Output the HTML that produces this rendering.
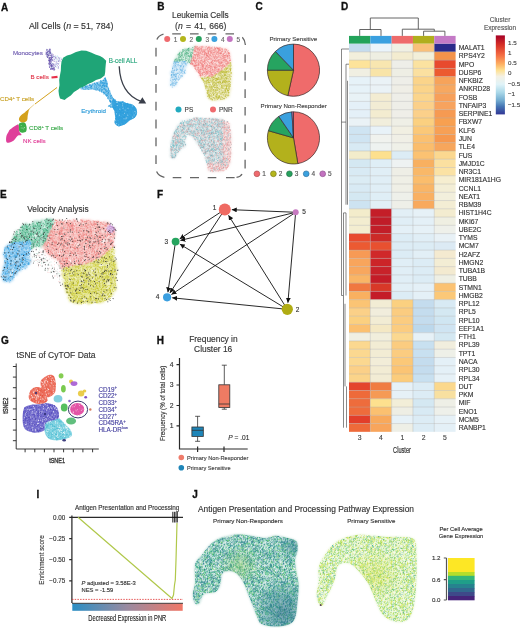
<!DOCTYPE html>
<html><head><meta charset="utf-8"><style>
html,body{margin:0;padding:0;background:#fff;width:520px;height:628px;overflow:hidden;}
svg{display:block;will-change:transform;}
text{font-family:"Liberation Sans", sans-serif;}
</style></head><body>
<svg width="520" height="628" viewBox="0 0 520 628" font-family='"Liberation Sans", sans-serif'>
<rect width="520" height="628" fill="#fff"/>
<defs><filter id="bl1" x="-10%" y="-10%" width="120%" height="120%"><feGaussianBlur stdDeviation="0.8"/></filter><filter id="bl2" x="-10%" y="-10%" width="120%" height="120%"><feGaussianBlur stdDeviation="0.5"/></filter></defs>
<text x="1" y="10.5" font-size="10" fill="#111" text-anchor="start" font-weight="bold" font-style="normal" stroke="#111" stroke-width="0.3">A</text>
<text x="157.3" y="10.2" font-size="10" fill="#111" text-anchor="start" font-weight="bold" font-style="normal" stroke="#111" stroke-width="0.3">B</text>
<text x="255.4" y="10.4" font-size="10" fill="#111" text-anchor="start" font-weight="bold" font-style="normal" stroke="#111" stroke-width="0.3">C</text>
<text x="341" y="10.2" font-size="10" fill="#111" text-anchor="start" font-weight="bold" font-style="normal" stroke="#111" stroke-width="0.3">D</text>
<text x="0" y="197.5" font-size="10" fill="#111" text-anchor="start" font-weight="bold" font-style="normal" stroke="#111" stroke-width="0.3">E</text>
<text x="157" y="198" font-size="10" fill="#111" text-anchor="start" font-weight="bold" font-style="normal" stroke="#111" stroke-width="0.3">F</text>
<text x="1" y="343.7" font-size="10" fill="#111" text-anchor="start" font-weight="bold" font-style="normal" stroke="#111" stroke-width="0.3">G</text>
<text x="156.7" y="343.5" font-size="10" fill="#111" text-anchor="start" font-weight="bold" font-style="normal" stroke="#111" stroke-width="0.3">H</text>
<text x="36.5" y="497.5" font-size="10" fill="#111" text-anchor="start" font-weight="bold" font-style="normal" stroke="#111" stroke-width="0.3">I</text>
<text x="192.2" y="498" font-size="10" fill="#111" text-anchor="start" font-weight="bold" font-style="normal" stroke="#111" stroke-width="0.3">J</text>
<text x="29" y="28.8" font-size="8.8" fill="#333" text-anchor="start" font-weight="normal" font-style="normal"  stroke="#333" stroke-width="0.14">All Cells (<tspan font-style="italic">n</tspan> = 51, 784)</text>
<path d="M52.8 65.3h0M58.7 61.5h0M49.3 57.8h0M54.0 68.5h0M58.6 57.7h0M53.9 70.1h0M54.5 67.4h0M54.6 69.6h0M48.8 55.0h0M48.4 60.1h0M55.6 66.5h0M49.4 57.3h0M52.5 54.1h0M56.7 58.1h0M58.9 60.9h0M49.6 64.5h0M47.5 49.5h0M48.2 51.3h0M60.1 61.0h0M53.2 54.7h0M53.3 56.4h0M51.6 58.9h0M57.8 63.7h0M50.6 60.4h0M52.9 60.4h0M50.8 63.6h0M50.2 62.8h0M54.1 56.9h0M55.5 57.5h0M51.9 60.9h0M54.3 61.3h0M59.2 58.4h0M54.6 59.3h0M54.3 56.5h0M50.7 60.2h0M50.1 62.0h0M52.3 68.9h0M51.6 65.1h0M51.0 68.9h0" stroke="#7a62b8" stroke-width="0.9" stroke-linecap="round" stroke-opacity="0.8" fill="none"/>
<path d="M53.7 68.2h0M54.3 65.3h0M49.3 58.7h0M55.9 64.4h0M61.5 59.6h0M50.7 61.5h0M51.8 64.6h0M61.1 59.1h0M53.9 59.2h0M54.5 65.8h0M58.6 66.5h0M53.1 65.1h0M56.4 62.8h0M53.1 55.7h0M47.6 55.4h0M56.0 63.8h0M49.4 62.8h0M57.1 59.7h0M53.7 69.1h0M50.6 59.5h0M55.7 57.4h0M46.1 53.0h0M58.4 64.3h0M55.7 65.7h0M54.9 69.5h0M59.4 58.1h0M58.8 60.5h0M54.7 64.2h0M55.4 58.5h0M50.9 61.8h0M49.8 50.4h0M51.3 53.6h0M49.3 66.3h0M54.1 68.7h0M57.3 63.2h0M58.3 63.5h0M52.2 56.0h0M53.6 66.0h0M47.8 54.3h0M58.1 67.9h0M57.4 65.7h0M56.8 64.3h0M49.7 67.2h0M52.2 68.5h0M55.9 61.9h0M49.0 55.4h0M58.2 61.1h0M53.9 61.1h0M59.2 59.8h0M56.7 61.3h0M58.3 57.3h0M59.2 59.2h0M46.9 50.1h0M52.1 57.4h0M58.5 67.6h0M58.3 68.2h0M50.7 50.9h0M55.7 56.1h0M47.3 57.4h0" stroke="#9a88d0" stroke-width="0.9" stroke-linecap="round" stroke-opacity="0.8" fill="none"/>
<path d="M53.8 58.4h0M54.7 56.2h0M60.7 57.7h0M47.7 55.9h0M59.4 59.7h0M59.5 59.1h0M51.7 67.9h0M52.3 56.1h0M51.5 68.5h0M52.0 67.4h0M49.5 52.5h0M48.7 50.6h0M49.8 51.0h0M57.1 63.5h0M56.7 66.2h0M54.8 67.2h0M49.0 50.8h0M51.3 53.3h0M47.4 56.9h0M51.3 67.9h0M54.4 65.4h0M47.9 52.2h0M49.2 65.2h0M46.4 53.8h0M48.5 53.9h0M47.6 53.3h0M58.3 68.1h0M46.5 52.7h0M51.2 60.5h0M46.9 50.2h0M51.1 59.8h0M47.8 53.1h0M50.9 68.4h0M58.8 60.6h0M56.9 61.3h0M52.2 57.4h0M48.7 55.5h0M57.3 56.0h0M56.2 56.7h0M50.6 55.2h0M51.8 64.0h0M49.8 53.4h0M52.0 67.1h0M59.4 63.0h0M49.1 54.8h0M50.6 63.4h0M52.8 63.4h0M57.4 56.3h0M52.2 65.7h0M56.0 64.4h0M55.5 59.9h0M57.1 58.4h0M51.2 62.2h0M59.4 65.4h0M58.7 57.6h0M52.3 63.7h0M54.2 56.7h0M50.6 64.7h0M56.4 67.3h0M61.5 58.3h0M47.7 53.1h0M56.8 59.4h0" stroke="#b8e0f0" stroke-width="0.9" stroke-linecap="round" stroke-opacity="0.8" fill="none"/>
<path d="M49.7 67.3h0M51.2 66.0h0M52.8 63.8h0M51.4 62.1h0M51.2 66.8h0M46.3 52.8h0M47.8 55.0h0M49.3 60.7h0M51.9 55.5h0M48.7 55.4h0M46.8 54.0h0M50.0 63.5h0M48.6 55.1h0M47.4 52.0h0M51.1 54.7h0M49.3 54.1h0M48.5 51.6h0M51.5 56.9h0M51.5 59.2h0M51.5 58.3h0M48.6 63.2h0M51.3 66.2h0M50.8 55.5h0M47.0 56.3h0M49.7 50.2h0M47.8 51.7h0M51.3 56.7h0M49.9 52.5h0M52.3 60.3h0M53.1 63.9h0M49.7 62.3h0M52.7 68.8h0M50.8 63.7h0M49.0 60.4h0M46.8 50.6h0M51.1 68.9h0M46.1 52.0h0M50.4 53.4h0M52.2 66.4h0M48.5 55.5h0M50.5 64.0h0M49.3 63.6h0M47.1 52.6h0M49.5 61.8h0M52.2 57.5h0M51.8 65.4h0M49.3 64.4h0M50.2 59.5h0M49.3 49.7h0M51.3 66.3h0M50.5 63.2h0M51.5 65.0h0M45.9 54.0h0M49.5 59.1h0M52.8 68.5h0" stroke="#6a50b0" stroke-width="0.9" stroke-linecap="round" stroke-opacity="0.85" fill="none"/>
<path d="M49.7 60.9h0M50.9 57.3h0M51.0 65.6h0M51.5 58.6h0M52.4 57.4h0M52.4 57.8h0M50.0 61.2h0M50.9 68.8h0M53.4 64.5h0M47.5 52.3h0M51.9 69.4h0M51.6 54.8h0M49.7 49.1h0M47.3 54.6h0M51.1 65.2h0M52.7 69.3h0M54.2 69.0h0M53.6 67.3h0M50.1 49.4h0M50.5 65.4h0M51.7 68.7h0M49.9 51.4h0M53.5 69.1h0M50.3 51.0h0M51.7 55.7h0M50.4 58.2h0M48.0 50.7h0M53.0 66.2h0M51.1 68.4h0M47.3 52.1h0M49.8 65.3h0M49.2 57.9h0M47.5 57.5h0M53.3 68.5h0M52.2 65.6h0M48.4 53.3h0M50.7 60.3h0M48.0 54.6h0M50.9 58.0h0M48.5 60.2h0M51.4 60.9h0" stroke="#7c64bc" stroke-width="0.9" stroke-linecap="round" stroke-opacity="0.85" fill="none"/>
<path d="M49.6 51.7h0M49.6 67.0h0M50.2 49.3h0M49.2 50.2h0M49.6 52.8h0M47.6 54.5h0M47.6 57.2h0M46.4 53.2h0M49.0 58.5h0M54.0 67.9h0M49.2 57.8h0M50.0 60.0h0M49.9 62.9h0M47.3 56.7h0M51.3 59.2h0M52.1 68.3h0M49.7 58.7h0M49.9 53.6h0M49.0 51.7h0M52.9 57.0h0M50.0 55.5h0M50.4 69.3h0M49.0 61.1h0M54.2 70.0h0M52.0 67.0h0M49.6 60.8h0M50.6 52.2h0M48.5 56.9h0M50.7 53.0h0M50.2 57.4h0M50.1 61.4h0M51.2 64.3h0M51.2 66.7h0M47.2 53.1h0M48.9 64.0h0M52.3 59.6h0M46.7 49.4h0M50.7 52.8h0M46.9 55.8h0M46.2 54.6h0M51.8 65.3h0M50.5 59.7h0M49.4 60.1h0M51.2 57.6h0" stroke="#5a4aa0" stroke-width="0.9" stroke-linecap="round" stroke-opacity="0.85" fill="none"/>
<path d="M80.0,88.5 C80.8,87.6 86.1,85.8 89.2,84.6 C92.3,83.4 96.1,82.4 98.5,81.5 C100.9,80.6 102.6,80.0 103.8,79.2 C105.0,78.4 104.9,76.5 105.4,76.9 C105.9,77.3 106.4,79.7 106.9,81.5 C107.4,83.3 107.8,85.8 108.5,87.7 C109.2,89.6 110.0,91.3 110.8,93.0 C111.5,94.7 112.0,96.3 113.0,97.7 C114.0,99.1 115.3,100.9 117.0,101.5 C118.7,102.1 121.5,101.2 123.0,101.5 C124.5,101.8 124.5,102.5 126.0,103.0 C127.5,103.5 130.6,103.7 132.3,104.6 C134.0,105.5 135.4,107.0 136.2,108.5 C137.0,110.0 137.3,112.3 137.0,113.8 C136.7,115.3 135.9,116.5 134.6,117.7 C133.3,118.9 130.9,119.7 129.2,120.8 C127.5,121.9 126.4,123.7 124.6,124.6 C122.8,125.5 120.2,126.5 118.5,126.2 C116.8,125.9 115.1,124.4 114.6,123.0 C114.1,121.6 115.4,119.6 115.4,117.7 C115.4,115.8 115.1,113.2 114.6,111.5 C114.1,109.8 113.4,108.6 112.3,107.7 C111.2,106.8 108.0,106.9 107.7,106.2 C107.5,105.5 111.0,105.5 110.8,103.8 C110.5,102.1 108.0,98.2 106.2,96.2 C104.4,94.2 102.3,92.7 100.0,91.5 C97.7,90.3 94.9,89.5 92.3,89.2 C89.7,89.0 86.6,90.1 84.6,90.0 C82.5,89.9 79.2,89.4 80.0,88.5Z" fill="#2b9ddc" fill-opacity="0.45" />
<path d="M105.4 90.1h0M89.4 85.6h0M133.2 107.6h0M132.2 114.1h0M115.1 113.5h0M119.2 118.2h0M109.2 105.5h0M127.9 110.1h0M130.7 107.1h0M102.5 82.9h0M115.2 100.1h0M121.5 105.3h0M124.6 105.2h0M120.7 121.9h0M123.4 118.9h0M126.5 114.7h0M127.5 112.4h0M106.5 91.4h0M128.5 104.7h0M124.9 119.1h0M95.6 84.7h0M105.1 81.2h0M116.9 107.0h0M118.5 102.1h0M132.3 114.5h0M106.4 91.3h0M116.3 113.1h0M115.1 109.4h0M128.4 119.1h0M101.7 87.5h0M91.8 88.8h0M115.1 108.8h0M104.4 88.7h0M88.3 89.3h0M122.6 122.5h0M100.5 82.6h0M112.5 100.2h0M106.4 86.7h0M86.2 86.3h0M134.6 113.0h0M122.5 116.6h0M129.9 109.8h0M92.9 83.8h0M133.1 117.9h0M119.3 118.0h0M126.7 118.7h0M89.0 87.7h0M122.0 110.4h0M125.1 121.1h0M120.8 103.7h0M127.0 107.7h0M119.4 120.1h0M116.1 105.0h0M132.6 108.2h0M107.3 84.4h0M106.8 92.9h0M121.6 117.7h0M125.0 123.1h0M113.8 107.8h0M122.9 113.6h0M123.2 119.5h0M98.5 87.7h0M129.7 112.1h0M111.5 104.2h0M130.2 117.6h0M130.2 105.6h0M108.4 94.1h0M109.9 101.1h0M114.2 105.4h0M128.5 120.0h0M111.4 107.2h0M122.7 113.3h0M122.6 106.8h0M101.6 83.7h0M120.3 117.1h0M110.2 93.5h0M123.8 122.2h0M86.8 87.3h0M124.9 109.6h0M122.2 108.3h0M97.1 83.9h0M90.7 87.5h0M109.9 91.0h0M115.4 100.1h0M116.8 103.3h0M104.1 82.8h0M124.6 120.8h0M120.1 106.1h0M115.0 112.6h0M119.9 114.5h0M118.0 105.7h0M120.0 122.9h0M91.6 86.1h0M102.2 87.1h0M110.6 100.9h0M85.4 89.1h0M127.5 103.4h0M125.1 118.6h0M123.6 113.6h0M129.4 107.3h0M118.9 119.2h0M118.3 108.3h0M108.2 88.1h0M99.0 85.2h0M107.7 87.0h0M132.9 109.8h0M118.0 125.6h0M104.1 82.6h0M118.7 112.1h0M133.5 108.2h0M115.3 114.8h0M108.0 97.9h0M96.8 85.7h0M122.3 110.7h0M129.8 118.9h0M102.0 87.2h0M126.2 121.0h0M105.4 83.3h0M116.5 115.7h0M120.1 103.3h0M105.4 89.1h0M131.4 112.7h0M120.1 102.6h0M101.8 92.0h0M120.5 113.6h0M103.5 85.8h0M122.4 115.6h0M116.4 116.6h0M124.7 107.6h0M116.4 103.6h0M127.8 106.6h0M123.1 112.3h0M121.2 112.1h0M101.1 88.9h0M100.6 85.2h0M122.7 105.7h0M115.9 110.6h0M128.1 119.5h0M128.3 104.2h0M105.6 82.3h0M120.2 111.8h0M134.2 107.2h0M121.0 117.6h0M85.7 86.7h0M107.3 95.3h0M132.6 106.6h0M102.9 83.1h0M117.4 119.7h0M115.4 107.4h0M107.4 91.6h0M130.0 113.0h0M129.3 107.2h0M104.0 83.8h0M133.1 111.2h0M116.6 122.5h0M131.2 115.8h0M99.6 86.9h0M123.4 123.7h0M112.8 107.1h0M124.3 105.1h0M111.2 98.2h0M130.0 108.8h0M128.4 104.7h0M99.7 91.2h0M120.2 103.3h0M123.3 112.6h0M128.8 115.3h0M108.6 92.9h0M107.5 95.8h0M121.4 115.0h0M100.2 83.5h0M101.6 81.5h0M104.5 83.6h0M116.9 103.9h0M104.1 79.1h0M97.3 84.1h0M119.7 107.6h0M121.0 120.8h0M94.5 83.4h0M94.7 86.1h0M104.7 83.5h0M135.9 109.1h0M120.0 114.8h0M125.4 103.4h0M126.9 112.3h0M116.7 113.0h0M118.7 108.1h0M96.7 86.5h0M124.1 117.1h0M112.2 101.5h0M130.3 110.2h0M97.5 83.0h0M105.6 78.4h0M116.9 110.8h0M104.3 93.2h0M117.1 117.8h0M125.8 122.3h0M133.3 115.4h0M106.2 91.8h0M117.7 117.8h0M123.5 103.9h0M102.4 85.6h0M118.4 106.9h0M121.3 103.0h0M116.4 109.3h0M106.2 90.0h0M108.4 96.7h0M85.5 86.7h0M115.1 100.9h0M113.5 98.8h0M82.5 88.0h0M127.5 112.0h0M123.0 101.9h0M132.1 115.7h0M105.2 83.2h0M106.3 95.3h0M130.2 104.2h0M128.5 107.9h0M101.1 86.4h0M129.3 107.5h0M121.0 112.0h0M109.0 106.3h0M126.1 112.7h0M127.2 106.4h0M102.8 82.8h0M119.3 123.0h0M130.3 104.9h0M111.9 103.3h0M132.6 116.9h0M122.7 105.2h0M106.4 86.2h0M127.4 104.4h0M104.9 93.3h0M126.9 105.3h0M134.6 115.3h0M116.2 117.1h0M127.5 119.3h0M92.8 88.1h0M91.5 86.8h0M115.5 108.1h0M115.2 103.7h0M119.8 115.8h0M102.9 84.7h0M124.8 115.3h0M120.4 125.0h0M131.6 113.3h0M103.9 86.9h0M90.1 85.2h0M131.7 118.1h0M102.0 87.3h0M134.3 107.4h0M113.0 98.4h0M110.0 101.7h0M100.6 82.1h0M121.0 111.3h0M122.9 110.5h0M104.8 86.1h0M111.6 96.3h0M103.8 91.4h0M108.5 92.5h0M108.5 89.8h0M104.7 93.2h0M123.3 116.9h0M104.4 86.0h0M132.8 106.6h0M129.3 118.1h0M123.9 120.4h0M122.6 102.3h0M107.5 93.5h0M130.3 116.7h0M122.9 101.5h0M99.9 85.4h0M103.1 82.1h0M120.3 111.6h0M135.9 112.7h0M106.7 95.7h0M91.1 86.6h0M108.0 95.0h0M120.7 111.9h0M127.6 116.4h0M103.3 85.5h0M115.7 120.8h0M128.3 113.7h0M109.0 91.1h0M131.3 111.4h0M122.1 104.6h0" stroke="#2b9ddc" stroke-width="1.0" stroke-linecap="round" stroke-opacity="0.75" fill="none"/>
<path d="M125.4 113.1h0M110.2 101.1h0M119.4 122.9h0M96.9 88.3h0M135.4 114.4h0M123.3 123.2h0M125.4 109.1h0M106.1 85.1h0M102.5 85.5h0M135.3 115.5h0M105.3 90.3h0M115.1 107.8h0M101.5 91.6h0M107.9 90.7h0M112.4 97.2h0M122.6 120.9h0M124.0 111.1h0M115.1 105.5h0M132.1 108.7h0M116.7 104.6h0M134.0 108.2h0M110.8 107.0h0M127.1 110.1h0M106.8 86.2h0M122.3 118.0h0M120.7 124.7h0M118.2 109.8h0M114.1 100.8h0M84.9 87.4h0M130.7 112.0h0M132.8 109.1h0M86.1 88.3h0M100.1 88.8h0M116.8 114.6h0M104.7 86.4h0M95.3 90.0h0M112.1 101.5h0M110.0 105.2h0M110.7 104.7h0M110.8 102.7h0M104.9 78.4h0M108.6 89.5h0M134.6 108.7h0M117.2 114.3h0M124.1 110.8h0M91.4 88.8h0M104.9 89.1h0M118.1 121.5h0M124.6 116.9h0M87.1 86.1h0M121.1 110.4h0M117.5 115.3h0M120.1 117.6h0M101.4 90.2h0M91.3 86.7h0M103.5 80.4h0M104.3 88.6h0M121.5 121.8h0M126.2 121.9h0M119.1 109.5h0M133.9 107.2h0M114.8 105.6h0M102.8 89.4h0M106.0 80.9h0M89.0 89.4h0M99.6 89.8h0M125.4 115.2h0M113.5 107.8h0M110.4 96.5h0M131.7 110.9h0M124.6 117.4h0M109.4 100.3h0M113.3 99.8h0M131.7 105.9h0M106.4 83.7h0M121.7 120.0h0M103.5 84.8h0M102.4 85.8h0M120.9 108.3h0M134.8 109.7h0M103.5 92.5h0M109.0 106.0h0M121.8 104.4h0M119.9 115.4h0M115.1 106.6h0M106.3 90.0h0M132.6 114.8h0M125.5 105.3h0M112.9 104.0h0M121.8 108.9h0M115.7 102.9h0M122.3 110.1h0M129.9 109.9h0M108.9 93.2h0M130.9 118.6h0M131.0 107.5h0M126.7 107.7h0M100.9 81.1h0M105.6 80.5h0M108.7 88.4h0M126.4 116.0h0M118.7 112.9h0M104.6 78.3h0M99.1 90.2h0M122.6 107.3h0M119.2 118.9h0M113.7 99.5h0M129.6 119.1h0M107.4 95.2h0M115.3 111.1h0M134.9 116.2h0M117.5 125.0h0M102.7 82.8h0M104.1 80.3h0M126.3 119.3h0M97.7 83.3h0M135.5 111.5h0M121.5 108.1h0M100.4 80.7h0M120.6 114.7h0M121.3 120.5h0M127.0 106.8h0M114.3 109.7h0M103.6 88.8h0M120.4 103.4h0M125.1 104.9h0M115.8 115.9h0M106.6 83.3h0M124.0 117.1h0M118.0 123.7h0M124.3 112.6h0M119.0 125.9h0M95.6 84.2h0M127.0 103.8h0M92.9 84.8h0M136.3 113.4h0M90.6 88.9h0M97.0 83.4h0M118.4 119.4h0M122.5 124.4h0M94.8 89.4h0M108.2 91.9h0M98.4 84.8h0M100.7 85.9h0M117.6 104.1h0M119.6 110.7h0M105.7 79.8h0M112.7 107.0h0M114.8 101.7h0M122.0 112.7h0M94.7 83.4h0M109.0 98.0h0M117.3 122.1h0M104.1 84.1h0M123.3 118.1h0M117.4 115.9h0M116.9 117.9h0M105.7 79.6h0M96.4 87.6h0M125.1 120.2h0M125.8 119.2h0M130.8 116.3h0M124.0 112.8h0M119.7 120.7h0M125.9 106.4h0M111.7 95.4h0M135.6 110.1h0M117.9 108.5h0M113.3 100.7h0M96.8 90.3h0M106.4 94.8h0M116.3 112.4h0M115.6 118.7h0M82.5 87.6h0M119.7 102.7h0M121.4 113.4h0M105.8 81.2h0M122.7 118.8h0M128.4 111.9h0M117.5 121.7h0M123.7 117.2h0M120.0 125.4h0M121.4 104.2h0M91.3 86.1h0M124.3 114.2h0M116.3 104.4h0M119.5 110.5h0M125.1 119.8h0M116.0 118.2h0M101.3 82.6h0M121.7 106.3h0M127.4 109.5h0M117.3 122.4h0M112.1 106.1h0M120.3 112.5h0M122.7 120.2h0M126.4 120.2h0M110.7 101.8h0M120.1 102.9h0M119.0 112.1h0M90.1 85.0h0M116.0 113.1h0M128.7 110.5h0M90.7 85.8h0M118.6 123.8h0M122.9 121.9h0M118.9 125.6h0M114.7 107.7h0M97.6 88.7h0M106.4 85.0h0M117.6 117.0h0M124.1 118.5h0M119.9 112.5h0M117.6 124.3h0M133.6 109.0h0M133.1 109.8h0M97.7 89.3h0M94.6 87.8h0M127.4 112.5h0M116.6 119.5h0M115.4 114.7h0M118.0 101.7h0M124.8 120.8h0M129.5 115.7h0M107.4 83.7h0M103.6 80.5h0M122.6 108.0h0M104.5 88.8h0M121.5 110.7h0M105.7 94.3h0M99.9 90.7h0M113.8 99.5h0M119.1 109.8h0M106.0 95.2h0M116.3 105.8h0M83.2 88.0h0M119.6 121.9h0M127.1 110.4h0M127.5 104.9h0M121.9 122.4h0M110.5 106.8h0M123.3 116.6h0M123.4 104.9h0M110.9 101.8h0M127.5 106.2h0M81.9 87.7h0M103.8 94.0h0M85.6 86.3h0M91.6 86.0h0M93.2 89.3h0M103.2 83.7h0M110.8 98.3h0M108.1 92.8h0M113.9 99.2h0M131.1 113.5h0M105.4 79.1h0M124.4 109.0h0M104.8 86.9h0M134.5 114.4h0M99.0 85.8h0M88.9 87.6h0M110.6 100.9h0M127.4 106.6h0M102.1 90.0h0M124.6 106.1h0M107.5 98.2h0M109.2 94.9h0M130.0 116.6h0M104.9 85.9h0M124.6 107.3h0M123.4 120.2h0M120.7 118.9h0M95.2 89.2h0M124.9 116.3h0M116.8 106.4h0M104.8 85.4h0M119.1 117.1h0M110.6 101.4h0M128.4 114.6h0M125.8 116.1h0M119.0 114.3h0M106.0 86.8h0M124.7 108.4h0M89.3 85.3h0M125.5 104.1h0M103.7 92.4h0M90.9 87.5h0M94.3 83.2h0M119.0 110.0h0M113.3 106.8h0M115.3 120.6h0M125.0 114.1h0M101.9 90.0h0M128.6 117.1h0M111.0 95.3h0M124.4 112.3h0M123.1 108.5h0M116.4 112.4h0" stroke="#1a90d8" stroke-width="1.0" stroke-linecap="round" stroke-opacity="0.75" fill="none"/>
<path d="M127.6 113.2h0M116.4 116.5h0M134.6 111.7h0M112.0 101.9h0M116.2 102.0h0M115.6 116.4h0M110.5 95.6h0M110.0 100.4h0M125.8 122.9h0M114.0 103.9h0M118.7 122.2h0M96.9 88.3h0M98.7 89.2h0M103.0 87.6h0M113.1 101.0h0M104.8 89.4h0M127.7 109.4h0M99.1 90.1h0M121.0 106.2h0M119.3 123.7h0M120.2 108.1h0M130.1 113.0h0M102.2 90.9h0M94.0 88.7h0M114.1 105.9h0M115.5 119.2h0M120.1 111.4h0M126.7 118.8h0M110.7 96.2h0M129.8 106.1h0M130.5 106.6h0M124.6 105.5h0M116.6 103.6h0M133.9 106.4h0M135.7 108.3h0M95.4 87.7h0M134.3 117.4h0M100.6 82.3h0M131.2 113.7h0M115.1 114.7h0M122.1 121.9h0M99.9 84.1h0M110.0 100.6h0M129.9 108.4h0M129.2 105.9h0M123.7 113.4h0M90.3 86.7h0M121.9 122.1h0M123.9 121.8h0M124.2 110.3h0M122.0 108.1h0M117.7 107.5h0M87.4 88.6h0M106.2 81.3h0M116.8 124.2h0M108.6 89.2h0M128.3 114.8h0M117.9 110.0h0M92.4 84.9h0M130.6 117.0h0M91.4 88.1h0M121.4 109.8h0M103.9 88.7h0M103.8 89.0h0M83.8 89.2h0M112.3 102.5h0M124.7 105.0h0M119.7 120.7h0M134.0 110.9h0M117.3 114.4h0M130.1 106.3h0M127.5 121.3h0M125.7 110.3h0M120.2 117.1h0M123.0 101.7h0M127.6 107.1h0M121.3 104.3h0M122.2 122.0h0M103.5 84.2h0M121.7 114.3h0M106.4 80.4h0M105.5 92.1h0M116.7 118.5h0M126.9 106.1h0M106.1 85.1h0M136.0 111.6h0M131.6 117.3h0M107.2 85.9h0M126.7 103.9h0M121.3 118.5h0M122.6 108.4h0M109.0 99.0h0M96.3 85.2h0M123.4 111.6h0M124.3 120.0h0M125.0 111.8h0M115.6 110.0h0M118.4 118.3h0M96.0 85.5h0M117.0 102.4h0M135.9 112.1h0M131.7 105.3h0M116.4 101.4h0M117.2 117.0h0M129.3 104.5h0M118.4 118.4h0M121.8 115.7h0M106.9 81.9h0M128.5 106.2h0M97.0 85.3h0M112.5 101.9h0M116.6 107.6h0M126.4 113.8h0M121.8 112.8h0M109.1 96.2h0M105.0 80.8h0M123.2 105.9h0M119.0 122.0h0M129.6 119.2h0M114.7 102.1h0M108.1 97.3h0M113.4 109.0h0M90.1 87.6h0M89.7 84.5h0M119.6 105.2h0M135.1 112.5h0M132.2 108.5h0M114.8 100.0h0M115.7 122.1h0M131.5 107.5h0M128.4 112.4h0M99.8 84.9h0M106.8 91.0h0M110.0 92.2h0M132.1 112.8h0M131.4 106.9h0M110.6 98.5h0M107.8 90.5h0M105.4 78.2h0M134.4 117.5h0M99.2 84.9h0M125.4 115.2h0M124.5 118.8h0M123.4 101.7h0M125.3 103.9h0M115.2 101.4h0M122.5 124.4h0M120.7 102.3h0M132.0 107.4h0M121.2 119.7h0M114.3 102.0h0M101.2 83.4h0M119.9 107.4h0M123.2 116.7h0M118.3 125.0h0M97.9 86.6h0M131.2 110.2h0M121.1 120.1h0M101.6 90.1h0M87.3 86.4h0M84.1 89.5h0M114.2 108.3h0M132.5 113.0h0M109.5 90.9h0M96.4 89.6h0M103.0 82.3h0M94.4 85.1h0M86.5 86.2h0M128.7 114.0h0M121.6 102.9h0M117.2 113.6h0M104.4 92.5h0M122.6 123.2h0M110.5 96.3h0M116.2 110.6h0M122.2 109.5h0M120.5 123.7h0M105.0 85.3h0M86.1 87.0h0M125.6 114.8h0M120.5 121.5h0M127.7 109.9h0M123.6 105.5h0M124.7 104.0h0M121.1 112.6h0M111.7 97.9h0M104.9 92.1h0M100.3 84.2h0M118.4 117.4h0M124.3 106.2h0M114.0 101.6h0M127.6 104.1h0M105.1 92.3h0M91.8 85.5h0M110.4 98.2h0M94.3 86.5h0M115.7 104.5h0M101.2 89.0h0M118.1 113.4h0M116.6 113.2h0M132.7 109.1h0M118.9 106.3h0M124.0 124.4h0M131.7 114.5h0M102.0 85.9h0M119.4 109.3h0M97.4 88.7h0M134.7 113.6h0M118.6 124.5h0M95.2 86.8h0M101.2 89.5h0M127.8 107.3h0M106.5 96.3h0M99.9 88.7h0M125.4 118.8h0M131.3 111.0h0M118.8 104.4h0M134.1 106.9h0M123.1 109.2h0M129.9 118.7h0M102.9 80.4h0M114.8 101.7h0M117.3 115.3h0M112.6 97.8h0M110.8 98.9h0M136.5 113.7h0M101.0 86.9h0M107.4 95.0h0M121.9 122.4h0M104.3 86.8h0M104.5 88.9h0M133.8 109.3h0M133.4 114.5h0M120.7 114.4h0M130.9 113.9h0M104.4 82.2h0M117.6 118.5h0M101.4 82.6h0M134.3 114.8h0M87.9 86.8h0M98.5 84.5h0M106.8 82.6h0M118.9 101.7h0M107.2 83.4h0M120.6 105.2h0M110.0 100.7h0M113.2 100.0h0M115.9 121.1h0M105.4 85.6h0M125.8 104.2h0M86.1 87.6h0M130.9 110.5h0M107.0 82.0h0M120.1 115.6h0M112.1 98.3h0M95.5 88.9h0M123.9 116.1h0M120.2 109.6h0M111.6 102.2h0M111.1 97.5h0M94.5 84.9h0M96.5 82.6h0M119.4 121.9h0M87.5 88.7h0M130.8 117.1h0M108.1 98.8h0M104.7 83.3h0M103.1 83.5h0M104.3 92.6h0M126.2 108.2h0M118.5 106.4h0M108.8 90.1h0M106.2 94.1h0M101.1 81.1h0M110.2 97.6h0M127.8 121.8h0M114.7 104.7h0M126.0 119.7h0M110.6 107.1h0M130.0 111.9h0M85.5 87.8h0M133.8 110.7h0M116.5 113.1h0M117.0 110.6h0M87.9 87.9h0M127.0 120.2h0M122.0 102.3h0M121.2 118.5h0M122.8 112.4h0M97.7 84.8h0M119.1 121.1h0M94.3 83.4h0M117.2 108.5h0M118.1 114.4h0M122.7 124.4h0M117.8 112.6h0M113.9 108.2h0M97.8 84.1h0M134.3 110.9h0M110.5 94.9h0M128.8 107.0h0M132.1 118.0h0M132.8 113.6h0M114.9 107.3h0M117.3 113.6h0M92.7 85.7h0M125.8 103.5h0M106.2 84.5h0M105.8 92.0h0M102.1 86.0h0M133.1 109.0h0M112.4 106.3h0M121.1 113.1h0M99.3 85.9h0M82.6 88.7h0M108.6 90.5h0" stroke="#4aaee4" stroke-width="1.0" stroke-linecap="round" stroke-opacity="0.75" fill="none"/>
<path d="M113.0,99.0 C113.8,98.2 115.3,101.1 117.0,101.5 C118.7,101.9 121.5,101.2 123.0,101.5 C124.5,101.8 124.5,102.5 126.0,103.0 C127.5,103.5 130.6,103.7 132.3,104.6 C134.0,105.5 135.4,107.0 136.2,108.5 C137.0,110.0 137.3,112.3 137.0,113.8 C136.7,115.3 135.9,116.5 134.6,117.7 C133.3,118.9 130.9,119.7 129.2,120.8 C127.5,121.9 126.4,123.7 124.6,124.6 C122.8,125.5 120.2,126.5 118.5,126.2 C116.8,125.9 115.1,124.4 114.6,123.0 C114.1,121.6 115.4,119.6 115.4,117.7 C115.4,115.8 115.1,113.5 114.6,111.5 C114.1,109.5 112.6,108.1 112.3,106.0 C112.0,103.9 112.2,99.8 113.0,99.0Z" fill="#2b9ddc" fill-opacity="0.85" />
<path d="M116.9 102.3h0M125.9 118.9h0M134.1 115.0h0M122.7 103.9h0M126.3 118.0h0M118.7 125.0h0M135.9 113.0h0M132.7 117.2h0M123.0 108.3h0M122.7 105.8h0M125.1 110.1h0M119.9 109.2h0M119.6 115.2h0M123.3 101.7h0M117.2 105.5h0M116.5 113.9h0M116.7 123.7h0M115.6 120.2h0M117.1 102.3h0M135.0 111.5h0M124.6 113.3h0M124.0 118.8h0M132.3 106.0h0M128.0 108.3h0M127.8 115.2h0" stroke="#ffffff" stroke-width="1.0" stroke-linecap="round" stroke-opacity="0.6" fill="none"/>
<path d="M63.1,57.7 L67.0,55.5 L70.8,54.6 L76.0,52.0 L81.5,50.5 L86.2,50.8 L91.0,52.5 L95.4,54.6 L100.0,56.0 L103.0,57.7 L106.2,60.8 L105.8,64.0 L105.4,68.5 L105.2,72.0 L104.6,75.4 L100.8,78.5 L96.0,80.0 L92.3,82.3 L88.0,84.0 L84.6,86.2 L80.0,88.0 L78.5,89.2 L74.0,92.0 L70.8,95.4 L67.0,98.0 L64.6,100.0 L60.0,98.5 L59.0,95.0 L58.5,90.8 L59.5,85.0 L59.2,80.0 L60.0,75.0 L60.8,70.8 L61.0,66.0 L61.5,61.5Z" fill="#1fa577" fill-opacity="1.0" />
<line x1="51.5" y1="77.5" x2="57.5" y2="76.9" stroke="#e8304a" stroke-width="2.2"/>
<path d="M57,87.5 L45,96.5 L35,104" stroke="#d4a11c" stroke-width="1.0" fill="none"/>
<path d="M35.0,103.5 L33.8,105.0 L30.0,108.5 L27.7,112.0 L25.4,112.0Z" fill="#d4a11c" fill-opacity="1.0" />
<path d="M25.4,112.0 C26.8,111.0 28.1,109.9 28.5,110.5 C28.9,111.1 27.9,114.1 27.7,115.8 C27.4,117.5 27.8,119.2 27.0,120.4 C26.2,121.6 24.3,122.7 23.0,122.7 C21.7,122.7 19.7,121.4 19.2,120.4 C18.7,119.4 19.0,117.9 20.0,116.5 C21.0,115.1 24.0,113.0 25.4,112.0Z" fill="#d4a11c" fill-opacity="1.0" />
<path d="M19.2,123.5 C20.2,122.6 23.4,122.2 24.6,122.7 C25.8,123.2 26.2,125.1 26.5,126.5 C26.8,127.9 26.8,130.2 26.2,131.2 C25.6,132.2 24.0,132.6 23.0,132.7 C22.0,132.8 20.8,132.8 20.0,132.0 C19.2,131.2 18.6,129.4 18.5,128.0 C18.4,126.6 18.2,124.4 19.2,123.5Z" fill="#3cae48" fill-opacity="1.0" />
<path d="M21.2 128.0h0M24.6 127.6h0M22.3 128.1h0M24.2 127.6h0M21.2 125.5h0M23.7 128.9h0" stroke="#ffffff" stroke-width="0.8" stroke-linecap="round" stroke-opacity="0.6" fill="none"/>
<path d="M10.0,129.6 C11.2,128.6 14.0,126.6 15.4,125.8 C16.8,125.0 17.9,124.1 18.5,125.0 C19.1,125.9 18.7,129.5 19.2,131.2 C19.7,132.9 21.8,134.2 21.5,135.0 C21.2,135.8 19.0,134.9 17.7,135.8 C16.4,136.7 15.3,139.2 13.8,140.4 C12.3,141.6 9.8,142.6 8.5,142.7 C7.2,142.8 6.5,142.3 6.2,141.2 C5.9,140.0 6.1,137.4 6.5,135.8 C6.9,134.2 7.9,132.9 8.5,131.9 C9.1,130.9 8.8,130.6 10.0,129.6Z" fill="#df3f9a" fill-opacity="1.0" />
<text x="12.9" y="54.8" font-size="6.2" fill="#6e5cb0" text-anchor="start" font-weight="normal" font-style="normal"  stroke="#6e5cb0" stroke-width="0.14">Monocytes</text>
<text x="30.5" y="79.2" font-size="6.2" fill="#e0364a" text-anchor="start" font-weight="normal" font-style="normal"  stroke="#e0364a" stroke-width="0.14">B cells</text>
<text x="108.8" y="63" font-size="6.3" fill="#24a47a" text-anchor="start" font-weight="normal" font-style="normal"  stroke="#24a47a" stroke-width="0.14">B-cell ALL</text>
<text x="0" y="101.1" font-size="6.2" fill="#c9a227" text-anchor="start" font-weight="normal" font-style="normal"  stroke="#c9a227" stroke-width="0.14">CD4<tspan font-size="4" dy="-2.6">+</tspan><tspan dy="2.6"> T cells</tspan></text>
<text x="29" y="130.3" font-size="6.2" fill="#3aaa4a" text-anchor="start" font-weight="normal" font-style="normal"  stroke="#3aaa4a" stroke-width="0.14">CD8<tspan font-size="4" dy="-2.6">+</tspan><tspan dy="2.6"> T cells</tspan></text>
<text x="23" y="142.5" font-size="6.2" fill="#e03c96" text-anchor="start" font-weight="normal" font-style="normal"  stroke="#e03c96" stroke-width="0.14">NK cells</text>
<text x="81.2" y="112.8" font-size="6.2" fill="#2a9ad8" text-anchor="start" font-weight="normal" font-style="normal"  stroke="#2a9ad8" stroke-width="0.14">Erythroid</text>
<path d="M119.2,66.3 Q120.5,94 141,101.3" stroke="#3a3f4a" stroke-width="1.3" fill="none"/>
<path d="M146.2,103.6 L138.4,103.6 L142.4,97.3 Z" fill="#3a3f4a"/>
<text x="200.4" y="17.7" font-size="8.3" fill="#333" text-anchor="middle" font-weight="normal" font-style="normal"  stroke="#333" stroke-width="0.14">Leukemia Cells</text>
<text x="200.8" y="28.8" font-size="8.6" fill="#333" text-anchor="middle" font-weight="normal" font-style="normal" word-spacing="0.8" stroke="#333" stroke-width="0.14">(<tspan font-style="italic">n</tspan> = 41, 666)</text>
<path d="M172.2,33.8 L180.8,33.8 M190,33.8 L198.6,33.8 M207.7,33.8 L216.3,33.8 M225.5,33.8 L234,33.8 M172.7,177.6 L181.3,177.6 M190,177.6 L199,177.6 M207.7,177.6 L216.3,177.6 M226,177.6 L234.6,177.6 M156,47.7 L156,56.5 M156,66 L156,74.8 M156,84 L156,92.8 M156,101.8 L156,110.6 M156,119.6 L156,128.4 M156,137.4 L156,146.20000000000002 M156,155.2 L156,164.0 M245.1,54.2 L245.1,62.800000000000004 M245.1,71.8 L245.1,80.39999999999999 M245.1,89.3 L245.1,97.89999999999999 M245.1,107 L245.1,115.6 M245.1,124.6 L245.1,133.2 M245.1,142.2 L245.1,150.79999999999998 M245.1,159.8 L245.1,168.4 M156.9,39.6 Q158.5,35.5 163.5,34.2 M242.3,37.3 Q245,40 245.4,45 M156.6,171.5 Q158.5,176 164.4,177.3 M236.5,177.4 Q240.5,177 242,174" stroke="#666" stroke-width="1.3" fill="none"/>
<circle cx="167.2" cy="39.1" r="3" fill="#ef6a6e"/>
<text x="173.79999999999998" y="41.6" font-size="6.5" fill="#666" text-anchor="start" font-weight="normal" font-style="normal"  stroke="#666" stroke-width="0.14">1</text>
<circle cx="183" cy="39.1" r="3" fill="#b4b61c"/>
<text x="189.6" y="41.6" font-size="6.5" fill="#666" text-anchor="start" font-weight="normal" font-style="normal"  stroke="#666" stroke-width="0.14">2</text>
<circle cx="198.8" cy="39.1" r="3" fill="#27a15e"/>
<text x="205.4" y="41.6" font-size="6.5" fill="#666" text-anchor="start" font-weight="normal" font-style="normal"  stroke="#666" stroke-width="0.14">3</text>
<circle cx="214.4" cy="39.1" r="3" fill="#3ba1de"/>
<text x="221.0" y="41.6" font-size="6.5" fill="#666" text-anchor="start" font-weight="normal" font-style="normal"  stroke="#666" stroke-width="0.14">4</text>
<circle cx="229.8" cy="39.1" r="3" fill="#c373c0"/>
<text x="236.4" y="41.6" font-size="6.5" fill="#666" text-anchor="start" font-weight="normal" font-style="normal"  stroke="#666" stroke-width="0.14">5</text>
<g filter="url(#bl1)">
<path d="M203.4 61.7h0M203.2 49.6h0M224.1 59.6h0M201.8 68.8h0M201.7 66.6h0M208.7 66.7h0M212.9 66.2h0M194.2 49.9h0M199.5 53.7h0M197.8 51.4h0M205.5 55.6h0M215.6 51.7h0M202.1 47.1h0M214.7 74.1h0M207.0 58.0h0M210.1 53.7h0M195.8 61.7h0M217.7 52.5h0M216.0 71.2h0M218.0 65.0h0M201.8 63.4h0M218.7 72.3h0M198.0 49.3h0M215.0 55.3h0M212.7 65.2h0M203.1 67.1h0M196.8 61.0h0M196.4 52.9h0M227.1 50.1h0M199.7 66.2h0M199.0 64.6h0M194.4 55.8h0M207.8 58.2h0M216.7 48.5h0M218.7 58.4h0M212.8 66.0h0M215.2 56.7h0M205.3 49.8h0M199.6 57.1h0M200.9 63.5h0M214.0 52.3h0M205.5 51.4h0M209.2 68.7h0M222.8 49.3h0M199.5 70.6h0M196.3 50.3h0M221.9 52.1h0M198.1 67.7h0M200.2 67.5h0M217.7 73.1h0M195.8 65.2h0M215.4 58.2h0M217.1 63.0h0M195.1 52.6h0M196.8 67.0h0M199.2 71.8h0M215.0 50.1h0M214.5 63.8h0M192.1 60.3h0M213.4 60.9h0M225.8 49.3h0M210.4 61.6h0M219.2 65.8h0M205.7 70.6h0M216.4 53.5h0M195.0 62.9h0M193.6 62.0h0M207.3 64.0h0M193.0 63.3h0M219.3 56.0h0M208.7 71.6h0M202.9 75.3h0M196.1 47.6h0M209.0 50.5h0M205.2 52.8h0M217.6 72.8h0M218.7 47.9h0M228.0 56.6h0M212.7 53.4h0M194.8 47.0h0M213.3 51.0h0M226.2 51.9h0M227.3 64.4h0M212.6 57.3h0M218.7 71.7h0M204.7 47.4h0M199.8 51.6h0M216.0 67.4h0M219.4 61.5h0M211.3 73.3h0M206.9 74.2h0M201.6 56.3h0M200.7 67.4h0M200.6 64.7h0M203.1 58.6h0M223.8 64.7h0M214.1 51.7h0M207.6 53.5h0M201.7 61.7h0M212.2 48.5h0M206.8 46.8h0M221.3 63.3h0M207.9 57.1h0M227.3 62.0h0M197.5 58.7h0M198.5 49.9h0M195.5 52.7h0M200.1 68.8h0M211.6 50.3h0M193.1 63.4h0M214.6 63.1h0M213.3 67.7h0M201.4 53.9h0M208.4 48.3h0M221.1 54.2h0M224.1 66.7h0M208.3 47.8h0M202.1 72.6h0M204.1 57.6h0M212.1 56.0h0M225.6 52.2h0M218.0 67.0h0M210.2 63.3h0M205.9 69.1h0M214.5 50.3h0M194.2 64.0h0M197.2 55.0h0M215.4 47.9h0M222.8 62.9h0M207.9 72.5h0M197.7 70.7h0M205.7 50.6h0M208.3 62.8h0M229.2 53.2h0M211.1 48.1h0M221.6 52.9h0M204.5 55.7h0M220.2 66.3h0M194.3 65.4h0M213.8 69.1h0M204.4 73.3h0M195.7 56.3h0M198.7 55.2h0M213.4 63.3h0M210.8 73.8h0M213.0 51.1h0M194.5 63.7h0M205.8 72.6h0M208.0 64.4h0M206.1 54.7h0M215.5 56.5h0M211.0 47.3h0M216.7 66.1h0M217.7 71.8h0M206.6 59.9h0M220.6 63.8h0M208.6 63.2h0M193.6 66.3h0M217.3 69.4h0M203.4 63.0h0M211.4 59.9h0M223.4 49.9h0M221.7 52.0h0M209.7 71.0h0M215.8 70.8h0M216.0 55.9h0M212.6 70.0h0M197.7 69.9h0M228.5 61.0h0M213.0 49.2h0M200.7 64.6h0M196.2 60.6h0M206.3 47.2h0M206.1 72.1h0M212.2 54.9h0M210.7 68.0h0M216.0 62.0h0M229.5 57.2h0M210.9 75.0h0M225.5 62.3h0M222.1 56.6h0M213.8 62.4h0M224.5 49.6h0M222.3 61.0h0M193.0 59.3h0M203.3 69.5h0M201.2 65.1h0M223.5 55.0h0M219.4 51.0h0M201.7 47.3h0M206.8 57.5h0M222.1 61.0h0M212.0 70.7h0M199.5 52.6h0M221.8 63.8h0M196.4 55.9h0M209.3 75.4h0M201.8 46.6h0M207.5 47.3h0M203.4 72.3h0M204.1 60.3h0M195.8 60.1h0M196.0 62.0h0M214.9 58.5h0M215.5 66.0h0M201.1 55.0h0M210.4 47.9h0M222.1 50.4h0M206.6 66.4h0M208.4 47.4h0M200.6 71.8h0M209.9 55.5h0M198.7 68.2h0M198.3 65.7h0M206.9 62.5h0M217.4 50.5h0M204.2 46.9h0M198.1 70.6h0M210.2 70.3h0M197.4 65.1h0M210.8 52.3h0M195.0 63.3h0M195.4 51.8h0M207.5 50.5h0M225.7 62.8h0M216.3 71.5h0M222.5 50.7h0M205.5 60.8h0M195.7 46.6h0M200.9 49.1h0M195.3 58.3h0M214.6 58.8h0M198.4 67.5h0M196.5 51.3h0M212.5 63.2h0M198.0 52.6h0M223.6 57.1h0M215.2 74.1h0M211.7 71.9h0M217.0 58.8h0M224.2 62.8h0M215.4 54.6h0M218.3 67.3h0M227.1 49.7h0M207.5 50.5h0M195.4 49.4h0M204.0 48.4h0M211.2 53.5h0M202.0 59.0h0M198.9 57.4h0M215.9 51.4h0M222.1 67.8h0M196.1 54.2h0M209.1 56.7h0M222.2 48.9h0M198.3 55.9h0M226.8 53.2h0M201.2 59.9h0M203.6 48.5h0M219.1 66.9h0M201.2 61.4h0M215.5 68.1h0M206.6 50.3h0M206.0 71.2h0M206.8 46.6h0M221.5 48.7h0M230.1 61.4h0M205.5 49.8h0M222.5 64.4h0M209.8 70.8h0M193.5 63.0h0M221.5 54.4h0M229.9 56.1h0M211.0 54.5h0M221.7 64.2h0M202.4 68.9h0M214.4 59.6h0M222.9 52.0h0M202.1 63.1h0M217.0 57.9h0M199.7 71.2h0M213.4 57.1h0M210.2 60.8h0M201.4 62.4h0M204.6 69.1h0M210.1 51.2h0M211.6 67.2h0M210.7 66.9h0M219.3 54.7h0M194.6 49.8h0M217.4 73.0h0M216.5 70.2h0M194.0 53.0h0M197.7 54.3h0M195.6 63.1h0M211.4 59.5h0M200.6 60.2h0M206.9 53.4h0M200.3 59.3h0M219.7 68.3h0M200.7 49.1h0M198.8 49.5h0M221.7 51.6h0M205.0 51.9h0M203.4 71.9h0M213.0 70.7h0M212.1 69.8h0M218.4 69.5h0M215.2 50.0h0M219.1 56.4h0M211.3 64.0h0M215.5 65.1h0M203.5 68.7h0M217.2 68.3h0M209.4 69.6h0M210.7 55.3h0M222.5 52.7h0M217.4 55.9h0M226.3 58.4h0M211.9 67.5h0M205.0 49.1h0M203.9 48.0h0M221.7 48.8h0M208.3 76.8h0M226.5 55.2h0M206.1 69.8h0M203.6 51.7h0M197.9 59.1h0M211.9 53.7h0M220.1 48.5h0M200.6 62.2h0M226.2 56.3h0M191.4 59.6h0M227.0 63.7h0M205.7 66.5h0M222.8 60.1h0M203.4 56.7h0M210.3 50.9h0M220.1 65.8h0M200.1 69.2h0M220.8 51.2h0M227.9 54.5h0M223.1 60.0h0M213.4 47.8h0M224.0 62.9h0M218.2 54.1h0M226.8 61.3h0M214.8 73.2h0M227.8 58.6h0M198.2 60.0h0M192.7 61.0h0M200.5 73.7h0M206.2 71.4h0M207.1 67.8h0M207.1 47.7h0M205.5 55.2h0M226.2 65.4h0M229.3 57.6h0M228.4 51.9h0M224.9 61.7h0M198.0 53.4h0M213.1 67.4h0M196.8 65.1h0M211.0 75.3h0M224.7 49.7h0M192.0 63.5h0M193.8 60.7h0M207.9 47.8h0M209.0 64.3h0M212.3 64.2h0M217.1 73.0h0M201.9 51.6h0M209.8 70.2h0M212.0 76.3h0M219.7 61.6h0M209.9 73.6h0M196.4 56.7h0M203.8 63.6h0M203.9 63.2h0M228.9 57.7h0M221.8 69.5h0M220.3 50.1h0M218.8 63.0h0M212.9 50.3h0M229.1 60.4h0M202.4 75.2h0M224.0 50.3h0M226.1 63.9h0M209.1 47.2h0M226.4 61.5h0M202.1 73.6h0M200.6 63.9h0M205.9 47.0h0M214.4 52.0h0M221.9 53.3h0M201.0 76.0h0M207.0 49.0h0M213.8 56.8h0M215.6 56.4h0M198.8 52.4h0M209.0 47.1h0M216.1 55.4h0M229.3 54.7h0M210.5 47.8h0M216.0 55.5h0M225.4 66.5h0M225.3 60.2h0M199.3 57.2h0M221.3 68.4h0M201.9 57.1h0M193.6 54.2h0M201.3 53.9h0M217.5 48.4h0M222.1 58.5h0M210.0 70.2h0M191.5 64.2h0M225.0 68.0h0M196.2 70.4h0M199.6 64.6h0M217.0 67.9h0M206.7 57.6h0M213.1 56.1h0M207.9 61.0h0M191.1 63.5h0M195.6 64.4h0M192.4 57.1h0M199.4 61.1h0M223.2 62.6h0M199.7 54.2h0M210.7 58.7h0M210.6 72.4h0M212.2 65.8h0M225.8 60.5h0M216.2 60.8h0M224.3 55.6h0M216.4 72.1h0M204.9 75.4h0M193.1 55.8h0M207.3 50.6h0M198.8 61.4h0M204.6 75.5h0M207.2 73.1h0M206.9 58.2h0M215.2 55.5h0M201.0 65.5h0M220.1 64.4h0M202.7 48.1h0M198.7 46.3h0M193.8 66.0h0M209.1 72.2h0M195.1 57.5h0M200.9 54.1h0M224.9 50.7h0M194.4 50.1h0M203.6 65.9h0M201.8 57.2h0M202.3 53.0h0M198.5 65.6h0M205.2 67.0h0M200.4 58.4h0M212.1 75.6h0M219.5 52.0h0M209.5 69.3h0M221.7 65.4h0M224.6 65.7h0M201.1 60.2h0M209.2 46.8h0M200.4 48.1h0M222.5 69.4h0M203.6 70.5h0M199.8 52.5h0M219.7 55.9h0M201.7 67.2h0M218.2 68.5h0M210.7 64.6h0M206.7 70.8h0M229.6 62.7h0M228.2 57.8h0M190.9 61.2h0M202.4 54.1h0M221.0 62.9h0M202.4 62.6h0M197.5 48.8h0M210.0 69.5h0M199.4 47.7h0M218.5 69.0h0M197.3 59.8h0M205.5 63.5h0M220.1 57.4h0M217.6 66.8h0M210.7 67.9h0M222.8 64.1h0M198.5 57.0h0M212.1 69.7h0M219.1 48.0h0M217.4 72.7h0M201.7 76.5h0M216.5 54.5h0M196.6 68.5h0M194.0 49.6h0M221.4 70.0h0M208.0 49.0h0M225.2 63.8h0M218.1 71.3h0M193.6 59.5h0M213.4 76.0h0M214.7 56.4h0M203.9 53.0h0M206.1 67.4h0M220.3 66.0h0M209.1 60.6h0M204.0 72.4h0M197.5 52.2h0M212.9 71.1h0M195.4 65.6h0M225.0 51.3h0M212.9 48.5h0M219.6 70.9h0M199.9 67.3h0M213.7 68.3h0M196.1 45.9h0M196.1 61.3h0M228.0 54.2h0M230.0 59.1h0M212.8 75.0h0M198.2 71.3h0M209.5 48.2h0M194.9 61.1h0M202.0 75.5h0M194.8 47.4h0M203.0 55.5h0M201.1 67.7h0M223.6 59.8h0M217.6 55.4h0M198.8 62.6h0M210.0 65.4h0M220.9 61.1h0M219.3 49.6h0M227.3 52.9h0M205.5 62.0h0M228.7 57.2h0M209.3 54.6h0M200.8 61.9h0M205.4 53.1h0M199.8 49.3h0M228.5 63.7h0M226.9 53.3h0M203.8 67.5h0M222.4 50.3h0M191.7 63.8h0M227.3 63.7h0M203.9 58.2h0M200.0 64.1h0M202.8 69.8h0M210.5 56.8h0M215.5 56.8h0M212.5 61.9h0M197.1 54.9h0M221.0 56.7h0M224.2 61.8h0M208.5 72.0h0M197.0 65.1h0M207.5 54.7h0M199.7 75.9h0M207.8 47.7h0M228.9 53.0h0M200.8 61.1h0M200.4 51.2h0M226.7 60.1h0M219.0 65.9h0M194.9 62.6h0M223.1 55.9h0M210.0 47.0h0M215.5 72.8h0M208.9 70.7h0M205.1 67.7h0M207.0 70.7h0M199.6 66.8h0M216.4 69.8h0M224.3 59.6h0M213.1 69.4h0M210.4 75.6h0M221.9 49.0h0M205.3 59.2h0M226.8 63.1h0M201.9 58.9h0M219.8 51.6h0M230.1 61.9h0M199.0 46.9h0M222.3 64.6h0M226.8 51.3h0M230.6 60.3h0M201.0 48.7h0M203.2 73.2h0M201.2 72.8h0M220.4 52.8h0M196.5 60.9h0M221.7 54.8h0M219.0 62.4h0M200.1 56.2h0M223.6 62.7h0M226.2 49.7h0M222.5 55.1h0M202.7 55.5h0M204.9 55.8h0M197.7 56.9h0M197.4 65.6h0M200.2 64.9h0M194.6 62.1h0M206.6 56.4h0M204.1 72.3h0M219.6 70.3h0M214.0 66.8h0" stroke="#f8c0bc" stroke-width="2.2" stroke-linecap="round" stroke-opacity="0.6" fill="none"/>
<path d="M172.2 81.5h0M177.2 72.8h0M177.7 64.1h0M172.4 76.0h0M172.7 70.0h0M185.3 72.3h0M178.8 70.0h0M180.5 68.5h0M178.8 72.1h0M177.0 80.1h0M177.2 79.7h0M174.7 81.9h0M171.7 82.4h0M179.2 73.2h0M177.3 74.9h0M172.3 74.3h0M172.8 84.6h0M174.9 69.6h0M173.8 65.0h0M180.7 72.9h0M175.5 73.4h0M184.2 70.1h0M172.2 71.9h0M176.5 81.7h0M171.8 72.9h0M172.1 78.5h0M176.1 80.9h0M178.9 64.6h0M173.0 74.0h0M179.7 64.5h0M174.5 66.3h0M174.9 80.9h0M171.3 73.0h0M177.6 63.2h0M177.3 77.2h0M173.1 71.1h0M182.2 72.2h0M173.6 83.4h0M172.4 86.7h0M185.4 64.6h0M175.4 75.2h0M176.5 81.5h0M175.6 75.4h0M176.8 83.2h0M182.9 75.1h0M175.2 75.3h0M178.6 64.5h0M173.8 68.5h0M177.5 64.8h0M170.9 74.0h0M178.4 63.9h0M173.0 73.7h0M175.2 65.6h0M170.8 73.3h0M182.9 66.8h0M181.1 77.1h0M174.0 62.7h0M178.1 65.0h0M173.4 64.9h0M173.2 65.1h0M175.8 85.4h0M181.8 63.8h0M176.0 63.5h0M183.1 62.4h0M181.2 67.9h0M180.2 73.0h0M175.1 68.6h0M180.9 66.3h0M179.8 66.6h0M175.0 84.5h0M185.3 71.8h0M173.0 76.1h0M184.2 70.0h0M178.9 77.3h0M174.6 62.1h0M173.8 70.9h0M177.4 64.5h0M178.3 63.3h0M171.0 72.7h0M176.4 67.7h0M181.4 67.0h0M177.7 63.4h0M174.3 68.1h0M179.7 61.8h0M174.5 71.5h0M173.1 85.9h0M176.4 79.2h0M180.6 62.2h0M182.1 64.9h0M173.1 65.1h0M185.9 66.0h0M178.7 72.7h0M179.6 73.0h0M181.8 61.9h0M175.8 81.0h0M171.3 82.2h0M177.5 69.1h0M175.3 72.3h0M178.0 65.7h0M176.1 67.7h0M176.4 74.3h0M172.0 80.9h0M186.3 65.8h0M173.6 85.3h0M179.9 70.2h0M174.6 65.0h0M183.9 70.3h0M187.0 64.2h0M182.3 69.5h0M183.2 66.6h0M177.4 61.6h0M178.8 77.6h0M178.7 73.1h0M181.7 73.4h0M176.7 74.2h0M175.6 76.9h0M174.3 81.4h0M185.3 67.9h0M181.8 66.1h0M179.6 70.1h0M184.4 68.6h0M184.9 61.6h0M173.1 68.5h0M172.4 76.8h0M176.4 65.1h0M172.8 83.9h0M181.0 77.4h0M174.4 62.9h0M174.6 65.3h0M178.3 66.6h0M172.5 78.7h0M171.5 72.9h0M175.6 74.6h0M173.4 74.9h0M176.1 83.3h0M174.2 83.4h0M171.6 77.4h0M174.7 62.2h0M183.3 70.1h0M172.8 77.9h0M181.8 76.6h0M173.7 82.3h0M170.7 80.6h0M177.0 78.0h0M176.9 73.5h0M177.7 68.0h0M174.2 79.1h0M174.8 78.3h0M175.5 75.3h0M178.9 71.8h0M177.8 78.8h0M171.0 72.0h0M180.3 67.9h0M177.1 68.1h0M179.6 66.5h0M178.7 77.7h0M175.1 72.6h0M179.4 64.3h0M181.1 76.9h0M172.8 70.1h0M184.1 65.5h0M183.1 62.3h0M183.2 68.0h0M179.2 71.6h0M186.1 66.0h0M177.5 62.9h0M181.4 74.1h0M185.1 66.0h0M172.6 77.2h0M178.8 66.9h0M173.1 68.8h0M176.7 77.3h0M173.5 68.0h0M180.7 68.7h0M173.1 66.3h0M175.9 82.0h0M176.3 71.2h0M177.2 75.0h0M172.5 66.2h0M177.5 76.0h0M184.7 64.0h0M174.4 75.2h0M184.0 72.2h0M187.4 62.8h0M173.9 77.2h0M171.1 79.5h0M171.8 81.4h0M170.7 84.6h0M172.6 71.5h0M181.2 77.2h0M174.6 71.1h0M183.5 63.9h0M179.6 74.1h0M170.5 84.4h0M182.0 70.1h0M174.9 63.0h0M183.7 67.8h0M174.9 63.1h0M184.0 71.1h0M172.6 79.7h0M173.4 83.1h0M175.7 71.1h0M171.9 72.7h0M175.0 70.7h0M180.0 70.2h0M182.1 73.2h0M170.5 85.1h0" stroke="#c0e0f4" stroke-width="2.2" stroke-linecap="round" stroke-opacity="0.6" fill="none"/>
<path d="M183.3 59.9h0M185.3 49.9h0M175.3 59.2h0M185.9 59.8h0M184.2 57.5h0M176.9 56.8h0M179.6 58.4h0M187.0 51.2h0M177.3 55.7h0M184.7 59.7h0M176.5 58.0h0M178.8 55.3h0M186.0 55.0h0M180.2 60.4h0M182.9 53.9h0M179.6 54.6h0M187.6 56.5h0M186.8 52.2h0M181.3 50.9h0M186.3 51.1h0M182.3 56.2h0M189.9 62.7h0M185.9 56.6h0M193.1 48.8h0M180.1 54.1h0M188.7 52.7h0M187.7 60.0h0M189.9 61.8h0M179.5 52.2h0M181.2 51.6h0M190.4 60.6h0M178.4 56.6h0M184.4 52.1h0M181.8 55.2h0M190.8 51.7h0M179.7 54.0h0M186.7 60.1h0M191.6 55.5h0M183.7 53.2h0M183.3 53.1h0M185.3 58.2h0M184.3 57.3h0M189.8 58.5h0M187.3 58.6h0M177.7 55.6h0M188.2 61.8h0M183.8 60.3h0M183.4 54.7h0M190.2 60.9h0M186.7 54.3h0M177.3 55.4h0M180.8 52.1h0M187.0 52.8h0M188.7 56.9h0M189.8 57.3h0M185.1 60.5h0M185.2 51.6h0M188.0 53.4h0M180.5 53.4h0M191.8 54.5h0M192.3 50.5h0M183.3 57.5h0M178.2 61.2h0M191.2 53.3h0M187.4 57.3h0M186.9 60.8h0M186.6 53.5h0M178.3 60.1h0M187.6 53.9h0M183.9 49.6h0M189.3 56.0h0M183.4 52.2h0M189.2 60.3h0M178.8 55.8h0M190.9 47.6h0M183.0 58.1h0M188.4 53.7h0M189.4 51.4h0M190.6 48.5h0M176.4 59.9h0M175.4 59.4h0M181.3 59.6h0M177.4 59.6h0M189.1 51.0h0M179.6 52.1h0M184.3 49.4h0M184.6 55.6h0M194.0 46.6h0M175.0 61.1h0M179.3 60.4h0M179.3 59.3h0M177.5 56.1h0M189.6 61.5h0M176.6 61.4h0M186.8 53.1h0M189.6 62.2h0M187.3 52.8h0M186.9 52.2h0M188.5 54.0h0M186.7 60.9h0M190.5 60.5h0M188.7 60.6h0M179.0 57.5h0M186.1 58.9h0M181.9 57.2h0M189.9 55.1h0M177.1 55.5h0M176.4 59.6h0M186.4 49.0h0M184.6 57.9h0M188.0 52.3h0M183.4 57.1h0M182.4 55.7h0M179.9 57.6h0M185.5 54.0h0M189.7 60.2h0M179.9 59.7h0M180.2 60.9h0M188.5 53.4h0M190.8 59.4h0M191.9 55.0h0M191.3 57.9h0M189.8 56.7h0M182.5 55.5h0M174.8 61.1h0M185.0 59.4h0M177.5 55.7h0M189.4 55.8h0M181.8 52.0h0M180.8 54.3h0M190.7 47.9h0M182.9 60.0h0M180.6 60.5h0M181.9 58.2h0M188.5 55.0h0M178.0 58.3h0M183.9 61.0h0" stroke="#bce4d0" stroke-width="2.2" stroke-linecap="round" stroke-opacity="0.6" fill="none"/>
<path d="M230.9 71.1h0M229.9 81.6h0M211.5 87.5h0M205.0 82.6h0M209.5 94.7h0M228.4 74.2h0M228.2 71.7h0M212.9 82.7h0M212.4 91.0h0M215.7 79.7h0M219.2 81.0h0M228.9 74.7h0M218.6 80.5h0M226.4 91.5h0M216.9 87.8h0M207.9 95.1h0M212.4 76.8h0M216.9 88.2h0M213.2 78.5h0M220.5 91.4h0M225.5 70.6h0M222.7 78.0h0M209.5 80.3h0M208.4 79.4h0M212.8 92.4h0M229.7 66.3h0M223.3 84.2h0M208.9 87.7h0M207.7 90.8h0M224.0 91.6h0M220.2 89.4h0M224.3 93.6h0M226.6 79.7h0M223.5 76.9h0M207.9 77.2h0M218.7 81.0h0M223.1 95.8h0M219.4 88.6h0M204.8 81.1h0M225.7 75.9h0M221.1 81.8h0M229.0 90.6h0M215.4 91.9h0M218.2 88.8h0M230.9 66.7h0M222.9 79.4h0M227.4 81.4h0M212.7 86.4h0M221.1 97.4h0M210.0 94.9h0M208.0 88.8h0M227.4 79.9h0M226.8 84.9h0M221.3 91.6h0M208.9 91.6h0M230.0 89.6h0M209.0 82.2h0M208.6 90.1h0M207.6 80.4h0M222.9 75.8h0M226.7 86.8h0M223.2 69.9h0M219.9 95.2h0M220.3 80.1h0M220.5 94.1h0M223.7 88.1h0M211.6 96.2h0M230.4 83.5h0M222.3 77.4h0M218.6 79.8h0M215.0 87.1h0M210.0 84.4h0M210.8 77.7h0M229.1 80.9h0M211.3 86.6h0M221.3 93.7h0M229.1 68.9h0M211.8 81.3h0M221.4 98.7h0M227.4 87.8h0M227.5 74.8h0M217.4 78.0h0M208.1 77.2h0M227.6 66.5h0M213.5 77.5h0M228.7 70.5h0M226.4 95.2h0M220.0 86.2h0M222.8 70.9h0M223.7 88.6h0M224.1 83.8h0M207.6 77.1h0M205.1 85.0h0M229.8 65.3h0M222.8 92.3h0M224.8 80.5h0M225.8 90.9h0M213.5 87.5h0M221.2 73.7h0M220.4 83.5h0M216.5 80.0h0M219.6 95.2h0M221.5 71.7h0M230.7 71.3h0M229.0 90.0h0M215.3 85.8h0M207.1 88.9h0M223.9 75.9h0M211.8 93.1h0M230.2 78.6h0M224.4 90.4h0M219.9 80.4h0M212.1 97.3h0M210.2 85.9h0M209.7 89.5h0M211.3 94.8h0M230.4 76.3h0M213.4 85.0h0M223.7 98.8h0M230.5 78.2h0M208.3 97.4h0M221.9 72.5h0M225.8 97.6h0M225.4 80.9h0M223.6 84.6h0M213.8 90.8h0M221.2 80.5h0M217.3 97.1h0M219.7 91.8h0M219.1 80.0h0M213.7 82.3h0M226.5 67.2h0M225.0 80.6h0M228.0 93.0h0M211.6 77.0h0M213.1 80.2h0M229.3 82.8h0M222.6 76.9h0M228.8 93.8h0M215.2 78.0h0M223.0 97.1h0M215.5 76.9h0M230.3 78.4h0M213.6 85.5h0M230.4 82.6h0M219.5 97.4h0M229.7 66.4h0M214.1 99.3h0M229.3 93.5h0M218.8 86.3h0M220.1 93.1h0M218.3 78.9h0M213.1 81.5h0M213.4 90.9h0M231.0 78.1h0M217.9 81.5h0M210.3 84.8h0M215.7 82.1h0M212.9 89.3h0M222.0 70.9h0M214.0 78.3h0M210.6 86.1h0M202.2 78.3h0M206.9 83.0h0M223.6 77.6h0M205.9 84.3h0M218.6 90.1h0M203.0 80.4h0M216.7 90.7h0M225.1 71.0h0M215.9 82.3h0M210.4 95.9h0M207.2 93.0h0M207.7 78.8h0M214.0 77.0h0M230.2 89.0h0M224.4 76.2h0M223.2 90.8h0M209.9 90.1h0M218.1 83.6h0M220.1 99.6h0M221.6 92.9h0M208.7 79.9h0M219.8 80.6h0M212.8 87.2h0M223.0 95.1h0M220.3 97.1h0M225.3 96.2h0M215.8 79.0h0M216.7 86.8h0M222.0 90.6h0M211.1 93.8h0M214.0 80.9h0M219.3 93.0h0M226.2 81.2h0M211.6 98.9h0M212.4 100.2h0M228.6 84.5h0M224.1 82.6h0M224.8 83.4h0M211.5 96.7h0M228.6 83.8h0M231.5 74.2h0M225.2 93.7h0M226.8 95.0h0M230.4 70.5h0M226.4 71.6h0M208.0 83.0h0M202.7 77.3h0M220.4 72.2h0M214.2 96.5h0M224.5 88.2h0M203.3 77.6h0M230.7 70.6h0M222.9 84.7h0M223.0 73.0h0M206.0 83.2h0M228.2 68.1h0M230.5 82.2h0M205.7 80.0h0M217.4 80.0h0M228.0 80.9h0M216.2 95.1h0M218.1 80.6h0M213.0 92.3h0M229.8 90.7h0M218.5 78.4h0M230.0 88.3h0M207.1 82.9h0M225.8 97.9h0M216.0 92.9h0M231.0 68.3h0M226.6 83.3h0M220.8 77.7h0M213.0 82.4h0M219.3 83.6h0M218.0 90.0h0M209.8 79.9h0M205.2 81.0h0M216.2 76.9h0M230.4 83.2h0M229.2 73.8h0M230.5 67.9h0M222.1 83.5h0M224.3 78.2h0M227.2 74.3h0M228.8 73.0h0M207.2 89.8h0M208.1 95.9h0M222.2 71.6h0M222.0 84.3h0M229.5 83.5h0M225.9 82.7h0M230.7 73.1h0M230.9 68.0h0M215.1 99.2h0M204.0 79.5h0M226.3 67.1h0M225.9 91.2h0M225.8 70.4h0M215.9 77.1h0M225.2 83.3h0M213.2 90.7h0M215.0 78.5h0M222.1 74.4h0M231.2 66.9h0M221.9 92.1h0M221.9 97.4h0M207.8 92.8h0M209.8 89.7h0M221.6 96.0h0M209.1 87.0h0M213.2 92.2h0M223.1 70.6h0M210.9 96.8h0M213.0 80.2h0M225.4 72.2h0M228.9 92.2h0M221.5 71.6h0M222.0 76.4h0M230.0 79.2h0M214.7 93.0h0M226.9 67.0h0M227.0 91.5h0M228.2 66.9h0M224.8 87.8h0M206.6 82.6h0M217.0 78.9h0M222.2 91.0h0M225.0 74.8h0M230.2 66.7h0M226.2 84.6h0M226.9 91.6h0M230.5 63.1h0M210.1 99.2h0M208.2 90.1h0M218.8 82.3h0M223.2 84.8h0M216.0 90.9h0M221.4 90.6h0M225.9 78.5h0M215.6 96.3h0M202.1 77.1h0M217.6 99.5h0M221.3 94.5h0M208.1 96.9h0M219.2 83.7h0M217.2 90.1h0M219.6 98.4h0M213.0 98.0h0M224.7 98.0h0M211.7 97.9h0M228.4 71.0h0M223.3 83.1h0M228.9 79.6h0M230.5 76.3h0M224.7 82.9h0M223.8 96.2h0M226.1 94.1h0M227.7 88.0h0M217.5 92.6h0M230.0 68.1h0M207.5 95.3h0M226.5 94.2h0M210.1 77.1h0M230.9 66.9h0M214.7 83.6h0M218.7 89.1h0M215.9 99.9h0M219.2 98.7h0M211.8 97.9h0M229.2 89.4h0M209.8 86.0h0M206.3 81.0h0M216.0 98.8h0M221.2 90.5h0M227.4 76.9h0M226.3 95.3h0M206.7 82.6h0M227.8 79.0h0M230.7 80.3h0M219.6 88.3h0M225.1 83.5h0M224.0 86.0h0M210.5 88.0h0M214.4 92.8h0M220.2 76.1h0M220.6 94.5h0M226.7 87.0h0M230.5 72.8h0M220.1 95.2h0M216.3 89.8h0M216.4 81.4h0M226.2 83.6h0M207.6 79.4h0M222.1 75.7h0M224.9 77.9h0M221.1 78.7h0M209.4 96.6h0M219.2 92.1h0M221.7 73.8h0M230.0 63.0h0M218.6 97.0h0M206.3 88.9h0M213.3 80.3h0M210.0 92.9h0M227.1 96.5h0M222.8 98.2h0M217.1 80.8h0M208.5 88.5h0M210.2 80.4h0M216.5 89.5h0M224.4 84.5h0M206.2 85.8h0M227.4 66.7h0M229.9 86.5h0M218.2 76.9h0M224.1 76.2h0M217.7 82.6h0M230.0 81.0h0M219.4 74.5h0M224.0 82.3h0M208.4 90.4h0M226.8 67.3h0M211.9 85.5h0M218.0 90.1h0M224.9 94.2h0M229.1 77.0h0M212.7 91.1h0M229.7 83.7h0M211.6 88.4h0M230.4 88.3h0M223.8 86.1h0M228.9 96.3h0M207.1 80.6h0M216.0 87.8h0M206.5 84.3h0M226.6 90.6h0M215.1 94.0h0M225.8 72.2h0M226.0 83.2h0M217.6 83.2h0M219.8 86.0h0M227.5 88.3h0M205.9 78.5h0M225.5 95.6h0M229.3 86.1h0M223.4 80.5h0M225.4 82.3h0M217.7 79.1h0M214.0 92.1h0M208.4 89.6h0M218.6 85.8h0M221.3 90.5h0M221.5 94.8h0M218.1 89.5h0M227.3 90.4h0M225.3 89.4h0M217.5 87.0h0M220.2 74.6h0M229.8 89.6h0M216.5 92.2h0M208.6 85.4h0M221.1 80.5h0M228.6 64.8h0M226.1 74.0h0M223.8 72.6h0M222.3 73.7h0M221.4 77.2h0M211.2 91.3h0M212.7 95.5h0M217.7 92.6h0M218.4 78.5h0M224.0 73.6h0M226.1 68.5h0M219.6 91.7h0M206.5 85.5h0M218.5 79.7h0M218.4 98.8h0M215.4 93.4h0M228.5 66.7h0M218.5 92.0h0M221.7 75.0h0" stroke="#e4e0a0" stroke-width="2.2" stroke-linecap="round" stroke-opacity="0.6" fill="none"/>
</g>
<path d="M210.9 53.3h0M215.1 56.5h0M199.5 73.0h0M212.6 76.1h0M212.9 74.5h0M214.3 71.1h0M217.4 48.5h0M198.9 65.5h0M216.4 53.3h0M213.7 62.8h0M201.6 64.1h0M199.4 75.0h0M229.6 55.3h0M222.9 54.7h0M218.5 49.8h0M202.3 69.2h0M205.2 54.0h0M198.3 61.6h0M192.8 58.6h0M198.7 64.2h0M200.5 74.5h0M198.1 54.6h0M229.0 52.9h0M198.2 53.8h0M202.8 61.8h0M227.0 63.2h0M214.6 67.3h0M211.9 74.9h0M196.6 65.5h0M220.2 63.8h0M214.0 73.4h0M197.9 49.0h0M193.4 60.6h0M205.0 50.9h0M209.6 65.3h0M212.3 68.1h0M190.5 63.6h0M215.0 66.6h0M213.9 52.6h0M224.7 50.0h0M213.0 59.0h0M209.6 49.8h0M209.1 49.0h0M217.8 52.3h0M222.3 62.2h0M221.3 69.0h0M197.9 48.4h0M228.2 55.5h0M223.9 58.1h0M223.9 64.9h0M223.4 60.4h0M224.2 53.2h0M222.1 50.8h0M204.9 68.5h0M227.3 62.7h0M208.9 75.0h0M210.8 73.6h0M210.8 76.0h0M227.3 63.4h0M216.4 47.3h0M191.6 62.4h0M201.1 60.6h0M194.7 61.9h0M209.3 58.1h0M215.2 69.0h0M191.7 64.0h0M202.8 69.1h0M196.8 47.1h0M216.8 54.2h0M193.3 60.0h0M198.0 49.7h0M209.1 73.8h0M197.6 55.2h0M205.0 58.9h0M195.3 57.1h0M221.9 65.5h0M199.4 73.6h0M200.4 61.9h0M198.5 72.5h0M208.6 70.7h0M218.6 69.0h0M221.9 63.0h0M208.1 73.1h0M216.7 56.9h0M227.5 51.7h0M203.0 64.8h0M224.2 57.3h0M225.6 52.4h0M218.0 54.9h0M205.2 47.1h0M211.0 61.0h0M194.5 65.4h0M199.1 49.3h0M208.9 76.1h0M217.0 52.4h0M205.2 61.0h0M218.4 71.9h0M225.1 55.8h0M204.0 56.2h0M199.8 57.9h0M207.0 71.6h0M193.4 59.4h0M205.3 57.6h0M204.6 53.3h0M212.8 64.2h0M199.9 63.2h0M217.5 60.6h0M211.2 62.8h0M193.5 54.2h0M206.5 74.7h0M196.8 60.3h0M208.3 51.5h0M198.3 63.4h0M215.1 69.9h0M221.7 59.8h0M220.5 65.7h0M200.0 71.2h0M214.5 67.8h0M210.0 62.7h0M202.6 66.0h0M219.1 65.0h0M198.9 53.8h0M198.9 68.1h0M212.0 53.2h0M195.1 68.0h0M214.8 48.1h0M221.6 61.9h0M201.3 58.0h0M203.7 71.7h0M206.7 55.6h0M205.6 69.7h0M205.9 62.5h0M215.5 49.7h0M207.5 55.1h0M198.7 67.4h0M229.6 60.7h0M207.6 72.2h0M215.8 67.4h0M217.3 65.9h0M219.9 53.1h0M208.2 67.2h0M214.9 74.0h0M214.1 50.6h0M221.0 62.8h0M201.5 58.9h0M217.8 48.1h0M230.5 60.4h0M222.5 65.6h0M210.2 65.7h0M198.8 64.7h0M220.7 54.0h0M210.8 69.0h0M208.4 56.3h0M219.6 62.8h0M221.2 52.0h0M211.5 66.8h0M195.3 47.4h0M205.8 50.0h0M218.3 70.2h0M202.2 75.0h0M221.1 53.2h0M213.4 54.6h0M200.6 67.8h0M211.8 52.2h0M207.1 58.9h0M225.4 60.1h0M210.6 55.6h0M194.9 49.2h0M194.5 54.7h0M194.4 59.9h0M218.1 48.7h0M221.3 68.9h0M204.3 74.4h0M192.7 63.4h0M224.5 59.2h0M210.3 55.1h0M195.6 68.3h0M202.8 51.2h0M216.1 57.7h0M202.8 57.5h0M227.6 56.1h0M208.9 67.0h0M192.6 61.1h0M218.9 65.3h0M227.5 56.3h0M219.4 59.5h0M207.1 51.1h0M197.1 70.1h0M213.0 75.3h0M207.9 61.5h0M211.6 62.5h0M198.8 70.2h0M220.4 53.3h0M200.3 73.6h0M220.0 47.8h0M228.3 52.7h0M204.7 63.5h0M199.1 70.3h0M228.1 56.3h0M192.1 60.7h0M200.7 65.8h0M206.6 53.2h0M199.1 64.1h0M225.2 62.1h0M215.0 73.4h0M194.9 55.2h0M193.8 60.3h0M214.3 61.5h0M215.1 70.7h0M206.3 66.3h0M214.8 50.8h0M206.7 71.6h0M228.9 53.7h0M223.4 64.2h0M226.2 64.9h0M223.5 54.8h0M218.8 51.3h0M210.7 74.7h0M221.5 62.8h0M205.4 49.1h0M222.5 58.5h0M198.9 55.9h0M194.8 66.1h0M218.4 69.9h0M204.8 76.5h0M195.3 65.3h0M198.4 52.5h0M195.0 50.4h0M209.9 51.3h0M229.5 57.1h0M217.9 48.1h0M195.5 69.5h0M207.9 59.7h0M202.5 72.7h0M220.2 65.8h0M192.2 64.5h0M219.2 71.8h0M207.6 64.1h0M229.4 60.6h0M198.1 51.0h0M196.0 64.8h0M194.2 47.9h0M206.9 71.7h0M193.5 60.1h0M210.9 51.3h0M212.4 54.4h0M220.1 64.2h0M209.4 63.6h0M218.9 53.8h0M215.8 60.9h0M202.2 46.3h0M206.3 54.2h0M228.2 50.7h0M208.5 62.2h0M201.8 50.5h0M200.1 62.5h0M202.3 67.2h0M201.1 73.5h0M201.1 47.0h0M205.3 68.9h0M193.1 56.6h0M224.4 65.7h0M224.3 66.5h0M220.9 53.3h0M215.7 48.5h0M223.3 58.1h0M213.4 57.1h0M205.5 68.0h0M212.2 70.0h0M200.7 69.9h0M206.5 54.7h0M221.9 51.5h0M199.3 50.0h0M215.5 48.3h0M195.9 66.1h0M192.4 63.0h0M220.2 50.4h0M213.5 70.0h0M202.9 66.7h0M208.5 47.0h0M217.3 48.2h0M201.8 56.8h0M196.7 48.1h0M204.4 54.5h0M196.2 60.4h0M207.3 56.2h0M204.5 72.3h0M195.2 50.5h0M225.4 67.0h0M208.4 59.5h0M210.4 72.1h0M229.5 55.3h0M207.2 65.8h0M210.1 54.7h0M217.1 71.6h0M202.3 52.6h0M210.8 50.9h0M226.9 55.4h0M197.0 65.8h0M211.9 50.2h0M216.7 65.5h0M209.5 67.6h0M194.9 61.9h0M203.2 54.7h0M202.1 63.9h0M219.7 53.7h0M196.4 54.7h0M192.7 63.4h0M208.5 51.2h0M206.5 57.2h0M218.6 60.1h0M209.0 76.4h0M218.2 51.4h0M203.5 67.3h0M196.7 53.1h0M195.1 66.1h0M206.7 60.3h0M214.8 49.0h0M207.2 69.3h0M205.3 52.8h0M199.6 57.9h0M193.8 65.1h0M204.9 59.2h0M205.4 73.5h0M210.5 49.0h0M197.5 56.2h0M220.2 57.3h0M225.9 59.4h0M210.3 70.4h0M192.8 57.7h0M208.0 48.8h0M197.7 46.5h0M206.9 49.3h0M193.0 65.0h0M226.0 59.6h0M219.1 50.5h0M207.1 55.6h0M210.3 72.2h0M198.0 58.5h0M197.5 67.9h0M210.0 71.5h0M227.3 55.8h0M207.6 64.8h0M218.9 48.3h0M207.2 70.9h0M225.6 61.1h0M220.0 61.0h0M208.1 52.9h0M206.4 46.6h0M220.9 53.7h0M226.9 56.0h0M211.8 73.3h0M198.2 67.8h0M199.3 50.5h0M211.3 74.2h0M206.0 72.4h0M214.6 68.0h0M195.4 63.3h0M216.9 71.3h0M193.9 60.7h0M204.9 60.3h0M215.0 72.2h0M196.6 69.9h0M226.2 60.8h0M218.9 62.2h0M229.9 58.0h0M217.1 52.3h0M194.4 66.6h0M196.0 46.3h0M201.2 51.0h0M212.7 60.4h0M202.5 66.1h0M206.0 70.9h0M202.3 73.6h0M222.2 66.1h0M214.3 52.2h0M218.6 53.8h0M194.5 54.7h0M206.8 55.2h0M211.7 52.7h0M209.3 47.0h0M225.5 55.6h0M216.0 50.2h0M216.9 60.1h0M212.6 72.2h0M205.3 68.5h0M218.7 69.0h0M211.7 48.6h0M214.5 58.0h0M211.8 66.2h0M204.0 50.1h0M220.2 63.1h0M227.2 61.3h0M228.8 62.3h0M196.9 59.5h0M206.9 55.9h0M220.3 57.1h0M215.5 68.1h0M201.1 71.2h0M198.4 63.0h0M207.7 61.0h0M200.6 69.4h0M219.9 49.4h0" stroke="#ea6464" stroke-width="1.0" stroke-linecap="round" stroke-opacity="0.55" fill="none"/>
<path d="M215.2 74.6h0M218.7 62.6h0M221.7 62.0h0M204.8 52.3h0M207.5 73.0h0M226.7 60.6h0M213.1 66.0h0M210.7 68.7h0M205.9 67.9h0M211.8 76.1h0M212.3 63.5h0M219.1 49.3h0M210.2 58.7h0M208.3 56.9h0M218.1 69.4h0M212.7 72.2h0M207.9 54.0h0M222.3 64.9h0M194.9 51.3h0M209.1 59.0h0M216.5 67.5h0M207.5 66.2h0M216.9 66.7h0M209.7 65.7h0M201.2 51.6h0M207.0 53.3h0M196.1 56.0h0M201.9 64.8h0M203.0 75.3h0M223.0 67.0h0M209.5 56.0h0M224.0 59.6h0M191.2 61.6h0M208.1 70.1h0M200.6 72.8h0M200.0 52.3h0M216.5 73.7h0M201.8 62.2h0M200.1 69.4h0M211.0 62.8h0M200.7 63.6h0M213.6 72.2h0M203.7 70.2h0M199.2 49.4h0M191.0 60.7h0M224.1 53.3h0M204.0 62.1h0M201.5 75.2h0M209.6 71.4h0M215.8 65.1h0M204.5 60.7h0M212.3 69.3h0M213.7 56.0h0M205.6 52.2h0M203.3 72.8h0M214.5 61.0h0M194.5 48.7h0M200.4 53.3h0M202.2 64.2h0M194.5 60.5h0M198.7 70.7h0M218.0 56.5h0M200.0 55.0h0M195.3 61.1h0M204.4 61.5h0M197.8 56.4h0M201.6 63.4h0M197.6 49.2h0M215.6 59.4h0M199.1 70.8h0M195.9 63.1h0M224.4 55.5h0M217.6 70.0h0M194.2 65.5h0M227.7 61.9h0M224.7 66.4h0M199.6 47.7h0M209.3 57.6h0M209.7 54.5h0M217.7 61.1h0M202.6 54.4h0M206.2 53.9h0M222.8 51.2h0M216.2 70.2h0M196.9 49.0h0M195.1 67.3h0M211.6 61.9h0M222.8 69.3h0M219.5 68.9h0M195.4 55.6h0M207.0 72.1h0M204.8 71.3h0M207.3 68.3h0M196.7 61.2h0M215.7 51.6h0M205.1 63.1h0M216.1 61.5h0M214.5 58.5h0M203.8 70.5h0M221.6 63.1h0M223.8 54.2h0M219.1 63.7h0M228.0 62.0h0M202.9 52.1h0M229.1 53.1h0M199.3 73.3h0M195.6 65.7h0M202.7 65.4h0M201.0 46.8h0M195.5 46.9h0M224.3 60.3h0M197.4 69.5h0M216.7 51.2h0M215.1 60.5h0M219.4 66.5h0M230.6 60.2h0M211.3 50.8h0M212.2 74.4h0M202.9 64.3h0M212.6 64.0h0M211.9 56.2h0M218.0 71.7h0M211.1 47.5h0M204.8 63.2h0M202.8 74.2h0M208.3 50.5h0M224.4 62.0h0M204.9 68.0h0M198.6 72.0h0M216.3 64.5h0M208.1 76.4h0M200.4 60.4h0M222.6 49.3h0M226.9 53.2h0M218.3 66.1h0M200.5 75.5h0M204.5 51.5h0M204.0 72.7h0M208.9 54.1h0M206.5 73.8h0M221.5 66.1h0M197.9 55.0h0M216.9 64.6h0M222.8 66.9h0M202.9 49.6h0M208.6 53.1h0M215.4 68.1h0M193.1 53.4h0M215.8 54.2h0M212.9 51.1h0M212.3 70.2h0M213.9 75.3h0M199.7 71.9h0M210.8 66.9h0M218.1 48.2h0M195.0 58.3h0M207.4 55.5h0M221.3 55.6h0M213.3 56.2h0M208.4 53.2h0M196.1 51.6h0M213.6 50.1h0M201.5 48.7h0M221.7 53.7h0M218.0 69.9h0M215.0 63.9h0M205.8 66.5h0M197.3 64.2h0M196.3 62.2h0M218.6 60.7h0M212.1 55.0h0M209.6 59.2h0M223.2 62.1h0M200.5 75.8h0M191.7 59.4h0M199.0 54.8h0M216.5 58.5h0M204.3 55.1h0M226.7 63.6h0M193.5 58.1h0M211.2 64.3h0M209.7 75.4h0M223.6 66.2h0M210.3 66.5h0M201.7 54.3h0M225.3 56.0h0M229.1 53.5h0M216.5 69.3h0M203.5 65.2h0M204.5 51.7h0M209.8 50.8h0M203.0 68.0h0M227.5 57.7h0M193.9 50.4h0M200.2 49.7h0M213.8 49.4h0M203.5 61.6h0M196.1 48.0h0M214.7 60.4h0M218.8 61.5h0M219.9 47.9h0M218.8 50.5h0M220.5 50.2h0M211.7 72.8h0M203.0 64.9h0M226.3 61.5h0M193.4 56.8h0M195.2 54.9h0M223.6 56.8h0M221.6 58.8h0M223.2 53.8h0M228.3 52.5h0M222.8 60.9h0M200.5 52.0h0M209.8 75.3h0M200.6 75.8h0M208.4 47.4h0M224.3 55.7h0M207.4 48.1h0M206.6 72.4h0M212.6 69.5h0M196.1 54.4h0M210.5 52.5h0M220.8 70.5h0M213.3 52.8h0M212.8 60.2h0M198.4 72.8h0M197.9 54.9h0M196.0 58.2h0M218.1 52.4h0M198.8 69.4h0M205.7 72.1h0M208.6 57.4h0M208.2 72.8h0M207.6 48.8h0M210.1 48.6h0M207.7 74.5h0M211.1 58.3h0M195.0 65.3h0M225.6 49.3h0M222.3 56.8h0M226.9 65.9h0M216.3 48.1h0M203.4 51.4h0M208.8 71.6h0M223.8 57.4h0M206.0 75.3h0M195.4 62.9h0M225.1 51.6h0M217.9 57.2h0M212.8 62.3h0M215.4 63.3h0M206.6 66.0h0M206.2 53.6h0M221.3 49.0h0M208.4 54.0h0M195.2 60.7h0M211.4 61.9h0M216.6 60.8h0M210.0 51.4h0M199.1 61.7h0M191.6 63.4h0M200.8 52.9h0M217.4 48.4h0M204.3 61.0h0M198.8 64.6h0M214.7 49.3h0M195.1 46.4h0M198.7 48.2h0M214.8 72.9h0M219.2 50.7h0M215.1 65.4h0M213.2 60.2h0M198.2 72.0h0M197.9 52.1h0M197.9 58.7h0M215.2 56.1h0M205.9 73.8h0M219.6 55.7h0M199.5 71.4h0M209.8 65.8h0M201.9 67.6h0M226.3 64.4h0M226.7 49.8h0M197.4 48.1h0M211.4 59.5h0M224.1 65.6h0M211.6 72.6h0M223.1 56.1h0M191.3 62.2h0M217.4 71.5h0M203.0 51.3h0M223.8 55.7h0M206.5 69.5h0M193.9 61.2h0M213.4 52.9h0M203.8 65.2h0M200.2 72.4h0M212.8 60.9h0M195.9 54.6h0M214.3 57.1h0M201.5 73.1h0M212.7 47.1h0M213.1 71.3h0M211.6 70.9h0M206.5 57.6h0M215.4 55.4h0M215.5 66.8h0M207.4 73.5h0M228.6 53.6h0M218.2 48.9h0M219.7 49.0h0M214.6 69.3h0M222.1 49.1h0M202.0 60.2h0M196.2 65.4h0M212.2 63.8h0M218.4 48.8h0M201.5 49.2h0M214.5 47.1h0M212.5 61.4h0M228.0 63.8h0M201.4 60.7h0M193.4 57.6h0M206.2 65.3h0M214.9 67.5h0M208.6 67.5h0M192.2 64.3h0M197.7 57.9h0M220.8 52.3h0M218.9 61.0h0M222.2 49.0h0M217.2 73.1h0M211.5 74.6h0M204.3 72.6h0M202.3 66.4h0M203.3 66.2h0M221.1 57.8h0M227.5 58.7h0M215.5 72.9h0M200.4 48.5h0M219.0 56.8h0M219.6 49.3h0M210.3 71.8h0M219.4 66.2h0M214.4 54.7h0M196.9 71.2h0M225.5 57.6h0M208.0 52.6h0M208.9 47.6h0M204.7 50.4h0M201.9 69.2h0M200.4 71.2h0M223.2 60.5h0M217.0 58.1h0M210.5 67.0h0M218.7 59.5h0M211.2 47.7h0M211.9 52.9h0M228.6 63.2h0M203.8 66.7h0M202.1 47.6h0M191.6 60.4h0M200.7 74.9h0M224.5 57.7h0M222.9 67.6h0M198.1 56.6h0M202.8 68.6h0M206.6 63.1h0M229.1 63.1h0M204.6 64.0h0M208.6 65.6h0M221.2 70.1h0M195.5 51.5h0M190.6 63.8h0M225.0 58.3h0M203.2 72.4h0M201.9 53.6h0M214.8 60.1h0M224.8 56.0h0M208.7 52.4h0M193.7 63.9h0M198.3 60.5h0M198.0 71.9h0M197.5 65.3h0M210.8 68.7h0M226.5 49.7h0M222.8 67.9h0M204.2 54.1h0M195.4 58.0h0M194.4 50.7h0M195.8 51.9h0M190.5 63.3h0M202.5 74.4h0M208.2 51.2h0M195.1 61.3h0M206.4 65.6h0M194.9 68.5h0M225.6 51.7h0M194.4 61.8h0M209.4 49.0h0M215.1 57.4h0M203.2 50.3h0M225.5 63.6h0M207.0 53.5h0" stroke="#ef7070" stroke-width="1.0" stroke-linecap="round" stroke-opacity="0.55" fill="none"/>
<path d="M195.1 56.7h0M210.3 57.8h0M191.0 64.1h0M211.4 61.4h0M220.5 63.7h0M208.6 72.0h0M199.9 62.1h0M200.5 62.6h0M203.8 50.1h0M219.5 69.9h0M223.6 53.7h0M210.8 72.6h0M221.8 63.5h0M207.4 67.4h0M220.3 59.5h0M213.5 64.5h0M211.4 67.6h0M221.1 62.7h0M198.7 47.9h0M222.8 56.5h0M212.0 59.0h0M201.6 48.6h0M210.2 50.0h0M219.2 48.3h0M209.4 47.5h0M218.9 66.5h0M214.8 53.8h0M198.5 64.9h0M220.9 62.1h0M198.4 53.9h0M220.8 60.6h0M192.0 63.5h0M209.5 69.3h0M212.8 53.3h0M212.9 54.8h0M200.0 56.2h0M200.7 69.5h0M220.6 59.2h0M200.7 69.0h0M219.4 69.9h0M211.3 58.4h0M204.5 61.7h0M222.6 51.1h0M214.0 69.8h0M196.4 54.2h0M196.8 49.8h0M199.0 60.8h0M199.7 71.5h0M215.9 60.3h0M195.0 49.4h0M197.8 52.1h0M207.8 58.4h0M204.0 65.5h0M207.3 64.2h0M229.2 63.5h0M212.3 51.0h0M199.9 48.3h0M224.3 52.9h0M228.4 58.2h0M224.4 60.3h0M197.3 62.7h0M222.6 59.8h0M209.5 72.0h0M194.1 65.7h0M199.5 59.1h0M222.3 64.5h0M197.4 52.7h0M201.6 66.9h0M202.4 56.7h0M212.1 76.9h0M210.1 52.9h0M198.4 54.4h0M217.8 49.4h0M204.9 61.7h0M226.5 54.8h0M222.7 51.7h0M201.1 48.7h0M193.4 59.2h0M211.1 68.3h0M224.4 51.8h0M202.6 52.5h0M199.9 53.5h0M204.9 60.9h0M192.5 57.2h0M201.8 63.4h0M193.5 55.8h0M210.3 66.9h0M204.0 56.9h0M212.4 74.6h0M211.0 66.0h0M219.8 52.5h0M214.6 66.4h0M229.4 58.9h0M227.7 54.0h0M212.3 48.7h0M200.5 62.5h0M218.9 60.2h0M218.0 57.8h0M202.3 51.4h0M196.6 51.6h0M196.1 46.9h0M202.6 69.5h0M214.2 52.5h0M226.7 50.3h0M202.9 68.7h0M200.5 62.8h0M210.7 71.0h0M222.6 56.1h0M193.5 52.6h0M195.7 48.3h0M210.0 58.7h0M220.2 58.5h0M196.6 67.1h0M225.9 65.2h0M206.6 53.9h0M214.7 71.0h0M226.6 54.2h0M203.4 65.9h0M220.2 62.0h0M225.1 57.4h0M207.2 47.9h0M219.0 69.9h0M221.6 52.1h0M194.9 63.9h0M215.4 67.4h0M217.8 71.8h0M198.6 65.0h0M222.6 65.2h0M204.3 69.4h0M204.9 53.1h0M210.8 67.0h0M228.4 54.6h0M214.6 58.3h0M197.7 62.0h0M203.5 62.4h0M204.9 54.9h0M201.1 57.0h0M205.9 53.1h0M199.8 72.3h0M210.5 53.3h0M204.3 59.4h0M221.1 66.2h0M203.8 66.0h0M199.4 52.8h0M201.4 69.3h0M229.9 58.6h0M229.7 53.6h0M204.4 61.4h0M201.8 68.7h0M224.0 59.9h0M227.9 64.9h0M200.5 52.9h0M204.0 51.9h0M197.9 68.4h0M214.6 60.4h0M200.2 50.0h0M202.4 70.7h0M196.9 64.3h0M216.8 63.0h0M214.5 47.5h0M208.1 56.5h0M217.4 57.6h0M212.8 67.2h0M225.7 51.4h0M201.6 59.9h0M208.3 68.7h0M197.6 52.7h0M199.7 55.7h0M210.6 72.4h0M199.6 53.6h0M229.2 62.1h0M216.0 71.2h0M199.4 47.0h0M215.3 51.8h0M198.6 71.2h0M223.9 55.8h0M223.1 55.3h0M214.6 52.1h0M204.9 52.6h0M215.3 52.7h0M208.8 51.3h0M207.8 57.1h0M208.9 65.3h0M217.3 57.6h0M197.1 47.0h0M194.8 57.1h0M207.6 72.6h0M221.4 67.9h0M219.9 61.4h0M215.7 60.0h0M209.3 67.4h0M208.9 55.6h0M205.2 69.1h0M222.5 54.8h0M206.3 69.5h0M202.3 60.9h0M206.1 58.4h0M217.5 59.3h0M212.9 67.2h0M217.3 48.2h0M202.6 63.0h0M192.4 58.7h0M208.3 56.5h0M216.0 56.3h0M203.7 69.1h0M198.4 68.7h0M193.9 57.9h0M205.8 52.5h0M206.5 54.4h0M202.8 59.7h0M213.0 58.1h0M227.4 64.3h0M206.6 73.2h0M210.6 69.8h0M211.3 76.8h0M210.2 64.6h0M201.3 63.9h0M194.3 51.6h0M210.8 53.1h0M198.4 48.1h0M193.8 51.2h0M225.6 51.0h0M201.7 50.2h0M211.6 56.4h0M222.2 57.0h0M203.9 62.4h0M210.2 76.5h0M198.9 65.6h0M224.1 65.9h0M199.7 69.7h0M218.8 52.7h0M204.3 49.5h0M198.7 57.5h0M219.7 50.8h0M226.0 57.3h0M197.7 50.6h0M199.5 71.6h0M221.5 53.2h0M198.4 60.3h0M219.1 62.7h0M205.9 67.0h0M204.9 55.3h0M216.7 54.0h0M201.0 49.6h0M200.8 76.7h0M202.1 57.7h0M214.0 66.3h0M221.9 48.9h0M215.3 64.4h0M200.9 69.6h0M192.5 64.5h0M208.1 52.2h0M206.1 54.7h0M220.9 48.1h0M217.9 52.4h0M217.4 53.9h0M209.8 73.4h0M216.6 61.8h0M201.4 48.3h0M220.9 55.7h0M202.4 73.1h0M224.8 59.5h0M209.6 55.7h0M212.6 57.2h0M212.1 74.8h0M218.8 49.6h0M211.2 63.1h0M210.6 51.8h0M196.4 60.3h0M198.8 51.9h0M206.4 73.0h0M206.7 65.3h0M214.7 53.0h0M201.7 64.2h0M207.4 50.7h0M192.2 55.8h0M195.9 68.9h0M198.7 73.0h0M195.3 49.8h0M219.2 57.8h0M195.8 65.7h0M198.1 66.8h0M210.4 59.5h0M219.8 62.2h0M201.5 49.7h0M219.0 60.2h0M223.9 60.9h0M212.2 76.8h0M209.7 66.0h0M215.0 65.9h0M214.7 60.5h0M206.8 59.4h0M213.8 60.5h0M220.2 67.3h0M215.2 58.2h0M199.3 75.1h0M195.7 50.0h0M207.4 73.5h0M218.4 56.3h0M214.3 66.8h0M206.2 67.9h0M209.8 47.4h0M194.2 52.3h0M210.1 63.0h0M207.5 48.0h0M198.3 52.8h0M202.9 62.4h0M204.2 72.3h0M214.2 63.7h0M214.3 57.3h0M224.8 66.0h0M191.6 61.4h0M199.7 51.2h0M205.3 64.7h0M213.1 66.2h0M212.2 75.9h0M230.1 56.4h0M201.2 61.0h0M199.9 57.7h0M226.5 60.2h0M195.6 48.1h0M199.2 72.1h0M203.7 61.1h0M230.3 59.9h0M221.7 58.1h0M216.4 68.0h0M213.3 71.1h0M204.4 63.2h0M207.9 56.6h0M214.3 64.8h0M209.5 63.2h0M207.3 49.4h0M210.0 56.6h0M222.3 62.5h0M215.5 56.1h0M225.7 54.7h0M219.7 63.0h0M227.0 57.1h0M207.9 56.1h0M205.6 75.3h0M203.0 46.9h0M228.8 57.0h0M216.2 56.5h0M203.9 52.4h0M228.9 52.6h0M218.7 55.4h0M213.3 72.2h0M194.7 57.9h0M198.7 52.6h0M198.9 70.4h0M206.2 57.2h0M217.4 67.9h0M193.8 66.4h0M218.0 66.1h0M199.6 55.9h0M225.8 53.0h0M200.2 69.5h0M193.7 59.1h0M205.7 60.9h0M217.7 61.5h0M209.4 71.3h0M201.6 65.7h0M218.5 69.7h0M218.4 52.1h0M221.4 65.8h0M205.2 57.7h0M218.3 62.5h0M205.9 76.5h0M196.1 64.3h0M201.8 65.7h0M212.6 62.1h0M202.8 47.9h0M195.5 66.7h0M197.3 54.7h0M211.0 51.5h0M202.9 46.7h0M221.8 68.3h0M229.0 53.7h0M218.2 60.6h0M198.5 63.1h0M209.2 49.2h0M224.8 49.5h0M226.6 56.3h0M212.2 49.9h0M225.0 48.5h0M207.7 70.2h0M202.5 61.4h0M195.2 58.3h0M193.0 60.6h0M198.9 49.0h0M215.2 73.0h0M205.3 58.4h0M217.0 68.0h0M219.4 71.1h0M205.3 56.8h0M225.3 60.8h0M191.6 58.7h0M211.1 56.9h0M215.8 61.7h0M198.1 48.9h0M197.0 62.6h0M223.5 58.6h0M203.6 64.9h0M200.8 61.0h0M221.2 59.6h0M196.5 62.7h0M206.1 59.7h0M204.9 74.6h0M203.9 59.1h0M205.4 70.7h0M211.2 65.9h0M222.5 65.7h0M204.8 53.6h0M201.6 46.9h0M200.4 58.4h0M205.3 65.3h0M214.7 70.5h0M199.8 62.2h0M204.9 68.6h0M217.2 51.2h0M198.2 65.0h0" stroke="#f49090" stroke-width="1.0" stroke-linecap="round" stroke-opacity="0.55" fill="none"/>
<path d="M181.4 53.2h0M182.7 54.7h0M191.4 56.1h0M186.0 53.6h0M184.3 50.5h0M187.2 58.3h0M179.6 57.1h0M185.2 53.4h0M182.8 54.0h0M190.5 55.2h0M189.7 56.7h0M187.0 53.8h0M183.3 51.1h0M186.6 49.3h0M186.3 52.6h0M176.5 61.0h0M188.1 48.7h0M181.8 56.8h0M190.3 48.9h0M182.3 60.2h0M184.3 50.6h0M191.4 52.3h0M188.9 61.8h0M188.8 60.4h0M188.8 60.4h0M177.6 61.0h0M188.8 55.6h0M184.3 52.2h0M186.5 58.5h0M187.4 55.4h0M188.9 56.4h0M180.3 52.1h0M187.2 48.9h0M175.7 60.0h0M187.2 49.2h0M188.5 50.0h0M183.3 51.3h0M191.4 54.2h0M187.8 59.6h0M175.3 59.1h0M182.1 55.8h0M191.1 55.3h0M190.4 54.5h0M188.8 52.0h0M185.2 49.6h0M185.1 55.3h0M185.2 56.5h0M190.2 52.7h0M187.5 52.5h0M187.2 52.2h0M187.1 52.3h0M187.1 54.3h0M183.0 50.8h0M177.4 61.0h0M185.4 59.0h0M187.2 56.9h0M188.6 48.5h0M186.0 55.8h0M191.2 58.5h0M187.6 50.4h0M183.7 49.7h0M190.6 53.9h0M182.2 60.2h0M181.3 57.3h0M187.1 56.3h0M192.8 49.8h0M178.8 54.7h0" stroke="#5cb88a" stroke-width="1.0" stroke-linecap="round" stroke-opacity="0.55" fill="none"/>
<path d="M220.5 72.2h0M218.7 97.5h0M221.3 99.4h0M215.0 87.3h0M228.2 83.2h0M226.6 88.1h0M207.0 90.6h0M225.3 90.8h0M217.1 85.2h0M213.6 94.9h0M229.6 71.6h0M207.2 82.5h0M228.5 92.6h0M212.5 99.2h0M215.7 75.1h0M226.7 93.3h0M222.0 94.0h0M220.3 83.9h0M203.4 80.0h0M220.0 74.3h0M230.7 73.7h0M210.6 91.2h0M211.5 94.3h0M217.5 78.2h0M219.9 97.9h0M217.2 79.7h0M223.0 79.1h0M225.5 80.7h0M211.5 88.0h0M211.8 91.1h0M227.5 92.7h0M213.6 85.9h0M229.0 66.5h0M219.3 78.5h0M213.5 86.5h0M223.2 71.1h0M225.7 75.7h0M216.3 86.7h0M228.4 81.4h0M228.6 81.5h0M223.4 82.1h0M225.6 88.3h0M224.8 68.7h0M223.9 94.8h0M230.0 78.8h0M209.4 87.3h0M218.4 95.9h0M215.2 75.0h0M206.8 78.4h0M206.2 83.9h0M206.0 82.3h0M212.2 82.4h0M215.2 75.8h0M210.7 88.7h0M208.9 86.9h0M215.8 80.4h0M225.8 72.5h0M224.3 72.1h0M209.0 77.1h0M224.7 96.3h0M231.3 72.5h0M212.7 83.2h0M211.8 86.4h0M218.9 93.3h0M214.5 79.9h0M209.0 89.5h0M209.3 95.1h0M213.1 90.6h0M214.1 81.9h0M223.3 71.5h0M212.0 93.4h0M216.0 78.4h0M217.9 82.7h0M224.5 69.8h0M216.2 74.4h0M229.7 89.2h0M213.3 79.5h0M226.3 71.2h0M226.1 86.4h0M223.4 74.3h0M214.2 100.3h0M220.5 82.9h0M218.9 73.3h0M214.0 85.2h0M224.2 84.9h0M226.8 81.5h0M222.9 72.6h0M203.4 80.2h0M215.0 99.8h0M224.9 78.8h0M214.9 96.0h0M206.0 83.9h0M224.6 71.9h0M216.6 95.2h0M210.3 84.4h0M226.7 69.3h0M219.1 89.7h0M202.6 79.1h0M216.2 88.7h0M219.3 81.3h0M218.3 75.1h0M213.5 79.3h0M217.5 94.9h0M216.8 81.6h0M228.9 72.6h0M207.7 77.1h0M228.6 72.5h0M214.7 98.5h0M207.6 80.7h0M223.9 71.5h0M221.5 88.9h0M223.2 91.5h0M219.1 96.4h0M218.0 98.7h0M224.3 89.2h0M209.1 78.3h0M231.2 65.2h0M222.0 88.1h0M221.1 85.1h0M200.9 77.5h0M207.8 86.4h0M225.1 92.7h0M206.1 81.2h0M222.4 82.1h0M213.0 77.4h0M227.0 78.3h0M228.4 90.9h0M222.1 85.2h0M224.2 98.4h0M228.0 90.2h0M205.9 78.6h0M209.3 82.5h0M224.3 88.0h0M206.2 84.9h0M219.5 80.8h0M208.5 90.1h0M226.3 71.2h0M216.3 94.0h0M217.7 98.2h0M212.5 83.6h0M206.9 81.5h0M210.9 98.4h0M225.3 71.3h0M220.7 93.2h0M201.5 78.6h0M211.1 91.3h0M209.6 96.8h0M216.1 98.3h0M228.2 68.1h0M210.6 80.8h0M229.3 87.1h0M216.2 89.9h0M214.5 76.2h0M214.8 84.7h0M209.3 78.0h0M225.9 77.9h0M225.2 97.8h0M228.7 94.0h0M218.2 79.7h0M227.9 67.4h0M226.2 67.7h0M211.1 91.8h0M222.1 84.2h0M227.0 81.2h0M209.0 82.9h0M226.9 71.7h0M213.0 76.8h0M222.2 71.3h0M223.7 71.4h0M211.4 90.5h0M209.6 85.0h0M221.4 96.8h0M204.9 81.4h0M221.6 78.4h0M221.6 72.0h0M206.9 87.8h0M221.9 88.1h0M217.4 90.5h0M217.1 93.9h0M214.8 83.8h0M227.8 81.4h0M213.3 95.1h0M227.2 86.4h0M226.1 68.2h0M215.7 90.6h0M230.7 70.1h0M230.0 64.2h0M216.0 83.5h0M229.0 71.6h0M211.7 85.5h0M222.3 78.9h0M210.3 87.9h0M225.0 95.2h0M210.6 96.1h0M226.7 89.5h0M223.7 73.3h0M219.4 79.3h0M224.5 81.0h0M203.1 78.8h0M208.0 77.2h0M227.9 89.5h0M223.1 78.1h0M226.6 72.1h0M220.4 75.1h0M217.1 87.4h0M215.6 80.7h0M216.5 98.3h0M225.4 80.8h0M227.3 91.4h0M212.8 83.8h0M216.0 87.2h0M211.8 80.4h0M211.2 89.5h0M220.7 88.9h0M205.8 86.2h0M222.0 77.0h0M216.0 100.0h0M208.9 81.9h0M228.5 93.0h0M230.7 63.3h0M225.9 74.0h0M222.5 91.8h0M213.1 95.5h0M228.5 90.9h0M215.5 89.9h0M211.5 87.5h0M227.2 81.7h0M219.7 82.9h0M213.5 90.3h0M225.2 85.7h0M217.9 93.0h0M217.4 87.5h0M219.7 95.4h0M220.9 92.1h0M212.6 81.3h0M222.5 99.1h0M202.1 77.7h0M213.6 90.4h0M222.3 71.3h0M225.6 89.2h0M214.7 88.0h0M213.6 80.2h0M226.4 86.7h0M212.7 81.3h0M217.1 98.1h0M209.0 90.3h0M220.6 88.8h0M210.5 80.8h0M220.4 87.6h0M225.5 67.7h0M226.9 69.2h0M223.7 80.5h0M230.0 68.8h0M216.7 92.8h0M230.4 82.6h0M225.1 73.0h0M205.7 88.3h0M208.5 93.9h0M228.6 65.6h0M212.1 89.9h0M209.1 96.7h0M227.2 94.8h0M219.3 91.1h0M221.7 87.3h0M209.7 82.6h0M226.1 83.0h0M222.7 86.7h0M213.4 81.1h0M215.5 76.6h0M226.1 87.2h0M219.1 77.7h0M221.7 73.2h0M229.1 86.2h0M206.6 81.5h0M227.0 88.8h0M215.3 94.0h0M222.8 97.3h0M214.0 93.9h0M227.7 90.5h0M224.5 80.3h0M223.7 82.3h0M221.2 90.9h0M216.9 96.9h0M207.7 93.5h0M226.1 71.9h0M204.2 81.0h0M219.5 81.5h0M206.9 82.6h0M229.8 68.9h0M225.0 86.3h0M214.0 75.7h0M206.6 82.6h0M204.6 83.9h0M210.6 92.0h0M226.7 85.9h0M216.2 96.6h0M208.9 92.2h0M227.5 95.7h0M226.2 94.8h0M206.1 81.2h0M224.1 80.0h0M217.2 78.7h0M229.9 69.4h0M230.9 65.2h0M217.7 76.4h0M210.3 78.4h0M229.9 74.8h0M226.1 77.7h0M223.1 87.9h0M226.8 94.1h0M215.2 82.6h0M230.8 73.8h0M212.4 97.2h0M209.7 86.3h0M210.3 80.2h0M215.9 96.2h0M202.4 79.4h0M223.6 95.6h0M207.6 77.0h0M221.2 89.6h0M203.1 78.2h0M217.5 79.8h0M210.7 89.3h0M221.7 86.4h0M211.8 77.1h0M226.5 86.6h0" stroke="#d0cc50" stroke-width="1.0" stroke-linecap="round" stroke-opacity="0.55" fill="none"/>
<path d="M189.8 57.5h0M186.2 50.9h0M180.5 60.2h0M177.7 59.7h0M185.6 58.0h0M187.9 53.5h0M192.9 49.5h0M180.2 59.8h0M191.8 52.5h0M179.7 52.8h0M181.4 54.8h0M188.4 55.8h0M174.8 59.9h0M178.9 58.0h0M189.2 51.9h0M179.0 60.1h0M191.0 60.1h0M193.3 49.9h0M179.0 59.0h0M185.4 54.0h0M189.7 50.1h0M181.9 55.4h0M182.5 49.9h0M188.8 55.0h0M192.2 51.8h0M189.3 58.9h0M182.3 51.8h0M181.3 55.5h0M191.4 57.5h0M185.4 51.6h0M191.5 56.4h0M182.3 52.4h0M186.7 54.2h0M189.1 48.3h0M178.0 60.8h0M175.8 61.2h0M186.0 60.7h0M193.0 48.0h0M190.1 61.3h0M183.9 59.7h0M183.3 57.4h0M182.2 54.0h0M179.6 59.5h0M177.8 54.8h0M178.2 54.0h0M185.9 53.0h0M186.1 50.4h0M188.5 61.1h0M186.4 52.2h0M190.9 49.9h0M178.9 57.2h0M188.6 53.5h0M179.5 61.0h0M179.5 54.8h0M188.2 50.3h0M177.0 58.3h0M188.2 51.0h0M189.2 62.3h0M190.8 55.6h0M180.7 56.7h0M186.6 60.6h0M190.0 62.7h0M191.5 49.1h0M183.2 57.1h0M187.4 49.6h0M181.3 59.3h0M189.9 55.8h0" stroke="#2aa06a" stroke-width="1.0" stroke-linecap="round" stroke-opacity="0.55" fill="none"/>
<path d="M207.2 83.8h0M223.8 80.6h0M207.9 80.6h0M230.7 64.9h0M216.8 82.3h0M225.3 90.2h0M223.7 71.9h0M207.8 92.3h0M204.1 78.2h0M207.1 90.2h0M228.6 71.6h0M212.9 80.0h0M217.7 96.7h0M204.9 81.0h0M211.9 91.7h0M206.9 86.6h0M215.8 91.4h0M207.5 91.0h0M229.9 75.7h0M209.3 80.8h0M211.9 95.9h0M225.1 72.8h0M224.8 74.9h0M230.4 69.7h0M213.5 77.6h0M221.3 86.8h0M205.9 85.7h0M230.2 78.0h0M223.0 82.0h0M224.2 78.0h0M226.8 79.9h0M215.0 89.0h0M223.2 84.0h0M209.5 87.0h0M208.5 78.1h0M225.0 72.6h0M217.5 89.1h0M230.3 86.4h0M220.6 82.5h0M220.0 93.4h0M225.7 89.6h0M217.4 97.4h0M220.0 83.1h0M226.6 97.6h0M225.0 79.1h0M204.5 83.3h0M222.7 87.1h0M211.3 89.4h0M225.6 92.7h0M220.6 79.7h0M202.0 78.7h0M210.4 98.6h0M215.1 85.1h0M217.1 90.1h0M205.8 88.9h0M214.9 97.6h0M215.6 92.6h0M224.2 69.2h0M220.9 79.5h0M227.0 72.6h0M227.2 71.4h0M219.1 95.5h0M212.2 80.4h0M217.3 79.4h0M227.6 71.5h0M217.6 78.3h0M224.1 92.0h0M203.6 82.0h0M228.5 90.7h0M208.8 77.3h0M213.2 76.9h0M214.4 90.6h0M205.0 78.5h0M216.0 78.5h0M227.9 86.3h0M229.3 81.1h0M213.4 92.5h0M217.3 93.6h0M225.3 92.0h0M228.3 80.0h0M203.4 79.7h0M223.0 85.5h0M216.6 84.9h0M228.9 83.8h0M207.8 86.6h0M228.8 89.9h0M222.4 99.1h0M227.6 90.2h0M219.7 89.1h0M207.0 92.5h0M205.4 83.2h0M218.2 78.9h0M225.7 83.8h0M210.4 87.5h0M214.3 91.5h0M210.6 84.8h0M220.8 76.7h0M226.1 71.7h0M227.0 91.1h0M225.4 70.3h0M226.4 72.9h0M216.9 74.0h0M229.4 89.1h0M226.1 75.7h0M225.2 85.4h0M230.8 63.2h0M219.3 82.5h0M217.9 90.4h0M220.9 97.7h0M221.6 79.9h0M216.3 79.4h0M218.0 82.3h0M213.5 83.3h0M206.0 88.1h0M226.2 79.4h0M227.3 74.1h0M212.0 99.4h0M227.7 85.5h0M219.1 88.3h0M205.9 85.3h0M229.1 75.7h0M220.5 71.6h0M218.7 98.6h0M209.8 83.1h0M208.2 79.7h0M224.4 69.1h0M219.6 91.5h0M223.9 76.8h0M219.1 95.6h0M226.3 77.8h0M210.9 95.3h0M226.8 95.3h0M224.5 79.0h0M227.0 82.9h0M213.9 77.4h0M225.3 91.1h0M216.5 78.5h0M227.8 75.0h0M212.4 93.0h0M211.5 99.0h0M212.9 79.0h0M220.8 75.6h0M229.1 68.8h0M216.5 94.3h0M226.5 86.1h0M216.1 92.5h0M218.8 96.9h0M228.1 66.9h0M223.9 81.8h0M207.9 82.3h0M216.7 83.0h0M213.2 90.0h0M213.0 85.1h0M222.4 97.5h0M231.4 73.4h0M227.7 76.4h0M225.6 71.4h0M227.3 68.2h0M214.9 98.7h0M226.3 82.2h0M203.8 80.6h0M224.8 82.1h0M214.8 98.8h0M221.7 87.5h0M228.6 78.4h0M220.7 73.4h0M211.0 86.5h0M218.4 79.6h0M220.0 81.2h0M225.5 80.8h0M222.3 82.8h0M226.3 69.4h0M214.1 85.1h0M229.0 74.4h0M222.8 92.6h0M221.9 85.2h0M211.4 77.2h0M222.4 78.3h0M227.0 79.0h0M224.9 84.7h0M225.2 80.3h0M224.1 81.3h0M208.4 88.8h0M214.7 93.5h0M210.9 82.0h0M217.1 75.1h0M230.6 66.7h0M215.7 80.4h0M216.6 86.0h0M205.8 86.6h0M203.0 80.7h0M208.2 90.8h0M226.8 78.6h0M229.1 79.8h0M213.4 81.9h0M208.8 96.3h0M228.0 86.4h0M212.4 99.5h0M230.8 65.2h0M226.4 85.0h0M224.7 92.1h0M223.6 86.7h0M222.0 97.4h0M228.1 65.7h0M229.0 87.1h0M209.5 82.4h0M228.6 95.0h0M226.3 76.2h0M227.1 85.4h0M222.9 71.0h0M208.5 94.5h0M231.3 72.7h0M209.0 96.0h0M208.7 90.2h0M208.3 79.8h0M219.1 83.7h0M213.3 89.9h0M227.3 84.5h0M221.1 99.5h0M215.1 92.8h0M214.2 79.0h0M229.8 83.2h0M229.2 92.6h0M225.6 91.0h0M211.5 96.0h0M214.2 82.1h0M223.2 92.2h0M229.5 88.1h0M224.6 86.3h0M225.5 74.2h0M226.0 88.9h0M228.7 71.0h0M220.0 81.5h0M212.6 100.1h0M230.6 71.2h0M211.0 80.1h0M205.7 86.0h0M208.3 92.5h0M227.7 90.5h0M207.1 80.6h0M227.9 70.7h0M222.3 72.4h0M213.6 85.0h0M209.3 94.3h0M221.7 77.5h0M211.8 94.7h0M223.9 98.6h0M215.2 78.9h0M218.0 74.2h0M225.8 96.3h0M222.4 80.2h0M230.8 66.4h0M215.5 83.0h0M209.9 90.8h0M220.9 78.9h0M228.7 81.9h0M211.2 78.6h0M229.2 86.2h0M215.5 75.5h0M227.9 82.7h0M212.0 86.9h0M226.5 86.7h0M219.0 92.2h0M221.7 74.7h0M214.0 77.4h0M215.7 90.8h0M225.2 75.0h0M227.4 68.1h0M224.2 70.7h0M230.1 86.5h0M222.9 90.5h0M230.6 78.8h0M219.9 86.5h0M229.6 77.5h0M215.8 78.4h0M212.0 88.9h0M229.1 74.5h0M224.6 73.2h0M221.5 72.9h0M229.2 86.7h0M210.2 89.1h0M219.4 72.2h0M228.9 70.1h0M207.4 90.4h0M209.5 95.4h0M223.4 78.2h0M207.7 96.3h0M225.3 82.4h0M218.9 75.9h0M227.2 83.0h0M230.3 63.0h0M229.4 83.5h0M222.0 94.9h0M221.1 76.8h0M216.1 96.0h0M215.1 75.0h0M219.3 72.2h0M223.5 72.1h0M224.8 82.5h0M229.0 85.2h0M228.0 96.2h0M223.8 80.0h0M209.3 80.2h0M209.5 86.9h0M224.3 82.0h0" stroke="#bfbc30" stroke-width="1.0" stroke-linecap="round" stroke-opacity="0.55" fill="none"/>
<path d="M182.4 70.7h0M172.4 79.4h0M185.1 63.4h0M186.0 63.4h0M173.3 72.8h0M181.2 70.9h0M176.1 75.3h0M183.3 67.1h0M171.5 71.9h0M180.2 61.1h0M173.7 63.4h0M178.4 62.7h0M174.9 67.9h0M174.5 79.0h0M176.0 83.7h0M176.7 68.8h0M176.0 79.2h0M176.1 73.6h0M175.1 62.7h0M182.2 69.9h0M173.0 72.8h0M175.6 74.2h0M173.9 83.4h0M177.7 61.2h0M173.1 85.2h0M180.0 78.0h0M176.0 84.1h0M173.1 85.2h0M172.6 83.6h0M175.1 63.6h0M184.3 61.5h0M185.4 64.3h0M172.0 84.3h0M184.6 72.9h0M177.4 69.7h0M174.8 74.3h0M179.4 79.0h0M180.7 66.9h0M175.4 63.9h0M177.1 69.1h0M174.9 66.8h0M181.2 70.2h0M173.8 65.8h0M173.8 75.4h0M171.7 74.4h0M171.8 84.0h0M176.5 70.1h0M176.6 74.5h0M174.9 76.2h0M175.6 76.4h0M179.2 71.9h0M181.8 75.5h0M179.6 74.7h0M175.6 65.3h0M172.3 87.1h0M172.0 77.0h0M177.8 64.9h0M178.4 73.3h0M185.4 70.2h0M171.6 74.7h0M175.4 84.0h0M172.6 68.4h0M175.4 76.6h0M176.8 78.5h0M180.4 69.6h0M184.4 70.9h0M180.9 77.0h0M173.1 74.6h0M172.5 70.1h0M173.0 73.9h0M174.0 74.8h0M173.6 79.8h0M181.0 69.8h0M175.8 79.7h0M179.3 68.1h0M174.1 72.0h0M174.7 75.1h0M174.1 61.8h0M181.8 62.9h0M174.9 61.5h0M171.2 75.1h0M175.6 65.9h0M176.2 62.1h0M176.5 61.7h0" stroke="#3a9edc" stroke-width="1.0" stroke-linecap="round" stroke-opacity="0.55" fill="none"/>
<path d="M222.7 72.4h0M216.0 97.3h0M222.4 82.4h0M225.5 91.0h0M218.6 98.0h0M226.1 69.2h0M218.6 78.3h0M211.7 86.7h0M207.3 93.5h0M213.0 83.1h0M204.6 85.0h0M208.9 90.7h0M222.0 93.8h0M216.3 80.9h0M204.1 82.6h0M214.4 87.3h0M215.9 96.2h0M209.7 95.1h0M206.6 85.8h0M212.0 99.9h0M211.7 98.6h0M226.3 68.2h0M230.5 62.7h0M208.2 83.9h0M227.5 90.8h0M228.6 85.0h0M207.3 80.1h0M228.3 84.3h0M228.5 92.3h0M222.9 83.0h0M216.1 85.6h0M219.6 79.3h0M226.0 68.5h0M224.0 73.1h0M220.3 94.3h0M230.1 67.6h0M217.5 87.4h0M218.7 82.1h0M220.8 98.6h0M220.9 71.5h0M225.6 72.3h0M214.7 78.7h0M223.9 98.4h0M221.0 78.6h0M218.0 79.4h0M210.8 79.9h0M213.9 97.6h0M222.8 92.5h0M213.9 95.2h0M208.4 81.8h0M204.8 78.4h0M209.1 88.8h0M208.7 91.2h0M206.6 79.0h0M219.3 96.8h0M204.2 81.6h0M230.6 69.3h0M212.2 90.0h0M213.7 94.5h0M215.6 89.8h0M225.5 82.1h0M212.5 78.7h0M221.2 90.5h0M225.6 77.6h0M226.6 92.3h0M229.3 76.4h0M229.5 81.4h0M207.4 91.3h0M222.6 81.2h0M210.8 86.2h0M227.2 78.1h0M213.4 82.7h0M215.9 87.5h0M213.3 97.9h0M219.9 96.9h0M216.7 80.2h0M222.6 82.3h0M216.3 94.9h0M220.5 84.5h0M208.8 84.9h0M225.1 90.3h0M214.9 87.5h0M218.6 73.3h0M209.0 93.6h0M220.6 82.7h0M224.2 93.6h0M230.7 79.4h0M216.5 83.9h0M222.3 77.3h0M228.4 90.6h0M216.7 97.4h0M221.1 77.6h0M224.6 74.6h0M216.1 84.2h0M228.1 88.6h0M216.1 90.1h0M219.1 96.8h0M221.0 74.9h0M222.9 72.5h0M230.4 70.5h0M214.8 82.0h0M208.6 79.4h0M229.7 85.1h0M210.0 96.9h0M218.5 88.7h0M224.3 90.1h0M225.8 69.8h0M217.7 79.1h0M226.9 81.3h0M217.3 99.0h0M209.0 94.9h0M230.8 76.2h0M225.7 94.6h0M216.5 96.7h0M213.3 86.2h0M230.5 70.4h0M224.2 92.6h0M208.4 82.4h0M229.6 65.2h0M227.9 95.2h0M219.1 92.2h0M226.5 71.9h0M214.9 77.3h0M207.2 88.3h0M218.8 74.6h0M221.9 71.6h0M220.7 72.4h0M213.9 89.5h0M213.6 97.7h0M225.2 96.4h0M209.8 92.0h0M209.4 96.9h0M209.0 98.7h0M225.2 88.5h0M215.7 96.0h0M212.3 87.7h0M227.2 68.6h0M219.5 85.1h0M217.5 93.0h0M225.6 96.4h0M216.0 87.4h0M206.1 77.7h0M210.6 93.5h0M219.0 97.2h0M224.1 81.6h0M213.7 91.6h0M212.5 80.8h0M220.5 99.3h0M217.0 94.8h0M206.4 83.2h0M207.3 80.7h0M219.4 89.3h0M214.8 85.2h0M223.8 81.3h0M230.3 84.6h0M209.9 82.4h0M209.8 78.4h0M222.3 75.8h0M219.6 73.1h0M221.6 83.3h0M222.2 85.8h0M223.0 76.0h0M205.1 86.7h0M213.7 93.2h0M220.8 81.1h0M224.4 76.0h0M228.7 87.7h0M210.3 99.2h0M221.1 96.6h0M212.0 77.5h0M213.3 77.4h0M225.8 95.4h0M207.0 77.4h0M213.8 87.1h0M215.8 80.6h0M217.6 95.1h0M217.2 79.6h0M218.2 84.0h0M217.2 82.5h0M226.7 78.4h0M221.8 87.2h0M225.3 78.0h0M207.3 93.4h0M209.1 97.7h0M222.8 87.0h0M226.1 75.0h0M226.7 88.3h0M228.2 76.4h0M223.7 85.3h0M208.0 78.1h0M208.6 95.4h0M208.3 82.2h0M224.9 75.4h0M214.2 85.9h0M229.2 81.4h0M225.2 74.7h0M228.7 88.3h0M214.9 85.0h0M216.1 78.8h0M230.3 69.0h0M223.8 98.8h0M224.4 71.8h0M222.6 75.3h0M218.0 82.2h0M226.4 87.3h0M219.5 75.0h0M209.8 84.8h0M217.1 89.8h0M231.0 68.9h0M212.5 86.8h0M221.9 92.7h0M227.8 76.7h0M217.3 99.5h0M221.5 85.7h0M217.9 85.1h0M231.2 76.5h0M205.9 87.4h0M221.5 71.8h0M210.6 90.6h0M222.2 92.4h0M226.7 78.0h0M222.9 88.4h0M230.3 82.1h0M230.0 84.8h0M202.0 78.3h0M213.7 94.1h0M224.9 75.4h0M211.8 96.8h0M219.6 96.9h0M218.3 97.4h0M210.2 95.9h0M226.5 81.3h0M225.0 83.1h0M218.9 77.4h0M211.4 81.6h0M205.5 81.9h0M216.6 74.2h0M208.0 87.4h0M202.1 78.9h0M221.9 70.8h0M227.0 73.0h0M217.9 87.0h0M230.9 68.5h0M224.3 98.8h0M206.9 86.7h0M213.5 94.6h0M207.5 77.5h0M221.2 78.1h0M225.0 85.5h0M230.2 85.2h0M216.1 78.8h0M217.7 85.4h0M223.3 88.4h0M216.7 88.2h0M213.8 89.5h0M230.3 72.2h0M224.3 75.2h0M218.6 82.9h0M207.9 94.9h0M216.7 78.2h0M223.5 76.2h0M212.4 88.6h0M222.2 88.8h0M214.3 82.7h0M223.4 94.6h0M221.8 83.2h0M203.1 80.0h0M222.4 82.0h0M206.4 80.8h0M212.1 82.2h0M220.5 82.0h0M222.0 70.7h0M218.8 82.0h0M215.8 83.4h0M219.9 75.7h0M218.3 77.5h0M209.7 97.6h0M211.3 88.0h0M220.0 73.6h0M207.5 92.3h0M218.1 82.3h0M221.2 93.9h0M207.9 96.4h0M212.4 93.0h0M204.9 77.3h0M217.9 88.1h0M208.3 80.6h0M220.7 73.2h0M213.2 79.6h0M216.1 90.8h0M225.4 81.1h0M228.4 92.8h0M206.1 87.0h0M221.5 76.3h0M214.8 84.1h0M226.1 85.2h0M228.8 95.5h0M226.5 88.4h0M226.8 88.4h0M229.8 66.0h0M227.1 89.5h0M218.9 98.2h0M212.6 84.5h0M202.3 78.5h0M221.4 85.8h0" stroke="#b0b020" stroke-width="1.0" stroke-linecap="round" stroke-opacity="0.55" fill="none"/>
<path d="M173.5 79.4h0M178.8 77.8h0M178.1 66.7h0M174.8 66.1h0M173.2 75.7h0M173.1 76.7h0M184.1 71.6h0M176.3 76.4h0M171.8 71.7h0M182.6 73.7h0M176.0 82.4h0M174.5 81.7h0M171.3 83.9h0M182.8 61.5h0M175.8 80.0h0M174.3 74.9h0M170.9 85.0h0M176.9 78.8h0M182.7 68.7h0M177.0 73.1h0M173.5 83.0h0M185.4 63.3h0M171.6 77.2h0M185.4 73.3h0M172.1 85.4h0M179.1 79.6h0M177.9 65.4h0M173.0 66.6h0M176.2 67.3h0M182.2 71.4h0M174.1 62.2h0M175.1 70.0h0M177.5 79.6h0M175.0 75.2h0M174.3 70.2h0M173.9 64.2h0M180.2 66.8h0M185.6 62.0h0M173.4 70.5h0M176.6 70.7h0M181.6 72.2h0M178.4 80.5h0M180.7 76.0h0M182.8 68.4h0M180.1 72.7h0M173.2 83.8h0M176.2 76.8h0M177.2 82.5h0M182.2 73.2h0M176.4 66.7h0M183.8 65.5h0M177.4 73.4h0M175.8 78.0h0M184.7 63.8h0M171.7 72.5h0M182.7 64.8h0M176.5 70.5h0M177.0 69.6h0M170.9 78.5h0M182.8 71.8h0M170.7 80.4h0M180.7 75.7h0M172.2 75.0h0M174.4 83.7h0M172.6 76.8h0M179.6 74.1h0M177.2 62.4h0M181.9 61.9h0M176.6 70.4h0M176.3 82.2h0M171.4 71.1h0M178.7 77.0h0M175.9 76.2h0M174.9 85.3h0M178.3 62.2h0M172.8 70.1h0M183.9 69.2h0M185.1 65.9h0M178.6 77.3h0M182.1 67.2h0M182.7 69.6h0" stroke="#7cc0ec" stroke-width="1.0" stroke-linecap="round" stroke-opacity="0.55" fill="none"/>
<path d="M183.1 59.3h0M186.2 56.9h0M185.0 53.7h0M188.6 48.7h0M175.4 59.7h0M178.9 54.3h0M178.6 56.1h0M183.0 51.7h0M180.1 56.1h0M194.3 46.7h0M179.3 53.7h0M179.9 60.3h0M180.1 56.6h0M174.4 60.8h0M188.0 49.3h0M181.9 59.1h0M179.6 60.9h0M191.8 56.1h0M190.5 56.7h0M188.7 48.5h0M188.8 56.4h0M191.2 54.8h0M185.5 60.1h0M176.4 59.0h0M180.1 57.3h0M186.1 52.7h0M190.5 52.0h0M174.8 61.1h0M179.7 55.6h0M181.3 53.3h0M181.5 52.6h0M184.9 54.8h0M187.1 53.5h0M178.3 59.2h0M188.5 50.4h0M189.1 48.0h0M189.4 50.0h0M185.6 58.0h0M182.8 49.9h0M186.6 54.9h0M180.4 56.8h0M181.9 60.2h0M186.1 50.4h0M192.6 52.7h0M178.9 57.7h0M192.5 53.5h0M185.0 49.0h0M176.5 60.1h0M184.5 55.7h0M189.6 62.3h0M191.7 54.0h0M188.4 49.1h0M187.6 62.2h0M190.3 53.7h0M182.7 55.9h0M192.3 50.5h0M191.1 56.2h0M189.4 56.5h0M179.5 53.4h0M179.2 55.1h0M189.2 59.8h0M184.4 54.2h0M192.4 47.5h0M181.8 58.8h0M179.3 53.1h0M175.9 59.2h0M180.5 54.8h0M188.9 58.9h0M183.2 49.8h0" stroke="#3aa878" stroke-width="1.0" stroke-linecap="round" stroke-opacity="0.55" fill="none"/>
<path d="M173.0 82.5h0M183.3 63.2h0M180.8 73.1h0M170.8 80.1h0M177.4 62.3h0M184.4 72.5h0M174.6 79.5h0M187.2 63.1h0M182.0 63.7h0M180.9 68.8h0M171.2 77.3h0M174.3 64.9h0M174.7 70.0h0M179.1 69.7h0M185.6 61.3h0M172.1 72.5h0M183.6 66.4h0M184.0 71.9h0M179.1 65.5h0M182.5 76.1h0M184.0 62.1h0M182.1 64.3h0M181.0 66.6h0M176.8 82.3h0M184.2 61.7h0M173.0 77.6h0M174.2 62.3h0M180.4 65.9h0M181.0 66.0h0M172.5 82.0h0M184.0 73.6h0M171.2 75.7h0M181.5 72.1h0M177.4 73.3h0M184.2 62.1h0M173.9 74.3h0M186.4 64.9h0M181.7 65.5h0M172.9 68.1h0M175.4 80.4h0M183.7 66.7h0M180.9 70.6h0M184.7 61.9h0M178.8 62.3h0M174.8 78.0h0M176.8 64.7h0M174.6 85.7h0M175.4 62.6h0M170.5 84.6h0M180.1 65.4h0M170.7 85.3h0M171.6 75.4h0M172.6 68.4h0M173.0 71.5h0M172.9 80.7h0M176.3 77.9h0M181.9 76.3h0M182.8 61.3h0M178.4 64.6h0M178.6 79.4h0M183.8 61.8h0M174.3 70.4h0M171.2 81.9h0M176.7 62.9h0M175.2 82.2h0M178.7 76.0h0M173.0 67.9h0" stroke="#4aa8e0" stroke-width="1.0" stroke-linecap="round" stroke-opacity="0.55" fill="none"/>
<circle cx="178.5" cy="109.4" r="3" fill="#22aabf"/>
<text x="184.6" y="111.8" font-size="6.5" fill="#444" text-anchor="start" font-weight="normal" font-style="normal"  stroke="#444" stroke-width="0.14">PS</text>
<circle cx="213" cy="109.4" r="3" fill="#ef6a6e"/>
<text x="219" y="111.8" font-size="6.5" fill="#444" text-anchor="start" font-weight="normal" font-style="normal"  stroke="#444" stroke-width="0.14">PNR</text>
<g filter="url(#bl1)">
<path d="M200.8 131.9h0M209.4 130.6h0M175.6 134.7h0M211.8 122.0h0M207.6 152.0h0M212.8 162.4h0M219.0 152.5h0M196.7 129.8h0M213.2 123.2h0M212.8 142.5h0M186.9 128.8h0M205.8 139.8h0M208.6 155.3h0M220.3 162.0h0M178.1 148.5h0M202.0 122.5h0M206.3 139.8h0M221.1 161.2h0M193.4 130.8h0M172.5 145.6h0M202.7 142.7h0M199.2 139.4h0M171.6 141.6h0M209.9 145.7h0M200.9 133.8h0M179.2 134.3h0M171.4 144.7h0M172.0 144.3h0M207.4 162.4h0M173.1 146.5h0M220.3 143.6h0M222.4 156.2h0M177.9 147.9h0M200.1 142.8h0M221.3 148.7h0M204.8 127.5h0M177.4 132.5h0M219.6 153.7h0M202.5 144.4h0M190.9 128.1h0M213.5 141.4h0M183.3 137.1h0M194.1 120.5h0M206.9 140.5h0M177.6 143.6h0M212.8 147.3h0M211.0 146.5h0M207.4 146.2h0M206.6 119.5h0M183.7 138.3h0M189.4 134.2h0M199.4 125.8h0M210.7 161.2h0M209.0 159.0h0M210.5 119.1h0M211.5 137.6h0M207.2 136.1h0M181.4 140.8h0M217.3 142.5h0M210.2 139.7h0M211.7 122.8h0M203.4 151.0h0M174.0 152.4h0M199.8 132.3h0M200.7 131.8h0M207.8 122.2h0M191.3 121.2h0M196.5 140.5h0M198.0 130.0h0M216.8 162.0h0M216.4 137.2h0M210.4 149.5h0M217.5 154.4h0M215.5 127.3h0M199.5 145.9h0M194.7 138.9h0M185.6 124.2h0M218.6 136.2h0M215.0 131.0h0M218.8 162.2h0M203.6 135.1h0M214.2 155.8h0M210.3 145.6h0M194.4 123.8h0M191.0 121.0h0M203.8 123.1h0M212.1 126.7h0M198.3 128.3h0M207.7 120.1h0M207.2 159.9h0M179.1 147.2h0M220.0 144.0h0M197.6 142.4h0M194.5 135.6h0M199.1 125.8h0M213.1 128.4h0M203.4 144.6h0M179.4 146.9h0M215.1 138.8h0M181.2 126.8h0M215.0 134.0h0M218.1 134.0h0M199.9 131.2h0M200.9 141.8h0M191.3 130.0h0M197.7 134.2h0M207.4 159.9h0M205.7 144.4h0M177.5 126.9h0M217.5 162.5h0M205.7 122.0h0M195.9 126.3h0M208.5 142.7h0M177.0 145.2h0M174.1 133.1h0M217.9 155.6h0M219.6 143.1h0M178.8 145.6h0M214.9 158.6h0M213.7 148.3h0M185.4 134.9h0M208.6 130.0h0M221.2 125.7h0M201.5 130.0h0M180.6 147.9h0M203.4 129.2h0M175.3 132.9h0M205.7 158.8h0M215.0 119.3h0M218.4 127.0h0M172.7 139.7h0M214.2 147.6h0M215.2 129.8h0M206.3 126.9h0M174.0 152.6h0M201.9 143.5h0M214.8 158.6h0M215.6 130.2h0M217.3 119.5h0M174.9 140.1h0M221.9 134.5h0M221.2 136.1h0M207.6 146.4h0M196.8 131.4h0M198.1 138.1h0M193.9 127.1h0M175.1 140.8h0M219.7 132.2h0M217.4 120.9h0M195.5 122.0h0M176.5 135.6h0M221.5 137.8h0M205.8 126.7h0M206.1 142.4h0M173.4 147.5h0M222.1 125.2h0M196.4 121.6h0M206.7 126.1h0M212.1 160.6h0M184.1 132.3h0M213.6 122.3h0M198.4 135.5h0M203.2 145.5h0M187.6 125.6h0M173.9 154.6h0M182.0 142.8h0M200.7 134.2h0M213.5 147.5h0M177.3 140.3h0M221.2 162.3h0M214.8 152.7h0M222.0 123.0h0M203.3 120.1h0M217.3 129.8h0M183.9 126.6h0M208.4 139.1h0M213.3 124.4h0M202.1 124.0h0M171.3 149.0h0M204.5 124.0h0M182.2 135.0h0M182.9 121.7h0M185.8 137.9h0M215.7 151.3h0M217.3 126.4h0M202.7 142.9h0M194.3 125.5h0M204.8 144.6h0M212.3 118.5h0M220.9 145.9h0M189.3 126.0h0M213.7 125.7h0M204.6 122.0h0M201.2 145.4h0M210.2 155.5h0M214.4 129.5h0M202.6 152.1h0M207.0 132.6h0M200.5 147.4h0M212.6 162.3h0M191.4 133.3h0M222.3 121.6h0M205.9 159.0h0M209.3 119.4h0M213.4 159.3h0M182.0 138.0h0M209.7 128.5h0M216.1 136.0h0M222.4 138.6h0M202.0 121.2h0M207.6 128.7h0M220.5 156.8h0M176.9 139.7h0M217.4 158.1h0M221.0 158.4h0M218.4 136.2h0M183.2 146.0h0M171.3 155.4h0M187.2 133.2h0M220.0 157.8h0M196.3 133.0h0M190.7 130.6h0M202.0 128.6h0M217.9 128.5h0M209.6 133.6h0M221.4 150.1h0M212.9 143.6h0M217.3 148.8h0M211.1 146.1h0M222.2 122.7h0M222.8 162.9h0M202.3 138.4h0M176.7 146.5h0M194.7 135.0h0M222.1 149.1h0M177.4 152.3h0M209.3 133.2h0M197.5 133.7h0M183.7 126.2h0M185.0 144.7h0M194.3 135.1h0M209.5 141.2h0M215.9 148.7h0M177.6 130.4h0M190.5 123.4h0M177.6 150.1h0M204.2 153.2h0M221.9 123.9h0M205.0 125.3h0M181.6 145.9h0M210.8 135.6h0M210.7 143.2h0M196.3 132.5h0M219.5 126.7h0M206.1 146.6h0M211.9 153.2h0M200.1 123.3h0M219.7 124.8h0M221.3 126.8h0M181.3 121.5h0M190.4 121.3h0M176.0 131.7h0M204.8 132.9h0M202.1 142.7h0M170.8 152.6h0M205.3 142.9h0M180.9 133.8h0M193.6 136.5h0M179.0 135.9h0M192.1 132.8h0M170.6 155.9h0M212.7 158.5h0M200.4 134.8h0M216.0 131.1h0M186.6 126.8h0M171.5 149.1h0M197.3 143.1h0M192.2 128.1h0M222.0 157.6h0M197.0 118.6h0M218.1 124.5h0M215.6 134.2h0M193.8 120.8h0M216.5 155.8h0M187.3 133.5h0M211.4 130.6h0M208.7 152.7h0M203.8 141.6h0M206.3 139.2h0M221.7 151.3h0M181.6 144.4h0M208.0 126.1h0M205.9 141.8h0M201.2 121.6h0M213.5 145.0h0M205.5 156.9h0M219.1 159.9h0M210.7 142.1h0M199.5 139.5h0M222.8 154.5h0M199.5 141.0h0M220.0 136.8h0M201.2 147.0h0M213.5 140.9h0M196.6 142.2h0M197.9 133.3h0M219.7 162.9h0M171.2 151.3h0M204.5 146.7h0M206.5 128.3h0M199.1 143.2h0M189.1 124.9h0M219.7 157.3h0M201.9 129.8h0M173.8 158.1h0M204.9 127.3h0M185.7 124.2h0M175.4 154.9h0M215.4 151.8h0M205.8 121.6h0M210.2 119.3h0M187.3 133.8h0M203.5 132.4h0M217.6 158.8h0M202.9 128.5h0M207.9 161.5h0M171.8 143.6h0M202.7 132.7h0M199.8 132.5h0M220.4 140.8h0M186.6 125.0h0M184.0 145.2h0M207.1 123.2h0M207.6 141.6h0M206.3 126.1h0M219.0 130.5h0M197.5 132.4h0M185.8 138.5h0M218.9 138.2h0M222.6 156.9h0M214.0 150.3h0M204.8 124.2h0M174.7 135.7h0M214.6 127.9h0M188.4 122.3h0M206.7 146.9h0M210.7 155.1h0M212.5 143.8h0M173.1 156.9h0M212.3 158.4h0M207.4 153.1h0M218.6 157.4h0M182.2 125.4h0M216.9 125.8h0M208.8 147.7h0M192.4 124.1h0M196.4 139.8h0M184.8 138.9h0M215.2 144.9h0M222.8 149.7h0M214.0 140.7h0M198.4 138.3h0M206.2 153.2h0M207.5 141.0h0M177.7 146.5h0M216.6 127.6h0M193.2 119.7h0M200.0 123.4h0M214.5 135.1h0M178.0 133.6h0M218.2 155.7h0M199.4 145.5h0M218.3 151.8h0M170.6 150.0h0M220.4 127.2h0M211.8 158.1h0M181.3 136.6h0M220.9 130.4h0M208.3 139.6h0M206.3 144.9h0M221.2 153.7h0M179.7 126.8h0M199.4 131.2h0M217.8 124.0h0M171.8 153.1h0M185.3 145.5h0M194.5 127.0h0M218.4 158.2h0M180.9 129.5h0M176.7 151.1h0M195.1 122.5h0M217.8 149.1h0M211.9 140.3h0M219.7 152.6h0M182.0 127.2h0M196.4 129.9h0M205.8 128.1h0M180.2 127.8h0M212.3 143.3h0M187.9 126.8h0M210.8 140.3h0M208.5 162.0h0M221.7 147.2h0M208.0 150.0h0M180.9 146.9h0M198.0 119.7h0M207.5 160.9h0M198.2 135.8h0M202.3 141.2h0M186.2 128.8h0M217.8 124.4h0M199.8 132.1h0M217.3 125.2h0M203.9 150.0h0M199.3 141.6h0M214.3 157.2h0M219.9 135.2h0M222.6 143.0h0M217.8 123.1h0M190.7 129.8h0M214.2 151.7h0M184.0 146.7h0M209.2 122.5h0M174.2 149.9h0M207.8 159.9h0M175.8 136.0h0M206.3 150.7h0M206.3 156.9h0M191.1 122.2h0M181.5 133.3h0M216.9 139.0h0M200.0 142.7h0M190.7 133.1h0M176.9 128.2h0M219.3 140.6h0M217.3 134.3h0M203.8 145.3h0M222.9 159.4h0M196.5 131.9h0M206.0 155.1h0M206.9 130.3h0M199.4 123.4h0M191.7 125.0h0M207.3 125.3h0M210.3 131.7h0M187.8 132.4h0M211.5 119.4h0M216.4 139.0h0M217.0 129.9h0M202.1 135.6h0M205.7 134.6h0M205.1 142.1h0M171.5 148.5h0M193.3 120.8h0M218.2 160.0h0M197.6 126.0h0M172.2 148.1h0M184.5 123.1h0M180.9 137.8h0M199.4 137.3h0M218.4 151.3h0M195.1 125.1h0M187.6 125.9h0M178.5 143.7h0M209.1 130.8h0M222.3 144.7h0M214.0 149.3h0M221.9 147.7h0M179.8 129.6h0M202.3 124.8h0M214.2 122.9h0M204.1 149.1h0M222.5 152.5h0M215.7 153.3h0M209.1 138.6h0M208.3 134.0h0M212.9 145.1h0M216.5 119.2h0M175.6 135.2h0M215.9 150.1h0M192.0 133.1h0M219.1 141.1h0M195.8 134.0h0M199.1 124.6h0M204.9 122.7h0M211.5 146.9h0M200.7 119.1h0M204.3 139.9h0M173.8 141.9h0M193.9 135.3h0M182.7 145.9h0M170.8 149.1h0M210.2 125.2h0M216.7 120.9h0M214.5 154.6h0M183.1 135.0h0M203.5 126.6h0M211.2 127.2h0M184.6 139.1h0M219.5 144.6h0M201.8 119.3h0M212.2 138.0h0M209.3 149.9h0M218.1 119.8h0M173.2 137.5h0M217.1 133.5h0M221.4 141.8h0M201.2 140.2h0M221.4 140.3h0M216.4 137.1h0M194.6 122.7h0M208.7 145.1h0M216.0 154.1h0M216.2 138.6h0M222.1 159.7h0M201.6 130.0h0M219.0 133.1h0M214.6 155.9h0M209.6 124.5h0M218.5 126.5h0M222.2 153.4h0M206.9 153.7h0M215.3 128.3h0M198.6 132.2h0M183.4 132.2h0M219.9 156.2h0M214.5 142.6h0M193.2 135.3h0M213.0 155.1h0M219.4 122.7h0M221.2 131.7h0M210.4 161.7h0M180.7 124.0h0M189.7 124.6h0M208.9 132.6h0M175.3 154.8h0M171.0 157.0h0M181.7 141.1h0M176.8 151.0h0M194.7 137.9h0M212.5 132.0h0M172.5 149.1h0M218.9 121.5h0M173.8 139.9h0M218.6 128.6h0M185.6 133.9h0M206.4 148.5h0M172.8 146.2h0M198.0 136.4h0M206.7 141.9h0M183.3 141.6h0M203.8 145.6h0M198.1 124.3h0M222.5 123.4h0M179.3 136.8h0M176.7 133.2h0M202.4 147.2h0M194.4 126.8h0M176.6 134.2h0M204.2 142.4h0M214.9 130.4h0M221.4 149.0h0M199.3 136.7h0M207.1 135.6h0M188.9 132.4h0M218.1 134.3h0M181.5 136.5h0M196.7 125.1h0M176.4 133.5h0M222.1 137.6h0M179.0 125.4h0M178.3 137.1h0M179.5 139.5h0M200.6 129.2h0M211.7 149.6h0M198.3 143.6h0M205.7 123.3h0M174.0 150.4h0M204.9 133.7h0M213.4 139.1h0M181.5 145.5h0M179.9 147.8h0M200.3 128.8h0M209.0 151.1h0M192.5 125.9h0M192.7 136.0h0M177.2 138.7h0M213.6 148.2h0M211.4 124.8h0M197.7 129.2h0M222.2 137.3h0M207.7 150.8h0M182.4 147.4h0M171.7 144.0h0M191.8 130.3h0M184.6 129.8h0M218.3 121.9h0M199.1 126.4h0M199.5 129.8h0M208.2 148.6h0M179.1 126.4h0M202.4 120.7h0M220.9 121.4h0M171.8 152.7h0M222.3 145.3h0M197.5 126.2h0M217.7 130.0h0M202.7 139.3h0M222.2 127.6h0M189.8 129.1h0M174.8 140.1h0M190.0 134.7h0M215.9 155.0h0M207.7 120.7h0M197.8 125.8h0M176.4 134.1h0M208.0 137.1h0M207.6 162.9h0M197.6 139.1h0M209.9 153.3h0M173.0 142.6h0M202.6 123.4h0M216.6 120.8h0M196.6 141.1h0M181.4 136.0h0M203.3 134.6h0M213.5 119.2h0M222.0 119.8h0M199.0 135.6h0M186.7 120.5h0M195.5 136.5h0M208.3 156.9h0M190.2 133.4h0M220.7 150.2h0M217.1 126.4h0M171.3 141.9h0M208.9 156.2h0M209.6 125.6h0M175.0 141.1h0M176.6 131.6h0M178.8 138.9h0M178.4 137.8h0M208.5 126.3h0M203.8 119.5h0M209.0 141.0h0M212.8 153.0h0M178.9 138.5h0M210.0 142.7h0M206.8 128.1h0M206.4 145.6h0M209.5 128.4h0M189.6 127.6h0M174.1 149.0h0M189.2 126.3h0M205.0 142.9h0M201.6 123.5h0M210.1 140.5h0M200.2 132.9h0M186.0 134.3h0M204.7 124.4h0M204.6 142.2h0M184.3 135.8h0M200.3 133.6h0M203.5 119.9h0M172.0 157.3h0M210.7 130.4h0M217.3 141.9h0M209.0 137.4h0M195.9 121.1h0M179.8 133.6h0M183.7 139.9h0M188.7 123.0h0M192.8 134.7h0M201.2 131.9h0M209.5 162.6h0M210.4 135.5h0M201.5 136.6h0M213.3 150.1h0M183.2 144.6h0M218.7 127.4h0M176.2 138.3h0M222.7 124.5h0M183.9 144.4h0M221.6 126.6h0M211.9 142.5h0M178.1 129.4h0M197.0 118.8h0M178.6 127.7h0M199.6 125.2h0M179.9 144.2h0M182.5 131.2h0M189.7 131.4h0M217.8 131.1h0M207.4 125.9h0M199.9 145.0h0M173.1 135.7h0M220.2 143.0h0M213.6 159.0h0M187.9 129.6h0M172.1 141.2h0M213.8 150.3h0M184.0 138.3h0M178.5 141.9h0M172.9 152.9h0M204.3 141.2h0M199.0 123.7h0M210.8 128.2h0M215.8 123.1h0M211.5 123.5h0M207.9 143.0h0M195.3 135.6h0M190.2 128.0h0M198.1 131.8h0M222.0 126.5h0M193.2 124.9h0M207.7 123.5h0M208.0 137.8h0M207.0 142.7h0M181.1 147.1h0M222.3 147.0h0M210.5 158.7h0M212.2 125.0h0M219.3 120.7h0M208.1 159.2h0M207.8 127.6h0M175.6 140.9h0M214.9 141.5h0M175.8 143.3h0M220.4 126.2h0M192.3 135.6h0M214.9 128.7h0M203.3 149.7h0M218.5 155.5h0M221.6 126.0h0M172.5 143.8h0M208.1 127.3h0M174.6 151.1h0M177.9 129.9h0M190.3 135.2h0M208.7 149.1h0M171.0 152.0h0M179.0 137.4h0M204.0 130.0h0M187.3 133.2h0M210.4 137.4h0M213.5 147.8h0M197.8 142.8h0M200.5 122.7h0M218.8 143.9h0M197.5 118.6h0M221.4 160.3h0M211.5 155.1h0M222.4 156.9h0M173.3 137.7h0M190.3 124.7h0M214.9 133.4h0M210.0 160.0h0M176.1 130.6h0M187.5 126.3h0M172.6 153.8h0M221.9 145.8h0M212.9 146.7h0M181.3 122.8h0M201.5 146.0h0M186.4 123.7h0M184.2 127.6h0M172.7 143.4h0M220.1 127.4h0M198.5 122.5h0M186.8 130.1h0M179.9 147.5h0M210.6 146.5h0M222.8 128.9h0M201.4 134.1h0M187.3 127.0h0M178.9 132.3h0M214.2 119.6h0M179.0 142.2h0M209.8 136.5h0M197.7 138.6h0M221.0 119.5h0M222.9 156.0h0M221.3 128.2h0M211.6 141.1h0M214.7 146.6h0M206.8 150.9h0M207.0 151.4h0M221.8 161.3h0M184.8 144.6h0M196.0 133.7h0M213.7 125.0h0M202.8 138.4h0M198.8 143.7h0M209.2 120.1h0M186.0 129.4h0M201.8 129.1h0M193.0 125.4h0M204.6 146.9h0M179.7 137.1h0M208.4 130.0h0M214.2 145.2h0M179.4 140.3h0M205.4 120.8h0M200.7 147.7h0M207.6 158.6h0M206.5 120.5h0M180.5 132.2h0M209.7 146.4h0M189.4 121.2h0M192.9 119.7h0M184.0 138.6h0M199.9 134.1h0M195.2 132.7h0M219.4 143.6h0M210.8 123.8h0M177.6 126.2h0M204.1 131.5h0M207.0 140.7h0M198.5 135.3h0M202.6 130.1h0M201.6 147.7h0M209.8 159.5h0M194.0 120.7h0M214.5 119.3h0M211.3 136.2h0M218.6 139.2h0M176.2 147.6h0M221.2 138.4h0M214.7 133.7h0M221.3 156.9h0M217.7 138.1h0M217.1 161.1h0M174.5 147.8h0M188.1 124.9h0M205.4 130.9h0M210.2 133.3h0M205.8 123.2h0M210.2 141.9h0M174.1 153.2h0M181.1 133.0h0M183.2 133.3h0M207.1 122.7h0M182.5 138.2h0M207.7 121.7h0M215.4 132.9h0M214.2 155.7h0M220.9 148.2h0M217.9 155.1h0M210.8 144.0h0M178.6 137.4h0M219.1 160.6h0M189.8 127.2h0M186.2 121.1h0M200.6 121.9h0M202.9 145.6h0M202.9 135.5h0M199.6 129.0h0M181.9 145.6h0M210.2 162.2h0M218.7 139.3h0M188.1 127.6h0M211.6 125.3h0M221.1 127.4h0M205.4 134.6h0M207.9 119.7h0M205.6 148.4h0M205.2 151.0h0M185.4 128.8h0M203.9 134.6h0M178.0 139.9h0M174.5 144.6h0M208.9 123.6h0M175.9 140.3h0M183.6 132.2h0M221.1 129.7h0M177.9 146.0h0M203.9 151.8h0M178.0 145.7h0M198.9 142.9h0M207.4 139.7h0M213.4 135.6h0M210.9 151.2h0M179.2 125.3h0M212.8 128.3h0M217.9 161.7h0M190.3 120.1h0M205.4 142.3h0M209.7 126.7h0M213.5 148.3h0M198.1 139.8h0M208.8 158.6h0M187.1 124.5h0M195.8 133.3h0M200.9 140.5h0M211.5 144.0h0M212.9 148.5h0M201.4 145.5h0M217.4 124.8h0M202.2 125.5h0M191.0 120.4h0M212.3 125.0h0M189.2 120.4h0M190.7 125.2h0M197.0 142.6h0M192.0 132.9h0M173.7 149.5h0M210.1 123.1h0M189.3 129.8h0M216.3 119.0h0M216.6 161.3h0M212.7 130.3h0M203.0 132.9h0M193.4 130.2h0M195.3 124.7h0M207.3 124.2h0M208.8 160.8h0M193.9 137.4h0M207.4 126.3h0M222.8 143.2h0M211.2 152.6h0M203.8 119.0h0M174.6 157.2h0M222.2 148.6h0M207.4 150.5h0M192.7 126.0h0M183.4 137.6h0M213.8 127.2h0M181.9 142.1h0M181.4 121.5h0M214.9 139.8h0M221.5 121.9h0M220.2 161.8h0M193.9 119.1h0M208.8 140.5h0M219.8 124.8h0M182.6 130.0h0M170.6 155.1h0M215.1 131.2h0M188.4 119.9h0M179.4 139.4h0M196.6 129.8h0M180.4 139.1h0M193.6 132.3h0M220.5 130.2h0M170.7 148.5h0M214.0 150.3h0M206.3 144.5h0M191.4 120.1h0M196.0 138.5h0M213.4 161.7h0M173.0 152.0h0M171.5 142.6h0M208.5 127.7h0M204.2 123.5h0M222.2 130.4h0M175.7 149.4h0M221.5 155.7h0M193.3 136.9h0M181.5 124.5h0M180.0 137.2h0M175.0 137.9h0M212.3 138.0h0M210.2 137.9h0M177.5 134.7h0M183.0 127.6h0M218.8 156.7h0M182.5 130.4h0M220.8 123.0h0M219.2 134.6h0M172.8 145.1h0M219.4 158.9h0M215.6 137.5h0M209.5 123.6h0M170.9 156.3h0M207.4 119.9h0M204.8 149.9h0M196.9 141.1h0M189.1 125.1h0M186.6 131.1h0M205.8 145.4h0M212.5 132.2h0M194.8 120.1h0M209.5 158.7h0M209.0 144.4h0M196.4 118.3h0M218.5 124.8h0M208.0 134.1h0M220.9 145.2h0M215.1 142.0h0M203.6 145.5h0M176.6 154.2h0M187.4 126.2h0M218.7 120.0h0M203.3 124.7h0M196.5 137.0h0M185.0 132.2h0M219.9 119.9h0M221.3 130.6h0M180.2 124.8h0M221.5 146.4h0M221.0 120.9h0M181.3 145.4h0M202.6 121.2h0M199.1 139.0h0M207.6 156.8h0M172.6 138.7h0M196.9 139.5h0M197.1 132.3h0M196.4 129.7h0M179.9 143.2h0M212.2 156.1h0M222.3 150.1h0M190.0 126.1h0M185.2 132.1h0M203.1 131.9h0M210.9 148.9h0M212.6 141.7h0M205.4 120.7h0M209.7 145.5h0M201.6 119.1h0M174.9 131.3h0M182.5 134.1h0M189.7 125.5h0M189.0 121.8h0M207.5 151.8h0M200.6 143.9h0M207.3 123.3h0M201.8 126.9h0M199.1 128.2h0M198.4 130.5h0M201.7 128.0h0M180.9 131.1h0M173.7 154.1h0M191.4 127.4h0M220.8 126.4h0M217.1 150.7h0M222.3 133.1h0M179.7 128.4h0M206.0 119.2h0M211.1 135.0h0M190.9 125.0h0M190.8 128.5h0M217.8 133.4h0M175.5 140.1h0M207.3 157.7h0M212.4 160.7h0M201.7 129.7h0M208.2 157.4h0M201.0 133.5h0M173.3 138.5h0M205.9 137.7h0M184.7 131.1h0M183.1 137.9h0M213.4 122.9h0M221.4 159.4h0M217.9 148.3h0M219.1 156.6h0M174.4 154.5h0M214.0 154.4h0M210.6 136.7h0M185.0 143.5h0M207.2 162.5h0M213.0 137.9h0M210.4 144.5h0M182.1 128.5h0M193.1 133.4h0M207.0 140.2h0M175.4 137.6h0M217.3 141.6h0M199.5 120.4h0M174.8 141.4h0M179.6 150.4h0M217.9 146.5h0M192.2 121.2h0M214.4 139.1h0M206.7 153.7h0M195.1 119.5h0M202.9 119.2h0M203.5 139.3h0M207.1 129.2h0M174.2 149.3h0M217.7 124.9h0M203.0 132.5h0M197.0 128.5h0M199.5 129.5h0M178.3 144.4h0M212.7 150.1h0M186.0 131.3h0M204.3 120.8h0M203.3 132.3h0M194.5 129.1h0M214.7 130.4h0M205.0 151.6h0" stroke="#c8d8dc" stroke-width="2.2" stroke-linecap="round" stroke-opacity="0.6" fill="none"/>
<path d="M230.4 134.8h0M226.1 132.2h0M220.5 163.9h0M208.7 170.1h0M215.5 169.6h0M229.1 131.0h0M229.4 143.9h0M216.8 166.1h0M209.2 168.7h0M220.3 169.2h0M228.1 166.1h0M223.2 160.5h0M209.8 170.6h0M212.7 170.7h0M226.1 158.6h0M216.1 167.4h0M226.5 129.9h0M226.9 156.2h0M224.2 144.6h0M227.9 153.4h0M224.8 132.7h0M225.5 168.2h0M215.3 164.2h0M224.6 162.7h0M230.8 138.6h0M213.5 166.4h0M218.3 169.9h0M221.0 168.5h0M228.4 132.1h0M229.9 162.5h0M222.3 165.7h0M228.1 166.2h0M209.7 168.7h0M227.5 128.5h0M214.5 163.8h0M230.0 138.5h0M227.7 163.0h0M230.8 146.3h0M223.3 166.1h0M229.9 146.7h0M219.0 169.9h0M229.2 128.3h0M228.3 144.0h0M224.6 135.8h0M228.2 160.8h0M225.6 124.1h0M223.6 167.8h0M225.1 142.1h0M227.3 136.2h0M214.7 169.6h0M223.8 148.4h0M230.1 137.8h0M228.9 154.6h0M227.9 125.3h0M229.9 141.1h0M226.7 140.3h0M224.2 162.8h0M224.3 157.6h0M221.7 170.3h0M226.3 158.2h0M219.8 165.1h0M229.4 131.4h0M225.7 140.6h0M223.7 141.4h0M215.2 170.4h0M223.8 135.5h0M210.3 168.1h0M229.1 149.8h0M228.4 156.3h0M216.3 165.2h0M228.8 135.0h0M226.0 163.6h0M218.3 164.0h0M227.2 137.4h0M223.3 162.3h0M223.0 120.8h0M223.9 129.4h0M226.7 148.0h0M226.1 148.3h0M230.6 131.3h0M230.2 142.8h0M211.5 163.4h0M224.2 152.2h0M219.2 163.4h0M226.4 158.3h0M225.6 145.3h0M228.6 125.1h0M223.2 141.6h0M224.2 138.5h0M208.7 167.8h0M229.2 134.2h0M225.2 159.4h0M226.2 168.3h0M229.5 156.3h0M231.2 138.8h0M223.1 140.2h0M226.0 131.3h0M210.8 167.1h0M227.3 160.3h0M224.2 168.6h0M224.9 126.6h0M223.9 165.5h0M223.4 158.6h0M222.6 165.7h0M228.9 142.2h0M229.4 148.7h0M223.1 161.7h0M217.9 171.0h0M228.0 147.0h0M230.6 153.0h0M225.0 140.4h0M223.0 131.4h0M230.2 133.0h0M211.6 169.8h0M225.3 121.8h0M230.3 157.6h0M222.1 165.2h0M228.0 131.5h0M225.7 155.2h0M224.9 140.2h0M209.4 168.3h0M229.7 144.2h0M225.5 122.2h0M224.1 126.7h0M216.8 163.2h0M224.3 158.1h0M226.8 128.5h0M224.0 135.4h0M210.9 170.1h0M210.4 170.9h0M227.2 134.2h0M223.1 128.7h0M224.6 162.4h0M226.9 142.1h0M219.0 169.6h0M229.6 124.5h0M228.7 145.4h0M214.9 169.1h0M220.1 167.8h0M224.2 158.4h0M229.0 139.4h0M219.5 171.0h0M224.9 144.8h0M228.6 125.5h0M224.5 144.1h0M225.1 128.2h0M223.9 157.6h0M218.3 164.2h0M219.5 165.5h0M210.5 169.5h0M215.5 163.6h0M213.1 165.5h0M226.3 156.8h0M228.5 131.6h0M230.0 142.4h0M224.0 148.1h0M208.1 168.8h0M208.9 166.8h0M209.8 170.4h0M223.5 144.9h0M223.7 150.5h0M225.7 146.4h0M226.2 168.0h0M226.6 157.9h0M220.3 169.3h0M207.8 163.7h0M230.7 154.8h0M228.1 140.5h0M210.8 165.2h0M225.0 149.9h0M224.3 160.2h0M229.7 163.4h0M219.4 164.0h0M225.9 143.3h0M223.5 140.1h0M224.0 168.8h0M225.8 122.7h0M228.6 131.8h0M223.9 122.2h0M229.0 136.0h0M208.1 166.0h0M229.7 139.4h0M226.7 154.0h0M217.3 163.5h0M226.1 147.3h0M228.2 132.4h0M231.1 141.3h0M226.4 151.1h0M209.5 167.7h0M224.2 134.7h0M213.6 171.4h0M222.4 168.8h0M227.2 145.7h0M221.0 163.5h0M223.3 162.3h0M229.5 127.8h0M221.6 169.4h0M229.8 140.9h0M230.1 152.9h0M225.2 140.3h0M226.0 132.1h0M210.8 164.5h0M210.5 164.9h0M210.8 170.0h0M227.1 140.0h0M228.7 162.3h0M219.5 167.2h0M227.8 144.4h0M226.4 152.3h0M227.6 136.1h0M224.3 152.7h0M229.7 148.6h0M225.7 149.4h0M227.6 128.3h0M219.4 165.6h0M229.3 134.7h0M218.5 165.5h0M229.2 149.0h0M210.5 164.5h0M224.0 135.4h0M209.5 163.8h0M226.9 139.4h0M230.1 150.8h0M227.7 148.0h0M217.3 167.8h0M214.8 168.5h0M214.9 165.3h0M219.7 163.3h0M226.5 162.6h0M227.0 157.7h0M225.3 145.7h0M226.6 129.1h0M214.0 171.2h0M224.7 151.9h0M223.4 169.8h0M224.8 150.0h0M214.0 164.9h0M211.1 165.0h0M226.0 159.7h0M213.0 165.2h0M226.4 147.8h0M218.2 168.3h0M227.1 157.9h0M220.9 166.1h0M224.5 149.8h0M215.7 167.5h0M229.0 156.1h0M224.5 132.1h0M230.0 161.1h0M219.5 163.2h0M223.8 162.5h0M223.4 128.7h0M215.7 171.0h0M214.7 167.5h0M218.8 167.1h0M225.0 136.1h0M208.3 168.8h0M222.9 167.0h0M224.6 152.0h0M227.0 151.9h0M219.7 170.7h0M221.8 170.8h0M225.1 129.9h0M226.8 140.4h0M227.8 162.0h0M209.6 170.3h0M223.8 126.2h0M224.5 160.6h0M224.8 147.8h0M210.6 163.9h0M229.3 156.4h0M223.6 124.2h0M227.9 156.1h0M224.5 154.8h0M224.4 144.7h0M223.8 168.6h0M223.9 123.9h0M210.1 163.1h0M230.0 139.5h0M225.0 146.3h0M231.0 153.5h0M219.1 166.1h0M223.2 135.4h0M228.9 139.6h0M218.2 170.8h0M215.6 167.2h0M229.3 138.8h0M226.9 141.5h0M230.9 152.7h0M227.6 147.2h0M211.1 163.4h0M212.7 167.7h0M224.6 152.0h0M228.3 149.4h0M210.1 166.9h0M226.6 139.6h0M231.0 135.1h0M227.1 144.2h0M224.4 150.1h0M224.6 153.3h0M208.4 163.7h0M227.6 141.6h0M218.1 171.1h0M228.0 146.6h0M225.2 129.8h0M226.8 126.7h0M226.8 136.6h0" stroke="#ecd0d0" stroke-width="2.2" stroke-linecap="round" stroke-opacity="0.6" fill="none"/>
</g>
<path d="M185.3 144.8h0M223.5 129.1h0M228.4 143.9h0M223.5 157.1h0M224.8 152.2h0M195.8 119.9h0M208.7 134.2h0M230.7 142.1h0M195.0 134.5h0M227.8 157.7h0M225.3 158.6h0M227.0 139.8h0M205.0 127.0h0M210.1 160.6h0M230.9 137.4h0M224.3 170.3h0M228.8 148.6h0M225.7 157.7h0M228.9 153.1h0M195.8 135.6h0M226.9 124.3h0M217.7 140.6h0M216.7 167.2h0M198.8 143.0h0M221.8 170.5h0M214.5 119.7h0M219.9 160.0h0M225.1 127.0h0M225.9 151.3h0M206.8 149.4h0M216.7 156.8h0M228.8 156.7h0M201.7 133.7h0M230.8 136.9h0M175.1 150.1h0M178.6 134.4h0M228.9 151.6h0M193.9 124.3h0M193.1 134.0h0M222.3 151.3h0M215.9 121.3h0M225.7 164.2h0M218.5 166.0h0M224.8 154.4h0M228.8 155.1h0M174.0 157.8h0M219.2 170.3h0M215.3 123.1h0M211.4 163.7h0M199.8 127.4h0M226.2 149.0h0M207.6 130.6h0M216.1 168.6h0M208.8 169.9h0M226.8 138.5h0M195.3 124.0h0M202.0 136.9h0M220.8 129.4h0M229.5 127.5h0M214.0 124.7h0M222.7 166.1h0M227.6 133.4h0M175.1 145.1h0M209.7 148.4h0M197.7 139.9h0M181.7 125.3h0M225.6 150.8h0M225.7 144.6h0M230.0 129.7h0M218.8 155.3h0M211.9 159.4h0M223.7 121.1h0M176.7 129.8h0M210.9 130.5h0M180.0 138.5h0M203.3 146.4h0M228.0 161.9h0M171.9 153.5h0M224.1 135.7h0M229.9 162.2h0M221.7 123.3h0M224.6 152.0h0M179.6 148.7h0M219.9 149.7h0M204.1 125.0h0M213.9 124.1h0M173.6 151.0h0M223.7 149.1h0M225.6 143.0h0M175.5 137.1h0M223.9 167.3h0M185.5 138.6h0M226.7 168.2h0M222.8 140.5h0M224.5 139.1h0M218.2 141.6h0M177.7 138.8h0M208.5 143.8h0M200.4 144.6h0M224.6 145.4h0M226.8 167.8h0M208.6 167.2h0M209.3 166.9h0M207.6 151.6h0M191.1 124.0h0M229.0 128.9h0M208.5 148.9h0M171.3 142.8h0M203.1 146.3h0M225.0 165.2h0M194.8 123.8h0M184.1 141.6h0M209.5 166.8h0M228.4 142.0h0M178.0 142.4h0M225.4 161.6h0M229.0 148.5h0M228.4 164.4h0M227.7 130.4h0M217.8 141.5h0M211.0 133.2h0M202.7 124.8h0M175.8 135.1h0M175.5 144.9h0M225.0 165.2h0M222.4 170.7h0M220.0 135.0h0M205.9 154.3h0M226.9 121.8h0M211.7 140.3h0M201.0 139.9h0M221.4 140.1h0M180.5 143.4h0M194.6 132.4h0M217.1 145.5h0M226.2 129.5h0M216.2 170.9h0M171.1 152.2h0M223.5 156.7h0M226.9 159.4h0M226.3 151.4h0M182.6 129.6h0M176.9 137.2h0M223.6 147.2h0M230.2 145.2h0M214.1 169.0h0M223.4 132.1h0M223.1 122.3h0M212.1 127.3h0M210.9 168.6h0M216.0 130.9h0M225.5 127.3h0M222.3 122.7h0M214.2 128.0h0M223.1 155.3h0M213.8 127.0h0M216.0 123.2h0M210.7 144.1h0M202.4 118.2h0M196.8 118.2h0M219.1 126.5h0M172.3 149.1h0M217.8 163.3h0M209.9 164.6h0M228.7 160.8h0M210.9 171.1h0M181.4 126.8h0M225.4 168.9h0M208.2 143.5h0M205.2 131.5h0M192.5 120.8h0M229.9 157.0h0M216.1 129.3h0M214.8 151.3h0M212.4 171.7h0M215.5 147.9h0M181.5 130.9h0M201.4 121.1h0M212.4 167.1h0M215.4 123.2h0M205.0 134.4h0M227.7 149.9h0M212.4 162.8h0M228.0 122.4h0M182.8 130.3h0M224.6 153.8h0M219.3 121.6h0M218.3 137.6h0M230.3 159.1h0M215.7 152.5h0M197.0 118.5h0M197.0 133.1h0M223.0 148.4h0M221.2 168.1h0M202.1 143.0h0M221.9 134.2h0M227.4 122.3h0M198.5 126.4h0M224.7 123.8h0M220.0 126.7h0M222.8 149.4h0M210.1 133.2h0M200.1 120.6h0M209.9 134.4h0M188.4 128.1h0M220.7 150.8h0M204.6 137.2h0M207.5 126.6h0M209.0 156.5h0M224.1 146.8h0M227.1 124.6h0M215.9 155.9h0M196.1 117.8h0M206.2 137.1h0M229.1 127.9h0M180.0 148.6h0M198.1 134.4h0M221.7 149.7h0M224.0 148.0h0M212.2 168.5h0M213.8 145.0h0M212.8 163.9h0M228.0 163.2h0M217.7 153.0h0M204.1 153.9h0M228.2 159.3h0M223.1 170.2h0M214.9 140.4h0M226.1 148.5h0M223.4 136.7h0M192.4 128.2h0M230.5 159.6h0M230.0 151.3h0M198.3 119.6h0M218.8 142.8h0M205.1 157.9h0M212.7 151.5h0M216.7 136.5h0M173.6 140.4h0M195.4 134.1h0M223.3 154.1h0M226.3 158.4h0M209.9 157.5h0M227.4 162.1h0M226.8 138.0h0M225.8 137.8h0M226.2 124.1h0M223.9 157.9h0M226.4 133.0h0M223.5 143.8h0M215.6 131.1h0M212.9 165.8h0M223.4 148.4h0M209.1 126.5h0M225.9 125.3h0M204.8 134.6h0M213.2 165.1h0M219.4 149.9h0M214.3 170.0h0M230.8 134.2h0M224.5 132.7h0M181.4 124.0h0M213.5 120.5h0M177.2 129.5h0M227.1 127.5h0M224.8 165.2h0M227.4 157.9h0M224.4 121.3h0M227.8 142.2h0M213.8 160.7h0M199.2 124.5h0M214.7 145.4h0M216.5 168.9h0M210.2 146.7h0M197.6 127.9h0M209.5 141.5h0M205.1 127.2h0M224.4 137.6h0M218.4 124.7h0M182.4 131.0h0M227.0 140.0h0M211.4 140.5h0M221.2 128.0h0M223.7 127.8h0M195.4 133.6h0M207.7 167.4h0M222.9 152.1h0M225.3 164.2h0M177.6 137.3h0M221.0 153.9h0M206.4 118.4h0M221.5 143.4h0M223.0 163.9h0M230.5 142.3h0M220.7 122.8h0M227.0 122.3h0M227.2 142.7h0M222.8 127.1h0M199.6 123.3h0M228.3 145.6h0M206.8 121.3h0M224.0 126.7h0M173.1 136.7h0M187.1 127.3h0M205.7 153.1h0M226.5 149.7h0M179.0 140.8h0M210.8 130.5h0M200.9 147.5h0M219.8 169.8h0M228.7 139.4h0M193.2 137.1h0M212.6 144.7h0M205.7 151.9h0M182.0 134.2h0M221.4 136.3h0M224.9 123.2h0M227.6 130.3h0M224.5 127.8h0M217.9 171.0h0M225.5 136.7h0M202.8 127.7h0M207.2 129.4h0M227.5 136.2h0M227.5 144.2h0M218.6 164.1h0M171.2 150.3h0M218.1 160.0h0M202.4 151.2h0M226.0 139.8h0M219.7 160.3h0M217.0 170.6h0M220.8 161.6h0M189.2 124.7h0M229.4 160.4h0M201.4 139.9h0M211.6 141.6h0M223.9 163.4h0M224.8 151.2h0M213.8 143.9h0M224.7 146.3h0M202.3 135.6h0M221.8 167.2h0M196.1 135.3h0M228.9 162.7h0M183.0 127.7h0M230.6 135.4h0M210.7 163.1h0M201.7 130.9h0M205.1 149.5h0M177.4 138.6h0M223.4 139.0h0M174.3 135.4h0M205.1 136.7h0M217.8 166.1h0M225.2 134.0h0M228.1 142.4h0M207.9 131.3h0M220.5 165.0h0M223.6 119.9h0M221.1 147.4h0" stroke="#f08080" stroke-width="1.0" stroke-linecap="round" stroke-opacity="0.38" fill="none"/>
<path d="M221.4 131.3h0M218.0 149.5h0M190.1 134.2h0M205.8 149.7h0M230.0 139.2h0M199.6 124.7h0M210.5 150.3h0M214.7 129.9h0M222.6 124.4h0M175.2 140.4h0M206.0 160.8h0M228.7 127.8h0M217.0 130.3h0M190.0 126.0h0M174.6 150.0h0M222.4 159.8h0M181.7 144.1h0M198.6 140.8h0M203.7 140.3h0M219.1 126.4h0M181.2 139.5h0M220.4 141.5h0M218.5 125.1h0M173.9 149.4h0M174.5 148.5h0M211.3 126.0h0M221.0 126.7h0M200.7 145.0h0M209.5 155.3h0M222.7 127.3h0M214.1 169.3h0M216.1 168.6h0M211.9 147.3h0M207.4 148.0h0M217.6 154.0h0M174.7 157.8h0M210.1 154.4h0M184.2 128.8h0M200.7 129.2h0M178.6 151.4h0M178.6 151.7h0M205.8 124.1h0M205.2 123.4h0M202.6 140.7h0M176.1 128.9h0M207.6 136.3h0M197.3 120.9h0M204.7 152.8h0M179.8 139.4h0M171.7 150.0h0M199.4 135.9h0M192.1 120.8h0M196.8 127.9h0M189.3 127.9h0M198.5 135.8h0M211.2 134.1h0M230.5 133.6h0M177.0 146.8h0M177.6 136.6h0M213.8 119.4h0M219.6 161.6h0M174.1 135.3h0M194.5 126.6h0M214.8 146.8h0M227.3 138.3h0M221.1 162.5h0M200.2 142.0h0M217.8 144.5h0M191.2 130.5h0M208.9 163.9h0M199.6 122.2h0M203.6 153.4h0M195.5 131.1h0M205.0 148.1h0M221.0 163.7h0M205.8 151.7h0M207.8 125.1h0M201.5 125.1h0M219.2 126.4h0M220.7 133.9h0M216.8 138.1h0M205.2 152.4h0M199.0 132.2h0M209.5 132.4h0M203.8 144.1h0M215.9 152.9h0M203.6 125.9h0M215.5 118.7h0M203.4 153.4h0M219.4 143.7h0M204.6 140.0h0M170.8 155.4h0M179.1 141.0h0M207.9 119.6h0M212.0 144.2h0M214.6 149.4h0M212.6 166.7h0M221.3 154.0h0M202.6 126.0h0M224.5 121.8h0M176.6 150.7h0M212.7 154.5h0M214.8 164.2h0M200.8 134.6h0M208.4 157.3h0M222.1 144.5h0M192.1 122.0h0M206.4 122.3h0M171.3 154.8h0M206.0 131.5h0M203.9 134.1h0M203.2 150.2h0M176.9 141.8h0M212.2 145.8h0M176.1 143.3h0M213.2 136.6h0M218.6 166.7h0M215.1 120.1h0M216.9 120.6h0M205.6 140.0h0M214.7 136.4h0M209.7 154.6h0M181.6 124.5h0M205.9 118.3h0M222.5 165.4h0M189.3 131.2h0M208.5 167.2h0M218.6 147.6h0M210.9 149.8h0M201.5 135.8h0M199.7 146.1h0M207.3 156.9h0M217.9 148.4h0M180.8 134.2h0M172.4 157.6h0M225.9 143.2h0M200.9 138.1h0M183.6 144.6h0M211.9 126.6h0M206.3 144.3h0M176.4 149.9h0M193.0 120.5h0M184.9 132.5h0M172.6 147.8h0M203.2 147.5h0M202.3 151.0h0M189.9 122.8h0M215.8 170.9h0M209.8 137.2h0M207.5 145.5h0M206.0 140.0h0M177.3 141.0h0M224.7 161.1h0M211.9 122.8h0M218.4 157.9h0M220.7 154.0h0M227.2 140.5h0M211.0 136.4h0M221.6 161.1h0M179.7 136.3h0M178.9 149.5h0M219.3 123.3h0M216.8 124.9h0M178.9 139.2h0M205.2 122.8h0M221.9 161.8h0M173.9 156.8h0M202.0 126.2h0M201.0 131.8h0M180.2 149.1h0M178.5 148.0h0M211.4 155.3h0M173.0 154.2h0M193.1 131.5h0M194.7 128.6h0M170.5 145.8h0M173.7 136.5h0M176.8 144.0h0M184.7 142.1h0M209.7 163.7h0M217.5 130.5h0M203.5 135.7h0M205.1 119.0h0M204.4 144.3h0M203.7 120.7h0M216.3 150.0h0M222.7 168.8h0M226.9 144.1h0M227.6 132.9h0M202.4 142.3h0M211.1 155.9h0M170.9 147.8h0M221.5 159.0h0M202.8 119.2h0M187.8 131.3h0M194.0 123.8h0M179.5 145.7h0M173.5 144.2h0M216.2 132.6h0M225.5 144.4h0M216.6 146.3h0M218.2 140.9h0M210.6 132.8h0M216.4 152.6h0M212.7 151.1h0M222.3 140.7h0M209.2 121.5h0M212.1 132.0h0M207.0 151.3h0M214.3 142.1h0M212.7 129.5h0M204.9 152.2h0M186.3 129.6h0M227.0 145.6h0M213.5 127.5h0M183.1 126.6h0M187.7 124.0h0M181.7 122.9h0M209.1 131.3h0M219.9 124.9h0M226.3 124.7h0M210.3 137.1h0M196.3 129.0h0M193.1 134.9h0M193.8 125.5h0M211.2 119.0h0M206.9 125.8h0M211.6 121.2h0M181.0 143.7h0M183.6 128.7h0M209.7 145.3h0M180.7 131.5h0M179.1 146.3h0M205.9 158.8h0M213.9 157.5h0M220.9 152.0h0M229.4 145.9h0M227.1 158.4h0M211.0 134.1h0M223.8 139.0h0M176.6 147.2h0M194.8 139.3h0M228.7 139.8h0M184.4 125.2h0M194.5 130.9h0M209.6 139.6h0M209.5 151.3h0M219.5 162.9h0M224.1 134.7h0M179.6 125.4h0M217.9 141.8h0M221.5 144.4h0M207.7 163.3h0M211.4 146.0h0M204.8 129.9h0M196.1 138.2h0M214.3 147.6h0M205.4 132.5h0M209.1 153.5h0M203.7 121.7h0M202.9 124.8h0M208.3 155.0h0M171.7 149.4h0M229.7 126.9h0M205.9 134.1h0M207.2 144.0h0M207.9 141.4h0M214.1 133.4h0M213.2 118.8h0M209.8 146.4h0M172.6 142.7h0M182.9 127.5h0M188.4 129.4h0M228.0 165.9h0M212.7 119.8h0M196.7 119.5h0M204.6 125.7h0M228.1 130.6h0M222.4 135.7h0M199.5 140.1h0M203.6 120.0h0M218.7 165.3h0M210.0 150.0h0M218.4 119.7h0M181.6 148.5h0M183.9 135.8h0M195.9 129.6h0M227.1 122.0h0M184.5 132.4h0M214.6 142.7h0M174.6 133.6h0M217.3 146.4h0M175.5 144.0h0M185.9 126.6h0M216.3 120.4h0M211.6 119.8h0M217.6 125.0h0M215.0 124.8h0M227.5 151.6h0M195.2 121.8h0M211.1 150.3h0M220.7 123.8h0M187.5 124.7h0M178.8 131.0h0M205.7 142.2h0M211.0 152.7h0M227.0 145.9h0M203.6 136.1h0M213.5 139.2h0M198.0 136.9h0M215.2 126.1h0M224.0 139.5h0M197.8 122.8h0M183.5 145.9h0M182.4 141.0h0M177.8 140.9h0M220.5 158.7h0M217.3 167.6h0M193.1 132.3h0M216.6 162.3h0M178.6 134.6h0M205.3 139.3h0M180.3 142.0h0M176.8 148.3h0M203.1 147.7h0M203.0 138.5h0M218.6 166.1h0M216.1 166.4h0M221.3 154.7h0M208.5 148.8h0M205.5 154.1h0M219.8 142.2h0M220.3 148.0h0M219.9 159.6h0M175.2 154.2h0M225.9 136.1h0M201.3 134.1h0M175.6 136.6h0M198.8 124.9h0M218.4 146.1h0M208.2 151.1h0M224.4 162.3h0M185.6 137.7h0M215.7 131.6h0M216.3 125.7h0M213.9 128.8h0M207.9 127.5h0M211.6 133.8h0M188.3 134.3h0M218.8 122.1h0M173.9 136.8h0M221.8 138.5h0M204.7 147.3h0M193.9 134.3h0M179.8 137.8h0M190.1 120.0h0M207.5 145.0h0M203.0 137.4h0M214.8 149.6h0" stroke="#9a9aa8" stroke-width="1.0" stroke-linecap="round" stroke-opacity="0.38" fill="none"/>
<path d="M215.2 147.3h0M220.3 127.1h0M209.8 146.8h0M230.5 147.5h0M204.5 144.7h0M199.6 118.3h0M174.0 146.5h0M183.5 122.4h0M187.9 131.1h0M183.9 129.3h0M177.1 144.2h0M228.0 145.0h0M219.0 146.5h0M185.6 133.4h0M207.9 148.9h0M184.6 139.7h0M214.1 170.3h0M216.8 126.2h0M188.3 125.9h0M219.4 132.0h0M185.8 125.7h0M172.1 141.0h0M182.1 145.0h0M176.9 145.1h0M196.7 118.2h0M215.2 133.2h0M215.0 149.8h0M215.0 124.4h0M182.5 140.1h0M197.7 131.3h0M209.5 118.6h0M218.2 139.5h0M180.5 127.0h0M210.4 155.2h0M219.2 134.0h0M189.3 126.9h0M173.5 141.6h0M211.0 126.0h0M215.7 124.1h0M187.9 121.4h0M176.5 134.8h0M220.4 153.2h0M180.4 123.5h0M212.4 159.6h0M226.6 158.4h0M219.1 133.2h0M206.6 131.1h0M209.1 133.2h0M216.7 149.0h0M178.5 131.9h0M217.8 121.5h0M214.9 127.4h0M179.9 150.1h0M217.8 158.5h0M194.3 139.0h0M182.2 130.1h0M227.1 164.7h0M176.0 131.0h0M219.1 130.6h0M184.0 142.2h0M176.6 131.9h0M184.6 125.8h0M222.4 133.7h0M222.7 161.1h0M216.3 133.7h0M178.6 126.4h0M217.3 124.3h0M177.8 140.0h0M211.2 134.0h0M213.1 150.7h0M191.0 132.3h0M216.5 159.2h0M203.2 124.9h0M209.8 137.7h0M218.2 148.0h0M211.4 126.8h0M221.0 160.4h0M200.8 123.5h0M201.9 138.3h0M196.2 129.9h0M215.2 152.7h0M202.4 147.4h0M189.2 131.1h0M184.5 127.7h0M217.6 124.2h0M203.4 130.1h0M175.8 149.4h0M223.7 167.3h0M207.1 130.2h0M183.1 125.6h0M198.1 137.8h0M201.6 119.1h0M195.7 125.7h0M204.8 141.3h0M209.4 145.9h0M214.5 128.4h0M213.4 146.2h0M173.9 140.8h0M220.5 136.5h0M178.9 147.6h0M218.9 138.4h0M171.6 156.8h0M175.6 155.5h0M200.1 122.4h0M180.4 123.0h0M213.8 150.5h0M175.5 155.2h0M213.6 133.6h0M184.4 120.8h0M204.0 138.9h0M208.5 137.9h0M216.5 131.5h0M217.5 160.5h0M172.7 157.4h0M174.3 145.9h0M172.0 144.5h0M180.6 139.5h0M214.4 159.8h0M174.3 134.0h0M175.9 155.8h0M180.7 126.5h0M217.6 169.4h0M199.8 130.0h0M204.3 155.0h0M182.3 127.3h0M215.2 150.4h0M174.0 133.2h0M184.5 121.2h0M200.0 145.4h0M202.1 132.5h0M220.3 143.8h0M174.5 132.2h0M217.6 132.2h0M199.0 120.3h0M220.7 143.4h0M215.8 153.5h0M227.6 121.5h0M183.2 131.5h0M204.9 136.2h0M184.2 135.9h0M173.2 145.5h0M171.5 146.8h0M226.6 130.7h0M229.2 149.7h0M195.8 132.0h0M213.9 140.6h0M193.6 118.2h0M191.1 125.8h0M212.1 158.0h0M200.3 127.2h0M216.0 119.1h0M201.5 130.1h0M182.1 123.1h0M195.6 136.5h0M181.4 142.2h0M211.6 149.8h0M191.1 131.6h0M203.0 128.1h0M208.9 125.8h0M208.0 125.3h0M220.8 138.8h0M182.4 121.2h0M204.9 121.2h0M193.2 135.1h0M220.9 132.8h0M212.5 129.4h0M214.1 130.9h0M187.0 132.4h0M176.5 145.5h0M175.5 138.7h0M179.4 150.0h0M228.7 135.3h0M195.8 133.8h0M207.2 151.4h0M221.6 121.7h0M214.4 122.5h0M199.5 135.5h0M214.9 138.3h0M217.0 155.8h0M181.8 132.5h0M175.9 130.3h0M201.8 150.8h0M209.0 119.7h0M181.7 133.6h0M221.3 122.9h0M211.7 120.9h0M189.7 121.7h0M215.9 132.2h0M211.3 155.6h0M197.8 121.8h0M178.8 128.3h0M215.5 120.3h0M196.8 137.5h0M223.5 165.0h0M181.8 146.6h0M229.5 161.3h0M200.7 138.7h0M220.7 151.6h0M228.8 149.0h0M212.4 118.9h0M218.0 119.8h0M227.7 154.1h0M173.6 147.7h0M226.0 128.3h0M170.9 146.5h0M175.8 149.8h0M207.1 161.7h0M204.2 133.1h0M210.4 156.1h0M183.4 123.6h0M202.7 147.6h0M177.3 135.5h0M200.2 140.6h0M203.6 124.4h0M197.4 119.2h0M201.2 139.9h0M204.2 134.8h0M177.9 152.2h0M172.7 143.8h0M190.2 131.4h0M178.7 126.8h0M206.0 125.5h0M220.2 162.3h0M196.9 129.2h0M174.2 157.5h0M176.0 152.6h0M222.0 143.9h0M183.5 124.1h0M216.9 138.0h0M209.0 148.1h0M199.4 142.1h0M211.8 139.5h0M223.3 127.0h0M225.8 162.2h0M193.0 126.7h0M222.7 156.9h0M203.7 124.4h0M208.7 162.0h0M217.1 122.0h0M199.5 142.6h0M191.3 119.8h0M210.7 142.0h0M188.7 123.3h0M211.8 148.9h0M229.0 133.6h0M171.3 153.0h0M211.2 160.1h0M191.2 124.3h0M221.6 124.9h0M177.4 127.5h0M204.6 145.9h0M199.1 127.6h0M173.1 157.6h0M209.7 124.4h0M186.5 136.8h0M201.9 127.2h0M228.6 127.9h0M217.0 120.3h0M211.8 132.1h0M207.9 157.9h0M212.9 160.2h0M200.7 118.9h0M218.2 127.9h0M213.2 126.5h0M209.2 137.0h0M183.4 132.8h0M221.9 134.8h0M222.6 133.6h0M203.1 128.1h0M173.8 138.4h0M200.3 143.6h0M211.3 132.6h0M179.1 142.2h0M189.0 124.3h0M205.4 124.1h0M203.4 144.6h0M205.4 143.0h0M230.6 136.2h0M202.5 134.1h0M184.0 136.7h0M198.7 126.3h0M199.2 119.9h0M212.9 123.3h0M176.7 146.7h0M222.4 137.1h0M222.8 123.3h0M222.8 147.7h0M184.9 135.4h0M185.9 121.4h0M202.1 150.6h0M215.4 131.0h0M213.6 142.3h0M218.9 140.8h0M200.4 130.1h0M206.4 129.7h0M203.1 139.0h0M200.4 138.1h0M176.4 132.4h0M215.5 136.9h0M173.0 157.1h0M224.6 158.1h0M198.8 124.2h0M214.6 160.3h0M204.5 155.2h0M213.3 164.8h0M209.5 133.5h0M215.3 145.1h0M204.0 130.8h0M177.8 150.8h0M201.4 147.4h0M208.8 160.4h0M180.7 122.9h0M227.0 140.0h0M187.0 131.0h0M190.0 124.5h0M203.5 146.9h0M217.8 125.5h0M206.4 151.8h0M214.8 159.3h0M209.1 135.6h0M188.5 122.2h0M218.4 157.2h0M218.0 122.8h0M209.9 151.2h0M194.7 120.0h0M222.2 161.7h0M212.7 132.5h0M224.3 129.0h0M180.8 146.5h0M182.9 132.5h0M182.6 137.2h0M221.2 154.5h0M212.6 155.9h0M213.8 138.8h0M205.8 152.6h0M214.3 133.8h0M217.9 160.8h0M171.3 147.3h0M218.4 132.0h0M183.9 122.7h0M188.7 129.0h0M207.5 150.6h0M205.3 150.2h0M213.8 141.5h0M176.0 154.1h0M216.3 162.3h0M192.7 126.8h0M219.2 157.8h0M200.7 118.3h0M187.2 122.1h0M208.0 144.2h0M214.7 156.2h0M201.6 143.8h0M211.4 122.5h0M180.6 141.9h0M227.0 137.0h0M228.1 134.8h0M221.5 132.6h0M182.6 143.2h0M218.6 134.6h0M191.4 135.3h0M174.1 144.0h0M200.8 125.2h0M204.6 122.5h0M223.8 164.5h0M181.5 131.3h0M221.1 160.9h0M220.8 138.4h0M203.5 148.2h0M227.0 164.5h0M204.7 137.6h0M188.8 129.1h0M208.6 145.8h0M209.9 159.1h0M180.4 145.1h0M219.2 169.4h0M172.1 155.1h0M181.8 123.5h0M183.0 139.9h0M223.1 152.8h0M211.1 155.9h0M175.0 134.0h0M190.0 120.4h0M213.3 169.0h0M200.3 148.1h0M187.2 125.5h0M204.9 140.6h0M190.2 126.4h0M221.1 162.8h0M218.0 168.9h0M210.5 158.7h0M201.9 132.7h0M209.4 142.2h0M224.9 124.3h0M191.5 122.9h0M217.6 148.6h0M185.4 144.4h0M211.3 140.6h0M209.9 152.7h0M195.4 128.0h0M221.2 153.2h0M197.4 135.3h0M197.4 129.6h0M176.3 136.8h0M179.6 145.1h0M217.4 135.8h0M174.2 150.3h0M201.3 144.9h0M217.5 127.7h0" stroke="#2a98a8" stroke-width="1.0" stroke-linecap="round" stroke-opacity="0.38" fill="none"/>
<path d="M194.1 132.5h0M222.8 152.8h0M210.3 170.9h0M227.0 162.7h0M206.3 129.0h0M171.1 153.4h0M201.7 149.7h0M175.3 143.9h0M225.6 165.5h0M173.7 142.4h0M176.0 143.1h0M181.8 143.2h0M201.2 139.8h0M181.2 143.7h0M224.9 166.1h0M184.0 126.7h0M177.9 129.9h0M217.2 135.2h0M202.2 146.2h0M198.6 132.1h0M204.8 118.7h0M215.5 150.3h0M201.3 133.6h0M173.9 141.1h0M212.2 144.4h0M192.1 132.8h0M206.3 123.6h0M212.7 148.8h0M217.9 126.5h0M212.0 148.8h0M202.6 141.9h0M187.9 123.3h0M191.8 125.9h0M178.6 136.1h0M206.0 138.0h0M218.9 134.5h0M194.0 130.9h0M212.7 134.0h0M211.3 155.3h0M175.5 137.8h0M173.1 145.9h0M182.3 127.1h0M221.7 164.9h0M186.5 122.9h0M207.1 137.2h0M175.6 156.9h0M180.6 129.1h0M193.3 135.8h0M222.2 136.0h0M221.3 164.5h0M208.8 150.7h0M204.1 133.9h0M211.5 126.6h0M203.4 145.9h0M198.9 142.3h0M223.6 154.0h0M211.0 160.5h0M201.9 127.0h0M212.1 150.0h0M212.2 153.9h0M196.1 126.0h0M226.1 139.8h0M210.1 131.0h0M208.3 143.3h0M205.3 137.1h0M219.1 148.2h0M183.1 144.9h0M204.2 153.7h0M215.8 163.2h0M206.8 162.4h0M214.1 158.4h0M201.1 137.2h0M183.2 122.9h0M177.2 145.0h0M205.4 137.6h0M186.9 134.5h0M172.0 155.6h0M176.7 145.1h0M225.1 155.9h0M187.8 132.7h0M179.8 142.6h0M213.6 131.9h0M193.2 132.2h0M200.2 142.1h0M176.2 129.8h0M187.1 123.6h0M211.5 161.9h0M208.4 135.3h0M222.7 137.7h0M180.0 130.9h0M213.4 164.3h0M227.1 159.3h0M209.2 160.4h0M219.2 123.2h0M213.7 148.8h0M172.2 150.0h0M200.7 148.1h0M210.0 162.4h0M183.7 136.7h0M220.2 130.6h0M189.0 121.2h0M172.6 149.9h0M207.3 131.7h0M198.9 144.2h0M222.3 138.3h0M202.3 130.4h0M216.4 154.1h0M204.6 126.2h0M182.7 143.9h0M186.7 121.8h0M222.1 162.2h0M213.4 167.6h0M221.8 137.7h0M203.5 125.3h0M204.5 133.0h0M216.5 129.4h0M222.2 145.2h0M220.3 144.1h0M170.7 144.8h0M196.7 118.1h0M212.9 161.2h0M195.4 124.4h0M185.8 127.1h0M182.3 141.2h0M211.1 140.6h0M218.2 134.9h0M192.1 133.6h0M178.1 145.0h0M208.6 149.6h0M197.8 123.5h0M210.9 135.4h0M185.4 136.5h0M176.9 150.2h0M208.7 163.6h0M222.3 119.7h0M215.4 152.5h0M199.1 123.3h0M215.7 133.2h0M173.1 155.1h0M211.2 152.8h0M223.5 164.2h0M178.2 136.3h0M217.7 139.9h0M177.6 133.7h0M207.8 128.4h0M213.0 128.5h0M188.0 129.7h0M218.4 123.6h0M213.5 147.7h0M220.5 139.6h0M221.1 166.3h0M215.6 129.9h0M226.4 162.9h0M202.0 139.4h0M212.4 136.4h0M217.1 145.8h0M209.6 135.8h0M219.4 152.6h0M203.3 131.1h0M206.3 148.5h0M225.6 160.9h0M200.9 130.3h0M209.2 121.4h0M206.6 133.2h0M221.7 138.9h0M183.3 124.8h0M205.2 144.6h0M220.7 146.5h0M218.9 147.2h0M216.6 144.5h0M175.9 131.2h0M178.2 135.0h0M216.3 129.7h0M212.7 134.3h0M170.9 146.7h0M210.0 124.9h0M178.5 143.1h0M218.7 151.2h0M187.6 126.2h0M192.8 125.5h0M213.2 123.7h0M229.9 156.8h0M206.9 134.4h0M195.8 122.1h0M217.4 136.5h0M223.0 168.6h0M212.3 137.8h0M201.5 143.8h0M206.6 161.5h0M175.5 151.7h0M198.7 119.9h0M213.3 148.8h0M213.0 159.8h0M218.5 153.5h0M208.3 125.8h0M177.9 135.6h0M207.6 123.0h0M225.9 166.9h0M180.8 135.9h0M209.2 157.5h0M194.1 121.5h0M213.4 119.6h0M221.1 141.1h0M184.4 125.6h0M183.2 145.2h0M175.8 139.7h0M215.1 155.4h0M172.9 146.0h0M220.0 127.2h0M214.6 143.4h0M214.8 127.5h0M199.4 141.0h0M221.8 128.5h0M193.6 124.1h0M192.9 124.8h0M218.7 157.3h0M196.7 137.6h0M213.7 161.1h0M222.6 162.0h0M194.1 133.6h0M181.9 130.1h0M191.5 119.5h0M220.9 123.8h0M208.1 160.0h0M207.4 128.9h0M195.5 139.9h0M222.0 151.8h0M177.1 135.7h0M181.1 143.6h0M211.3 144.6h0M213.8 144.7h0M180.7 147.2h0M228.8 150.2h0M201.8 133.1h0M194.5 131.5h0M220.4 139.0h0M212.5 144.1h0M211.9 133.2h0M217.6 131.4h0M175.3 153.7h0M221.4 139.3h0M173.2 142.4h0M212.7 122.1h0M215.0 154.5h0M178.9 148.1h0M174.7 132.7h0M173.3 144.8h0M217.3 119.1h0M188.5 127.7h0M184.1 129.7h0M212.0 132.8h0M193.8 130.8h0M224.1 123.3h0M204.0 143.7h0M192.9 133.3h0M226.7 136.9h0M200.2 140.9h0M206.4 127.4h0M183.1 141.5h0M211.3 145.4h0M216.7 153.2h0M211.5 131.0h0M214.3 168.0h0M205.7 123.5h0M217.7 137.9h0M220.5 134.2h0M215.6 145.3h0M212.6 149.6h0M220.7 169.8h0M221.0 130.0h0M190.0 134.8h0M177.7 141.8h0M172.5 137.8h0M175.9 142.0h0M210.9 150.0h0M202.8 145.0h0M174.3 145.4h0M196.1 124.5h0M222.6 123.9h0M194.5 136.3h0M174.4 152.7h0M220.7 131.8h0M206.7 124.5h0M189.7 119.4h0M211.7 133.4h0M181.2 130.2h0M179.7 143.0h0M209.2 158.2h0M183.8 125.1h0M195.5 127.1h0M205.6 131.1h0M199.8 126.2h0M178.3 136.7h0M210.6 126.2h0M205.6 153.3h0M183.2 128.7h0M178.8 149.8h0M201.3 147.2h0M219.6 149.7h0M219.8 124.7h0M219.4 145.2h0M200.6 137.0h0M204.8 120.8h0M218.4 149.4h0M204.8 118.8h0M190.2 125.6h0M213.7 151.9h0M180.9 140.8h0M185.2 144.3h0M206.0 118.8h0M212.6 156.1h0M203.8 146.7h0M206.7 162.6h0M186.1 131.1h0M183.7 128.3h0M181.0 139.0h0M226.9 160.6h0M221.8 132.1h0M209.2 146.2h0M216.9 150.2h0M178.1 140.9h0M192.7 135.5h0M178.2 142.1h0M211.4 145.0h0M208.6 130.0h0M213.0 161.2h0M196.5 129.3h0M205.0 153.4h0M191.2 133.1h0M171.6 151.1h0M227.6 160.0h0M203.1 131.0h0M221.5 140.5h0M218.6 162.5h0M212.5 130.8h0M176.1 139.8h0M203.9 135.0h0M224.5 120.6h0M200.9 146.2h0M221.6 121.1h0M218.1 132.9h0M228.1 126.2h0M173.5 145.2h0M177.5 152.4h0M172.3 140.3h0M182.7 133.2h0M222.5 120.4h0M215.9 157.8h0M207.9 164.0h0M197.6 138.9h0M218.6 132.8h0M206.7 160.2h0M171.1 148.8h0M173.7 146.4h0M178.9 146.3h0M218.1 131.5h0M213.5 171.3h0M216.1 133.5h0M216.8 135.5h0M173.0 141.0h0" stroke="#3aa8b8" stroke-width="1.0" stroke-linecap="round" stroke-opacity="0.38" fill="none"/>
<path d="M221.0 162.0h0M227.4 154.6h0M200.0 146.5h0M208.0 150.9h0M177.6 145.0h0M212.1 118.8h0M218.4 163.2h0M208.3 133.0h0M208.8 133.6h0M194.6 118.4h0M208.6 158.7h0M182.6 142.8h0M215.2 121.5h0M226.4 130.2h0M213.4 156.1h0M191.2 130.9h0M219.4 150.6h0M196.9 122.7h0M212.7 149.0h0M218.3 136.8h0M181.6 139.7h0M199.0 141.0h0M202.5 121.5h0M209.4 137.4h0M210.7 142.8h0M182.9 143.5h0M209.3 152.0h0M178.7 148.9h0M210.1 157.7h0M214.6 136.2h0M216.8 119.0h0M215.9 131.1h0M222.8 159.7h0M190.0 129.6h0M173.1 143.4h0M174.2 156.4h0M222.8 149.0h0M224.5 125.6h0M204.3 144.4h0M201.6 129.9h0M176.4 146.7h0M214.3 163.9h0M200.1 143.5h0M221.3 121.1h0M178.3 143.2h0M202.8 128.6h0M188.1 133.8h0M204.9 125.4h0M179.3 132.7h0M216.6 142.5h0M211.8 154.7h0M209.2 166.2h0M208.8 130.0h0M178.5 131.0h0M222.6 137.1h0M175.7 148.4h0M172.1 158.4h0M205.0 135.0h0M225.3 131.2h0M212.0 163.0h0M185.4 122.8h0M175.5 133.9h0M190.9 126.6h0M214.1 137.3h0M176.1 145.0h0M209.1 157.5h0M226.0 160.4h0M176.5 129.7h0M217.5 155.8h0M201.6 129.4h0M218.6 158.6h0M178.0 142.0h0M220.7 143.7h0M219.7 144.2h0M198.6 128.2h0M173.3 147.7h0M207.8 157.4h0M198.2 141.6h0M198.1 139.2h0M214.2 160.4h0M225.4 149.9h0M219.0 124.1h0M220.3 155.9h0M201.6 118.0h0M231.3 144.4h0M215.1 142.9h0M213.0 159.1h0M208.8 161.5h0M206.9 153.4h0M216.0 123.4h0M213.2 143.1h0M189.8 134.7h0M218.7 155.2h0M183.5 132.0h0M202.8 131.7h0M208.2 139.1h0M206.0 127.2h0M223.0 155.1h0M221.4 142.2h0M178.6 139.1h0M190.4 131.3h0M174.4 152.7h0M203.1 131.8h0M212.9 152.4h0M207.8 129.3h0M198.6 118.0h0M209.7 118.3h0M219.2 136.2h0M185.6 128.3h0M221.5 154.4h0M218.8 120.6h0M210.7 170.8h0M204.6 150.2h0M179.7 123.9h0M175.4 153.1h0M223.5 162.7h0M219.4 140.5h0M177.8 129.1h0M184.3 134.3h0M227.6 128.1h0M201.8 149.7h0M213.0 133.2h0M215.5 169.8h0M175.4 131.1h0M213.3 132.4h0M212.7 155.7h0M209.8 137.2h0M198.6 123.2h0M211.5 123.4h0M187.6 134.5h0M210.1 147.0h0M226.2 124.6h0M205.9 160.4h0M211.0 137.6h0M194.3 136.0h0M182.2 136.7h0M172.8 156.2h0M177.6 129.4h0M205.0 126.9h0M175.4 147.1h0M224.4 151.5h0M205.7 121.0h0M212.0 129.9h0M223.8 159.3h0M220.7 150.9h0M215.1 163.7h0M199.9 142.2h0M200.1 128.7h0M201.6 124.1h0M209.7 132.3h0M216.5 119.8h0M221.7 144.3h0M180.9 140.9h0M222.3 149.8h0M203.3 142.6h0M217.4 155.4h0M205.3 151.2h0M171.4 149.2h0M209.9 119.2h0M184.4 129.0h0M211.6 126.9h0M197.3 129.9h0M216.6 143.7h0M171.5 147.4h0M214.1 141.5h0M175.9 145.5h0M224.1 132.8h0M189.9 122.1h0M215.1 121.6h0M225.6 147.8h0M220.4 149.6h0M198.8 144.9h0M194.5 124.5h0M177.7 131.7h0M222.2 126.2h0M219.3 156.1h0M205.2 128.7h0M222.1 131.8h0M172.2 153.7h0M210.6 134.8h0M176.4 139.6h0M200.9 131.1h0M207.8 158.4h0M223.5 124.7h0M198.6 144.0h0M212.5 139.3h0M183.2 141.6h0M172.3 156.4h0M196.6 134.7h0M230.6 153.1h0M213.9 145.0h0M225.8 143.0h0M208.9 138.2h0M201.2 122.9h0M171.1 143.3h0M214.9 146.2h0M205.7 156.3h0M220.0 153.6h0M205.9 140.7h0M173.9 141.0h0M220.0 146.0h0M228.6 136.7h0M204.0 152.2h0M172.4 145.4h0M194.5 121.5h0M212.2 156.1h0M195.8 139.5h0M218.9 124.9h0M170.8 149.1h0M213.6 142.3h0M222.8 121.5h0M190.5 120.5h0M208.8 143.3h0M201.1 144.0h0M195.7 133.2h0M199.5 122.0h0M209.0 137.3h0M173.4 150.6h0M208.7 139.4h0M175.1 145.8h0M211.7 141.1h0M207.2 164.7h0M230.4 142.5h0M216.5 148.0h0M203.6 124.9h0M215.6 144.7h0M179.7 147.7h0M193.2 123.8h0M187.9 124.7h0M174.9 155.9h0M208.7 142.2h0M172.3 138.9h0M221.4 142.9h0M230.6 147.6h0M203.6 153.6h0M228.1 148.3h0M193.1 131.7h0M177.3 139.5h0M221.1 121.6h0M224.5 140.5h0M188.3 128.9h0M199.3 121.2h0M210.2 126.3h0M217.2 137.5h0M209.5 122.1h0M180.5 143.4h0M177.4 128.3h0M173.1 147.7h0M174.4 142.5h0M203.4 119.4h0M210.7 123.4h0M216.2 147.0h0M205.0 130.4h0M215.5 146.0h0M198.3 139.0h0M185.2 136.7h0M212.2 149.9h0M219.9 145.4h0M220.9 139.5h0M209.4 138.3h0M206.3 157.4h0M209.8 150.8h0M207.3 124.1h0M221.6 148.2h0M184.9 142.0h0M210.2 126.0h0M221.3 133.8h0M219.1 130.3h0M172.4 157.1h0M197.3 133.8h0M219.0 151.2h0M196.3 124.6h0M214.7 121.3h0M175.8 133.1h0M206.5 133.6h0M211.5 144.1h0M183.1 127.7h0M197.8 124.6h0M216.0 159.8h0M214.3 161.6h0M172.4 145.4h0M217.1 148.2h0M200.5 118.0h0M224.1 160.1h0M196.3 136.1h0M210.7 155.8h0M185.4 145.2h0M180.1 139.6h0M198.1 130.5h0M219.8 135.6h0M213.6 140.8h0M176.2 152.6h0M194.6 118.2h0M194.3 118.7h0M189.2 129.4h0M230.2 138.5h0M176.1 149.3h0M218.1 139.4h0M178.9 135.1h0M197.4 122.0h0M175.1 151.8h0M208.2 150.2h0M200.5 147.6h0M213.4 136.2h0M215.3 133.6h0M214.0 136.6h0M213.2 144.6h0M205.1 151.1h0M216.9 137.4h0M170.9 151.0h0M200.2 120.1h0M197.7 118.3h0M220.1 137.5h0M221.4 144.5h0M201.2 142.6h0M198.4 120.4h0M177.6 126.7h0M182.8 146.1h0M185.0 132.0h0M193.5 136.0h0M207.0 127.9h0M198.5 130.1h0M174.7 131.7h0M222.6 143.8h0M205.3 146.2h0M174.8 149.1h0M180.3 134.9h0M212.6 127.6h0M207.1 133.1h0M214.1 142.5h0M220.9 147.9h0M222.6 139.8h0M185.2 139.4h0M197.5 141.9h0M209.3 121.8h0M198.8 121.4h0M216.3 149.1h0M218.3 162.8h0M209.2 146.1h0M218.8 136.7h0M211.4 119.5h0M212.8 119.7h0M222.3 126.8h0M211.4 148.3h0M222.8 160.2h0M194.5 133.6h0M221.5 136.1h0M220.6 135.9h0M214.3 129.0h0M207.7 133.7h0M212.8 135.4h0M214.8 149.4h0M209.3 136.1h0M176.6 147.6h0M192.7 120.6h0M215.0 167.9h0M199.4 129.1h0M172.5 137.0h0M201.8 148.6h0M220.4 157.3h0M183.9 132.1h0M205.9 123.6h0M209.8 166.3h0M211.7 126.2h0M204.0 124.5h0M217.2 163.7h0M207.2 140.6h0M213.1 131.3h0M204.3 132.4h0M217.5 130.3h0M205.4 142.6h0M184.2 142.2h0M213.5 151.0h0M217.2 124.2h0M203.7 129.8h0M183.8 125.5h0M223.3 146.7h0M186.9 123.0h0M224.0 121.0h0M193.2 136.4h0M220.0 131.4h0M175.1 156.6h0M194.5 119.7h0M189.7 133.3h0M197.8 124.8h0M204.5 124.2h0M201.9 146.2h0M181.3 122.4h0M214.4 158.7h0M222.9 156.6h0M213.8 126.2h0M214.6 151.0h0M172.0 150.4h0M189.8 125.4h0M191.1 124.7h0M221.3 129.7h0M218.0 140.1h0M208.0 144.6h0M221.4 133.3h0M228.3 142.6h0M184.2 143.3h0M197.3 133.3h0M230.5 129.8h0M211.5 150.6h0M219.8 121.3h0M176.5 150.7h0M217.0 151.9h0M185.3 137.3h0" stroke="#70bcc8" stroke-width="1.0" stroke-linecap="round" stroke-opacity="0.38" fill="none"/>
<path d="M230.2 137.6h0M224.6 127.1h0M182.2 129.6h0M221.3 133.8h0M219.3 157.7h0M216.9 158.1h0M214.0 135.1h0M223.8 167.8h0M197.7 132.2h0M190.9 132.4h0M192.1 130.2h0M230.5 143.1h0M172.0 149.0h0M223.8 162.4h0M213.1 133.1h0M227.7 129.4h0M214.1 142.0h0M196.0 120.6h0M218.4 120.3h0M180.1 148.0h0M221.3 155.7h0M223.9 152.4h0M207.1 140.7h0M204.3 140.9h0M207.2 126.8h0M205.6 123.3h0M198.9 133.4h0M229.7 131.3h0M226.4 148.7h0M230.0 135.6h0M225.9 147.9h0M228.7 164.9h0M224.4 145.6h0M223.6 146.2h0M200.6 148.1h0M222.2 163.5h0M210.5 122.0h0M209.7 122.2h0M220.7 170.1h0M221.9 145.8h0M227.3 133.8h0M212.9 164.4h0M227.4 135.3h0M210.2 134.4h0M221.7 168.4h0M213.2 146.7h0M229.1 127.6h0M171.2 157.3h0M228.9 153.9h0M220.3 164.7h0M226.3 169.4h0M203.3 147.3h0M227.3 165.9h0M231.2 149.8h0M222.7 145.3h0M231.0 147.8h0M225.3 158.8h0M219.0 136.9h0M223.5 133.4h0M199.9 136.3h0M227.6 127.0h0M197.3 127.8h0M210.4 151.4h0M175.4 141.9h0M183.9 133.9h0M214.0 118.9h0M223.7 159.6h0M229.2 138.2h0M229.8 158.5h0M176.5 136.1h0M210.2 154.0h0M204.5 120.5h0M225.2 165.8h0M210.5 130.8h0M182.9 125.5h0M207.3 158.1h0M230.5 156.6h0M194.8 119.4h0M225.2 147.5h0M212.9 151.7h0M229.7 160.9h0M187.5 131.6h0M216.4 166.6h0M181.0 140.8h0M201.2 123.0h0M216.7 144.3h0M209.8 166.3h0M224.7 156.2h0M207.9 157.8h0M217.7 120.1h0M213.5 132.9h0M218.2 147.7h0M219.9 154.3h0M179.1 135.6h0M225.9 154.4h0M214.5 167.8h0M210.1 146.4h0M225.8 137.0h0M215.8 165.2h0M229.4 129.5h0M210.3 166.6h0M212.3 168.9h0M224.0 158.8h0M227.5 143.8h0M212.5 125.1h0M228.6 123.6h0M211.9 156.6h0M190.0 121.5h0M217.9 136.0h0M211.5 128.6h0M223.9 145.0h0M231.3 144.6h0M174.5 138.5h0M175.8 142.7h0M211.3 137.2h0M197.6 118.0h0M226.3 129.3h0M222.5 143.3h0M208.6 163.3h0M223.8 167.5h0M215.5 169.2h0M226.5 134.3h0M226.0 165.7h0M210.3 166.1h0M202.8 140.7h0M222.0 149.7h0M227.4 156.3h0M186.6 130.1h0M208.2 118.4h0M205.0 139.5h0M186.3 132.3h0M176.6 141.9h0M193.5 119.2h0M175.3 142.3h0M228.8 134.1h0M216.1 149.0h0M172.6 147.8h0M225.7 167.5h0M211.8 133.5h0M223.5 151.7h0M185.2 131.4h0M211.4 168.3h0M179.2 137.3h0M213.0 143.4h0M224.7 127.5h0M220.0 140.1h0M191.3 127.5h0M206.5 128.9h0M227.7 150.4h0M191.8 131.2h0M212.4 165.8h0M210.0 139.6h0M201.2 140.9h0M188.5 124.6h0M223.4 149.5h0M224.2 139.4h0M225.5 140.7h0M230.0 156.1h0M207.4 164.9h0M230.9 153.0h0M216.2 119.5h0M229.7 149.8h0M209.4 130.7h0M177.3 150.3h0M208.3 131.7h0M221.1 135.0h0M229.3 126.1h0M208.1 163.5h0M226.9 144.7h0M223.5 170.8h0M227.6 154.0h0M222.6 164.0h0M211.0 168.6h0M214.8 145.2h0M219.9 143.9h0M218.5 126.0h0M203.6 126.7h0M228.1 132.5h0M177.4 136.8h0M211.9 170.5h0M218.4 171.0h0M179.8 133.0h0M216.4 155.1h0M209.8 164.3h0M227.2 156.6h0M224.6 162.2h0M228.5 166.4h0M229.6 144.7h0M201.4 145.8h0M225.3 129.8h0M221.7 128.1h0M175.9 140.0h0M214.9 132.3h0M219.4 167.6h0M224.7 137.3h0M179.7 126.2h0M219.2 144.8h0M219.7 149.8h0M219.4 152.4h0M227.4 167.5h0M201.3 121.4h0M209.0 145.8h0M230.3 152.8h0M203.5 132.8h0M227.6 166.6h0M223.5 157.5h0M228.8 159.0h0M224.0 125.2h0M228.0 150.4h0M227.4 139.1h0M197.7 133.5h0M220.9 165.7h0M223.1 139.7h0M187.3 131.6h0M170.7 150.0h0M184.4 125.1h0M224.3 123.3h0M172.9 138.3h0M223.8 122.3h0M177.1 142.9h0M219.9 124.3h0M228.0 165.5h0M228.6 149.9h0M223.7 159.0h0M197.8 135.0h0M219.7 169.9h0M214.3 122.1h0M216.7 126.3h0M180.7 125.9h0M231.3 143.1h0M218.7 165.0h0M219.5 168.9h0M202.9 140.5h0M228.5 159.0h0M213.9 168.4h0M220.3 167.2h0M204.6 148.3h0M199.5 124.4h0M217.4 144.8h0M229.1 140.2h0M185.1 135.4h0M208.9 158.0h0M215.1 147.5h0M211.5 126.4h0M207.2 131.3h0M221.1 169.5h0M224.5 131.3h0M210.3 165.3h0M230.2 154.4h0M212.2 125.4h0M177.5 128.5h0M207.9 135.2h0M226.2 127.2h0M219.4 148.4h0M201.9 130.5h0M178.7 151.6h0M203.6 123.2h0M211.8 129.5h0M171.9 157.1h0M214.8 162.0h0M204.1 121.5h0M211.0 167.1h0M199.4 121.3h0M230.1 137.3h0M220.3 160.3h0M201.6 132.2h0M227.8 147.6h0M196.4 120.2h0M229.8 160.8h0M217.5 166.5h0M223.2 130.9h0M202.0 139.9h0M198.8 130.8h0M198.8 132.8h0M173.8 136.5h0M230.1 140.0h0M223.2 168.1h0M209.4 151.0h0M209.2 118.4h0M224.6 137.5h0M225.0 159.7h0M214.6 169.6h0M223.8 152.4h0M207.0 132.9h0M228.7 159.2h0M211.8 170.6h0M174.8 154.6h0M185.0 122.7h0M202.3 145.4h0M223.9 158.5h0M211.2 164.4h0M205.3 151.9h0M230.6 130.4h0M222.3 168.0h0M187.7 120.4h0M227.2 144.4h0M216.6 167.1h0M174.7 133.1h0M190.9 124.8h0M210.7 163.8h0M212.5 168.0h0M219.5 138.9h0M217.9 126.9h0M179.2 141.8h0M230.4 148.1h0M225.4 131.9h0M218.7 168.4h0M203.7 134.6h0M211.2 155.2h0M219.8 167.3h0M197.0 130.9h0M170.6 148.9h0M215.3 166.8h0M219.5 168.7h0M207.6 121.2h0M190.3 123.8h0M226.4 168.0h0M189.3 133.8h0M213.2 155.8h0M227.0 163.0h0M212.3 170.5h0M204.8 124.6h0M211.4 150.1h0M206.1 137.9h0M219.8 152.6h0M227.3 167.5h0M221.3 151.8h0M213.5 156.0h0M183.5 146.0h0M228.7 131.2h0M187.9 128.8h0M223.7 166.8h0M222.9 159.8h0M218.0 162.5h0M223.1 138.9h0M221.2 168.3h0M218.5 163.1h0M224.2 134.0h0M230.3 151.2h0M213.0 171.6h0M222.7 127.5h0M220.0 121.0h0M177.7 132.7h0M177.3 133.5h0M227.9 132.6h0M210.4 163.2h0M220.3 133.0h0M211.4 164.6h0M198.4 145.1h0M228.9 131.9h0M224.4 125.7h0M192.6 124.9h0M186.1 125.8h0M223.3 135.7h0M205.2 119.0h0M224.3 164.6h0M218.1 140.4h0M216.2 141.8h0M191.6 120.4h0" stroke="#e87070" stroke-width="1.0" stroke-linecap="round" stroke-opacity="0.38" fill="none"/>
<path d="M224.2 164.4h0M220.8 146.2h0M199.9 147.1h0M197.6 119.8h0M210.0 120.6h0M220.9 149.7h0M226.6 165.2h0M215.6 129.8h0M205.4 143.9h0M214.7 140.2h0M223.7 123.7h0M229.8 153.2h0M207.4 164.5h0M224.9 162.8h0M230.0 137.8h0M215.1 167.3h0M221.3 163.1h0M206.2 149.9h0M206.8 157.5h0M212.1 148.0h0M228.0 144.9h0M217.3 122.4h0M215.6 161.6h0M176.3 143.4h0M230.6 141.4h0M202.1 126.3h0M172.3 147.1h0M224.6 132.8h0M219.7 139.4h0M219.5 169.1h0M204.9 130.9h0M211.9 157.2h0M223.3 162.0h0M176.1 152.7h0M223.6 144.2h0M187.1 124.2h0M209.7 161.9h0M187.9 128.2h0M200.2 130.1h0M204.1 137.2h0M192.2 126.2h0M222.9 127.7h0M229.9 145.6h0M212.5 159.9h0M230.0 130.7h0M205.2 120.8h0M181.9 143.3h0M211.8 167.7h0M230.1 146.8h0M218.6 170.6h0M212.6 119.9h0M201.2 144.8h0M196.4 123.3h0M209.0 166.1h0M209.2 138.4h0M214.2 147.0h0M205.2 133.5h0M221.9 149.4h0M228.5 123.6h0M219.7 119.3h0M213.1 159.6h0M223.1 139.3h0M205.6 124.7h0M187.9 129.1h0M226.7 145.8h0M194.1 137.5h0M226.0 145.8h0M228.2 127.0h0M213.3 143.2h0M207.6 126.6h0M225.0 132.8h0M207.8 133.4h0M226.6 146.0h0M211.4 141.7h0M216.0 153.7h0M211.4 161.7h0M204.6 135.2h0M228.6 154.2h0M228.7 152.7h0M217.4 152.9h0M198.8 145.3h0M223.4 158.1h0M219.1 163.6h0M229.8 155.7h0M214.7 122.6h0M206.7 146.4h0M212.4 119.8h0M207.1 153.4h0M228.4 136.7h0M189.7 124.5h0M218.4 168.5h0M225.8 167.0h0M214.6 124.1h0M218.5 121.7h0M218.4 123.3h0M194.6 118.4h0M226.9 147.9h0M181.8 143.6h0M222.9 140.4h0M176.3 143.3h0M227.1 137.6h0M207.3 136.6h0M225.0 139.0h0M174.3 135.5h0M226.3 132.3h0M230.1 129.9h0M209.4 129.7h0M209.1 159.3h0M225.2 141.1h0M215.7 149.0h0M190.4 133.6h0M229.8 138.5h0M174.3 150.2h0M219.3 161.6h0M213.2 147.4h0M224.5 129.3h0M229.0 163.1h0M220.0 125.8h0M228.2 146.0h0M217.1 166.4h0M227.0 128.5h0M204.5 150.6h0M223.0 152.9h0M212.3 153.4h0M216.6 154.8h0M208.6 144.3h0M202.1 123.3h0M182.1 124.5h0M204.3 122.4h0M222.1 122.6h0M170.8 150.2h0M221.7 149.2h0M211.7 157.7h0M203.4 123.9h0M217.4 129.9h0M221.8 162.7h0M207.9 168.2h0M219.9 130.4h0M199.2 128.2h0M225.8 160.2h0M221.6 137.5h0M194.2 129.7h0M211.1 144.9h0M178.9 129.9h0M229.3 158.5h0M221.8 147.1h0M218.8 140.9h0M220.6 141.0h0M204.8 152.3h0M229.7 123.6h0M213.2 167.5h0M195.9 138.6h0M209.3 161.5h0M191.9 123.7h0M230.9 153.2h0M216.2 149.7h0M207.8 148.6h0M195.4 140.3h0M203.3 152.3h0M202.2 149.9h0M229.8 160.9h0M229.8 129.8h0M207.4 122.6h0M195.8 133.7h0M211.9 121.8h0M228.7 141.4h0M210.2 139.1h0M189.2 123.9h0M180.7 127.0h0M198.4 123.2h0M182.8 124.7h0M211.9 137.4h0M225.5 157.4h0M222.6 158.2h0M212.1 141.7h0M174.3 143.2h0M216.2 120.1h0M194.3 135.8h0M220.8 170.8h0M217.4 144.6h0M214.3 137.5h0M189.9 135.2h0M222.3 120.3h0M191.9 133.8h0M213.8 138.0h0M180.3 136.6h0M207.4 165.5h0M183.2 131.0h0M200.3 124.6h0M214.1 163.9h0M223.8 160.7h0M224.2 134.1h0M212.4 150.6h0M227.0 126.4h0M210.1 159.2h0M188.6 133.1h0M226.5 167.6h0M220.9 134.5h0M223.2 123.6h0M210.9 140.1h0M227.7 143.6h0M224.3 136.7h0M208.8 168.3h0M224.0 150.8h0M227.0 141.7h0M192.4 118.9h0M210.0 119.6h0M225.5 136.5h0M215.4 170.7h0M223.8 147.3h0M217.2 162.1h0M229.5 143.0h0M229.6 126.2h0M223.2 150.7h0M199.8 145.8h0M222.3 137.3h0M203.3 144.0h0M217.3 163.8h0M228.3 125.3h0M226.5 143.3h0M225.1 141.3h0M206.2 153.1h0M225.9 168.4h0M214.9 159.9h0M200.8 129.3h0M217.2 147.2h0M212.0 161.4h0M228.3 144.9h0M197.6 141.1h0M215.4 119.9h0M175.5 148.5h0M226.6 143.5h0M224.5 130.9h0M179.4 141.8h0M217.7 169.9h0M208.4 167.3h0M199.1 133.5h0M207.4 144.5h0M223.2 158.2h0M217.1 146.2h0M214.9 137.9h0M219.6 169.9h0M207.3 131.6h0M209.6 146.4h0M222.8 160.9h0M192.7 124.7h0M225.6 167.0h0M206.2 132.3h0M226.6 123.6h0M190.1 123.8h0M213.6 135.4h0M201.5 142.2h0M186.2 131.4h0M204.4 129.9h0M228.8 165.3h0M190.2 124.7h0M195.0 133.4h0M218.5 141.4h0M215.8 149.6h0M218.6 166.7h0M224.7 145.0h0M218.4 125.1h0M218.4 124.4h0M221.2 166.8h0M174.7 134.5h0M224.9 128.3h0M213.5 126.4h0M227.6 137.3h0M207.8 122.9h0M175.2 144.1h0M180.5 145.5h0M194.4 138.4h0M199.2 142.5h0M175.0 137.2h0M219.5 167.4h0M221.7 141.6h0M208.4 131.7h0M223.9 153.5h0M210.6 171.0h0M222.3 165.8h0M207.9 121.7h0M219.1 156.7h0M229.8 141.9h0M228.3 130.9h0M194.8 119.4h0M230.0 154.5h0M223.3 124.9h0M209.7 140.1h0M224.1 133.2h0M171.5 151.2h0M216.9 133.6h0M230.2 157.4h0M175.9 156.0h0M221.6 119.8h0M220.7 166.1h0M207.2 127.1h0M219.5 132.5h0M212.0 124.1h0M209.6 130.4h0M226.7 154.6h0M211.3 169.6h0M214.6 169.3h0M185.1 127.0h0M219.6 153.1h0M191.2 121.8h0M194.1 131.1h0M188.0 129.8h0M213.8 138.6h0M209.8 148.7h0M214.9 169.8h0M210.9 160.8h0M217.9 129.2h0M204.4 120.3h0M206.2 139.2h0M226.0 161.3h0M209.6 138.0h0M213.9 122.7h0M184.1 126.2h0M184.4 132.7h0M202.2 135.5h0M221.2 152.5h0M214.7 140.9h0M215.8 128.6h0M224.4 132.6h0M215.9 164.0h0M218.0 129.0h0M221.7 120.6h0M195.3 117.7h0M205.8 127.1h0M222.2 125.8h0M227.4 145.1h0M228.9 142.3h0M229.8 160.5h0M208.3 156.5h0M228.1 121.8h0M228.6 153.3h0M222.6 160.8h0M205.9 144.0h0M208.3 130.8h0M197.0 135.8h0M227.1 165.9h0M187.6 124.2h0M230.1 157.6h0M224.2 122.1h0" stroke="#f4a0a0" stroke-width="1.0" stroke-linecap="round" stroke-opacity="0.38" fill="none"/>
<text x="293.3" y="40.6" font-size="6.15" fill="#444" text-anchor="middle" font-weight="normal" font-style="normal"  stroke="#444" stroke-width="0.14">Primary Sensitive</text>
<path d="M293.5,70.2 L293.50,44.10 A26.1,26.1 0 1 1 287.81,95.67 Z" fill="#ef6b6b" stroke="#3a2a2a" stroke-width="0.7"/>
<path d="M293.5,70.2 L287.81,95.67 A26.1,26.1 0 0 1 267.40,70.20 Z" fill="#b3b11c" stroke="#3a2a2a" stroke-width="0.7"/>
<path d="M293.5,70.2 L267.40,70.20 A26.1,26.1 0 0 1 275.37,51.43 Z" fill="#26a460" stroke="#3a2a2a" stroke-width="0.7"/>
<path d="M293.5,70.2 L275.37,51.43 A26.1,26.1 0 0 1 293.50,44.10 Z" fill="#3aa0de" stroke="#3a2a2a" stroke-width="0.7"/>
<text x="293.7" y="108.1" font-size="6.15" fill="#444" text-anchor="middle" font-weight="normal" font-style="normal"  stroke="#444" stroke-width="0.14">Primary Non-Responder</text>
<path d="M293.5,137.9 L293.50,111.80 A26.1,26.1 0 0 1 297.85,163.63 Z" fill="#ef6b6b" stroke="#3a2a2a" stroke-width="0.7"/>
<path d="M293.5,137.9 L297.85,163.63 A26.1,26.1 0 0 1 268.41,130.71 Z" fill="#b3b11c" stroke="#3a2a2a" stroke-width="0.7"/>
<path d="M293.5,137.9 L268.41,130.71 A26.1,26.1 0 0 1 278.72,116.39 Z" fill="#26a460" stroke="#3a2a2a" stroke-width="0.7"/>
<path d="M293.5,137.9 L278.72,116.39 A26.1,26.1 0 0 1 291.91,111.85 Z" fill="#3aa0de" stroke="#3a2a2a" stroke-width="0.7"/>
<path d="M293.5,137.9 L291.91,111.85 A26.1,26.1 0 0 1 293.50,111.80 Z" fill="#c373c0" stroke="#3a2a2a" stroke-width="0.7"/>
<circle cx="256.9" cy="173.8" r="2.9" fill="#ef6a6e" stroke="#a84848" stroke-width="0.6"/>
<text x="262.2" y="176.2" font-size="6.5" fill="#555" text-anchor="start" font-weight="normal" font-style="normal"  stroke="#555" stroke-width="0.14">1</text>
<circle cx="273.4" cy="173.8" r="2.9" fill="#b4b61c" stroke="#707010" stroke-width="0.6"/>
<text x="278.7" y="176.2" font-size="6.5" fill="#555" text-anchor="start" font-weight="normal" font-style="normal"  stroke="#555" stroke-width="0.14">2</text>
<circle cx="289.4" cy="173.8" r="2.9" fill="#27a15e" stroke="#1a6a40" stroke-width="0.6"/>
<text x="294.7" y="176.2" font-size="6.5" fill="#555" text-anchor="start" font-weight="normal" font-style="normal"  stroke="#555" stroke-width="0.14">3</text>
<circle cx="306.2" cy="173.8" r="2.9" fill="#3ba1de" stroke="#2a6a98" stroke-width="0.6"/>
<text x="311.5" y="176.2" font-size="6.5" fill="#555" text-anchor="start" font-weight="normal" font-style="normal"  stroke="#555" stroke-width="0.14">4</text>
<circle cx="322.7" cy="173.8" r="2.9" fill="#c373c0" stroke="#884a88" stroke-width="0.6"/>
<text x="328.0" y="176.2" font-size="6.5" fill="#555" text-anchor="start" font-weight="normal" font-style="normal"  stroke="#555" stroke-width="0.14">5</text>
<rect x="349.00" y="43.60" width="21.32" height="8.26" fill="#c5dcee"/>
<rect x="370.32" y="43.60" width="21.32" height="8.26" fill="#eaf4fb"/>
<rect x="391.64" y="43.60" width="21.32" height="8.26" fill="#f0f0e4"/>
<rect x="412.96" y="43.60" width="21.32" height="8.26" fill="#f9c07a"/>
<rect x="434.28" y="43.60" width="21.32" height="8.26" fill="#2a2a8a"/>
<text x="458.7" y="50.13" font-size="6.8" fill="#333" text-anchor="start" font-weight="normal" font-style="normal"  stroke="#333" stroke-width="0.14">MALAT1</text>
<rect x="349.00" y="51.86" width="21.32" height="8.26" fill="#f2efdc"/>
<rect x="370.32" y="51.86" width="21.32" height="8.26" fill="#eeeee2"/>
<rect x="391.64" y="51.86" width="21.32" height="8.26" fill="#f3ecd0"/>
<rect x="412.96" y="51.86" width="21.32" height="8.26" fill="#f2efd9"/>
<rect x="434.28" y="51.86" width="21.32" height="8.26" fill="#f4934a"/>
<text x="458.7" y="58.39" font-size="6.8" fill="#333" text-anchor="start" font-weight="normal" font-style="normal"  stroke="#333" stroke-width="0.14">RPS4Y2</text>
<rect x="349.00" y="60.12" width="21.32" height="8.26" fill="#fde39a"/>
<rect x="370.32" y="60.12" width="21.32" height="8.26" fill="#f8e6b0"/>
<rect x="391.64" y="60.12" width="21.32" height="8.26" fill="#eeeee8"/>
<rect x="412.96" y="60.12" width="21.32" height="8.26" fill="#fbe2a0"/>
<rect x="434.28" y="60.12" width="21.32" height="8.26" fill="#e84a2e"/>
<text x="458.7" y="66.65" font-size="6.8" fill="#333" text-anchor="start" font-weight="normal" font-style="normal"  stroke="#333" stroke-width="0.14">MPO</text>
<rect x="349.00" y="68.38" width="21.32" height="8.26" fill="#f0efe2"/>
<rect x="370.32" y="68.38" width="21.32" height="8.26" fill="#f8e4a8"/>
<rect x="391.64" y="68.38" width="21.32" height="8.26" fill="#eeeee4"/>
<rect x="412.96" y="68.38" width="21.32" height="8.26" fill="#fbe0a0"/>
<rect x="434.28" y="68.38" width="21.32" height="8.26" fill="#ec5a30"/>
<text x="458.7" y="74.91" font-size="6.8" fill="#333" text-anchor="start" font-weight="normal" font-style="normal"  stroke="#333" stroke-width="0.14">DUSP6</text>
<rect x="349.00" y="76.64" width="21.32" height="8.26" fill="#e6f2f8"/>
<rect x="370.32" y="76.64" width="21.32" height="8.26" fill="#eaf2f6"/>
<rect x="391.64" y="76.64" width="21.32" height="8.26" fill="#eeeee8"/>
<rect x="412.96" y="76.64" width="21.32" height="8.26" fill="#fbd48a"/>
<rect x="434.28" y="76.64" width="21.32" height="8.26" fill="#f7a35a"/>
<text x="458.7" y="83.17" font-size="6.8" fill="#333" text-anchor="start" font-weight="normal" font-style="normal"  stroke="#333" stroke-width="0.14">NFKBIZ</text>
<rect x="349.00" y="84.90" width="21.32" height="8.26" fill="#e6f2f8"/>
<rect x="370.32" y="84.90" width="21.32" height="8.26" fill="#eaf2f6"/>
<rect x="391.64" y="84.90" width="21.32" height="8.26" fill="#efeee6"/>
<rect x="412.96" y="84.90" width="21.32" height="8.26" fill="#fbd48a"/>
<rect x="434.28" y="84.90" width="21.32" height="8.26" fill="#f7a860"/>
<text x="458.7" y="91.43" font-size="6.8" fill="#333" text-anchor="start" font-weight="normal" font-style="normal"  stroke="#333" stroke-width="0.14">ANKRD28</text>
<rect x="349.00" y="93.16" width="21.32" height="8.26" fill="#e8f2f6"/>
<rect x="370.32" y="93.16" width="21.32" height="8.26" fill="#f3ecd2"/>
<rect x="391.64" y="93.16" width="21.32" height="8.26" fill="#eeeee8"/>
<rect x="412.96" y="93.16" width="21.32" height="8.26" fill="#fbd58c"/>
<rect x="434.28" y="93.16" width="21.32" height="8.26" fill="#f7a05a"/>
<text x="458.7" y="99.69" font-size="6.8" fill="#333" text-anchor="start" font-weight="normal" font-style="normal"  stroke="#333" stroke-width="0.14">FOSB</text>
<rect x="349.00" y="101.42" width="21.32" height="8.26" fill="#e4f0f8"/>
<rect x="370.32" y="101.42" width="21.32" height="8.26" fill="#f2ecd4"/>
<rect x="391.64" y="101.42" width="21.32" height="8.26" fill="#eeeee8"/>
<rect x="412.96" y="101.42" width="21.32" height="8.26" fill="#fbd08a"/>
<rect x="434.28" y="101.42" width="21.32" height="8.26" fill="#f7a35e"/>
<text x="458.7" y="107.95" font-size="6.8" fill="#333" text-anchor="start" font-weight="normal" font-style="normal"  stroke="#333" stroke-width="0.14">TNFAIP3</text>
<rect x="349.00" y="109.68" width="21.32" height="8.26" fill="#e4f0f8"/>
<rect x="370.32" y="109.68" width="21.32" height="8.26" fill="#f3ecd0"/>
<rect x="391.64" y="109.68" width="21.32" height="8.26" fill="#efeee8"/>
<rect x="412.96" y="109.68" width="21.32" height="8.26" fill="#fbd08a"/>
<rect x="434.28" y="109.68" width="21.32" height="8.26" fill="#f69a52"/>
<text x="458.7" y="116.21000000000001" font-size="6.8" fill="#333" text-anchor="start" font-weight="normal" font-style="normal"  stroke="#333" stroke-width="0.14">SERPINE1</text>
<rect x="349.00" y="117.94" width="21.32" height="8.26" fill="#eaf2f6"/>
<rect x="370.32" y="117.94" width="21.32" height="8.26" fill="#f1eedc"/>
<rect x="391.64" y="117.94" width="21.32" height="8.26" fill="#efefe6"/>
<rect x="412.96" y="117.94" width="21.32" height="8.26" fill="#fbd080"/>
<rect x="434.28" y="117.94" width="21.32" height="8.26" fill="#f8a050"/>
<text x="458.7" y="124.47" font-size="6.8" fill="#333" text-anchor="start" font-weight="normal" font-style="normal"  stroke="#333" stroke-width="0.14">FBXW7</text>
<rect x="349.00" y="126.20" width="21.32" height="8.26" fill="#cfe4f2"/>
<rect x="370.32" y="126.20" width="21.32" height="8.26" fill="#e8f2f8"/>
<rect x="391.64" y="126.20" width="21.32" height="8.26" fill="#f1efe2"/>
<rect x="412.96" y="126.20" width="21.32" height="8.26" fill="#fbc878"/>
<rect x="434.28" y="126.20" width="21.32" height="8.26" fill="#f7a055"/>
<text x="458.7" y="132.73" font-size="6.8" fill="#333" text-anchor="start" font-weight="normal" font-style="normal"  stroke="#333" stroke-width="0.14">KLF6</text>
<rect x="349.00" y="134.46" width="21.32" height="8.26" fill="#cfe4f2"/>
<rect x="370.32" y="134.46" width="21.32" height="8.26" fill="#f0f2ee"/>
<rect x="391.64" y="134.46" width="21.32" height="8.26" fill="#f0efe6"/>
<rect x="412.96" y="134.46" width="21.32" height="8.26" fill="#fbc070"/>
<rect x="434.28" y="134.46" width="21.32" height="8.26" fill="#f6984e"/>
<text x="458.7" y="140.99" font-size="6.8" fill="#333" text-anchor="start" font-weight="normal" font-style="normal"  stroke="#333" stroke-width="0.14">JUN</text>
<rect x="349.00" y="142.72" width="21.32" height="8.26" fill="#d8eaf4"/>
<rect x="370.32" y="142.72" width="21.32" height="8.26" fill="#eef2f0"/>
<rect x="391.64" y="142.72" width="21.32" height="8.26" fill="#eff0e8"/>
<rect x="412.96" y="142.72" width="21.32" height="8.26" fill="#fbbd6c"/>
<rect x="434.28" y="142.72" width="21.32" height="8.26" fill="#f7a65c"/>
<text x="458.7" y="149.25" font-size="6.8" fill="#333" text-anchor="start" font-weight="normal" font-style="normal"  stroke="#333" stroke-width="0.14">TLE4</text>
<rect x="349.00" y="150.98" width="21.32" height="8.26" fill="#f3eccb"/>
<rect x="370.32" y="150.98" width="21.32" height="8.26" fill="#fde08e"/>
<rect x="391.64" y="150.98" width="21.32" height="8.26" fill="#dcecf5"/>
<rect x="412.96" y="150.98" width="21.32" height="8.26" fill="#fbc272"/>
<rect x="434.28" y="150.98" width="21.32" height="8.26" fill="#fbd890"/>
<text x="458.7" y="157.51" font-size="6.8" fill="#333" text-anchor="start" font-weight="normal" font-style="normal"  stroke="#333" stroke-width="0.14">FUS</text>
<rect x="349.00" y="159.24" width="21.32" height="8.26" fill="#d4e8f2"/>
<rect x="370.32" y="159.24" width="21.32" height="8.26" fill="#dfeef6"/>
<rect x="391.64" y="159.24" width="21.32" height="8.26" fill="#eef2f2"/>
<rect x="412.96" y="159.24" width="21.32" height="8.26" fill="#f8b060"/>
<rect x="434.28" y="159.24" width="21.32" height="8.26" fill="#fbe0a0"/>
<text x="458.7" y="165.77" font-size="6.8" fill="#333" text-anchor="start" font-weight="normal" font-style="normal"  stroke="#333" stroke-width="0.14">JMJD1C</text>
<rect x="349.00" y="167.50" width="21.32" height="8.26" fill="#d8eaf4"/>
<rect x="370.32" y="167.50" width="21.32" height="8.26" fill="#e0eef6"/>
<rect x="391.64" y="167.50" width="21.32" height="8.26" fill="#eeeee6"/>
<rect x="412.96" y="167.50" width="21.32" height="8.26" fill="#f9b868"/>
<rect x="434.28" y="167.50" width="21.32" height="8.26" fill="#fbe2a4"/>
<text x="458.7" y="174.03" font-size="6.8" fill="#333" text-anchor="start" font-weight="normal" font-style="normal"  stroke="#333" stroke-width="0.14">NR3C1</text>
<rect x="349.00" y="175.76" width="21.32" height="8.26" fill="#dbecf4"/>
<rect x="370.32" y="175.76" width="21.32" height="8.26" fill="#e0eef6"/>
<rect x="391.64" y="175.76" width="21.32" height="8.26" fill="#efefe6"/>
<rect x="412.96" y="175.76" width="21.32" height="8.26" fill="#fbbd6c"/>
<rect x="434.28" y="175.76" width="21.32" height="8.26" fill="#f6eed0"/>
<text x="458.7" y="182.29" font-size="6.8" fill="#333" text-anchor="start" font-weight="normal" font-style="normal"  stroke="#333" stroke-width="0.14">MIR181A1HG</text>
<rect x="349.00" y="184.02" width="21.32" height="8.26" fill="#d8eaf4"/>
<rect x="370.32" y="184.02" width="21.32" height="8.26" fill="#e0eef6"/>
<rect x="391.64" y="184.02" width="21.32" height="8.26" fill="#efefe6"/>
<rect x="412.96" y="184.02" width="21.32" height="8.26" fill="#f9b566"/>
<rect x="434.28" y="184.02" width="21.32" height="8.26" fill="#f3eed6"/>
<text x="458.7" y="190.54999999999998" font-size="6.8" fill="#333" text-anchor="start" font-weight="normal" font-style="normal"  stroke="#333" stroke-width="0.14">CCNL1</text>
<rect x="349.00" y="192.28" width="21.32" height="8.26" fill="#d4e8f2"/>
<rect x="370.32" y="192.28" width="21.32" height="8.26" fill="#dfeef6"/>
<rect x="391.64" y="192.28" width="21.32" height="8.26" fill="#eef0ea"/>
<rect x="412.96" y="192.28" width="21.32" height="8.26" fill="#f9b062"/>
<rect x="434.28" y="192.28" width="21.32" height="8.26" fill="#f2efdc"/>
<text x="458.7" y="198.81" font-size="6.8" fill="#333" text-anchor="start" font-weight="normal" font-style="normal"  stroke="#333" stroke-width="0.14">NEAT1</text>
<rect x="349.00" y="200.54" width="21.32" height="8.26" fill="#cde3f1"/>
<rect x="370.32" y="200.54" width="21.32" height="8.26" fill="#e2eff6"/>
<rect x="391.64" y="200.54" width="21.32" height="8.26" fill="#eeefe8"/>
<rect x="412.96" y="200.54" width="21.32" height="8.26" fill="#f8a95d"/>
<rect x="434.28" y="200.54" width="21.32" height="8.26" fill="#f3edd4"/>
<text x="458.7" y="207.07" font-size="6.8" fill="#333" text-anchor="start" font-weight="normal" font-style="normal"  stroke="#333" stroke-width="0.14">RBM39</text>
<rect x="349.00" y="208.80" width="21.32" height="8.26" fill="#f3eccb"/>
<rect x="370.32" y="208.80" width="21.32" height="8.26" fill="#c41e28"/>
<rect x="391.64" y="208.80" width="21.32" height="8.26" fill="#e2eff6"/>
<rect x="412.96" y="208.80" width="21.32" height="8.26" fill="#e6f1f7"/>
<rect x="434.28" y="208.80" width="21.32" height="8.26" fill="#f3ecd0"/>
<text x="458.7" y="215.32999999999998" font-size="6.8" fill="#333" text-anchor="start" font-weight="normal" font-style="normal"  stroke="#333" stroke-width="0.14">HIST1H4C</text>
<rect x="349.00" y="217.06" width="21.32" height="8.26" fill="#f3edd0"/>
<rect x="370.32" y="217.06" width="21.32" height="8.26" fill="#c01c28"/>
<rect x="391.64" y="217.06" width="21.32" height="8.26" fill="#e0eef6"/>
<rect x="412.96" y="217.06" width="21.32" height="8.26" fill="#e4f0f7"/>
<rect x="434.28" y="217.06" width="21.32" height="8.26" fill="#efefe2"/>
<text x="458.7" y="223.59" font-size="6.8" fill="#333" text-anchor="start" font-weight="normal" font-style="normal"  stroke="#333" stroke-width="0.14">MKI67</text>
<rect x="349.00" y="225.32" width="21.32" height="8.26" fill="#f3edd0"/>
<rect x="370.32" y="225.32" width="21.32" height="8.26" fill="#c21e28"/>
<rect x="391.64" y="225.32" width="21.32" height="8.26" fill="#e4f0f7"/>
<rect x="412.96" y="225.32" width="21.32" height="8.26" fill="#e6f1f7"/>
<rect x="434.28" y="225.32" width="21.32" height="8.26" fill="#eef0ea"/>
<text x="458.7" y="231.85" font-size="6.8" fill="#333" text-anchor="start" font-weight="normal" font-style="normal"  stroke="#333" stroke-width="0.14">UBE2C</text>
<rect x="349.00" y="233.58" width="21.32" height="8.26" fill="#e84a2e"/>
<rect x="370.32" y="233.58" width="21.32" height="8.26" fill="#cc2a28"/>
<rect x="391.64" y="233.58" width="21.32" height="8.26" fill="#dcecf5"/>
<rect x="412.96" y="233.58" width="21.32" height="8.26" fill="#e0eef6"/>
<rect x="434.28" y="233.58" width="21.32" height="8.26" fill="#e8f1f6"/>
<text x="458.7" y="240.10999999999999" font-size="6.8" fill="#333" text-anchor="start" font-weight="normal" font-style="normal"  stroke="#333" stroke-width="0.14">TYMS</text>
<rect x="349.00" y="241.84" width="21.32" height="8.26" fill="#ec5a32"/>
<rect x="370.32" y="241.84" width="21.32" height="8.26" fill="#e85030"/>
<rect x="391.64" y="241.84" width="21.32" height="8.26" fill="#dcecf5"/>
<rect x="412.96" y="241.84" width="21.32" height="8.26" fill="#dcecf5"/>
<rect x="434.28" y="241.84" width="21.32" height="8.26" fill="#dceaf4"/>
<text x="458.7" y="248.37" font-size="6.8" fill="#333" text-anchor="start" font-weight="normal" font-style="normal"  stroke="#333" stroke-width="0.14">MCM7</text>
<rect x="349.00" y="250.10" width="21.32" height="8.26" fill="#f79a55"/>
<rect x="370.32" y="250.10" width="21.32" height="8.26" fill="#d0282a"/>
<rect x="391.64" y="250.10" width="21.32" height="8.26" fill="#dcecf5"/>
<rect x="412.96" y="250.10" width="21.32" height="8.26" fill="#e2eff6"/>
<rect x="434.28" y="250.10" width="21.32" height="8.26" fill="#f4ead0"/>
<text x="458.7" y="256.63" font-size="6.8" fill="#333" text-anchor="start" font-weight="normal" font-style="normal"  stroke="#333" stroke-width="0.14">H2AFZ</text>
<rect x="349.00" y="258.36" width="21.32" height="8.26" fill="#f8a55c"/>
<rect x="370.32" y="258.36" width="21.32" height="8.26" fill="#cc2428"/>
<rect x="391.64" y="258.36" width="21.32" height="8.26" fill="#e0eef6"/>
<rect x="412.96" y="258.36" width="21.32" height="8.26" fill="#dcecf5"/>
<rect x="434.28" y="258.36" width="21.32" height="8.26" fill="#f3edd4"/>
<text x="458.7" y="264.89" font-size="6.8" fill="#333" text-anchor="start" font-weight="normal" font-style="normal"  stroke="#333" stroke-width="0.14">HMGN2</text>
<rect x="349.00" y="266.62" width="21.32" height="8.26" fill="#f8a75e"/>
<rect x="370.32" y="266.62" width="21.32" height="8.26" fill="#c8222a"/>
<rect x="391.64" y="266.62" width="21.32" height="8.26" fill="#e0eef6"/>
<rect x="412.96" y="266.62" width="21.32" height="8.26" fill="#dcecf5"/>
<rect x="434.28" y="266.62" width="21.32" height="8.26" fill="#f3ead0"/>
<text x="458.7" y="273.15" font-size="6.8" fill="#333" text-anchor="start" font-weight="normal" font-style="normal"  stroke="#333" stroke-width="0.14">TUBA1B</text>
<rect x="349.00" y="274.88" width="21.32" height="8.26" fill="#f9b566"/>
<rect x="370.32" y="274.88" width="21.32" height="8.26" fill="#c41c28"/>
<rect x="391.64" y="274.88" width="21.32" height="8.26" fill="#e0eef6"/>
<rect x="412.96" y="274.88" width="21.32" height="8.26" fill="#dcecf5"/>
<rect x="434.28" y="274.88" width="21.32" height="8.26" fill="#eeefe4"/>
<text x="458.7" y="281.40999999999997" font-size="6.8" fill="#333" text-anchor="start" font-weight="normal" font-style="normal"  stroke="#333" stroke-width="0.14">TUBB</text>
<rect x="349.00" y="283.14" width="21.32" height="8.26" fill="#f07840"/>
<rect x="370.32" y="283.14" width="21.32" height="8.26" fill="#d83828"/>
<rect x="391.64" y="283.14" width="21.32" height="8.26" fill="#e2eff6"/>
<rect x="412.96" y="283.14" width="21.32" height="8.26" fill="#e4f0f7"/>
<rect x="434.28" y="283.14" width="21.32" height="8.26" fill="#fbc272"/>
<text x="458.7" y="289.66999999999996" font-size="6.8" fill="#333" text-anchor="start" font-weight="normal" font-style="normal"  stroke="#333" stroke-width="0.14">STMN1</text>
<rect x="349.00" y="291.40" width="21.32" height="8.26" fill="#f9b060"/>
<rect x="370.32" y="291.40" width="21.32" height="8.26" fill="#c41c28"/>
<rect x="391.64" y="291.40" width="21.32" height="8.26" fill="#dcecf5"/>
<rect x="412.96" y="291.40" width="21.32" height="8.26" fill="#e4f0f7"/>
<rect x="434.28" y="291.40" width="21.32" height="8.26" fill="#fbc878"/>
<text x="458.7" y="297.92999999999995" font-size="6.8" fill="#333" text-anchor="start" font-weight="normal" font-style="normal"  stroke="#333" stroke-width="0.14">HMGB2</text>
<rect x="349.00" y="299.66" width="21.32" height="8.26" fill="#fbc474"/>
<rect x="370.32" y="299.66" width="21.32" height="8.26" fill="#f2ecd4"/>
<rect x="391.64" y="299.66" width="21.32" height="8.26" fill="#fbd080"/>
<rect x="412.96" y="299.66" width="21.32" height="8.26" fill="#c4dcee"/>
<rect x="434.28" y="299.66" width="21.32" height="8.26" fill="#d8eaf4"/>
<text x="458.7" y="306.19" font-size="6.8" fill="#333" text-anchor="start" font-weight="normal" font-style="normal"  stroke="#333" stroke-width="0.14">RPL12</text>
<rect x="349.00" y="307.92" width="21.32" height="8.26" fill="#fbd088"/>
<rect x="370.32" y="307.92" width="21.32" height="8.26" fill="#f1eddc"/>
<rect x="391.64" y="307.92" width="21.32" height="8.26" fill="#fbcc80"/>
<rect x="412.96" y="307.92" width="21.32" height="8.26" fill="#c4dcee"/>
<rect x="434.28" y="307.92" width="21.32" height="8.26" fill="#d4e8f2"/>
<text x="458.7" y="314.45" font-size="6.8" fill="#333" text-anchor="start" font-weight="normal" font-style="normal"  stroke="#333" stroke-width="0.14">RPL5</text>
<rect x="349.00" y="316.18" width="21.32" height="8.26" fill="#fbd080"/>
<rect x="370.32" y="316.18" width="21.32" height="8.26" fill="#f2ecd4"/>
<rect x="391.64" y="316.18" width="21.32" height="8.26" fill="#fbcc80"/>
<rect x="412.96" y="316.18" width="21.32" height="8.26" fill="#c4dcee"/>
<rect x="434.28" y="316.18" width="21.32" height="8.26" fill="#d0e6f2"/>
<text x="458.7" y="322.71" font-size="6.8" fill="#333" text-anchor="start" font-weight="normal" font-style="normal"  stroke="#333" stroke-width="0.14">RPL10</text>
<rect x="349.00" y="324.44" width="21.32" height="8.26" fill="#fbc070"/>
<rect x="370.32" y="324.44" width="21.32" height="8.26" fill="#f4e8c4"/>
<rect x="391.64" y="324.44" width="21.32" height="8.26" fill="#fbcc80"/>
<rect x="412.96" y="324.44" width="21.32" height="8.26" fill="#bcd8ec"/>
<rect x="434.28" y="324.44" width="21.32" height="8.26" fill="#cfe4f2"/>
<text x="458.7" y="330.96999999999997" font-size="6.8" fill="#333" text-anchor="start" font-weight="normal" font-style="normal"  stroke="#333" stroke-width="0.14">EEF1A1</text>
<rect x="349.00" y="332.70" width="21.32" height="8.26" fill="#f0efe2"/>
<rect x="370.32" y="332.70" width="21.32" height="8.26" fill="#f1eedc"/>
<rect x="391.64" y="332.70" width="21.32" height="8.26" fill="#fbd890"/>
<rect x="412.96" y="332.70" width="21.32" height="8.26" fill="#e6f1f7"/>
<rect x="434.28" y="332.70" width="21.32" height="8.26" fill="#d4e8f2"/>
<text x="458.7" y="339.22999999999996" font-size="6.8" fill="#333" text-anchor="start" font-weight="normal" font-style="normal"  stroke="#333" stroke-width="0.14">FTH1</text>
<rect x="349.00" y="340.96" width="21.32" height="8.26" fill="#fbd890"/>
<rect x="370.32" y="340.96" width="21.32" height="8.26" fill="#f2ecd4"/>
<rect x="391.64" y="340.96" width="21.32" height="8.26" fill="#fbcc80"/>
<rect x="412.96" y="340.96" width="21.32" height="8.26" fill="#c8e0f0"/>
<rect x="434.28" y="340.96" width="21.32" height="8.26" fill="#f1eede"/>
<text x="458.7" y="347.49" font-size="6.8" fill="#333" text-anchor="start" font-weight="normal" font-style="normal"  stroke="#333" stroke-width="0.14">RPL39</text>
<rect x="349.00" y="349.22" width="21.32" height="8.26" fill="#fbd890"/>
<rect x="370.32" y="349.22" width="21.32" height="8.26" fill="#f2ecd4"/>
<rect x="391.64" y="349.22" width="21.32" height="8.26" fill="#fbcc80"/>
<rect x="412.96" y="349.22" width="21.32" height="8.26" fill="#c8e0f0"/>
<rect x="434.28" y="349.22" width="21.32" height="8.26" fill="#eef0e8"/>
<text x="458.7" y="355.75" font-size="6.8" fill="#333" text-anchor="start" font-weight="normal" font-style="normal"  stroke="#333" stroke-width="0.14">TPT1</text>
<rect x="349.00" y="357.48" width="21.32" height="8.26" fill="#fbd890"/>
<rect x="370.32" y="357.48" width="21.32" height="8.26" fill="#f2edd8"/>
<rect x="391.64" y="357.48" width="21.32" height="8.26" fill="#fbc878"/>
<rect x="412.96" y="357.48" width="21.32" height="8.26" fill="#c4dcee"/>
<rect x="434.28" y="357.48" width="21.32" height="8.26" fill="#e4f0f7"/>
<text x="458.7" y="364.01" font-size="6.8" fill="#333" text-anchor="start" font-weight="normal" font-style="normal"  stroke="#333" stroke-width="0.14">NACA</text>
<rect x="349.00" y="365.74" width="21.32" height="8.26" fill="#fbd088"/>
<rect x="370.32" y="365.74" width="21.32" height="8.26" fill="#f2ecd4"/>
<rect x="391.64" y="365.74" width="21.32" height="8.26" fill="#fbc474"/>
<rect x="412.96" y="365.74" width="21.32" height="8.26" fill="#c4dcee"/>
<rect x="434.28" y="365.74" width="21.32" height="8.26" fill="#e4f0f7"/>
<text x="458.7" y="372.27" font-size="6.8" fill="#333" text-anchor="start" font-weight="normal" font-style="normal"  stroke="#333" stroke-width="0.14">RPL30</text>
<rect x="349.00" y="374.00" width="21.32" height="8.26" fill="#fbd48a"/>
<rect x="370.32" y="374.00" width="21.32" height="8.26" fill="#f2ecd4"/>
<rect x="391.64" y="374.00" width="21.32" height="8.26" fill="#fbcc7c"/>
<rect x="412.96" y="374.00" width="21.32" height="8.26" fill="#c8e0f0"/>
<rect x="434.28" y="374.00" width="21.32" height="8.26" fill="#e6f1f7"/>
<text x="458.7" y="380.53" font-size="6.8" fill="#333" text-anchor="start" font-weight="normal" font-style="normal"  stroke="#333" stroke-width="0.14">RPL34</text>
<rect x="349.00" y="382.26" width="21.32" height="8.26" fill="#e4442c"/>
<rect x="370.32" y="382.26" width="21.32" height="8.26" fill="#f07c42"/>
<rect x="391.64" y="382.26" width="21.32" height="8.26" fill="#e6f1f7"/>
<rect x="412.96" y="382.26" width="21.32" height="8.26" fill="#dcecf5"/>
<rect x="434.28" y="382.26" width="21.32" height="8.26" fill="#fbd88c"/>
<text x="458.7" y="388.78999999999996" font-size="6.8" fill="#333" text-anchor="start" font-weight="normal" font-style="normal"  stroke="#333" stroke-width="0.14">DUT</text>
<rect x="349.00" y="390.52" width="21.32" height="8.26" fill="#ee6a3a"/>
<rect x="370.32" y="390.52" width="21.32" height="8.26" fill="#f59a55"/>
<rect x="391.64" y="390.52" width="21.32" height="8.26" fill="#e6f1f7"/>
<rect x="412.96" y="390.52" width="21.32" height="8.26" fill="#dcecf5"/>
<rect x="434.28" y="390.52" width="21.32" height="8.26" fill="#f8e0a0"/>
<text x="458.7" y="397.05" font-size="6.8" fill="#333" text-anchor="start" font-weight="normal" font-style="normal"  stroke="#333" stroke-width="0.14">PKM</text>
<rect x="349.00" y="398.78" width="21.32" height="8.26" fill="#ee6c3c"/>
<rect x="370.32" y="398.78" width="21.32" height="8.26" fill="#fde08e"/>
<rect x="391.64" y="398.78" width="21.32" height="8.26" fill="#f2eed8"/>
<rect x="412.96" y="398.78" width="21.32" height="8.26" fill="#d4e8f2"/>
<rect x="434.28" y="398.78" width="21.32" height="8.26" fill="#eeefe6"/>
<text x="458.7" y="405.31" font-size="6.8" fill="#333" text-anchor="start" font-weight="normal" font-style="normal"  stroke="#333" stroke-width="0.14">MIF</text>
<rect x="349.00" y="407.04" width="21.32" height="8.26" fill="#ee6c3c"/>
<rect x="370.32" y="407.04" width="21.32" height="8.26" fill="#fbc070"/>
<rect x="391.64" y="407.04" width="21.32" height="8.26" fill="#eeeee4"/>
<rect x="412.96" y="407.04" width="21.32" height="8.26" fill="#d8eaf4"/>
<rect x="434.28" y="407.04" width="21.32" height="8.26" fill="#eef0ea"/>
<text x="458.7" y="413.57" font-size="6.8" fill="#333" text-anchor="start" font-weight="normal" font-style="normal"  stroke="#333" stroke-width="0.14">ENO1</text>
<rect x="349.00" y="415.30" width="21.32" height="8.26" fill="#e23e2a"/>
<rect x="370.32" y="415.30" width="21.32" height="8.26" fill="#f8a95c"/>
<rect x="391.64" y="415.30" width="21.32" height="8.26" fill="#e6f1f7"/>
<rect x="412.96" y="415.30" width="21.32" height="8.26" fill="#dcecf5"/>
<rect x="434.28" y="415.30" width="21.32" height="8.26" fill="#e6f1f7"/>
<text x="458.7" y="421.83" font-size="6.8" fill="#333" text-anchor="start" font-weight="normal" font-style="normal"  stroke="#333" stroke-width="0.14">MCM5</text>
<rect x="349.00" y="423.56" width="21.32" height="8.26" fill="#ee6a3a"/>
<rect x="370.32" y="423.56" width="21.32" height="8.26" fill="#f8a55c"/>
<rect x="391.64" y="423.56" width="21.32" height="8.26" fill="#eeefe6"/>
<rect x="412.96" y="423.56" width="21.32" height="8.26" fill="#dcecf5"/>
<rect x="434.28" y="423.56" width="21.32" height="8.26" fill="#e4f0f7"/>
<text x="458.7" y="430.09" font-size="6.8" fill="#333" text-anchor="start" font-weight="normal" font-style="normal"  stroke="#333" stroke-width="0.14">RANBP1</text>
<path d="M349.0,51.86 H455.60 M349.0,60.12 H455.60 M349.0,68.38 H455.60 M349.0,76.64 H455.60 M349.0,84.90 H455.60 M349.0,93.16 H455.60 M349.0,101.42 H455.60 M349.0,109.68 H455.60 M349.0,117.94 H455.60 M349.0,126.20 H455.60 M349.0,134.46 H455.60 M349.0,142.72 H455.60 M349.0,150.98 H455.60 M349.0,159.24 H455.60 M349.0,167.50 H455.60 M349.0,175.76 H455.60 M349.0,184.02 H455.60 M349.0,192.28 H455.60 M349.0,200.54 H455.60 M349.0,208.80 H455.60 M349.0,217.06 H455.60 M349.0,225.32 H455.60 M349.0,233.58 H455.60 M349.0,241.84 H455.60 M349.0,250.10 H455.60 M349.0,258.36 H455.60 M349.0,266.62 H455.60 M349.0,274.88 H455.60 M349.0,283.14 H455.60 M349.0,291.40 H455.60 M349.0,299.66 H455.60 M349.0,307.92 H455.60 M349.0,316.18 H455.60 M349.0,324.44 H455.60 M349.0,332.70 H455.60 M349.0,340.96 H455.60 M349.0,349.22 H455.60 M349.0,357.48 H455.60 M349.0,365.74 H455.60 M349.0,374.00 H455.60 M349.0,382.26 H455.60 M349.0,390.52 H455.60 M349.0,398.78 H455.60 M349.0,407.04 H455.60 M349.0,415.30 H455.60 M349.0,423.56 H455.60 M370.32,43.6 V431.82 M391.64,43.6 V431.82 M412.96,43.6 V431.82 M434.28,43.6 V431.82" stroke="#a8a8a8" stroke-width="0.45" stroke-opacity="0.8" fill="none"/>
<rect x="349.00" y="35.9" width="21.32" height="7.7" fill="#23a35a"/>
<rect x="370.32" y="35.9" width="21.32" height="7.7" fill="#3aa0e0"/>
<rect x="391.64" y="35.9" width="21.32" height="7.7" fill="#ee6b6b"/>
<rect x="412.96" y="35.9" width="21.32" height="7.7" fill="#b0ae1e"/>
<rect x="434.28" y="35.9" width="21.32" height="7.7" fill="#c47ac6"/>
<path d="M359.7,35.9 V29.5 H381.0 V35.9 M423.6,35.9 V31.2 H444.9 V35.9 M402.3,35.9 V29.2 H434.3 V31.2 M370.3,29.5 V18 H418.3 V29.2" stroke="#555" stroke-width="0.9" fill="none"/>
<path d="M349.0,49.0 H341.5 V295.5 M341.5,122.1 H346  M346,64.2 V204.7 M346,64.2 H349.0 M347.5,80.8 V204.7 M341.5,295.5 H343.5 V427.7 M343.5,212.9 V295.5 M343.5,212.9 H346 V295.5 M345,303.8 V386.4 M346.5,386.4 V427.7" stroke="#555" stroke-width="0.7" fill="none"/>
<text x="359.66" y="440.2" font-size="6.8" fill="#444" text-anchor="middle" font-weight="normal" font-style="normal"  stroke="#444" stroke-width="0.14">3</text>
<text x="380.98" y="440.2" font-size="6.8" fill="#444" text-anchor="middle" font-weight="normal" font-style="normal"  stroke="#444" stroke-width="0.14">4</text>
<text x="402.3" y="440.2" font-size="6.8" fill="#444" text-anchor="middle" font-weight="normal" font-style="normal"  stroke="#444" stroke-width="0.14">1</text>
<text x="423.62" y="440.2" font-size="6.8" fill="#444" text-anchor="middle" font-weight="normal" font-style="normal"  stroke="#444" stroke-width="0.14">2</text>
<text x="444.94" y="440.2" font-size="6.8" fill="#444" text-anchor="middle" font-weight="normal" font-style="normal"  stroke="#444" stroke-width="0.14">5</text>
<text x="402" y="452.8" font-size="8.5" fill="#333" text-anchor="middle" font-weight="normal" font-style="normal" transform="translate(402,0) scale(0.66,1) translate(-402,0)" stroke="#333" stroke-width="0.2">Cluster</text>
<defs><linearGradient id="rdylbu" x1="0" y1="0" x2="0" y2="1"><stop offset="0" stop-color="#a50026"/><stop offset="0.12" stop-color="#d73027"/><stop offset="0.25" stop-color="#f46d43"/><stop offset="0.36" stop-color="#fdae61"/><stop offset="0.44" stop-color="#fee090"/><stop offset="0.52" stop-color="#f4f1e4"/><stop offset="0.62" stop-color="#e0f3f8"/><stop offset="0.72" stop-color="#abd9e9"/><stop offset="0.82" stop-color="#74add1"/><stop offset="0.9" stop-color="#4575b4"/><stop offset="1" stop-color="#313695"/></linearGradient></defs>
<rect x="495.8" y="35.4" width="9.1" height="79" fill="url(#rdylbu)"/>
<text x="508" y="44.7" font-size="6.2" fill="#444" text-anchor="start" font-weight="normal" font-style="normal"  stroke="#444" stroke-width="0.14">1.5</text>
<text x="508" y="54.800000000000004" font-size="6.2" fill="#444" text-anchor="start" font-weight="normal" font-style="normal"  stroke="#444" stroke-width="0.14">1</text>
<text x="508" y="64.8" font-size="6.2" fill="#444" text-anchor="start" font-weight="normal" font-style="normal"  stroke="#444" stroke-width="0.14">0.5</text>
<text x="508" y="75.4" font-size="6.2" fill="#444" text-anchor="start" font-weight="normal" font-style="normal"  stroke="#444" stroke-width="0.14">0</text>
<text x="508" y="85.9" font-size="6.2" fill="#444" text-anchor="start" font-weight="normal" font-style="normal"  stroke="#444" stroke-width="0.14">−0.5</text>
<text x="508" y="96.4" font-size="6.2" fill="#444" text-anchor="start" font-weight="normal" font-style="normal"  stroke="#444" stroke-width="0.14">−1</text>
<text x="508" y="106.9" font-size="6.2" fill="#444" text-anchor="start" font-weight="normal" font-style="normal"  stroke="#444" stroke-width="0.14">−1.5</text>
<text x="500" y="22.3" font-size="6.5" fill="#555" text-anchor="middle" font-weight="normal" font-style="normal"  stroke="#555" stroke-width="0.14">Cluster</text>
<text x="500" y="30.3" font-size="6.5" fill="#555" text-anchor="middle" font-weight="normal" font-style="normal"  stroke="#555" stroke-width="0.14">Expression</text>
<text x="57.9" y="211.8" font-size="8.3" fill="#333" text-anchor="middle" font-weight="normal" font-style="normal"  stroke="#333" stroke-width="0.14">Velocity Analysis</text>
<g filter="url(#bl1)">
<path d="M55.7 247.3h0M60.9 266.3h0M105.5 236.3h0M97.1 235.6h0M76.1 229.4h0M76.2 221.8h0M66.1 226.8h0M100.1 238.1h0M65.8 265.6h0M56.7 247.8h0M101.6 243.6h0M76.3 233.2h0M61.7 241.8h0M90.3 223.9h0M85.0 263.5h0M81.2 227.8h0M97.9 239.5h0M66.9 223.3h0M71.1 256.0h0M82.1 256.3h0M91.4 233.8h0M70.9 224.9h0M71.2 227.0h0M61.1 264.9h0M66.1 225.0h0M66.7 259.1h0M81.2 248.6h0M58.2 245.6h0M98.9 236.9h0M77.8 248.5h0M57.9 232.8h0M66.7 229.1h0M62.0 225.8h0M72.0 263.3h0M59.7 246.6h0M67.1 226.7h0M50.6 233.2h0M73.0 242.3h0M92.2 232.0h0M104.2 248.9h0M67.9 243.9h0M99.2 238.3h0M56.0 241.5h0M62.1 249.8h0M46.2 241.2h0M90.6 234.8h0M79.1 242.2h0M82.0 249.3h0M91.5 258.1h0M69.1 223.2h0M63.6 240.4h0M48.8 251.2h0M97.4 232.5h0M82.0 259.9h0M93.5 231.4h0M92.8 234.8h0M79.9 249.9h0M105.9 236.8h0M73.7 250.0h0M80.0 236.8h0M62.6 239.8h0M88.3 261.6h0M65.9 260.3h0M97.2 250.2h0M55.3 248.0h0M49.0 241.1h0M76.8 261.1h0M81.0 237.2h0M53.9 228.3h0M86.9 240.2h0M91.5 253.9h0M70.3 236.2h0M107.9 222.9h0M88.7 234.1h0M52.9 228.0h0M89.3 220.7h0M101.4 252.6h0M64.0 244.9h0M50.8 237.8h0M96.7 223.2h0M58.1 233.3h0M62.5 252.7h0M71.5 230.3h0M82.8 242.7h0M44.4 247.3h0M62.5 234.9h0M63.8 257.8h0M83.8 246.6h0M53.4 240.1h0M74.7 232.4h0M77.6 252.5h0M98.6 236.8h0M106.8 245.8h0M96.3 240.3h0M59.2 260.0h0M74.0 240.0h0M61.2 264.4h0M47.6 239.2h0M88.3 236.8h0M103.7 249.1h0M71.5 225.6h0M91.3 230.6h0M95.6 247.1h0M72.8 224.2h0M99.8 246.6h0M88.9 220.5h0M57.1 232.5h0M109.3 244.0h0M108.5 241.9h0M81.8 259.7h0M108.2 232.6h0M57.4 250.0h0M101.9 245.3h0M96.0 241.7h0M96.9 238.6h0M101.8 255.1h0M81.1 254.2h0M113.9 235.3h0M86.0 222.8h0M100.4 234.7h0M58.9 229.2h0M81.7 225.6h0M102.3 234.0h0M62.1 246.1h0M99.6 235.0h0M91.3 229.9h0M63.7 239.4h0M59.6 232.4h0M57.5 230.8h0M79.1 258.3h0M69.1 253.8h0M45.3 244.6h0M44.9 242.7h0M90.4 247.3h0M64.5 266.7h0M57.6 250.8h0M86.5 225.1h0M88.5 262.4h0M76.5 258.1h0M65.7 231.6h0M106.7 248.3h0M52.4 230.0h0M71.5 264.4h0M86.5 222.2h0M55.7 233.5h0M78.3 240.6h0M82.9 233.9h0M55.9 246.3h0M86.2 229.1h0M104.3 238.3h0M84.6 222.5h0M91.7 227.0h0M87.3 223.3h0M83.1 225.3h0M55.8 238.0h0M74.9 247.3h0M94.1 225.8h0M73.1 259.3h0M63.7 255.9h0M102.1 248.8h0M91.3 238.3h0M82.0 230.4h0M79.1 239.7h0M87.8 227.7h0M90.0 231.7h0M92.8 250.1h0M88.9 229.1h0M67.6 226.8h0M53.9 243.0h0M91.1 252.7h0M63.2 233.2h0M63.6 241.7h0M112.9 240.8h0M57.2 233.1h0M110.8 242.4h0M49.9 234.0h0M83.6 240.2h0M86.9 255.2h0M60.0 240.9h0M73.0 257.9h0M64.8 242.6h0M65.1 262.4h0M54.4 243.1h0M71.8 239.2h0M86.9 242.8h0M83.5 247.4h0M82.5 255.2h0M97.2 258.2h0M60.3 223.8h0M57.5 258.0h0M78.0 249.8h0M72.4 232.6h0M53.9 231.1h0M88.6 247.3h0M46.5 251.9h0M91.8 252.0h0M105.8 251.9h0M89.0 247.9h0M65.1 253.1h0M70.1 221.7h0M63.2 232.9h0M112.6 239.4h0M79.6 261.7h0M77.8 247.8h0M50.8 246.7h0M77.2 233.7h0M74.0 253.0h0M66.2 247.9h0M56.6 239.9h0M68.3 243.2h0M92.4 233.0h0M105.2 237.8h0M86.0 245.3h0M54.2 243.5h0M66.6 254.2h0M54.9 249.7h0M61.2 260.4h0M82.5 240.5h0M63.7 264.1h0M54.6 254.3h0M99.5 232.9h0M66.3 243.5h0M79.4 256.3h0M100.2 255.7h0M69.6 241.3h0M79.1 263.0h0M59.6 232.8h0M96.1 237.5h0M67.2 229.6h0M103.3 223.7h0M82.8 255.9h0M65.8 257.5h0M84.5 245.9h0M86.0 245.5h0M89.2 241.1h0M99.8 223.6h0M61.0 238.6h0M79.9 223.2h0M90.7 261.3h0M62.8 246.6h0M58.8 241.4h0M79.9 250.1h0M80.2 232.4h0M76.0 221.5h0M49.9 245.9h0M90.7 254.1h0M74.3 240.8h0M111.8 243.6h0M72.4 250.4h0M111.8 240.3h0M56.4 240.8h0M69.9 245.2h0M77.7 254.3h0M74.0 243.2h0M65.9 247.6h0M68.0 223.1h0M81.5 235.4h0M94.0 245.5h0M52.4 243.6h0M72.6 226.7h0M73.3 257.9h0M84.2 246.1h0M88.5 249.2h0M99.4 253.9h0M85.5 244.0h0M61.0 223.9h0M71.2 245.3h0M100.7 234.4h0M71.8 255.4h0M61.3 237.3h0M110.9 234.0h0M85.9 238.8h0M92.7 223.3h0M106.3 234.2h0M67.3 225.7h0M87.0 235.8h0M52.4 250.3h0M106.9 243.1h0M80.7 223.3h0M76.0 222.6h0M51.4 236.0h0M107.5 251.7h0M46.9 242.7h0M54.6 245.6h0M75.6 248.7h0M60.3 221.2h0M59.7 233.8h0M96.5 251.0h0M66.4 222.6h0M76.0 264.6h0M103.3 228.5h0M54.8 231.5h0M67.1 223.3h0M90.4 238.4h0M104.2 227.4h0M75.9 256.9h0M109.5 232.7h0M112.3 239.9h0M79.2 231.8h0M76.8 234.9h0M51.0 252.1h0M105.3 228.2h0M81.3 263.0h0M50.5 248.9h0M57.9 226.3h0M46.6 244.5h0M45.6 244.9h0M94.1 225.3h0M58.5 256.3h0M52.3 236.6h0M55.1 239.8h0M62.4 249.9h0M53.6 230.1h0M97.2 244.6h0M97.2 257.0h0M91.4 244.5h0M98.8 235.8h0M79.1 231.0h0M78.3 258.2h0M68.5 246.6h0M87.2 262.5h0M86.6 222.5h0M61.9 228.5h0M57.1 226.7h0M96.3 251.4h0M95.9 229.5h0M57.2 252.6h0M86.6 246.5h0M97.5 237.6h0M83.2 234.5h0M98.8 248.8h0M70.1 247.6h0M90.1 260.8h0M47.2 247.5h0M81.4 245.2h0M86.8 248.0h0M77.5 261.8h0M114.3 232.9h0M57.3 224.3h0M65.1 263.2h0M58.1 230.7h0M70.0 236.3h0M47.0 249.9h0M77.7 233.0h0M88.6 236.5h0M103.7 245.6h0M104.6 230.8h0M82.3 220.0h0M81.3 256.9h0M76.7 238.8h0M75.4 227.5h0M71.1 222.0h0M45.0 249.2h0M100.4 223.4h0M65.0 249.3h0M98.5 222.0h0M89.5 236.2h0M106.2 250.1h0M98.3 229.8h0M71.3 236.3h0M80.3 249.0h0M85.6 257.2h0M57.4 249.9h0M86.6 261.0h0M104.0 245.9h0M52.7 239.6h0M102.6 233.6h0M79.9 263.2h0M58.8 232.1h0M91.3 252.8h0M113.0 240.1h0M55.3 237.5h0M65.7 235.4h0M75.3 229.4h0M97.2 240.3h0M54.6 258.0h0M104.1 229.2h0M96.7 222.0h0M87.6 259.1h0M109.7 249.1h0M81.9 238.9h0M102.7 238.5h0M99.7 239.0h0M57.1 221.6h0M58.0 221.8h0M88.4 223.1h0M105.4 246.4h0M59.8 237.0h0M57.3 224.8h0M68.9 242.0h0M69.2 248.7h0M54.0 249.7h0M71.5 232.9h0M71.8 236.8h0M92.9 256.5h0M95.1 254.4h0M50.7 240.1h0M76.8 258.3h0M102.8 235.4h0M90.2 232.3h0M89.4 239.4h0M67.5 263.4h0M87.5 256.9h0M62.6 227.5h0M81.2 261.5h0M65.9 253.6h0M85.1 233.3h0M46.3 245.3h0M60.6 230.2h0M100.9 247.7h0M60.4 222.4h0M112.9 241.8h0M72.8 237.0h0M83.0 239.1h0M48.9 252.5h0M86.7 236.2h0M56.7 252.8h0M76.7 222.7h0M83.6 243.3h0M44.7 245.5h0M57.5 237.3h0M56.2 222.8h0M64.3 246.3h0M50.6 245.6h0M82.7 249.4h0M95.8 226.7h0M76.0 232.5h0M95.5 257.6h0M62.6 245.2h0M66.9 253.4h0M97.7 252.6h0M75.7 228.9h0M68.9 247.4h0M91.2 260.0h0M71.3 251.9h0M71.8 228.2h0M89.7 254.0h0M73.2 244.6h0M63.0 253.2h0M84.7 257.5h0M72.9 236.6h0M65.6 239.7h0M106.0 243.3h0M98.0 255.8h0M60.2 221.7h0M91.9 250.4h0M73.5 244.7h0M94.5 223.6h0M86.7 228.1h0M83.3 243.3h0M72.6 250.7h0M52.9 249.5h0M93.3 255.4h0M74.8 249.6h0M56.2 248.0h0M86.2 254.5h0M72.6 236.2h0M78.2 248.7h0M52.4 232.0h0M98.3 246.8h0M49.6 240.4h0M62.7 222.9h0M46.6 241.9h0M61.2 230.9h0M61.6 261.2h0M74.7 221.4h0M67.0 263.2h0M74.3 220.0h0M49.6 236.9h0M88.7 260.7h0M93.2 224.5h0M92.5 249.3h0M60.1 261.7h0M76.1 241.3h0M106.7 235.1h0M96.0 229.8h0M82.2 227.4h0M73.2 265.2h0M95.0 244.9h0M80.1 251.7h0M65.5 227.7h0M81.5 229.2h0M73.4 240.6h0M66.8 225.7h0M97.6 256.5h0M90.7 260.8h0M74.8 246.0h0M79.2 236.8h0M76.1 247.7h0M87.7 253.5h0M101.3 239.9h0M67.8 233.2h0M87.0 233.4h0M87.0 250.7h0M57.9 241.1h0M72.4 243.8h0M96.1 253.1h0M49.5 232.4h0M59.9 259.5h0M97.2 227.8h0M93.2 253.6h0M77.9 257.6h0M97.5 230.7h0M84.1 239.7h0M72.5 255.0h0M70.4 256.9h0M53.9 228.9h0M53.2 248.4h0M65.0 245.5h0M71.8 255.3h0M76.5 237.1h0M86.7 225.8h0M88.1 238.9h0M88.8 224.3h0M54.2 230.3h0M61.1 227.2h0M101.4 227.1h0M99.8 231.7h0M43.1 246.6h0M67.9 251.6h0M92.8 248.5h0M104.6 245.9h0M92.8 230.3h0M103.3 234.1h0M59.9 261.2h0M70.7 230.2h0M55.4 257.3h0M77.4 258.8h0M78.0 253.9h0M53.7 253.9h0M65.7 231.9h0M52.7 237.3h0M60.2 255.7h0M86.1 236.4h0M84.1 242.7h0M107.6 239.8h0M80.4 253.1h0M64.2 260.7h0M108.1 245.3h0M57.7 222.9h0M52.1 254.0h0M87.8 224.8h0M51.0 241.3h0M79.9 244.9h0M88.0 249.0h0M106.8 252.2h0M76.2 230.3h0M50.3 242.2h0M79.1 258.4h0M91.0 223.9h0M71.4 233.6h0M93.6 232.3h0M74.8 258.5h0M63.0 254.2h0M62.0 233.3h0M78.4 248.6h0M70.6 255.8h0M69.3 229.0h0M51.5 256.0h0M102.3 255.0h0M59.4 249.5h0M69.9 236.9h0M96.4 229.0h0M66.7 257.0h0M54.7 249.4h0M64.8 252.3h0M87.7 253.0h0M45.3 244.3h0M92.7 230.0h0M60.1 256.4h0M81.2 242.1h0M45.1 249.5h0M77.4 230.2h0M70.6 223.3h0M98.0 251.7h0M83.8 246.9h0M90.1 248.2h0M95.8 231.6h0M66.8 241.7h0M85.8 261.8h0M68.9 257.2h0M77.3 231.4h0M50.7 247.9h0M104.8 222.6h0M57.7 251.8h0M79.3 249.1h0M52.5 255.6h0M79.3 238.0h0M100.0 253.2h0M89.7 228.1h0M65.5 223.4h0M61.3 229.1h0M57.0 250.9h0M65.4 253.4h0M62.7 254.6h0M99.5 230.1h0M79.8 243.4h0M99.0 245.3h0M82.9 241.8h0M69.1 253.6h0M64.5 240.0h0M65.3 241.6h0M65.6 222.7h0M63.2 247.2h0M67.9 226.0h0M82.5 243.0h0M86.9 228.5h0M98.6 246.3h0M53.7 234.4h0M86.8 252.4h0M91.8 246.0h0M79.6 264.6h0M107.6 225.2h0M91.9 253.0h0M50.3 231.7h0M80.8 261.8h0M108.4 249.2h0M97.1 235.9h0M66.0 224.0h0M62.0 237.4h0M67.6 230.1h0M88.8 226.6h0M86.3 229.6h0M54.6 233.9h0M72.8 227.6h0M49.2 250.0h0M113.1 237.9h0M101.5 229.5h0M73.3 266.0h0M83.3 237.2h0M105.5 238.0h0M51.0 231.2h0M65.8 229.0h0M70.4 250.7h0M89.9 230.2h0M59.5 225.1h0M100.2 227.5h0M63.5 260.1h0M58.6 233.7h0M61.3 258.1h0M78.0 229.3h0M64.1 231.8h0M93.5 235.5h0M63.9 249.8h0M99.6 233.5h0M79.0 253.5h0M48.5 251.4h0M91.2 244.7h0M101.8 224.0h0M67.0 237.2h0M83.6 239.6h0M109.8 244.8h0M83.1 221.1h0M70.8 251.2h0M50.2 251.6h0M93.0 242.0h0M73.3 221.5h0M90.1 249.9h0M83.6 230.3h0M60.5 265.1h0M67.9 266.3h0M51.5 232.8h0M92.4 251.6h0M49.5 254.3h0M66.8 251.6h0M97.0 246.0h0M64.7 240.5h0M54.6 249.8h0M84.0 239.9h0M61.9 241.4h0M98.7 229.0h0M57.9 237.0h0M104.9 234.3h0M92.4 260.0h0M94.9 254.5h0M77.8 228.6h0M104.2 245.3h0M85.5 228.4h0M82.7 229.8h0M99.2 234.5h0M51.5 233.5h0M72.5 223.6h0M53.6 229.4h0M111.7 243.6h0M46.8 250.1h0M63.7 266.0h0M100.0 256.3h0M53.3 238.5h0M61.2 264.6h0M52.6 242.7h0M98.6 235.0h0M82.5 258.3h0M103.2 247.8h0M86.9 235.5h0M68.6 264.7h0M63.3 265.5h0M85.2 243.1h0M91.9 221.8h0M75.1 251.6h0M53.4 235.0h0M90.7 258.6h0M78.9 225.2h0M59.0 234.4h0M82.9 257.3h0M80.4 262.3h0M91.5 242.5h0M99.6 235.7h0M95.8 247.9h0M84.2 230.6h0M47.2 250.3h0M92.6 256.5h0M83.2 226.9h0M84.7 244.8h0M88.1 222.4h0M75.4 253.3h0M90.1 236.3h0M99.0 225.2h0M68.0 261.2h0M90.0 241.0h0M64.4 265.7h0M66.3 229.7h0M98.8 242.3h0M64.9 232.7h0M64.3 242.3h0M57.5 243.1h0M60.1 243.6h0M72.5 255.7h0M59.4 261.6h0M78.0 238.0h0M49.5 242.2h0M55.7 252.6h0M73.8 250.8h0M95.9 239.8h0M55.9 245.4h0M58.0 236.4h0M65.4 249.5h0M69.6 236.7h0M103.0 238.3h0M62.4 267.5h0M87.4 223.2h0M99.3 223.5h0M65.5 248.4h0M100.4 245.0h0M49.4 243.5h0M91.8 237.5h0M71.6 234.5h0M66.0 229.8h0M94.8 255.4h0M107.7 240.6h0M58.2 245.9h0M57.1 258.8h0M61.9 231.4h0M64.2 237.4h0M49.9 238.9h0M53.5 247.8h0M72.0 237.8h0M63.7 263.4h0M64.9 266.4h0M53.2 245.0h0M81.1 255.4h0M105.0 224.4h0M95.5 248.7h0M64.1 225.5h0M69.3 229.0h0M62.8 222.0h0M91.2 227.2h0M70.9 232.4h0M80.9 242.7h0M80.4 262.5h0M95.7 245.0h0M106.9 225.7h0M80.1 256.4h0M80.2 262.9h0M65.3 238.1h0M65.7 233.0h0M82.3 240.4h0M56.6 255.0h0M64.4 258.7h0M74.4 230.2h0M53.5 232.1h0M75.2 232.9h0M60.1 238.0h0M73.5 245.1h0M76.9 240.0h0M97.9 259.0h0M105.5 247.5h0M80.1 233.9h0M89.1 256.9h0M54.2 241.4h0M98.8 240.7h0M55.4 252.5h0M78.8 250.2h0M45.3 246.0h0M105.8 250.5h0M113.0 234.3h0M85.8 232.0h0M59.7 220.9h0M55.0 229.7h0M68.2 231.4h0M66.9 260.7h0M98.8 241.9h0M71.2 264.0h0M77.1 225.8h0M55.9 244.2h0M100.0 252.8h0M88.7 238.5h0M113.9 246.3h0M85.1 255.7h0M63.6 258.3h0M89.7 259.0h0M78.1 246.9h0M65.3 263.7h0M62.7 244.6h0M94.6 236.6h0M67.1 252.1h0M60.9 229.7h0M84.5 252.3h0M69.9 263.8h0M95.3 238.0h0M81.8 252.6h0M90.8 254.3h0M78.1 233.4h0M113.9 236.2h0M79.6 229.5h0M103.9 222.9h0M89.6 228.9h0M92.5 236.8h0M57.8 255.6h0M98.6 225.6h0M81.9 245.7h0M52.3 249.5h0M95.3 224.9h0M92.3 246.9h0M88.8 229.0h0M97.0 253.8h0M105.3 238.0h0M46.3 245.4h0M85.5 220.7h0M85.2 225.2h0M66.9 256.7h0M68.4 245.2h0M106.2 252.2h0M111.3 232.6h0M104.4 226.0h0M52.5 233.2h0M82.6 264.2h0M75.0 232.6h0M104.8 236.2h0M80.7 228.7h0M61.3 262.9h0M69.4 252.2h0M64.8 267.6h0M61.2 222.9h0M68.5 247.4h0M64.0 226.2h0M70.9 224.6h0M71.4 241.3h0M80.4 261.6h0M76.8 227.5h0M104.2 248.7h0M63.7 249.2h0M55.3 231.2h0M95.6 253.3h0M102.4 250.6h0M74.0 261.5h0M107.5 233.9h0M108.5 246.3h0M62.0 225.7h0M67.9 265.4h0M66.7 263.2h0M75.5 233.1h0M63.6 239.3h0M73.8 243.8h0M78.3 233.9h0M104.2 245.3h0M80.0 244.4h0M50.8 242.4h0M52.3 246.7h0M72.8 238.2h0M60.2 248.9h0M97.8 258.5h0M76.7 226.7h0M80.6 222.3h0M91.2 244.5h0M71.7 238.8h0M73.2 247.5h0M62.3 267.9h0M63.5 262.8h0M63.2 254.4h0M74.5 242.7h0M72.2 251.1h0" stroke="#f4aca8" stroke-width="2.6" stroke-linecap="round" stroke-opacity="0.7" fill="none"/>
<path d="M104.8 286.4h0M100.6 275.6h0M74.2 276.4h0M69.6 270.0h0M114.7 285.2h0M109.6 268.2h0M90.2 281.1h0M89.3 266.9h0M74.1 294.6h0M99.0 260.4h0M98.2 266.3h0M105.7 256.1h0M67.8 276.8h0M107.0 269.2h0M74.0 288.6h0M112.2 262.3h0M78.7 277.3h0M96.9 286.2h0M111.1 254.8h0M68.6 297.4h0M92.9 264.6h0M114.3 290.5h0M93.4 284.9h0M72.3 294.7h0M101.4 275.4h0M109.4 266.7h0M69.7 267.7h0M84.1 269.1h0M94.8 280.3h0M90.2 267.7h0M75.7 286.7h0M83.5 287.0h0M77.3 274.6h0M105.9 283.9h0M75.2 270.6h0M105.3 275.2h0M107.9 287.1h0M101.9 297.5h0M105.5 266.7h0M103.2 301.2h0M86.6 274.6h0M78.2 290.7h0M100.2 270.6h0M87.6 297.1h0M75.3 297.3h0M102.9 264.5h0M75.9 284.3h0M66.2 270.0h0M95.0 273.2h0M105.0 289.1h0M103.5 288.8h0M76.0 268.5h0M79.1 286.4h0M66.5 284.5h0M75.9 285.5h0M63.8 272.2h0M103.3 282.8h0M69.4 297.3h0M84.7 285.2h0M83.6 266.6h0M66.9 278.7h0M109.6 272.3h0M101.2 301.2h0M101.5 279.1h0M100.4 268.5h0M103.7 270.0h0M96.8 271.8h0M102.9 290.3h0M68.2 277.9h0M111.4 287.6h0M108.1 278.1h0M86.8 284.5h0M92.8 262.1h0M102.5 290.8h0M92.2 293.3h0M82.9 290.0h0M114.4 279.6h0M110.9 256.6h0M115.8 267.5h0M97.0 284.3h0M110.3 281.3h0M108.5 271.5h0M94.2 264.6h0M92.8 282.9h0M79.9 281.7h0M91.9 288.3h0M109.7 289.9h0M101.9 276.2h0M89.5 300.5h0M79.5 272.4h0M82.0 273.9h0M80.0 291.2h0M96.3 270.6h0M115.3 284.7h0M80.0 298.1h0M72.3 284.6h0M107.4 274.3h0M99.2 291.7h0M69.9 271.4h0M113.6 256.4h0M92.2 295.9h0M115.7 267.0h0M110.1 252.9h0M116.1 269.1h0M71.8 267.4h0M76.0 295.7h0M81.3 266.5h0M77.0 268.0h0M88.7 265.5h0M74.5 291.8h0M68.2 278.2h0M104.9 278.5h0M101.4 259.0h0M109.7 271.1h0M113.4 265.1h0M97.6 291.3h0M85.3 271.7h0M82.7 292.0h0M64.9 284.4h0M101.8 291.5h0M73.1 290.7h0M66.9 292.8h0M93.9 293.9h0M77.7 281.2h0M112.3 268.0h0M96.3 269.6h0M100.6 292.2h0M88.1 291.4h0M110.6 292.0h0M71.8 282.9h0M73.2 276.2h0M108.2 294.2h0M113.4 259.4h0M101.7 274.8h0M104.0 282.8h0M79.9 282.0h0M91.8 277.6h0M85.6 266.9h0M87.3 280.7h0M74.1 281.2h0M91.4 262.5h0M111.2 260.8h0M84.0 292.2h0M88.2 288.6h0M102.2 270.1h0M101.6 261.1h0M73.7 286.3h0M71.3 283.4h0M81.3 295.2h0M86.8 280.0h0M91.7 276.4h0M78.8 287.5h0M63.0 269.7h0M102.5 284.4h0M90.8 292.3h0M112.6 258.2h0M96.8 285.2h0M65.3 284.9h0M114.8 275.6h0M97.9 280.5h0M99.2 275.4h0M99.3 286.6h0M77.8 266.1h0M104.1 285.9h0M63.9 281.5h0M114.0 265.8h0M67.0 267.5h0M67.3 287.4h0M106.0 281.7h0M83.3 289.1h0M102.0 287.4h0M82.1 276.7h0M73.1 273.8h0M101.2 298.2h0M112.8 280.6h0M76.0 267.1h0M105.2 286.8h0M108.1 281.3h0M78.7 287.1h0M66.8 270.6h0M78.4 289.0h0M91.9 289.6h0M85.4 274.9h0M100.5 293.3h0M80.2 291.4h0M114.7 278.5h0M73.0 296.5h0M87.5 279.4h0M100.9 270.2h0M82.6 276.5h0M100.4 296.9h0M100.3 287.0h0M99.5 280.1h0M110.9 257.7h0M100.2 302.0h0M76.1 281.0h0M98.7 297.7h0M99.2 282.8h0M73.6 291.6h0M74.4 266.4h0M69.5 291.3h0M77.2 290.6h0M113.0 257.5h0M77.3 297.8h0M96.9 262.5h0M71.9 300.8h0M88.7 300.5h0M87.0 298.5h0M72.1 289.4h0M112.7 294.0h0M82.8 285.9h0M78.3 270.3h0M99.0 278.9h0M113.2 286.7h0M106.3 279.1h0M74.7 290.7h0M94.0 289.2h0M66.0 277.2h0M103.0 298.3h0M72.3 282.6h0M114.1 288.7h0M98.0 298.5h0M97.8 279.3h0M97.8 269.1h0M100.8 294.1h0M64.1 276.9h0M83.2 279.2h0M101.4 262.7h0M98.7 299.3h0M102.2 283.6h0M74.3 302.4h0M112.7 257.3h0M93.1 283.9h0M102.1 260.3h0M113.4 264.2h0M91.7 301.7h0M98.3 288.1h0M101.2 283.1h0M91.3 283.8h0M110.9 267.7h0M91.8 289.1h0M75.2 287.7h0M114.1 271.2h0M111.0 257.7h0M109.4 256.6h0M107.5 291.4h0M65.8 274.4h0M109.7 288.6h0M67.8 291.3h0M98.9 279.6h0M96.5 289.6h0M73.0 276.1h0M104.3 277.4h0M102.2 295.6h0M115.5 263.9h0M104.1 287.0h0M85.4 296.3h0M113.1 283.3h0M97.3 285.6h0M95.2 288.9h0M89.3 280.3h0M84.2 287.6h0M93.5 291.8h0M111.6 254.8h0M97.8 274.5h0M86.7 293.9h0M102.3 297.1h0M74.9 269.9h0M79.0 282.9h0M104.6 279.3h0M114.4 270.1h0M97.5 294.7h0M106.4 283.4h0M103.0 257.3h0M108.3 259.9h0M68.8 270.6h0M106.1 274.2h0M96.6 273.6h0M90.6 278.9h0M95.3 299.7h0M84.5 292.5h0M95.4 287.5h0M75.1 290.6h0M103.9 263.7h0M113.4 278.4h0M96.0 299.0h0M87.1 285.7h0M80.4 299.0h0M83.2 292.4h0M86.4 266.1h0M70.5 289.9h0M96.0 288.9h0M88.9 290.5h0M103.5 273.1h0M113.9 261.7h0M115.6 287.5h0M86.4 298.2h0M115.1 289.9h0M80.9 275.3h0M80.1 291.6h0M67.2 279.1h0M71.4 282.3h0M72.6 269.1h0M70.3 286.4h0M94.2 299.0h0M72.5 279.2h0M87.3 271.8h0M79.4 294.1h0M89.9 288.5h0M91.7 300.3h0M95.4 264.4h0M95.0 280.7h0M105.7 284.0h0M76.0 282.3h0M103.0 282.7h0M115.0 261.8h0M96.1 260.4h0M84.4 277.0h0M110.4 269.5h0M97.2 278.7h0M74.2 297.4h0M76.9 302.6h0M80.1 282.3h0M67.0 285.3h0M97.7 273.4h0M103.4 257.8h0M107.9 254.3h0M82.3 290.1h0M76.5 272.6h0M81.8 301.0h0M85.7 290.6h0M107.7 258.5h0M69.1 285.7h0M100.2 276.9h0M98.3 261.6h0M112.2 284.2h0M81.6 266.9h0M110.9 286.4h0M74.1 283.4h0M91.1 269.4h0M103.0 280.2h0M109.4 265.5h0M73.1 270.0h0M80.9 287.4h0M87.4 280.9h0M72.2 275.5h0M103.0 257.3h0M77.5 282.4h0M100.0 279.8h0M70.6 296.8h0M79.6 292.4h0M112.6 273.6h0M92.8 292.6h0M105.6 259.5h0M87.5 285.5h0M96.7 265.5h0M104.6 280.3h0M99.8 269.6h0M96.2 287.8h0M85.2 290.7h0M102.6 280.6h0M74.9 279.9h0M108.2 251.7h0M95.4 292.8h0M110.9 284.5h0M79.1 297.9h0M105.8 292.7h0M114.9 267.8h0M110.3 278.2h0M68.3 284.1h0M82.9 300.0h0M88.2 270.9h0M83.3 274.4h0M80.8 300.7h0M105.5 266.7h0M87.1 286.5h0M77.0 282.8h0M87.7 291.1h0M67.3 281.7h0M77.6 283.0h0M83.1 296.0h0M82.5 296.9h0M114.0 275.2h0M96.4 268.3h0M76.4 295.5h0M78.1 285.7h0M113.1 271.0h0M111.6 272.2h0M62.8 273.7h0M96.6 301.6h0M83.8 290.9h0M94.3 282.9h0M92.7 267.1h0M116.1 272.7h0M83.3 287.4h0M90.7 262.7h0M100.8 300.6h0M104.1 286.9h0M72.6 274.4h0M75.6 286.1h0M87.7 278.0h0M91.3 284.1h0M82.0 299.1h0M97.9 293.7h0M95.1 261.5h0M93.9 290.1h0M108.9 281.3h0M92.6 287.8h0M66.6 274.8h0M77.9 278.3h0M91.6 268.2h0M106.8 267.5h0M63.2 269.3h0M104.4 290.7h0M106.7 271.0h0M90.9 273.4h0M76.1 280.2h0M92.2 273.1h0M112.7 278.6h0M113.1 271.1h0M105.3 273.8h0M87.6 274.5h0M66.6 268.7h0M80.3 276.6h0M96.0 276.7h0M89.6 287.1h0M71.6 293.8h0M98.1 281.7h0M90.3 294.2h0M74.3 276.9h0M88.8 298.2h0M74.8 294.0h0M70.6 288.7h0M105.6 256.5h0M90.6 295.9h0M89.3 292.5h0M74.9 267.6h0M103.1 276.1h0M111.1 249.7h0M104.6 270.8h0M101.7 273.2h0M106.3 283.3h0M104.8 287.5h0M65.9 289.0h0M73.3 299.8h0M78.7 288.6h0M98.0 297.1h0M100.9 291.5h0M108.0 252.6h0M108.0 298.7h0M88.2 280.3h0M101.8 260.3h0M99.4 280.0h0M91.7 281.8h0M106.1 277.1h0M93.7 292.0h0M76.6 271.2h0M76.9 292.7h0M76.9 290.8h0M111.9 282.1h0M85.5 293.1h0M108.1 271.9h0M84.8 269.3h0M111.0 294.2h0M92.7 293.6h0M108.3 292.7h0M84.3 293.3h0M98.1 284.2h0M88.3 270.8h0M103.9 291.3h0M89.6 303.0h0M91.3 290.6h0M76.9 289.5h0M90.8 280.7h0M94.2 298.0h0M70.6 294.1h0M66.2 288.8h0M79.4 288.7h0M112.0 269.0h0M84.6 271.8h0M103.6 283.6h0M79.1 283.5h0M89.5 291.2h0M92.9 290.3h0M100.2 290.3h0M80.8 299.4h0M107.1 261.0h0M110.7 269.2h0M67.5 275.4h0M77.6 293.3h0M75.0 289.3h0M109.4 255.3h0M68.6 287.8h0M113.7 251.4h0M67.5 280.6h0M87.5 269.1h0M86.6 273.8h0M84.0 275.8h0M95.5 274.7h0M76.7 295.9h0M103.3 284.1h0M106.8 283.4h0M73.8 292.9h0M86.9 275.9h0M108.4 266.8h0M74.4 300.4h0M96.4 267.5h0M105.4 295.3h0M112.3 284.3h0M78.9 283.0h0M105.8 259.6h0M71.4 283.5h0M74.4 273.5h0M91.1 283.4h0M112.8 264.2h0M74.0 288.3h0M95.5 291.4h0M96.9 300.5h0M68.0 269.3h0M89.2 276.8h0M103.9 290.9h0M84.5 281.8h0M90.7 293.5h0M84.0 283.1h0M95.0 282.4h0M86.8 265.4h0M67.2 292.6h0M78.8 277.7h0M110.7 273.6h0M70.1 291.2h0M105.2 254.1h0M72.2 267.7h0M108.1 278.7h0M72.4 283.4h0M94.7 291.0h0M75.4 285.1h0M78.1 270.0h0M65.4 275.6h0M115.5 280.1h0M114.6 289.3h0M73.0 269.4h0M94.6 276.7h0M80.2 302.9h0M106.7 254.3h0M87.4 295.9h0M110.2 292.1h0M93.3 296.7h0M111.0 277.5h0M85.0 275.9h0M91.1 267.1h0M77.7 286.8h0M70.5 282.5h0M112.0 276.0h0M83.0 273.6h0M115.3 284.8h0M78.3 298.0h0M77.4 293.3h0M105.2 266.2h0M91.3 297.7h0M88.1 300.3h0M83.2 301.0h0M94.3 288.8h0M70.1 300.6h0M91.5 281.7h0M107.3 286.9h0M99.4 295.8h0M72.0 293.1h0M86.0 272.1h0M66.6 291.1h0M106.6 271.6h0M101.0 283.4h0M98.5 267.0h0M75.4 283.9h0M113.7 287.2h0M85.5 295.1h0M99.9 301.6h0M99.1 295.1h0M90.5 292.8h0M77.7 272.4h0M74.8 298.5h0M84.5 264.6h0M104.2 292.8h0M84.7 286.7h0M112.7 249.8h0M109.3 261.7h0M80.6 291.4h0M113.7 250.4h0M66.9 281.6h0M109.5 251.3h0M76.5 298.8h0M115.6 267.4h0M94.9 265.0h0M105.9 299.3h0M105.7 262.2h0M91.4 294.2h0M106.8 270.6h0M73.1 288.6h0M74.7 275.4h0M73.5 268.5h0M87.8 293.3h0M65.3 284.2h0M105.4 297.7h0M88.1 266.2h0M88.3 303.2h0M74.4 295.7h0M81.5 297.5h0M86.1 275.1h0M85.6 285.9h0M83.1 267.2h0M86.5 267.2h0M71.8 293.1h0M74.7 284.7h0M82.9 292.6h0M79.9 266.7h0M104.3 289.7h0M97.2 298.4h0M110.6 291.2h0M82.5 269.5h0M89.6 297.7h0M93.0 262.9h0M113.4 259.7h0M98.8 263.7h0M90.1 266.7h0M89.5 282.8h0M103.2 287.2h0M94.7 293.3h0M106.0 269.7h0M102.8 271.3h0M110.2 253.5h0M86.6 296.1h0M99.0 262.7h0M83.1 301.9h0M71.4 278.5h0M115.6 264.0h0M105.4 254.7h0M98.7 279.2h0M95.6 279.3h0M106.0 297.5h0M62.7 275.2h0M84.5 289.0h0M84.1 274.2h0M71.7 272.3h0M97.5 265.5h0M105.5 258.9h0M71.9 294.0h0M98.9 284.8h0M87.7 277.5h0M110.5 266.4h0M96.3 269.0h0M67.7 276.9h0M108.7 265.3h0M98.4 264.8h0M93.5 283.9h0M111.6 265.4h0M92.2 289.0h0M78.1 294.5h0M110.5 264.9h0M112.0 280.2h0M75.2 299.1h0M106.4 270.6h0M90.8 279.5h0M110.8 270.7h0M111.0 271.7h0M73.2 296.7h0M72.5 290.7h0M105.7 283.9h0M108.3 291.0h0M93.8 289.2h0M85.0 276.7h0M76.0 291.9h0M72.4 268.1h0M76.9 302.1h0M109.8 264.4h0M86.4 284.6h0M68.1 282.4h0M105.5 297.7h0M104.0 260.8h0M114.0 274.1h0M78.9 280.8h0M89.0 285.0h0M86.3 288.8h0M81.7 291.6h0M103.5 267.6h0M64.6 286.0h0M78.9 301.7h0M78.8 298.8h0M82.2 285.2h0M100.4 275.8h0M102.2 300.6h0M114.9 265.4h0M72.4 288.1h0M78.0 295.3h0M63.4 272.5h0M83.7 282.8h0M101.8 288.3h0M98.8 302.1h0M78.3 276.1h0M95.8 274.7h0M80.5 276.4h0M94.2 301.5h0M113.4 278.4h0M72.0 275.0h0M79.0 278.5h0M76.8 286.7h0M97.4 283.8h0M99.0 278.4h0M105.3 265.8h0M79.8 299.0h0M86.6 282.4h0M79.6 288.0h0M68.8 276.5h0M104.5 292.1h0M93.5 296.4h0M79.0 302.9h0M83.9 279.7h0M66.2 280.1h0M87.1 301.5h0M72.2 267.0h0M104.1 270.4h0M94.3 266.0h0M111.6 254.6h0M77.9 275.4h0M108.2 276.3h0M104.0 275.3h0M77.6 295.3h0M70.9 275.3h0M87.0 290.8h0M105.7 280.7h0M81.2 271.3h0M99.9 288.8h0M89.3 265.6h0M63.7 275.2h0M74.3 266.1h0" stroke="#d8d864" stroke-width="2.6" stroke-linecap="round" stroke-opacity="0.7" fill="none"/>
<path d="M23.5 252.1h0M21.4 245.0h0M14.7 244.7h0M4.6 267.2h0M22.3 252.1h0M7.6 259.9h0M4.0 280.5h0M25.7 246.0h0M10.5 264.4h0M24.1 267.4h0M16.7 265.6h0M23.1 255.4h0M10.4 280.2h0M26.3 241.5h0M18.4 248.7h0M23.3 265.4h0M7.0 269.3h0M24.3 265.3h0M11.0 244.4h0M21.2 241.9h0M10.1 252.1h0M27.2 240.6h0M7.8 272.1h0M12.3 256.7h0M16.5 255.9h0M27.8 259.8h0M3.5 272.4h0M30.8 244.4h0M19.0 261.9h0M24.5 260.2h0M20.8 266.5h0M22.1 242.2h0M7.0 250.9h0M27.2 254.6h0M27.3 256.4h0M27.5 242.0h0M12.6 258.3h0M6.9 264.2h0M25.6 267.1h0M11.7 268.9h0M12.2 256.4h0M26.2 251.9h0M6.5 274.3h0M12.9 264.7h0M27.9 248.6h0M9.8 249.0h0M28.2 259.9h0M16.4 262.0h0M24.9 256.0h0M14.4 262.9h0M14.0 255.9h0M6.5 247.3h0M22.5 250.9h0M5.8 265.2h0M10.9 247.9h0M18.0 248.2h0M9.5 258.0h0M11.5 251.8h0M5.7 268.0h0M13.4 245.6h0M20.0 267.3h0M8.6 279.4h0M8.7 266.4h0M7.4 246.4h0M9.0 260.8h0M28.4 254.0h0M9.3 280.0h0M23.5 244.8h0M30.6 241.2h0M5.3 280.7h0M19.5 257.6h0M15.1 273.2h0M14.2 255.7h0M11.1 254.1h0M28.8 241.2h0M22.6 249.2h0M9.7 271.6h0M12.0 252.8h0M26.3 246.5h0M23.4 247.1h0M22.4 245.4h0M25.3 258.3h0M9.5 251.7h0M26.0 258.1h0M26.7 259.6h0M21.3 258.8h0M3.8 269.8h0M29.1 242.3h0M9.5 277.5h0M19.5 265.1h0M23.9 262.7h0M19.1 267.6h0M16.7 272.4h0M4.9 271.8h0M4.6 266.8h0M4.0 254.2h0M18.1 244.7h0M5.7 248.2h0M30.0 261.7h0M9.8 281.0h0M18.7 243.0h0M14.5 272.3h0M4.6 267.2h0M21.7 245.6h0M29.5 250.1h0M16.5 250.0h0M10.0 260.1h0M2.7 274.3h0M11.6 277.9h0M6.0 262.3h0M16.6 247.6h0M18.7 270.0h0M7.0 277.0h0M13.4 246.3h0M17.2 263.1h0M19.6 255.4h0M8.6 274.5h0M18.7 242.8h0M5.2 256.6h0M24.4 242.6h0M5.3 265.1h0M9.2 244.5h0M18.8 248.8h0M2.4 274.6h0M19.0 251.3h0M13.5 251.9h0M2.3 275.8h0M13.0 249.3h0M11.2 244.2h0M15.6 260.9h0M23.8 246.6h0M15.6 256.2h0M15.2 257.3h0M8.5 275.8h0M28.4 245.1h0M17.8 262.0h0M19.6 264.9h0M16.5 254.0h0M20.9 245.5h0M14.0 258.4h0M9.4 278.6h0M14.0 247.3h0M9.2 281.2h0M4.2 253.7h0M8.6 274.1h0M24.5 250.8h0M27.4 241.0h0M15.1 266.8h0M19.0 263.8h0M10.4 267.2h0M7.1 269.2h0M20.2 270.1h0M4.9 268.8h0M17.0 249.2h0M13.9 242.7h0M15.0 272.2h0M23.0 252.3h0M18.6 250.2h0M24.6 256.7h0M24.4 253.5h0M28.9 260.7h0M27.4 260.0h0M19.3 258.0h0M5.3 262.3h0M22.6 252.1h0M22.1 246.1h0M17.4 251.6h0M21.5 246.8h0M22.5 266.9h0M16.5 250.3h0M12.7 245.5h0M14.6 245.9h0M7.0 268.3h0M10.2 271.3h0M17.4 268.8h0M24.3 259.5h0M13.8 249.8h0M8.2 250.0h0M18.6 257.0h0M25.1 264.3h0M13.9 251.8h0M5.6 265.6h0M5.0 258.5h0M13.6 263.3h0M24.2 256.6h0M9.7 281.3h0M18.4 257.3h0M16.2 253.8h0M21.5 253.7h0M20.8 249.3h0M16.8 262.2h0M18.0 244.0h0M9.3 280.4h0M20.7 242.0h0M9.0 270.8h0M15.3 242.5h0M20.3 249.2h0M15.9 246.1h0M19.9 253.4h0M28.4 246.2h0M29.4 261.7h0M16.0 244.0h0M16.3 254.0h0M22.9 258.5h0M10.3 258.0h0M24.0 241.3h0M6.0 281.0h0M24.0 260.4h0M25.2 256.4h0M12.4 251.3h0M19.1 265.6h0M7.3 253.5h0M15.9 255.4h0M29.9 249.1h0M18.3 265.1h0M20.6 258.9h0M10.7 253.8h0M13.3 263.4h0M10.4 260.4h0M18.7 259.6h0M25.3 247.1h0M23.5 249.4h0M20.8 255.7h0M21.9 261.6h0M5.8 249.7h0M14.1 265.4h0M7.2 257.5h0M8.6 251.8h0M6.9 275.6h0M8.3 274.8h0M25.6 265.9h0M11.6 259.9h0M15.3 249.6h0M26.2 241.5h0M18.5 249.1h0M16.3 246.1h0M16.8 246.2h0M16.7 254.6h0M13.1 257.6h0M30.0 259.6h0M20.4 246.6h0M2.3 275.1h0M3.3 277.7h0M18.3 252.2h0M23.3 255.6h0M9.6 269.3h0M14.4 268.0h0M6.0 267.9h0M27.7 252.0h0M11.5 266.0h0M17.1 267.3h0M8.9 270.7h0M3.6 278.9h0M28.3 246.2h0M10.8 278.8h0M17.8 242.3h0M6.7 277.9h0M19.2 266.6h0M4.3 270.8h0M8.3 272.3h0M10.3 253.2h0M25.8 243.4h0M22.0 242.4h0M16.1 274.4h0M3.6 272.2h0M8.4 262.7h0M27.4 244.9h0M11.9 245.3h0M29.2 262.2h0M14.2 266.1h0M5.4 263.9h0M22.8 245.8h0M19.5 259.5h0M23.3 241.7h0M29.5 249.6h0M4.0 267.1h0M12.7 275.1h0M12.0 252.5h0M3.5 274.7h0M22.5 258.6h0M7.3 249.4h0M16.0 254.2h0M17.0 245.8h0M13.5 247.8h0M7.6 265.4h0M18.9 254.1h0M13.5 266.1h0M18.4 252.8h0M9.1 275.2h0M25.2 255.3h0M25.1 252.7h0M7.5 256.7h0M23.0 241.6h0M5.4 278.5h0M6.4 256.9h0M24.4 251.2h0M19.9 260.3h0M6.3 280.1h0M18.6 262.7h0M15.9 243.8h0M28.6 263.9h0M8.6 253.7h0M4.4 252.8h0M10.4 261.3h0M16.3 273.3h0M26.2 256.5h0M23.5 251.5h0M14.2 254.2h0M16.1 246.5h0M24.2 252.6h0M30.9 243.1h0M20.1 262.4h0M27.0 260.0h0M12.4 279.2h0M12.9 245.6h0" stroke="#70bcec" stroke-width="2.6" stroke-linecap="round" stroke-opacity="0.7" fill="none"/>
<path d="M36.0 239.6h0M25.9 224.8h0M25.9 237.0h0M46.1 236.3h0M32.4 234.3h0M35.4 242.2h0M33.4 246.4h0M49.4 224.0h0M40.8 239.5h0M24.7 233.1h0M47.1 233.2h0M33.3 241.3h0M27.6 226.4h0M32.5 227.1h0M11.8 242.1h0M47.4 235.2h0M46.1 232.3h0M47.0 228.6h0M24.3 225.8h0M41.7 235.5h0M37.0 227.1h0M45.2 231.8h0M23.1 230.8h0M49.2 231.7h0M45.2 223.9h0M22.9 226.0h0M44.2 236.3h0M29.1 234.6h0M36.5 231.5h0M49.2 222.8h0M24.6 229.1h0M51.4 221.0h0M32.3 234.2h0M30.9 235.3h0M19.8 234.8h0M26.6 235.1h0M47.8 231.1h0M20.5 235.6h0M45.5 230.7h0M42.9 233.0h0M20.1 234.9h0M39.5 223.9h0M29.2 232.2h0M24.4 226.0h0M41.8 234.8h0M37.6 243.7h0M26.4 226.5h0M20.9 240.0h0M41.3 235.6h0M38.5 228.3h0M47.8 233.1h0M27.3 233.2h0M29.8 237.1h0M46.2 221.7h0M47.5 229.6h0M47.0 233.4h0M48.3 226.7h0M21.0 230.0h0M39.2 223.9h0M32.9 229.4h0M43.3 238.7h0M21.7 229.0h0M44.9 241.2h0M40.7 229.4h0M35.4 238.1h0M23.2 231.2h0M40.0 242.9h0M49.1 228.4h0M27.1 238.4h0M36.4 238.4h0M48.4 221.8h0M29.6 235.4h0M17.2 237.9h0M18.3 239.6h0M49.5 221.6h0M31.1 237.7h0M21.8 232.6h0M22.9 241.0h0M25.4 239.0h0M48.5 220.4h0M19.8 235.3h0M52.0 224.2h0M47.4 232.5h0M24.8 231.7h0M31.4 226.9h0M41.9 229.0h0M32.5 227.3h0M24.4 238.4h0M25.9 224.9h0M46.6 224.0h0M23.1 233.0h0M46.6 231.2h0M46.3 219.9h0M47.3 234.7h0M19.1 236.1h0M24.9 230.4h0M31.3 242.4h0M28.8 235.3h0M44.7 231.7h0M26.7 224.8h0M37.4 231.5h0M38.7 229.1h0M43.8 239.8h0M37.3 233.4h0M37.8 245.1h0M23.8 236.7h0M39.4 237.8h0M49.8 230.1h0M27.6 239.0h0M25.0 237.7h0M46.6 234.0h0M26.6 236.0h0M41.1 225.1h0M25.6 234.3h0M28.8 234.2h0M42.6 244.3h0M31.0 239.1h0M42.2 220.6h0M48.1 230.6h0M39.3 225.7h0M31.9 232.2h0M43.8 230.0h0M44.7 241.1h0M37.1 226.1h0M20.5 234.5h0M29.4 227.5h0M32.8 232.8h0M34.3 222.6h0M19.9 240.4h0M28.3 239.9h0M47.1 223.9h0M37.2 228.8h0M25.0 230.3h0M35.4 245.2h0M36.9 232.0h0M29.0 235.9h0M54.1 221.5h0M24.5 226.0h0M25.9 226.1h0M33.6 227.3h0M47.6 224.8h0M23.4 231.1h0M13.3 238.9h0M28.7 230.9h0M25.6 232.4h0M25.7 228.4h0M50.3 224.3h0M22.9 236.5h0M47.5 221.8h0M12.8 242.1h0M32.4 247.1h0M36.0 225.9h0M43.8 236.4h0M49.5 226.8h0M32.6 225.7h0M14.8 239.0h0M24.1 236.9h0M16.4 237.9h0M23.3 229.8h0M32.5 230.1h0M45.9 239.7h0M16.4 234.8h0M35.7 239.1h0M17.6 240.5h0M46.0 232.9h0M24.2 228.3h0M29.0 240.1h0M23.3 237.3h0M23.6 235.8h0M22.5 230.1h0M25.8 224.3h0M45.4 233.1h0M50.1 227.5h0M29.3 230.2h0M23.5 234.3h0M47.6 229.1h0M36.6 228.9h0M43.6 225.5h0M41.8 241.5h0M32.6 234.7h0M47.9 225.2h0M16.3 234.9h0M41.7 222.3h0M39.6 232.8h0M40.1 246.2h0M43.6 233.7h0M14.7 238.3h0M37.1 238.0h0M25.5 231.6h0M52.0 220.3h0M34.1 242.8h0M46.3 236.6h0M34.4 229.3h0M23.4 240.7h0M39.9 242.8h0M31.3 233.8h0M16.7 236.9h0M32.9 228.9h0M42.9 244.8h0M47.0 233.6h0M37.9 236.0h0M38.7 241.8h0M14.3 235.7h0M24.0 239.6h0M18.8 237.7h0M25.2 227.5h0M47.7 235.6h0M45.6 238.2h0M48.6 223.9h0M33.5 230.9h0M32.4 234.1h0M46.0 237.6h0M25.1 234.8h0M50.9 223.4h0M26.8 228.6h0M39.2 238.2h0M27.0 237.0h0M16.9 231.5h0M51.4 227.5h0M41.2 229.9h0M44.6 224.7h0M32.6 233.2h0M34.9 241.5h0M38.8 241.5h0M38.5 232.7h0M25.8 233.2h0M28.3 229.7h0M14.4 241.1h0M40.9 226.9h0M39.9 222.7h0M22.6 226.7h0M34.8 221.8h0M37.8 221.5h0M32.4 223.9h0M23.3 239.0h0M25.7 235.9h0M42.4 228.1h0M47.4 230.7h0M50.0 219.6h0M50.1 229.0h0" stroke="#70c4a4" stroke-width="2.6" stroke-linecap="round" stroke-opacity="0.7" fill="none"/>
<path d="M109.3 229.1h0M112.5 231.3h0M110.2 224.8h0M112.9 229.2h0M107.3 229.5h0M109.5 229.2h0M109.4 227.1h0M108.5 227.8h0M110.0 228.7h0M112.4 227.6h0M114.2 229.8h0M109.4 230.7h0M112.2 230.6h0M110.0 231.2h0M111.9 229.2h0M110.3 224.9h0M111.0 229.7h0M113.6 231.0h0M110.2 227.7h0M114.2 228.6h0M110.4 232.2h0" stroke="#d0a8dc" stroke-width="2.6" stroke-linecap="round" stroke-opacity="0.7" fill="none"/>
</g>
<path d="M94.9 246.3h0M94.2 221.4h0M96.8 241.8h0M68.1 222.4h0M105.0 238.9h0M82.2 243.2h0M57.4 239.6h0M73.6 230.6h0M82.5 246.2h0M107.8 233.5h0M81.4 260.2h0M62.1 224.4h0M100.0 244.1h0M55.3 248.4h0M94.9 252.9h0M57.8 221.9h0M93.9 223.1h0M109.6 237.0h0M73.8 254.6h0M67.6 264.6h0M76.2 225.7h0M76.0 261.4h0M89.8 240.5h0M74.7 237.8h0M73.7 225.9h0M47.6 249.3h0M70.6 251.6h0M93.6 229.8h0M67.1 236.4h0M68.6 235.2h0M70.6 265.3h0M93.2 242.3h0M104.5 243.2h0M84.1 235.4h0M71.1 259.7h0M79.9 243.6h0M102.4 223.6h0M106.2 231.2h0M87.9 251.2h0M53.4 235.0h0M94.1 223.7h0M54.7 249.4h0M80.0 237.7h0M62.6 234.5h0M105.0 225.2h0M54.8 242.2h0M72.5 241.5h0M61.1 266.8h0M59.2 225.0h0M52.8 235.3h0M93.4 249.6h0M90.1 235.8h0M61.1 222.0h0M85.3 249.7h0M94.8 243.8h0M69.3 241.0h0M106.9 239.2h0M58.8 224.2h0M82.6 235.7h0M88.5 246.4h0M66.2 243.3h0M89.4 251.6h0M92.4 260.8h0M78.6 264.4h0M65.3 242.8h0M90.1 233.8h0M61.6 239.5h0M94.1 248.5h0M93.5 227.2h0M66.1 224.2h0M91.5 240.1h0M101.9 255.3h0M62.9 259.1h0M65.8 258.3h0M72.7 230.2h0M105.0 244.9h0M87.9 230.9h0M88.5 235.6h0M77.0 234.6h0M70.3 247.1h0M68.7 236.6h0M59.8 240.6h0M44.1 244.6h0M72.9 221.9h0M68.7 265.6h0M100.3 233.3h0M78.0 230.7h0M55.0 241.7h0M51.8 245.2h0M96.8 241.2h0M96.4 251.4h0M70.9 252.0h0M76.7 258.1h0M60.3 252.2h0M101.4 233.4h0M52.5 253.2h0M68.1 266.3h0M69.3 236.2h0M82.7 229.7h0M73.6 219.7h0M74.9 246.6h0M47.4 243.5h0M90.9 251.0h0M58.6 258.0h0M89.6 221.9h0M95.6 238.5h0M112.1 241.3h0M101.2 241.9h0M70.1 236.3h0M71.3 255.4h0M84.5 230.6h0M71.8 230.1h0M91.1 231.5h0M102.1 237.1h0M87.7 241.3h0M107.4 242.6h0M83.7 232.8h0M68.0 220.4h0M85.6 257.5h0M72.5 265.3h0M57.4 249.9h0M89.8 220.6h0M81.5 240.1h0M62.1 263.5h0M91.5 227.9h0M96.4 224.3h0M54.0 224.4h0M102.1 224.5h0M62.4 265.1h0M110.0 239.8h0M85.2 254.2h0M57.0 222.4h0M92.0 236.2h0M51.4 231.7h0M95.4 240.6h0M99.2 230.1h0M81.0 263.6h0M101.7 235.8h0M82.9 228.9h0M57.5 231.4h0M72.7 224.1h0M107.2 223.2h0M82.5 248.3h0M72.2 241.3h0M73.3 244.7h0M62.8 229.1h0M86.5 222.3h0M68.8 233.7h0M68.5 230.5h0M104.0 242.9h0M64.8 264.0h0M58.6 250.3h0M82.6 232.5h0M82.2 251.8h0M104.7 246.4h0M105.5 233.5h0M90.4 239.0h0M62.3 258.3h0M92.2 239.6h0M107.4 236.2h0M77.0 258.5h0M93.3 237.2h0M58.8 226.7h0M65.9 265.0h0M103.1 222.2h0M87.8 256.8h0M59.5 233.0h0M85.3 225.7h0M53.7 241.3h0M102.8 229.2h0M74.2 226.1h0M95.1 259.9h0M66.0 261.1h0M69.5 261.5h0M90.7 250.3h0M79.5 222.5h0M74.5 249.3h0M101.1 237.2h0M87.1 254.4h0M99.0 250.2h0M48.3 240.0h0M87.5 254.7h0M92.0 244.4h0M90.0 261.3h0M83.9 230.5h0M70.7 248.5h0M59.7 223.3h0M82.2 256.8h0M51.4 247.9h0M65.7 252.3h0M112.1 245.4h0M52.3 240.8h0M100.7 248.4h0M68.7 258.2h0M93.0 254.3h0M82.0 220.1h0M59.9 256.4h0M73.2 230.3h0M81.1 235.1h0M74.7 248.1h0M104.3 244.6h0M71.1 235.0h0M79.7 239.9h0M66.7 238.7h0M78.7 227.5h0M69.9 248.6h0M45.7 241.9h0M69.3 230.7h0M51.8 238.4h0M69.5 263.0h0M92.1 225.4h0M94.1 237.0h0M76.9 261.3h0M56.7 248.1h0M62.5 256.9h0M94.2 237.5h0M107.8 235.3h0M81.9 228.1h0M104.1 229.5h0M101.1 256.8h0M60.8 255.0h0M91.1 224.1h0M67.3 247.4h0M101.5 246.9h0M94.7 246.8h0M50.9 247.2h0M70.0 254.6h0M59.6 241.0h0M58.8 257.2h0M46.5 243.8h0M85.9 254.6h0M85.2 240.6h0M100.9 237.5h0M79.2 252.3h0M113.3 242.2h0M81.8 246.6h0M63.2 248.8h0M71.9 265.4h0M114.6 228.0h0M93.1 251.6h0M67.5 226.7h0M59.2 230.5h0M112.1 233.6h0M105.0 226.6h0M60.8 234.0h0M93.8 225.3h0M73.4 229.8h0M63.4 261.5h0M83.6 259.8h0M58.5 242.4h0M61.8 241.4h0M68.2 225.9h0M87.3 227.2h0M48.2 251.0h0M110.5 242.2h0M60.6 250.9h0M80.2 258.2h0M70.8 227.3h0M65.3 224.8h0M86.3 256.1h0M68.2 244.0h0M74.0 256.5h0M60.5 252.4h0M68.2 225.4h0M51.1 253.2h0M90.8 261.8h0M88.0 256.7h0M64.4 243.2h0M72.4 234.7h0M83.8 225.5h0M88.2 231.8h0M56.1 229.1h0M80.6 262.0h0M66.0 256.8h0M52.4 241.1h0M95.0 248.2h0M101.9 232.2h0M72.1 236.5h0M82.9 249.2h0M63.1 247.1h0M55.2 220.0h0M66.6 244.1h0M49.2 250.7h0M46.9 239.3h0M88.8 253.6h0M76.6 256.3h0M79.1 241.1h0M109.2 234.2h0M66.9 229.7h0M93.2 251.3h0M74.5 265.0h0M90.8 241.6h0M49.5 246.5h0M63.1 263.4h0M60.0 245.6h0M63.3 263.7h0M105.1 234.0h0M62.6 240.0h0M56.8 232.0h0M80.9 248.5h0M91.2 229.6h0M57.5 221.4h0M80.6 253.8h0M95.5 230.2h0M108.8 238.9h0M77.8 221.6h0M98.7 231.4h0M98.6 228.2h0M50.5 251.3h0M68.4 238.6h0M68.5 240.1h0M95.3 239.6h0M84.1 232.9h0M65.8 238.2h0M108.4 241.3h0M71.5 223.5h0M65.5 259.0h0M101.7 229.3h0M80.9 236.6h0M102.5 227.9h0M83.8 239.0h0M98.0 228.5h0M71.6 225.4h0M50.1 250.7h0M93.0 220.7h0M94.2 255.0h0M82.8 249.6h0M58.2 233.2h0M86.1 234.9h0M66.2 260.4h0M58.3 247.5h0M58.0 249.4h0M73.8 260.6h0M61.7 240.1h0M110.9 240.6h0M67.1 236.3h0M66.3 241.4h0M110.5 236.5h0M57.5 227.5h0M91.9 260.0h0M69.8 264.8h0M96.7 252.9h0M69.1 243.8h0M84.0 232.9h0M77.3 242.4h0M63.1 238.1h0M81.6 255.0h0M68.7 224.5h0M60.8 228.4h0M94.9 223.9h0M92.7 247.9h0M80.6 228.1h0M99.1 256.6h0M88.6 222.9h0M74.3 239.9h0M69.1 239.2h0M52.7 227.8h0M61.0 232.6h0M92.1 259.0h0M54.3 231.8h0M105.9 243.5h0M88.9 229.3h0M76.9 260.2h0M66.2 233.5h0M59.7 239.5h0M90.8 239.5h0M65.7 241.6h0M69.7 262.2h0M92.1 247.0h0M51.5 256.3h0M63.6 249.8h0M99.7 256.1h0M94.7 242.5h0M77.9 234.8h0M103.3 250.5h0M65.9 250.5h0M77.7 253.4h0M60.6 264.7h0M91.3 258.0h0M87.2 235.6h0M68.7 245.8h0M94.7 249.1h0M50.0 247.8h0M53.5 248.8h0M98.6 237.4h0M77.9 242.5h0M54.4 257.3h0M60.9 260.8h0M88.9 235.5h0M97.5 252.7h0M45.8 243.2h0M73.9 226.0h0M87.3 262.4h0M104.0 222.2h0M104.9 231.2h0M63.7 223.6h0M80.7 244.8h0M85.4 227.1h0M96.1 258.1h0M104.3 242.7h0M100.4 257.1h0M67.1 247.4h0M94.2 259.9h0M64.4 246.7h0M70.6 232.1h0M110.3 245.4h0M76.7 243.6h0M67.9 227.8h0M67.8 257.7h0M59.2 242.6h0M99.7 236.7h0M108.0 238.5h0M72.6 222.9h0M82.6 237.4h0M74.2 251.0h0M67.4 260.3h0M63.1 229.7h0M92.5 245.0h0M101.4 245.2h0M61.9 263.3h0M65.2 265.7h0M73.0 265.5h0M78.1 249.0h0M62.2 266.9h0M64.3 230.3h0M64.7 223.7h0M59.0 251.1h0M74.1 241.7h0M89.3 236.0h0M61.6 229.0h0M110.3 238.2h0M63.7 256.9h0M94.4 234.7h0M67.1 235.9h0M66.6 258.2h0M47.8 250.7h0M60.0 263.2h0M63.2 258.6h0M56.7 244.7h0M67.0 222.4h0M55.2 236.7h0M71.6 260.0h0M68.1 239.0h0M65.1 255.5h0M69.3 227.6h0M96.1 257.5h0M92.9 249.1h0M71.8 234.9h0M61.2 263.5h0M67.4 223.5h0M84.7 230.7h0M48.9 242.3h0M106.0 225.5h0M86.6 231.5h0M100.9 244.6h0M50.5 230.3h0M108.9 246.4h0M96.9 241.5h0M50.9 249.9h0M79.4 225.3h0M83.7 248.5h0M91.5 229.1h0M84.2 251.7h0M79.8 225.9h0M56.0 233.0h0M78.1 230.5h0M89.7 246.4h0M48.8 253.0h0M71.5 246.5h0M54.9 231.9h0M86.2 234.9h0M82.3 245.5h0M72.1 226.7h0M97.9 230.1h0M72.4 262.0h0M98.6 245.9h0M110.3 239.1h0M87.1 259.6h0M93.2 243.7h0M75.0 236.2h0M80.2 250.4h0M71.6 258.5h0M86.1 257.1h0M96.3 242.8h0M61.6 231.7h0M70.6 229.8h0M98.8 221.5h0M77.0 236.1h0M54.1 222.8h0M113.2 241.4h0M112.0 233.4h0M100.7 224.8h0M56.9 220.3h0M59.5 235.0h0M78.8 260.0h0M64.0 233.6h0M50.4 246.7h0M57.8 256.0h0M105.4 253.4h0M57.7 246.8h0M99.5 240.3h0M52.5 255.2h0M102.1 226.9h0M82.1 248.9h0M56.5 225.8h0M66.2 263.1h0M97.8 229.2h0M105.6 241.8h0M80.0 254.5h0M93.1 221.9h0M109.1 245.6h0M65.7 227.6h0M51.7 245.4h0M88.8 251.5h0M111.1 244.6h0M68.3 250.1h0M52.8 235.5h0M78.6 232.6h0M69.0 237.2h0M82.6 225.0h0M63.8 230.2h0M72.1 228.7h0M100.3 222.4h0M99.1 224.9h0M69.4 249.9h0M63.6 263.6h0M111.9 237.7h0M54.7 235.9h0M78.7 262.1h0M99.1 237.3h0M112.2 247.6h0M47.2 240.3h0M79.0 235.4h0M90.0 231.5h0M98.6 239.8h0M58.3 237.3h0M61.0 246.2h0M70.9 263.2h0M87.3 243.3h0M56.4 252.9h0M89.7 229.9h0M63.4 224.7h0M86.5 229.8h0M97.2 221.2h0M101.6 249.4h0M68.1 234.4h0M75.1 263.3h0M81.4 228.5h0M73.9 231.7h0M75.1 253.4h0M63.7 263.5h0M81.5 250.1h0M74.8 251.1h0M100.3 236.6h0M92.2 256.2h0M82.7 249.0h0M58.7 222.0h0M86.3 249.6h0M59.1 232.1h0M84.4 221.5h0M61.6 268.6h0M90.2 258.1h0M93.1 249.3h0M77.0 232.4h0M100.9 242.8h0M48.0 253.2h0M80.7 223.0h0M110.1 232.9h0M82.2 233.7h0M97.7 227.6h0M85.0 228.2h0M84.8 247.4h0M75.7 248.9h0M55.4 249.3h0M74.1 225.4h0M88.2 244.8h0M91.9 259.5h0M96.4 223.3h0" stroke="#f4a0a0" stroke-width="1.0" stroke-linecap="round" stroke-opacity="0.7" fill="none"/>
<path d="M40.0 233.2h0M25.1 230.2h0M41.9 234.5h0M49.9 228.6h0M34.3 236.5h0M27.3 224.7h0M12.7 239.3h0M51.0 219.5h0M35.4 246.4h0M20.1 236.5h0M38.4 232.5h0M31.9 246.3h0M19.3 238.6h0M38.2 235.4h0M23.0 227.8h0M39.2 223.9h0M19.9 238.5h0M44.1 228.7h0M14.5 237.3h0M50.8 223.3h0M27.3 230.4h0M49.8 224.2h0M42.2 233.9h0M25.8 240.1h0M45.3 229.1h0M24.7 226.1h0M23.6 224.9h0M22.8 235.9h0M32.3 241.2h0M36.7 244.8h0M45.5 222.4h0M26.7 232.3h0M40.4 233.1h0M46.1 221.4h0M33.2 227.6h0M23.3 238.2h0M21.4 233.2h0M11.3 241.8h0M41.1 235.5h0M17.1 241.3h0M48.7 229.1h0M25.7 240.3h0M25.5 230.7h0M36.8 245.5h0M33.8 237.9h0M48.7 231.9h0M23.2 238.7h0M34.4 232.9h0M33.8 231.5h0M42.7 232.1h0M27.3 232.4h0M22.3 227.5h0M39.1 229.5h0M44.1 228.9h0M46.3 239.3h0M35.8 241.1h0M21.9 235.4h0M16.1 237.8h0M28.0 228.9h0M35.8 232.3h0M34.4 237.2h0M39.5 239.9h0M32.0 229.9h0M29.9 232.0h0M46.9 231.0h0M35.8 225.7h0M37.0 243.0h0M39.5 245.0h0M39.8 228.6h0M21.0 236.0h0M15.1 241.7h0M28.0 231.2h0M31.9 243.2h0M47.4 223.6h0M17.1 237.2h0M22.8 230.6h0M16.6 233.2h0M24.3 229.0h0M14.7 237.5h0M32.8 223.3h0M35.9 234.3h0M26.9 228.8h0M37.2 224.1h0M37.6 224.7h0M46.6 237.1h0M41.8 222.9h0M31.4 237.4h0M30.7 233.2h0M17.8 231.7h0M18.3 241.2h0M25.5 233.0h0M27.5 228.2h0M38.4 222.8h0M19.4 234.7h0M39.4 245.4h0M19.0 236.3h0M11.9 242.2h0M48.2 230.2h0M23.5 237.6h0M37.2 238.1h0M27.8 231.7h0M33.1 229.5h0M50.4 220.6h0M19.3 241.3h0M35.0 224.5h0M51.2 225.1h0M38.8 234.9h0M15.5 234.4h0M53.2 223.8h0M45.4 238.7h0M25.6 233.8h0M16.5 231.2h0M16.0 237.7h0M31.9 234.1h0M32.3 243.2h0M33.9 240.7h0M14.7 241.8h0M21.2 227.5h0M17.9 241.1h0M31.2 244.8h0M48.7 224.3h0M39.8 246.4h0M31.2 248.4h0M27.0 227.1h0M31.1 236.3h0M26.8 231.2h0M22.3 226.0h0M46.0 235.5h0M31.8 233.2h0M39.6 222.6h0M38.2 231.3h0M40.7 228.0h0M42.4 241.3h0M34.0 235.0h0M32.0 236.9h0M45.0 241.4h0M25.1 226.8h0" stroke="#6cc4a0" stroke-width="1.0" stroke-linecap="round" stroke-opacity="0.7" fill="none"/>
<path d="M16.9 253.3h0M21.5 258.0h0M13.9 276.1h0M14.2 251.2h0M30.9 249.0h0M9.9 252.2h0M29.2 240.2h0M29.5 253.9h0M26.7 251.4h0M4.5 256.9h0M8.4 257.1h0M14.4 272.5h0M17.4 255.5h0M13.9 273.1h0M5.7 255.8h0M4.5 249.7h0M25.7 259.8h0M28.7 259.7h0M22.7 244.5h0M29.7 241.5h0M24.9 260.3h0M5.8 255.2h0M6.9 260.6h0M10.0 254.5h0M16.4 247.0h0M17.1 254.6h0M6.8 281.5h0M20.4 244.3h0M22.3 254.1h0M20.8 244.5h0M21.3 265.3h0M5.6 272.7h0M15.5 269.9h0M13.3 244.2h0M21.0 253.5h0M24.3 247.3h0M19.5 256.0h0M11.7 245.9h0M29.4 245.1h0M13.3 265.0h0M9.5 249.1h0M16.0 270.3h0M8.0 277.9h0M18.0 270.2h0M28.2 264.7h0M9.3 256.2h0M23.7 246.5h0M15.4 267.9h0M11.8 253.7h0M20.2 264.4h0M19.4 265.6h0M16.0 245.9h0M5.5 280.5h0M21.5 248.9h0M6.0 256.5h0M27.7 254.5h0M24.8 258.4h0M9.0 280.6h0M11.8 276.6h0M12.7 243.7h0M6.3 257.0h0M14.4 254.1h0M22.2 267.3h0M26.8 259.5h0M27.6 261.5h0M6.3 279.0h0M27.0 247.2h0M4.7 276.5h0M26.1 249.9h0M10.4 245.6h0M27.0 253.7h0M16.7 266.3h0M10.1 248.4h0M27.0 247.2h0M4.3 249.7h0M25.1 244.6h0M11.9 276.9h0M9.5 267.3h0M10.0 277.5h0M27.0 267.1h0M8.7 248.9h0M19.1 242.4h0M11.1 262.3h0M6.7 271.4h0M15.9 246.6h0M24.9 265.1h0M23.0 254.4h0M6.3 255.1h0M15.1 269.9h0M13.6 274.0h0M25.0 256.8h0M6.6 276.2h0M29.0 253.8h0M29.2 263.8h0M25.2 254.9h0M19.7 251.9h0M18.7 243.7h0M9.4 250.0h0M12.1 251.7h0M19.4 244.6h0M13.7 247.1h0M23.4 251.9h0M7.1 252.5h0M4.2 278.2h0M20.8 269.8h0M4.5 274.0h0M5.8 273.9h0M12.1 268.1h0M8.3 263.8h0M14.0 245.4h0M8.0 262.6h0M21.7 247.3h0M22.4 254.2h0M22.5 241.3h0M17.1 257.1h0M15.1 261.2h0M6.3 262.9h0M10.1 246.8h0M11.6 245.4h0M28.6 251.2h0M22.6 263.5h0M11.4 272.4h0M6.4 262.1h0M17.1 260.2h0M23.5 247.3h0M18.9 252.9h0M13.7 274.1h0M16.2 268.2h0M7.2 259.7h0M11.4 273.0h0M23.3 245.3h0M17.8 268.8h0M12.1 259.4h0M10.5 255.9h0M16.2 249.2h0M25.5 252.8h0M18.8 266.0h0M16.7 265.0h0M22.8 264.5h0M11.3 257.0h0M29.5 241.3h0M9.8 279.5h0M29.3 254.5h0M7.4 258.9h0M25.7 249.3h0M21.8 261.6h0M14.4 244.2h0M11.3 257.6h0M7.7 261.5h0M11.5 244.6h0M24.2 244.0h0M28.2 257.7h0M17.8 246.0h0M23.5 253.8h0M7.0 248.1h0M9.3 269.4h0M25.2 251.9h0M13.0 249.5h0M11.8 273.6h0M9.7 282.0h0M8.0 253.3h0M21.7 254.4h0M13.2 273.7h0M7.2 269.7h0M22.3 242.6h0M17.4 250.2h0M14.3 270.9h0M10.2 245.0h0M16.6 255.4h0M10.1 246.5h0M16.7 252.5h0M11.0 265.1h0M8.2 252.3h0M4.1 266.4h0M13.8 252.2h0M22.2 258.3h0M12.9 278.2h0M19.6 263.7h0M16.9 242.8h0M5.2 267.1h0M21.4 266.6h0M17.3 272.0h0M22.3 263.0h0M21.7 254.2h0M21.5 249.2h0M16.5 271.5h0M10.0 268.3h0M6.6 255.8h0M8.4 247.4h0M8.3 275.4h0M25.1 254.2h0M8.8 273.7h0M10.3 259.7h0M24.6 244.8h0M10.9 278.9h0" stroke="#5cb4ea" stroke-width="1.0" stroke-linecap="round" stroke-opacity="0.7" fill="none"/>
<path d="M86.7 290.7h0M95.5 291.1h0M72.7 285.7h0M66.9 276.6h0M114.4 265.6h0M101.2 273.0h0M106.4 290.1h0M73.0 287.5h0M85.3 289.9h0M83.5 288.4h0M102.6 272.1h0M110.6 271.9h0M114.7 282.4h0M74.4 301.5h0M76.4 266.3h0M108.4 289.6h0M69.0 272.1h0M111.6 273.1h0M67.6 277.1h0M97.9 283.7h0M112.7 289.2h0M100.8 257.1h0M73.3 290.1h0M108.9 277.0h0M75.7 279.8h0M83.8 286.0h0M76.5 290.2h0M73.3 284.5h0M75.8 275.3h0M92.2 282.5h0M115.2 264.9h0M93.8 273.4h0M76.8 295.2h0M92.0 263.3h0M88.4 267.6h0M84.8 283.7h0M76.7 289.1h0M111.8 256.9h0M80.5 303.3h0M109.9 263.0h0M107.2 279.2h0M91.7 288.5h0M85.9 287.2h0M101.9 296.4h0M65.9 283.1h0M92.7 281.7h0M81.5 303.8h0M84.5 280.3h0M103.6 272.4h0M99.1 288.8h0M112.2 281.2h0M71.1 300.6h0M90.0 291.1h0M81.6 265.8h0M82.3 282.8h0M97.6 280.6h0M80.2 292.5h0M109.4 271.7h0M103.5 291.6h0M95.3 277.7h0M79.2 298.2h0M111.2 274.0h0M90.3 274.4h0M102.2 283.1h0M88.7 271.3h0M106.7 299.9h0M66.8 278.8h0M97.4 278.1h0M110.4 290.0h0M109.4 297.1h0M79.7 268.7h0M91.0 285.3h0M101.8 286.0h0M111.0 284.2h0M104.4 300.2h0M105.8 266.9h0M106.3 263.1h0M87.6 289.8h0M101.5 275.4h0M94.3 275.9h0M87.3 269.7h0M90.6 272.3h0M97.6 283.5h0M106.9 289.8h0M89.7 278.4h0M69.3 284.2h0M96.4 285.8h0M67.5 279.1h0M96.9 296.1h0M89.8 290.5h0M112.7 271.0h0M85.8 286.4h0M69.7 293.0h0M81.9 283.1h0M91.9 302.9h0M73.1 269.4h0M81.9 293.8h0M96.2 286.2h0M113.7 262.9h0M71.4 282.9h0M66.7 274.5h0M72.8 276.2h0M95.9 270.0h0M104.9 273.5h0M96.0 264.3h0M96.8 285.6h0M84.4 295.4h0M88.0 266.4h0M72.3 290.1h0M105.4 297.1h0M87.1 282.1h0M87.8 289.3h0M77.5 302.7h0M87.2 289.3h0M90.4 268.6h0M84.8 294.5h0M95.0 266.5h0M92.5 295.6h0M98.2 265.2h0M106.7 253.4h0M111.4 264.9h0M109.6 263.6h0M114.1 287.5h0M89.6 278.7h0M72.8 297.8h0M95.3 281.2h0M87.3 279.8h0M95.3 271.4h0M70.1 282.6h0M89.8 296.4h0M71.1 286.8h0M105.7 281.9h0M93.6 266.0h0M114.2 264.6h0M86.1 280.4h0M97.0 265.8h0M110.5 278.9h0M65.1 286.2h0M112.3 256.8h0M111.6 271.6h0M96.3 262.6h0M77.1 270.2h0M77.7 301.5h0M71.0 290.0h0M76.3 299.0h0M69.3 295.4h0M109.0 258.2h0M104.4 257.7h0M97.3 280.2h0M114.2 287.8h0M67.3 273.4h0M115.6 271.2h0M80.7 279.9h0M71.0 269.6h0M109.0 285.5h0M95.3 268.3h0M107.1 253.2h0M99.0 274.4h0M83.4 286.6h0M104.1 284.6h0M76.0 299.0h0M92.8 269.3h0M78.1 295.3h0M110.2 290.7h0M111.6 284.0h0M105.7 259.5h0M93.4 263.7h0M69.1 284.5h0M96.8 279.7h0M95.1 288.8h0M94.8 266.6h0M103.0 294.0h0M90.6 280.7h0M91.1 301.8h0M108.8 285.2h0M84.5 283.9h0M82.2 297.7h0M70.7 269.8h0M84.9 279.3h0M103.2 261.4h0M102.3 285.4h0M98.4 299.1h0M114.9 272.2h0M87.1 274.0h0M66.6 274.5h0M78.4 300.6h0M97.5 268.7h0M105.4 271.8h0M95.2 278.5h0M105.1 276.5h0M78.7 267.9h0M100.5 273.9h0M63.3 276.0h0M67.2 292.6h0M82.2 286.3h0M100.1 259.2h0M114.7 261.4h0M85.7 282.2h0M76.7 284.9h0M96.5 300.0h0M108.5 290.1h0M70.3 272.2h0M90.8 275.7h0M99.5 264.0h0M98.0 272.8h0M111.5 294.6h0M115.2 289.8h0M75.2 272.5h0M75.6 285.5h0M79.6 265.2h0M111.5 249.4h0M116.0 273.9h0M97.4 276.9h0M82.8 269.4h0M65.2 275.7h0M108.6 257.9h0M108.1 263.3h0M100.3 292.1h0M107.9 276.4h0M96.5 287.2h0M114.3 288.4h0M73.7 274.5h0M78.6 282.1h0M64.8 283.8h0M99.9 277.9h0M104.2 261.1h0M90.6 278.7h0M69.9 284.9h0M65.7 274.8h0M80.5 290.8h0M92.1 272.0h0M74.8 274.3h0M80.9 301.8h0M82.3 301.8h0M66.8 286.6h0M83.9 274.1h0M81.7 303.8h0M106.8 257.6h0M81.0 299.2h0M87.8 301.9h0M88.4 282.5h0M104.8 286.3h0M87.8 289.3h0M68.3 281.2h0M74.1 294.4h0M89.5 276.7h0M96.4 294.5h0M101.4 288.5h0M102.8 255.5h0M66.2 271.2h0M97.7 269.1h0M92.7 285.3h0M65.1 271.3h0M82.6 296.3h0M86.2 281.8h0M110.7 286.1h0M100.1 285.3h0M98.1 278.7h0M75.1 301.6h0M71.5 294.8h0M104.8 267.6h0M84.8 278.8h0M72.1 272.4h0M85.5 272.0h0M86.4 281.5h0M83.8 268.6h0M71.9 275.9h0M111.4 278.4h0M78.7 282.6h0M108.2 277.8h0M105.4 278.3h0M92.6 293.1h0M80.7 274.9h0M61.8 270.3h0M113.6 262.9h0M108.4 253.8h0M85.3 303.1h0M106.9 273.1h0M98.8 285.5h0M113.8 265.2h0M86.8 270.5h0M96.8 288.8h0M88.0 290.4h0M67.0 284.5h0M71.1 288.0h0M96.7 264.8h0M70.4 279.7h0M83.5 297.4h0M103.3 262.4h0M83.4 300.7h0M67.7 292.6h0M98.8 283.2h0M96.4 280.7h0M100.7 262.0h0M97.9 270.0h0M105.7 255.7h0M73.0 279.7h0M105.3 276.4h0M107.5 291.6h0M110.4 270.6h0M84.6 280.5h0M100.8 283.4h0M106.8 255.0h0M110.0 277.1h0M91.5 296.1h0M84.6 298.7h0M106.1 278.4h0M69.8 274.6h0M80.7 302.4h0M104.8 267.3h0M98.8 293.4h0M102.7 267.9h0M78.7 275.6h0M75.4 293.9h0M112.8 269.3h0M82.5 298.4h0M104.1 261.0h0M82.6 291.3h0M100.4 273.7h0M87.1 263.8h0M64.0 274.7h0M85.3 272.4h0M115.8 268.3h0M99.1 281.9h0M93.8 269.1h0M112.8 272.9h0M110.8 263.0h0M77.5 277.3h0M110.9 273.9h0M82.3 284.9h0M81.9 277.8h0M80.9 301.1h0M108.8 277.6h0M106.7 280.2h0M74.9 273.9h0M102.0 288.5h0M103.6 301.1h0M110.6 263.7h0M91.9 287.0h0M74.3 290.8h0M78.3 283.3h0M86.2 278.0h0M83.1 285.5h0M114.5 280.8h0M102.3 282.9h0M76.3 291.9h0M103.1 277.5h0M102.1 263.2h0M103.9 296.2h0M73.1 293.7h0M96.6 293.6h0M81.9 294.1h0M87.5 300.6h0M101.4 260.2h0M98.6 272.9h0M70.3 296.6h0M106.3 262.8h0M109.7 279.0h0M85.2 292.1h0M112.0 275.6h0M72.2 282.4h0M113.4 263.2h0M111.3 279.0h0M105.8 255.2h0M98.6 271.2h0M113.9 287.4h0M114.0 277.5h0M81.3 290.4h0M74.3 266.1h0M100.6 267.0h0M101.2 292.1h0M86.6 282.8h0M100.8 280.0h0M97.4 266.5h0M72.8 279.6h0M103.2 280.2h0M91.2 282.0h0M101.9 292.8h0M112.1 249.8h0M93.2 286.8h0M87.9 294.0h0M87.7 291.6h0M81.0 287.4h0M75.9 271.3h0M87.5 300.6h0M63.4 271.6h0M102.5 269.1h0M115.7 283.0h0M98.8 272.1h0M114.2 253.4h0M106.2 273.5h0M104.5 268.2h0M83.2 276.3h0M110.7 271.3h0M87.9 272.0h0M110.1 287.4h0M63.2 277.9h0M73.9 293.0h0M104.6 281.6h0M63.8 277.9h0M81.8 300.3h0M95.2 289.0h0M94.6 289.4h0M110.5 256.1h0M79.5 288.3h0M84.8 287.5h0M95.7 292.8h0M108.1 256.4h0M95.7 291.9h0M111.2 295.2h0M83.9 272.9h0M70.9 286.1h0M101.5 299.3h0M116.3 272.8h0M86.3 283.0h0M73.4 282.7h0M78.5 281.1h0M112.1 282.1h0M76.2 296.9h0M103.2 290.0h0M92.4 277.3h0M80.2 272.9h0M72.1 279.6h0M86.2 274.6h0M94.9 298.1h0M109.8 288.3h0M78.8 293.6h0M80.1 292.1h0M102.5 284.2h0M95.4 288.8h0M65.2 269.1h0M98.3 298.4h0M109.2 295.6h0M76.6 266.4h0M99.6 282.3h0M87.6 280.7h0M101.3 279.2h0M90.4 281.8h0M102.0 276.4h0M91.5 276.6h0" stroke="#d4d440" stroke-width="1.0" stroke-linecap="round" stroke-opacity="0.7" fill="none"/>
<path d="M114.2 271.5h0M73.7 285.5h0M97.8 300.8h0M104.8 300.3h0M94.4 292.6h0M96.3 285.2h0M72.8 302.1h0M91.3 267.0h0M70.5 271.4h0M84.2 290.3h0M107.2 295.0h0M84.4 282.7h0M77.8 279.0h0M82.9 268.6h0M100.3 262.2h0M76.8 292.5h0M109.3 288.5h0M94.2 262.1h0M67.6 282.6h0M99.3 260.6h0M78.8 289.3h0M77.6 285.4h0M104.7 269.2h0M78.2 300.3h0M94.8 274.0h0M103.2 286.3h0M110.2 260.6h0M93.3 276.6h0M107.0 290.2h0M102.2 280.6h0M80.4 292.6h0M75.0 269.9h0M89.4 278.8h0M99.4 286.7h0M76.2 288.0h0M71.9 281.2h0M70.0 283.4h0M96.6 285.4h0M77.1 273.3h0M80.3 301.4h0M95.3 283.9h0M80.2 267.5h0M77.0 270.4h0M96.2 260.1h0M84.7 277.2h0M113.0 272.3h0M111.4 271.1h0M96.2 291.0h0M109.5 271.5h0M78.8 298.6h0M73.1 295.4h0M84.8 297.6h0M101.4 289.9h0M99.8 286.1h0M109.0 251.1h0M72.5 284.0h0M74.0 301.3h0M106.9 299.4h0M93.0 300.7h0M114.5 268.1h0M83.4 272.4h0M71.3 285.7h0M94.7 291.3h0M110.6 285.6h0M110.9 257.7h0M105.6 300.3h0M67.2 289.3h0M73.9 278.5h0M97.0 286.4h0M65.0 285.0h0M100.9 276.1h0M83.6 284.4h0M99.7 301.2h0M100.0 273.4h0M104.8 256.6h0M86.7 276.7h0M98.0 269.7h0M66.9 292.6h0M111.5 261.3h0M91.2 267.6h0M89.4 291.9h0M112.6 265.1h0M73.5 299.5h0M64.9 278.0h0M89.3 266.6h0M93.9 270.1h0M100.3 267.2h0M68.2 273.6h0M86.1 297.5h0M64.5 270.4h0M113.1 275.7h0M86.3 267.3h0M108.5 259.9h0M108.5 274.8h0M95.6 272.5h0M99.2 267.3h0M81.4 285.7h0M107.7 270.0h0M66.7 289.5h0M108.8 273.2h0M104.3 296.4h0M111.8 282.5h0M103.9 273.7h0M76.2 276.6h0M102.4 300.0h0M111.6 275.8h0M105.5 287.0h0M112.8 255.7h0M85.8 281.7h0M108.5 293.4h0M113.2 261.9h0M85.3 276.1h0M80.4 276.3h0M94.2 281.8h0M73.5 283.3h0M111.2 258.4h0M106.2 271.0h0M77.2 302.0h0M69.8 276.0h0M72.2 284.5h0M76.3 288.8h0M90.3 267.1h0M76.8 293.1h0M115.5 281.1h0M98.7 296.9h0M102.6 276.4h0M79.1 270.5h0M80.0 299.0h0M77.2 296.9h0M82.2 266.9h0M102.0 298.3h0M73.2 302.2h0M76.1 295.7h0M75.3 265.9h0M106.4 275.8h0M86.9 286.8h0M79.2 266.9h0M83.6 284.4h0M109.7 292.4h0M113.7 249.6h0M73.8 288.8h0M103.8 281.5h0M79.2 298.1h0M72.5 292.2h0M96.6 280.3h0M93.6 285.4h0M81.5 265.1h0M84.9 285.8h0M91.3 293.8h0M67.4 289.6h0M91.7 302.7h0M109.8 290.0h0M84.1 287.5h0M77.2 273.6h0M68.5 292.9h0M97.5 288.2h0M72.0 284.1h0M101.4 266.8h0M101.9 261.6h0M76.0 267.3h0M96.5 299.3h0M63.5 271.0h0M96.6 275.8h0M115.1 260.2h0M99.5 276.3h0M92.1 281.8h0M79.3 292.4h0M91.9 281.0h0M111.5 264.8h0M98.0 293.2h0M77.6 296.7h0M73.6 285.1h0M73.4 287.5h0M83.5 292.3h0M90.5 284.1h0M74.5 300.2h0M70.8 289.2h0M78.9 277.3h0M99.3 276.3h0M77.3 282.5h0M88.6 277.8h0M83.4 280.4h0M88.0 263.3h0M64.7 282.7h0M110.6 290.3h0M109.2 270.8h0M98.1 289.8h0M103.2 259.4h0M89.8 283.9h0M70.7 291.0h0M89.9 274.5h0M95.1 281.0h0M73.3 275.4h0M68.7 297.9h0M104.5 270.4h0M73.1 283.0h0M95.4 282.5h0M83.1 288.9h0M100.7 268.6h0M68.7 294.8h0M109.3 295.8h0M64.1 271.2h0M111.6 272.9h0M75.4 289.5h0M114.4 280.9h0M86.0 300.4h0M78.7 289.3h0M111.3 254.4h0M80.9 275.6h0M77.8 293.7h0M99.8 296.2h0M90.6 270.9h0M109.4 288.8h0M66.5 270.7h0M99.3 294.5h0M101.8 260.6h0M101.3 293.6h0M105.3 289.2h0M109.0 256.5h0M115.2 278.5h0M75.5 299.8h0M74.7 289.4h0M85.5 272.2h0M88.9 284.4h0M103.4 274.2h0M79.9 270.5h0M67.3 280.4h0M107.2 256.1h0M72.0 294.1h0M67.9 273.8h0M83.1 287.3h0M84.0 290.6h0M108.4 296.4h0M110.6 282.4h0M90.2 291.7h0M85.7 275.3h0M81.6 296.6h0M70.2 275.8h0M87.5 266.9h0M112.3 269.3h0M78.3 302.0h0M110.2 278.9h0M91.0 297.8h0M101.6 260.8h0M101.5 257.8h0M70.8 293.6h0M77.5 283.3h0M87.4 269.0h0M101.1 291.7h0M112.7 247.5h0M68.6 270.2h0M103.3 273.6h0M79.7 293.5h0M101.8 269.3h0M81.6 273.9h0M103.3 286.2h0M105.0 266.3h0M97.8 277.8h0M112.8 268.0h0M95.8 286.7h0M70.4 273.5h0M115.6 284.9h0M99.0 272.6h0M88.2 290.1h0M78.8 268.9h0M109.3 256.8h0M104.9 278.2h0M104.2 260.8h0M90.3 285.9h0M93.1 284.9h0M97.0 301.0h0M101.0 292.3h0M73.0 272.3h0M84.2 288.0h0M113.7 263.2h0M101.4 289.3h0M83.8 285.2h0M92.8 291.4h0M66.8 285.1h0M110.7 296.8h0M110.6 298.5h0M93.9 274.6h0M104.5 256.9h0M95.8 295.2h0M96.3 302.4h0M82.9 277.5h0M106.6 287.1h0M89.8 271.0h0M83.4 266.7h0M93.7 281.2h0M100.0 284.0h0M94.6 284.7h0M74.4 278.9h0M83.1 288.2h0M78.4 268.3h0M78.5 293.2h0M67.8 292.9h0M98.1 278.3h0M70.0 272.2h0M68.2 287.6h0M108.5 274.1h0M112.9 256.0h0M69.3 288.6h0M67.2 282.3h0M95.5 261.2h0M112.2 259.7h0M96.0 268.0h0M108.0 277.8h0M77.1 267.1h0M113.7 268.8h0M79.0 287.8h0M87.8 277.3h0M93.0 289.3h0M102.5 287.5h0M113.6 287.8h0M70.0 292.9h0M102.1 258.2h0M106.3 276.7h0M110.5 296.4h0M94.9 297.5h0M99.0 290.4h0M97.3 282.9h0M72.3 287.7h0M75.5 298.2h0M83.0 289.1h0M78.0 280.4h0M87.9 302.0h0M96.8 260.6h0M75.5 274.1h0M90.8 263.7h0M107.4 259.8h0M114.3 279.1h0M89.5 290.8h0M65.4 280.2h0M80.5 298.9h0M107.3 271.3h0M71.4 275.9h0M100.6 301.8h0M85.3 291.7h0M85.4 280.0h0M100.9 289.4h0M112.6 268.9h0M81.8 301.8h0M82.0 302.2h0M100.2 287.4h0M79.3 300.5h0M99.7 277.6h0M98.6 271.0h0M97.7 282.4h0M67.5 287.2h0M83.7 303.3h0M93.3 271.6h0M71.3 298.1h0M100.6 298.2h0M74.8 276.4h0M102.3 282.4h0M64.8 278.7h0M80.0 273.7h0M68.7 269.9h0M107.6 252.9h0M80.0 296.4h0M106.0 273.1h0M115.7 277.0h0M105.5 258.7h0M67.4 270.9h0M93.4 297.1h0M85.0 280.5h0M65.2 272.6h0M99.6 278.1h0M92.9 263.6h0M92.1 292.8h0M87.4 298.8h0M75.1 271.5h0M102.7 267.6h0M111.5 252.1h0M100.1 276.3h0M97.7 288.5h0M80.5 288.7h0M104.2 278.9h0M104.6 298.9h0M95.6 300.5h0M107.6 276.2h0M86.0 301.7h0M95.0 297.3h0M73.0 282.0h0M98.9 290.7h0M97.7 262.8h0M111.1 273.5h0M111.7 279.6h0M102.3 299.1h0M67.0 270.9h0M104.5 279.8h0M80.8 294.0h0M67.3 268.6h0M114.8 266.8h0M68.5 271.6h0M103.5 280.4h0M67.0 286.8h0M94.8 299.4h0M91.9 288.1h0M78.5 281.9h0M110.7 266.3h0M98.3 299.5h0M91.5 284.7h0M88.7 273.2h0M107.7 278.3h0M81.0 275.6h0M93.6 297.0h0M104.4 271.8h0M87.0 277.2h0M81.7 272.4h0M73.9 293.4h0M68.8 273.0h0M77.7 302.9h0M100.0 301.0h0M107.4 263.9h0M95.9 299.0h0M110.6 291.6h0M76.4 281.4h0M75.5 300.1h0M113.6 265.3h0M86.2 297.5h0M81.1 301.4h0M86.4 267.8h0M72.5 295.0h0M75.6 293.3h0M108.5 280.3h0M99.2 296.9h0M80.4 279.0h0M111.8 251.7h0M81.6 298.0h0M103.8 296.1h0M93.2 286.0h0M83.8 274.1h0M89.7 302.1h0M107.2 259.0h0M81.3 272.8h0M74.1 279.3h0M99.3 267.1h0M114.4 271.7h0M66.9 268.4h0M97.8 264.2h0M109.9 276.2h0M96.2 260.2h0M81.4 272.6h0M79.2 265.5h0M75.9 275.4h0M105.8 296.0h0M82.5 296.1h0M71.9 279.0h0M88.8 276.4h0M102.2 258.6h0M94.6 261.7h0M96.1 291.2h0M104.6 273.2h0M101.6 278.0h0M109.8 253.8h0M95.2 271.5h0M67.9 274.3h0M113.4 259.2h0M83.5 284.5h0M86.4 286.8h0M111.8 256.6h0M70.7 287.4h0" stroke="#b8b818" stroke-width="1.0" stroke-linecap="round" stroke-opacity="0.7" fill="none"/>
<path d="M44.3 220.2h0M50.6 228.2h0M24.6 225.1h0M16.3 241.1h0M35.8 228.6h0M39.3 225.5h0M36.1 231.6h0M18.3 234.5h0M47.5 232.0h0M26.0 228.6h0M32.8 244.8h0M40.0 231.6h0M34.0 243.0h0M39.4 231.7h0M17.0 238.5h0M16.4 237.6h0M38.3 242.6h0M46.8 230.2h0M13.3 239.0h0M46.8 220.9h0M44.6 224.5h0M21.9 236.1h0M19.7 239.0h0M30.8 230.5h0M44.8 232.3h0M19.9 229.5h0M50.3 226.2h0M10.9 242.6h0M36.3 246.8h0M39.7 238.4h0M24.8 228.8h0M36.5 226.7h0M43.9 229.4h0M51.8 226.5h0M29.5 236.1h0M33.3 247.5h0M48.4 222.1h0M29.2 236.5h0M36.7 244.3h0M26.7 226.7h0M25.5 236.8h0M52.7 223.7h0M36.8 244.7h0M35.0 232.0h0M30.9 224.7h0M22.6 233.1h0M45.6 226.1h0M26.2 226.1h0M23.6 231.1h0M44.2 235.7h0M39.0 224.8h0M25.3 232.9h0M25.4 225.7h0M34.3 242.5h0M32.9 239.1h0M25.7 236.2h0M45.8 239.0h0M39.3 239.7h0M34.2 228.0h0M23.1 233.1h0M43.7 230.7h0M15.2 240.4h0M33.7 244.2h0M30.4 234.0h0M34.3 226.1h0M26.2 231.1h0M37.3 244.1h0M34.1 234.2h0M36.9 223.4h0M27.2 226.7h0M35.0 241.9h0M37.0 240.4h0M26.5 237.4h0M33.8 223.2h0M20.0 233.4h0M21.0 238.5h0M30.4 229.4h0M45.2 240.8h0M40.2 230.2h0M32.6 234.0h0M47.6 232.4h0M46.3 225.0h0M22.8 231.9h0M34.8 239.8h0M22.7 227.7h0M33.7 235.3h0M46.6 230.4h0M28.6 226.4h0M49.4 226.8h0M41.7 237.4h0M17.7 240.4h0M19.4 231.0h0M46.1 236.3h0M43.4 232.4h0M42.9 229.5h0M12.8 242.0h0M47.6 230.8h0M38.9 243.0h0M42.7 242.4h0M27.2 232.4h0M28.7 234.1h0M51.3 227.1h0M16.2 238.9h0M43.0 229.3h0M51.5 221.2h0M44.8 228.9h0M31.4 231.0h0M48.1 223.1h0M13.7 238.2h0M32.8 247.1h0M45.2 241.7h0M47.4 224.9h0M46.5 230.0h0M27.1 232.8h0M31.1 230.8h0M19.0 241.3h0M23.9 229.0h0M33.3 244.4h0M32.5 242.3h0M45.5 239.7h0M29.2 236.2h0M17.2 232.2h0M46.5 229.6h0M29.8 224.9h0M42.0 234.7h0M23.7 228.7h0M41.5 221.9h0M14.7 240.5h0M22.3 233.2h0M33.4 234.2h0M26.8 235.5h0M39.5 229.4h0M36.9 230.0h0M50.8 227.0h0M35.5 225.2h0M19.8 234.2h0M34.9 239.9h0M37.7 223.4h0M34.1 233.2h0M48.5 232.3h0M32.0 246.2h0M25.4 234.0h0M26.3 225.6h0M21.2 234.3h0M30.8 235.3h0M46.2 226.1h0M35.4 226.5h0M27.3 230.1h0M19.6 232.6h0M22.4 238.9h0M39.3 237.5h0M34.0 241.2h0M37.7 223.7h0M31.9 248.3h0M20.1 230.6h0M15.2 236.6h0M44.8 232.3h0M32.3 240.2h0M26.4 240.3h0M36.6 238.2h0M38.0 231.3h0M31.5 237.9h0M49.0 220.1h0M49.5 222.3h0M31.3 233.9h0M33.7 227.2h0M20.9 231.3h0M46.2 223.6h0M15.6 232.8h0M41.6 239.6h0M47.4 220.0h0M15.9 241.1h0M47.0 223.0h0M28.3 231.9h0M27.7 229.7h0M25.5 234.3h0M26.5 226.5h0M45.4 219.9h0" stroke="#4cb488" stroke-width="1.0" stroke-linecap="round" stroke-opacity="0.7" fill="none"/>
<path d="M12.1 245.2h0M16.9 261.3h0M27.6 240.6h0M27.3 241.0h0M4.2 252.5h0M19.4 266.2h0M26.5 249.3h0M13.7 260.7h0M28.8 264.1h0M11.5 273.2h0M20.1 259.4h0M4.4 250.4h0M9.3 276.7h0M19.3 266.0h0M23.6 258.2h0M18.9 251.3h0M6.1 254.7h0M5.6 261.1h0M5.9 269.7h0M9.9 272.2h0M26.1 252.8h0M14.1 247.6h0M6.8 259.4h0M13.0 267.0h0M11.7 247.3h0M15.0 268.4h0M26.8 265.6h0M13.4 248.5h0M8.1 265.5h0M23.6 255.3h0M21.8 262.1h0M29.5 251.3h0M14.0 242.5h0M9.1 273.4h0M16.0 257.6h0M14.0 256.8h0M17.0 261.4h0M4.7 251.6h0M3.5 278.4h0M21.7 261.9h0M10.2 269.3h0M13.6 253.3h0M12.5 253.3h0M21.7 259.9h0M23.0 261.7h0M6.0 249.1h0M25.2 268.7h0M15.5 255.6h0M13.9 277.7h0M10.8 271.3h0M5.2 267.5h0M12.7 261.1h0M29.2 240.7h0M28.8 262.4h0M27.4 244.0h0M12.2 277.1h0M14.7 249.5h0M26.5 251.9h0M15.9 268.0h0M15.7 251.9h0M14.4 251.1h0M26.9 261.6h0M17.2 271.0h0M13.5 272.5h0M14.7 268.0h0M19.4 254.5h0M27.2 259.6h0M7.5 261.7h0M24.8 254.6h0M25.2 247.6h0M20.6 260.0h0M8.9 249.9h0M25.7 248.4h0M11.7 247.6h0M10.5 260.6h0M19.5 266.5h0M7.7 261.9h0M30.9 243.2h0M29.9 242.8h0M18.2 270.8h0M11.3 254.4h0M13.5 269.9h0M22.9 266.7h0M13.7 271.9h0M8.7 248.5h0M5.6 273.4h0M23.9 254.5h0M29.1 242.7h0M8.5 263.3h0M20.5 244.1h0M7.2 272.8h0M16.1 256.0h0M4.0 280.2h0M27.0 255.0h0M26.4 244.4h0M3.3 277.0h0M16.9 243.0h0M26.8 242.3h0M26.1 263.8h0M16.6 268.6h0M4.6 248.1h0M5.4 277.5h0M6.1 257.5h0M2.6 277.5h0M15.7 242.7h0M21.4 254.8h0M29.3 253.9h0M12.3 276.8h0M20.1 262.0h0M14.5 255.2h0M29.6 250.1h0M20.5 242.5h0M16.7 268.0h0M8.5 248.5h0M22.1 252.8h0M9.6 258.3h0M8.8 247.4h0M6.3 254.2h0M30.4 242.7h0M27.8 248.4h0M15.7 256.1h0M28.6 263.0h0M23.6 262.6h0M22.0 262.1h0M8.9 251.8h0M4.9 261.0h0M6.9 271.2h0M22.3 266.7h0M10.5 265.5h0M23.6 266.7h0M17.8 248.8h0M12.3 254.2h0M28.5 252.0h0M20.6 261.5h0M20.9 268.5h0M24.4 263.3h0M18.0 243.7h0M9.4 264.1h0M7.3 248.6h0M29.3 248.6h0M30.1 247.8h0M6.0 256.9h0M21.1 254.7h0M9.0 279.1h0M12.5 243.8h0M29.5 256.8h0M16.4 256.8h0M13.9 246.5h0M25.3 262.4h0M27.3 242.6h0M30.6 244.5h0M28.7 244.8h0M23.0 262.1h0M4.8 275.0h0M16.7 268.8h0M7.3 262.8h0M21.9 260.6h0M6.7 267.5h0M28.9 246.2h0M7.1 263.4h0M22.6 243.5h0M5.8 253.8h0M7.2 260.0h0M21.6 251.0h0M17.2 255.7h0M15.6 259.2h0M7.8 255.7h0M30.2 260.5h0M14.3 242.8h0M9.0 277.4h0M5.1 273.1h0M4.7 262.0h0M25.9 263.3h0M15.8 266.1h0M22.3 269.5h0M12.9 251.9h0M4.9 277.4h0M25.5 264.5h0M25.4 261.6h0M10.8 266.1h0M14.7 263.4h0M23.2 264.8h0M11.7 243.8h0M30.5 243.7h0M29.8 254.0h0" stroke="#3aa6e4" stroke-width="1.0" stroke-linecap="round" stroke-opacity="0.7" fill="none"/>
<path d="M83.9 252.5h0M55.5 257.3h0M54.2 246.2h0M76.2 231.1h0M56.1 243.6h0M106.8 223.8h0M52.8 247.7h0M91.2 231.4h0M66.8 238.7h0M60.2 232.2h0M73.5 253.4h0M95.3 221.2h0M64.8 242.3h0M83.1 251.6h0M111.9 236.9h0M108.9 239.9h0M57.8 259.1h0M96.2 221.6h0M94.9 252.4h0M88.7 260.9h0M86.6 234.5h0M100.5 224.1h0M70.2 225.2h0M73.2 225.0h0M78.6 237.3h0M99.3 251.5h0M106.7 252.3h0M104.1 232.2h0M89.3 231.6h0M49.1 243.3h0M76.5 261.6h0M94.6 246.9h0M78.4 227.9h0M48.9 235.7h0M93.2 246.5h0M105.9 226.4h0M68.4 251.1h0M77.3 246.1h0M81.4 259.6h0M69.0 254.2h0M71.2 253.7h0M98.5 221.4h0M86.0 233.6h0M73.1 235.0h0M100.9 248.8h0M52.0 239.9h0M71.4 230.1h0M90.3 233.9h0M84.3 260.7h0M66.5 262.9h0M67.4 258.2h0M74.9 221.5h0M68.2 252.9h0M98.2 256.6h0M47.1 244.8h0M57.7 226.1h0M60.9 234.3h0M67.2 227.7h0M98.8 252.8h0M73.3 245.2h0M94.5 252.3h0M111.1 245.9h0M75.1 246.7h0M77.9 232.0h0M97.6 236.3h0M99.9 252.9h0M110.9 236.6h0M64.5 236.8h0M101.6 222.2h0M86.8 220.3h0M84.8 250.0h0M45.0 244.6h0M67.9 266.5h0M84.0 238.0h0M103.7 251.2h0M82.6 236.2h0M76.1 224.4h0M86.5 235.5h0M61.6 247.1h0M98.3 241.9h0M56.5 225.5h0M81.3 252.9h0M70.2 224.0h0M100.0 251.1h0M81.3 223.7h0M47.2 245.1h0M79.0 226.2h0M59.9 261.7h0M65.8 251.1h0M97.7 257.6h0M110.9 241.4h0M72.6 239.4h0M108.5 223.1h0M62.2 228.7h0M95.9 239.2h0M64.0 254.5h0M71.1 255.6h0M67.1 233.8h0M61.3 237.7h0M82.3 258.1h0M93.3 243.0h0M79.1 263.8h0M94.6 221.6h0M74.3 234.9h0M51.0 231.8h0M66.4 262.8h0M64.5 239.3h0M94.5 236.5h0M73.4 234.8h0M87.8 244.5h0M49.2 236.3h0M86.4 221.8h0M56.3 223.3h0M94.3 225.6h0M102.9 234.1h0M90.0 245.2h0M79.1 261.4h0M67.2 232.0h0M55.0 235.3h0M100.8 244.1h0M77.1 229.0h0M73.7 240.9h0M80.1 260.1h0M99.9 227.1h0M46.2 245.5h0M44.0 245.7h0M63.6 244.4h0M88.7 235.6h0M46.9 249.3h0M51.1 234.5h0M95.4 228.0h0M48.1 251.5h0M84.5 221.5h0M74.8 241.6h0M111.2 234.0h0M96.2 258.7h0M92.6 254.7h0M95.3 255.0h0M80.5 241.2h0M65.4 264.8h0M87.5 232.4h0M103.7 224.5h0M70.1 259.1h0M85.5 241.4h0M88.9 244.4h0M79.6 262.3h0M96.7 226.8h0M55.6 257.5h0M72.1 239.4h0M62.7 264.4h0M52.5 225.6h0M100.7 238.4h0M89.0 243.9h0M91.1 246.7h0M85.7 261.9h0M53.1 229.3h0M111.2 247.9h0M47.3 243.9h0M62.9 245.1h0M82.6 263.9h0M69.5 240.7h0M75.0 240.9h0M93.9 221.0h0M68.3 251.3h0M91.6 251.9h0M98.6 230.1h0M66.4 253.2h0M106.6 226.1h0M79.5 237.0h0M99.3 227.5h0M73.5 247.7h0M93.0 258.6h0M107.7 239.5h0M92.8 247.9h0M97.1 249.8h0M73.2 260.0h0M58.2 237.4h0M71.1 257.8h0M45.8 247.0h0M96.9 243.9h0M53.9 238.5h0M74.6 238.5h0M72.8 250.1h0M52.4 242.1h0M81.5 252.9h0M69.1 265.4h0M94.0 250.6h0M55.3 242.8h0M60.0 229.7h0M75.1 248.5h0M56.7 241.9h0M54.5 223.2h0M99.4 236.6h0M58.5 255.1h0M96.7 227.1h0M104.1 238.2h0M65.9 241.0h0M60.0 228.8h0M57.9 243.7h0M92.6 250.8h0M72.8 225.7h0M62.3 260.5h0M91.8 236.4h0M89.8 234.2h0M49.8 235.1h0M62.1 231.3h0M91.2 255.0h0M54.3 250.3h0M92.2 227.3h0M80.4 252.3h0M66.8 258.3h0M107.2 224.0h0M57.0 234.8h0M52.2 237.8h0M86.7 237.9h0M58.9 225.5h0M86.9 228.3h0M85.0 261.4h0M88.8 250.3h0M92.4 243.8h0M82.9 233.9h0M78.2 259.8h0M67.0 255.4h0M70.9 225.2h0M61.6 242.6h0M49.1 233.4h0M89.0 247.2h0M94.7 242.6h0M74.8 254.3h0M89.0 241.7h0M75.3 253.6h0M95.3 258.5h0M63.2 223.3h0M72.0 244.5h0M107.6 248.5h0M81.5 254.2h0M88.6 242.8h0M105.2 242.3h0M57.2 232.2h0M56.2 246.3h0M102.7 224.3h0M54.2 245.5h0M76.1 240.5h0M89.4 256.9h0M68.4 241.2h0M103.1 228.0h0M54.0 245.2h0M85.0 242.2h0M78.3 223.3h0M102.8 244.7h0M62.9 229.0h0M94.7 238.1h0M69.0 260.1h0M73.5 258.2h0M80.9 260.4h0M103.2 254.1h0M81.1 225.9h0M80.5 220.0h0M103.8 251.1h0M87.2 252.5h0M74.2 262.4h0M52.9 237.1h0M80.4 238.1h0M82.8 226.6h0M45.2 243.9h0M63.6 243.9h0M59.3 238.5h0M86.9 231.0h0M66.3 230.4h0M78.2 245.4h0M57.8 260.2h0M93.8 241.0h0M75.6 223.7h0M114.4 232.0h0M70.3 220.8h0M92.3 225.3h0M77.6 239.9h0M96.9 255.6h0M64.2 258.0h0M91.5 224.9h0M79.0 258.8h0M88.1 246.5h0M76.7 244.3h0M65.3 229.9h0M79.4 264.2h0M48.1 253.9h0M72.1 259.9h0M54.5 226.6h0M51.8 230.7h0M73.0 253.1h0M55.5 255.4h0M59.3 243.4h0M67.7 244.3h0M54.8 244.9h0M94.4 251.5h0M70.3 263.1h0M58.2 248.5h0M63.6 240.2h0M76.8 232.8h0M81.0 257.9h0M68.9 221.0h0M67.8 262.3h0M74.7 238.3h0M96.2 222.2h0M101.2 240.3h0M49.4 234.3h0M62.5 255.9h0M62.2 264.1h0M86.4 231.8h0M109.2 234.5h0M73.8 250.8h0M58.7 240.2h0M91.8 241.0h0M104.0 230.1h0M88.0 257.4h0M107.8 233.0h0M113.7 245.3h0M104.6 253.7h0M107.1 247.2h0M47.0 247.3h0M51.5 235.5h0M88.3 262.4h0M75.4 223.8h0M80.0 231.3h0M52.7 253.9h0M50.9 231.8h0M88.0 233.5h0M51.5 243.0h0M67.2 222.2h0M64.3 245.4h0M98.5 246.3h0M81.6 235.3h0M73.6 254.1h0M62.9 258.7h0M79.3 236.1h0M63.3 246.6h0M99.1 256.4h0M91.4 254.6h0M85.4 237.6h0M54.9 222.6h0M55.3 225.5h0M53.1 225.6h0M100.4 249.1h0M67.5 240.6h0M94.9 228.3h0M81.7 257.6h0M109.7 238.0h0M97.8 238.2h0M78.1 250.4h0M72.8 239.7h0M105.2 249.9h0M88.0 231.6h0M69.1 223.2h0M48.7 236.2h0M80.8 228.7h0M69.9 224.8h0M94.7 222.4h0M106.0 225.0h0M87.9 227.7h0M55.9 253.6h0M84.9 230.5h0M94.7 223.7h0M67.6 253.7h0M104.6 243.4h0M83.1 238.1h0M81.5 231.0h0M101.9 244.2h0M54.1 257.4h0M70.7 237.4h0M75.2 247.1h0M70.0 250.3h0M108.5 248.3h0M51.3 245.1h0M71.8 252.0h0M98.5 236.6h0M97.0 237.9h0M53.3 235.8h0M86.5 240.0h0M98.5 252.6h0M75.2 234.9h0M86.2 263.2h0M94.7 243.2h0M58.9 239.3h0M76.7 227.7h0M86.4 237.8h0M56.5 222.5h0M102.4 239.9h0M56.0 240.7h0M58.2 243.8h0M65.8 265.6h0M75.8 255.6h0M79.6 227.8h0M53.9 257.7h0M65.0 250.8h0M80.2 233.7h0M79.8 224.8h0M85.5 224.8h0M73.1 244.6h0M66.3 261.1h0M89.3 224.9h0M110.5 248.0h0M97.2 251.9h0M110.1 234.0h0M86.6 256.4h0M88.2 230.6h0M54.9 250.0h0M71.9 261.1h0M81.6 260.8h0M84.6 249.4h0M75.0 258.3h0M57.6 258.8h0M95.0 252.1h0M85.5 259.7h0M63.6 222.7h0M59.6 233.5h0M97.4 225.5h0M72.3 229.8h0M73.3 233.1h0M63.0 240.5h0M66.7 261.8h0M78.4 253.6h0M75.7 238.7h0M72.5 242.0h0M50.2 240.3h0M74.6 238.6h0M49.3 249.9h0M75.4 264.4h0M59.9 237.5h0M67.8 249.0h0M75.5 241.2h0M91.6 233.2h0M67.8 231.3h0M105.9 249.7h0M62.8 230.3h0M66.0 241.6h0M82.4 264.3h0M71.8 224.4h0M80.6 228.3h0M105.4 243.2h0M51.2 235.0h0M80.6 242.2h0M69.8 239.3h0M83.7 259.3h0M62.4 251.4h0M67.3 260.3h0M108.4 250.6h0M58.7 233.5h0M91.6 232.4h0M62.7 248.4h0M61.6 249.6h0M82.7 234.0h0M61.2 221.5h0M98.6 244.4h0M68.9 235.6h0M55.9 220.5h0M80.3 247.5h0M83.2 242.9h0M69.7 228.1h0M84.7 223.1h0M73.9 259.1h0M69.7 244.8h0M59.9 243.0h0M62.8 259.5h0M72.7 225.5h0M87.9 236.8h0M96.1 255.2h0M97.8 228.9h0M63.2 246.9h0M52.3 244.9h0M59.5 254.8h0M102.8 235.4h0M79.6 244.4h0M83.1 231.3h0M81.1 236.9h0M102.0 243.6h0M86.5 239.9h0M113.1 237.7h0M93.2 256.9h0M96.2 232.4h0M87.8 224.5h0M60.7 221.2h0M110.5 237.8h0M100.1 237.1h0M76.8 241.8h0M81.1 264.5h0M72.5 241.4h0M106.2 234.7h0M84.5 234.6h0M100.0 237.5h0M62.4 258.2h0M56.5 243.0h0M87.8 225.5h0M75.2 241.1h0M102.0 252.0h0M76.6 251.1h0M78.5 235.3h0M52.4 231.4h0M61.0 253.0h0M83.3 239.7h0M87.2 227.7h0M78.7 263.4h0M75.9 220.3h0M75.9 225.6h0M72.1 232.9h0M74.0 253.9h0M76.0 261.4h0M61.7 230.9h0M97.1 246.1h0M96.3 254.3h0M59.5 235.0h0M84.2 234.4h0M96.7 232.1h0M88.2 242.2h0M73.2 228.2h0M75.3 244.8h0M99.5 243.3h0M73.5 236.0h0M79.9 256.6h0M98.8 244.3h0M67.7 248.3h0M96.7 227.3h0M77.6 248.4h0M89.8 226.9h0M59.8 238.1h0M49.5 243.8h0M76.4 229.1h0M107.4 235.3h0M83.6 234.3h0M100.1 240.4h0M61.3 242.6h0M55.2 220.2h0M109.6 224.4h0M65.7 258.2h0M62.2 230.5h0M93.0 256.0h0M48.3 242.6h0M105.3 249.0h0M49.1 236.2h0M93.4 223.0h0M108.3 234.7h0M97.9 244.1h0M66.7 248.9h0M57.1 232.1h0M66.9 247.6h0M93.9 224.6h0M83.0 242.2h0M76.8 257.7h0M60.8 230.5h0M83.4 237.3h0M100.8 242.7h0M90.2 248.0h0M60.4 230.6h0M83.8 234.1h0M86.9 223.4h0M82.9 254.7h0M105.0 236.0h0M96.5 235.5h0M85.0 222.1h0M94.2 235.7h0M75.4 245.3h0M54.6 252.9h0M72.0 228.2h0M103.1 227.1h0M98.7 248.7h0M90.4 243.4h0M91.0 232.8h0M70.1 228.5h0M56.5 223.9h0M53.9 235.3h0M78.5 246.8h0M72.2 256.8h0M96.8 233.7h0M86.9 231.7h0M91.9 235.4h0M85.7 263.8h0M94.8 242.5h0M55.4 220.0h0M94.0 239.7h0M93.1 230.6h0M70.9 227.7h0" stroke="#f08880" stroke-width="1.0" stroke-linecap="round" stroke-opacity="0.7" fill="none"/>
<path d="M73.3 271.4h0M86.5 280.3h0M83.5 287.6h0M113.3 285.7h0M90.9 298.7h0M103.1 266.6h0M82.2 294.8h0M105.0 273.0h0M91.3 294.1h0M83.9 279.4h0M110.2 291.6h0M79.2 287.4h0M70.9 276.7h0M80.3 292.9h0M106.0 263.1h0M98.0 279.1h0M110.9 291.0h0M95.0 279.4h0M95.5 291.7h0M91.5 284.6h0M76.5 277.3h0M93.7 280.3h0M106.5 292.0h0M77.5 292.6h0M107.7 275.5h0M99.5 284.2h0M79.4 285.6h0M74.7 285.4h0M93.7 271.8h0M112.4 257.8h0M110.7 294.1h0M83.8 287.3h0M100.1 263.2h0M106.4 268.8h0M93.7 291.5h0M103.2 277.9h0M97.9 288.0h0M105.8 292.9h0M110.9 287.1h0M114.2 255.9h0M107.2 266.3h0M112.5 289.8h0M106.6 287.3h0M78.1 273.3h0M109.3 296.7h0M66.7 267.6h0M78.1 271.2h0M89.8 295.0h0M109.2 257.9h0M115.4 285.4h0M108.8 297.2h0M111.8 277.2h0M74.6 275.3h0M90.2 288.8h0M78.0 267.3h0M101.7 270.7h0M71.6 269.5h0M113.5 276.7h0M69.1 294.3h0M87.3 300.3h0M98.0 293.5h0M115.4 277.7h0M72.7 266.9h0M103.7 284.6h0M78.2 292.6h0M96.9 282.8h0M95.9 287.4h0M104.8 292.7h0M108.6 276.5h0M76.1 291.6h0M112.5 251.7h0M91.5 296.7h0M105.9 285.1h0M74.2 280.2h0M81.2 294.4h0M96.9 302.8h0M112.3 270.7h0M83.4 279.4h0M65.8 282.2h0M74.9 296.3h0M95.3 289.5h0M101.8 262.3h0M111.9 296.6h0M112.9 264.0h0M103.2 257.7h0M101.7 301.5h0M70.0 291.9h0M89.3 299.0h0M63.6 270.3h0M108.5 255.1h0M70.1 281.3h0M85.7 287.4h0M71.9 301.6h0M91.1 303.0h0M109.1 251.3h0M108.1 261.3h0M69.0 287.3h0M111.3 292.5h0M92.2 277.7h0M76.8 274.0h0M102.8 278.9h0M94.2 262.0h0M110.5 285.8h0M114.1 284.3h0M110.7 282.9h0M81.4 299.9h0M69.9 283.8h0M111.5 283.2h0M66.5 268.6h0M72.1 269.1h0M98.6 261.8h0M73.6 278.1h0M107.9 277.1h0M98.4 266.3h0M113.9 283.6h0M88.9 288.3h0M107.0 269.5h0M69.0 271.2h0M109.6 267.1h0M73.5 282.0h0M69.8 295.7h0M76.3 289.4h0M64.0 268.0h0M111.4 267.3h0M77.8 281.0h0M96.5 292.9h0M115.4 283.3h0M103.8 276.5h0M90.3 282.4h0M107.1 289.5h0M111.1 271.3h0M94.0 273.8h0M96.6 260.0h0M62.0 270.9h0M93.8 277.6h0M90.2 300.2h0M110.9 280.8h0M79.5 293.0h0M85.3 274.0h0M79.1 279.2h0M87.1 277.6h0M101.8 272.3h0M84.1 273.4h0M77.3 270.5h0M93.9 264.1h0M104.3 280.5h0M66.8 272.5h0M85.8 276.6h0M88.3 290.6h0M99.5 282.8h0M107.6 286.2h0M86.7 278.0h0M92.4 302.7h0M100.2 280.3h0M84.8 292.4h0M96.8 302.3h0M102.1 297.9h0M105.2 266.8h0M70.5 297.9h0M96.8 275.1h0M111.9 272.0h0M73.1 293.3h0M86.3 284.9h0M72.6 279.4h0M69.5 290.7h0M77.8 292.0h0M109.0 296.5h0M108.6 296.9h0M105.5 259.3h0M109.7 257.1h0M109.5 258.0h0M83.7 297.0h0M109.2 290.7h0M114.7 274.5h0M88.5 292.9h0M82.8 265.7h0M100.4 259.5h0M85.9 292.2h0M77.9 266.4h0M110.6 277.9h0M106.1 260.9h0M114.6 261.9h0M78.3 291.9h0M78.1 275.4h0M80.5 273.7h0M112.4 291.1h0M66.4 281.8h0M94.8 263.1h0M102.6 268.4h0M116.3 274.9h0M105.1 269.4h0M96.8 293.4h0M103.7 287.4h0M79.9 295.0h0M76.9 297.1h0M71.9 275.8h0M70.8 286.0h0M103.9 289.7h0M111.3 262.3h0M112.7 248.9h0M68.3 295.4h0M110.5 259.2h0M107.5 298.0h0M82.8 302.0h0M89.6 297.0h0M67.7 291.9h0M72.3 291.2h0M105.5 285.4h0M108.3 294.6h0M102.5 267.3h0M78.1 301.6h0M109.9 265.2h0M95.4 265.5h0M76.0 300.6h0M80.0 270.2h0M75.4 267.0h0M111.6 293.6h0M95.3 264.9h0M89.4 269.6h0M98.3 264.4h0M102.4 285.2h0M88.5 300.7h0M82.3 282.8h0M114.8 271.3h0M111.3 285.0h0M113.4 291.5h0M110.3 292.2h0M93.5 281.0h0M113.7 265.1h0M110.1 285.6h0M113.9 252.9h0M91.7 300.1h0M105.0 258.0h0M84.2 273.4h0M74.3 273.0h0M71.0 278.2h0M70.5 281.5h0M112.1 274.8h0M112.5 290.0h0M84.9 292.0h0M108.8 272.3h0M102.4 287.4h0M92.9 273.0h0M85.4 301.0h0M113.2 266.7h0M94.9 293.8h0M73.3 297.8h0M113.0 260.8h0M81.2 285.2h0M89.8 287.1h0M86.9 292.0h0M96.8 301.0h0M100.2 268.0h0M64.2 269.0h0M92.9 302.9h0M110.9 289.6h0M105.7 289.8h0M102.0 257.2h0M105.7 277.6h0M112.6 268.4h0M103.2 290.2h0M102.4 299.3h0M81.5 280.4h0M100.8 296.4h0M95.2 300.5h0M65.9 286.4h0M95.9 295.9h0M69.7 267.1h0M63.7 268.4h0M105.2 292.9h0M69.7 299.8h0M88.1 287.0h0M72.2 298.5h0M104.0 295.9h0M111.0 280.5h0M65.5 283.4h0M82.7 275.6h0M104.3 284.1h0M95.4 279.6h0M73.6 286.1h0M89.6 292.9h0M71.8 294.1h0M74.0 297.7h0M102.7 266.5h0M106.0 264.1h0M114.4 266.6h0M93.0 266.1h0M90.8 265.2h0M74.6 270.4h0M82.1 292.6h0M66.3 288.9h0M91.4 289.2h0M104.3 266.8h0M95.0 264.9h0M103.7 295.3h0M99.9 286.2h0M95.1 274.4h0M78.2 275.3h0M106.2 274.8h0M91.5 280.4h0M92.8 269.4h0M89.0 292.7h0M87.0 285.9h0M107.4 254.8h0M81.8 300.6h0M104.5 292.3h0M101.3 268.6h0M75.0 275.1h0M80.2 271.1h0M78.7 299.7h0M111.1 273.6h0M90.2 263.0h0M102.9 298.5h0M66.8 291.3h0M104.1 262.0h0M106.0 285.5h0M93.4 283.4h0M83.7 295.3h0M71.4 297.7h0M71.1 271.1h0M115.5 271.2h0M92.6 285.6h0M95.3 283.1h0M77.8 283.3h0M71.4 278.8h0M110.4 294.7h0M89.2 279.3h0M82.7 270.7h0M89.1 291.9h0M103.8 286.4h0M104.6 289.9h0M76.9 285.2h0M69.5 289.3h0M66.3 285.5h0M77.7 284.4h0M103.2 257.9h0M84.3 290.6h0M90.1 298.0h0M70.2 268.1h0M76.3 298.1h0M95.6 278.4h0M92.3 273.2h0M72.3 274.9h0M71.4 282.9h0M100.2 295.4h0M79.9 301.1h0M68.4 287.8h0M96.5 288.4h0M85.2 291.7h0M75.9 269.2h0M65.3 279.0h0M73.9 297.0h0M102.3 272.6h0M97.8 290.4h0M90.3 299.0h0M68.7 278.8h0M107.8 295.1h0M80.9 282.9h0M65.8 267.7h0M115.2 264.4h0M109.3 259.7h0M79.3 270.9h0M74.6 295.9h0M86.0 274.3h0M106.2 252.9h0M107.4 294.0h0M97.8 288.3h0M87.7 289.4h0M84.6 282.6h0M94.7 287.2h0M111.1 262.9h0M71.8 293.3h0M81.7 282.6h0M77.6 275.3h0M84.1 302.4h0M98.6 289.0h0M75.6 284.8h0M97.0 266.1h0M92.3 276.8h0M71.8 269.6h0M111.1 259.0h0M93.5 289.6h0M105.8 291.0h0M87.8 298.7h0M91.8 292.0h0M80.4 269.1h0M91.3 298.9h0M108.6 268.7h0M106.8 257.7h0M69.5 269.8h0M74.2 293.9h0M96.3 292.6h0M90.4 300.0h0M78.1 290.9h0M116.0 278.6h0M100.6 271.2h0M102.6 263.5h0M110.3 283.1h0M103.1 295.3h0M93.4 298.8h0M104.6 256.4h0M87.6 274.6h0M71.9 298.8h0M74.2 295.9h0M97.1 298.8h0M85.3 296.8h0M71.3 284.6h0M102.7 298.3h0M72.2 276.1h0M74.9 272.8h0M96.7 282.8h0M109.3 271.7h0M103.7 259.1h0M84.6 265.9h0M99.8 285.9h0M70.6 297.9h0M91.3 303.3h0M106.1 277.5h0M65.7 272.9h0M104.4 291.7h0M97.9 302.6h0M86.3 292.5h0M76.0 285.6h0M84.8 301.7h0M110.7 258.4h0M88.6 298.9h0M78.3 266.5h0M105.2 273.1h0M91.3 298.8h0M70.7 275.5h0M103.5 281.0h0M99.6 284.2h0M92.6 285.9h0" stroke="#c4c424" stroke-width="1.0" stroke-linecap="round" stroke-opacity="0.7" fill="none"/>
<path d="M14.0 277.3h0M21.7 249.3h0M3.5 273.2h0M26.3 248.2h0M17.9 270.8h0M10.9 256.7h0M28.2 253.0h0M22.4 249.0h0M20.5 267.5h0M15.5 266.4h0M14.4 264.6h0M11.0 252.6h0M18.0 250.5h0M15.5 273.7h0M14.2 275.7h0M26.6 244.0h0M7.8 268.2h0M13.9 243.3h0M5.1 256.1h0M11.8 268.9h0M15.7 264.3h0M4.0 269.5h0M14.1 255.7h0M11.8 276.6h0M28.2 255.5h0M14.7 273.1h0M14.8 242.4h0M15.8 254.1h0M13.6 274.5h0M11.4 265.7h0M14.4 256.8h0M25.3 258.5h0M12.1 265.0h0M7.5 259.5h0M10.0 258.2h0M10.1 261.3h0M3.9 279.7h0M8.6 249.2h0M14.5 270.2h0M15.1 257.9h0M23.8 248.3h0M16.2 257.1h0M21.6 243.6h0M16.9 251.0h0M16.1 272.4h0M22.5 242.1h0M6.3 274.1h0M6.7 281.0h0M19.5 242.7h0M26.6 243.7h0M8.7 278.4h0M22.9 250.8h0M3.6 254.5h0M24.3 252.4h0M7.2 266.7h0M8.8 269.5h0M30.3 249.7h0M5.9 271.4h0M4.8 271.9h0M20.6 265.4h0M28.6 264.0h0M27.3 263.3h0M17.8 269.0h0M4.9 280.0h0M10.2 256.9h0M28.9 253.7h0M7.3 270.6h0M5.2 264.8h0M19.7 255.8h0M24.7 264.7h0M5.7 279.3h0M11.2 261.8h0M27.7 264.2h0M9.0 245.7h0M5.1 252.5h0M17.4 250.5h0M20.4 246.3h0M26.9 262.3h0M18.1 266.9h0M15.0 247.5h0M13.0 276.7h0M7.5 265.1h0M7.4 245.5h0M11.5 261.0h0M10.7 253.9h0M11.3 260.5h0M16.8 253.3h0M13.9 271.9h0M21.4 260.0h0M16.5 265.5h0M6.5 265.0h0M8.7 253.1h0M28.9 264.3h0M5.0 250.2h0M5.7 248.1h0M8.2 263.4h0M7.6 263.9h0M28.4 243.4h0M9.4 245.3h0M24.3 264.2h0M23.4 257.7h0M4.9 255.4h0M16.4 248.8h0M25.9 241.7h0M6.0 247.2h0M19.3 244.2h0M24.2 255.6h0M20.0 241.6h0M9.7 251.0h0M14.6 264.2h0M4.1 269.8h0M13.8 262.0h0M5.9 277.7h0M10.5 280.5h0M17.5 266.0h0M8.1 278.9h0M25.9 260.6h0M10.8 263.2h0M12.6 278.9h0M16.7 261.9h0M3.3 272.6h0M22.2 254.6h0M8.2 248.1h0M6.9 266.7h0M10.8 263.8h0M21.6 242.6h0M2.8 271.3h0M16.2 252.5h0M13.2 275.4h0M3.9 270.3h0M15.3 257.2h0M15.5 244.3h0M7.6 247.5h0M24.0 257.3h0M23.8 264.6h0M16.6 256.3h0M26.7 261.7h0M24.6 260.8h0M25.7 244.6h0M29.7 247.5h0M16.8 269.7h0M27.9 241.0h0M6.7 252.8h0M28.7 263.2h0M24.3 254.7h0M7.2 279.7h0M5.5 273.1h0M27.0 242.4h0M20.1 251.8h0M21.5 244.6h0M26.2 255.0h0M2.4 274.2h0M6.5 256.1h0M25.6 254.1h0M4.4 253.1h0M7.3 265.6h0M7.8 267.0h0M22.6 258.6h0M20.1 265.5h0M7.4 273.7h0M6.9 273.2h0M7.1 261.3h0M13.6 247.0h0M5.7 274.7h0M13.0 273.1h0M25.5 260.0h0M12.9 256.2h0M7.9 271.2h0M14.8 267.8h0M20.4 263.8h0M16.9 253.7h0M18.1 248.0h0M28.9 263.1h0M14.5 247.3h0M4.6 260.8h0M24.5 251.7h0M15.4 250.1h0M27.2 251.6h0M11.4 271.9h0M22.5 244.7h0" stroke="#2a9ade" stroke-width="1.0" stroke-linecap="round" stroke-opacity="0.7" fill="none"/>
<path d="M31.7 240.1h0M41.0 237.4h0M48.2 226.6h0M36.6 230.4h0M37.8 223.2h0M45.3 234.1h0M25.7 236.7h0M50.6 225.8h0M36.8 223.6h0M33.4 245.4h0M45.7 229.3h0M29.0 228.5h0M12.6 242.3h0M22.7 235.0h0M25.9 240.0h0M49.5 225.4h0M29.3 224.2h0M30.0 233.4h0M50.8 221.3h0M43.8 243.6h0M36.2 240.2h0M19.4 229.9h0M29.8 235.9h0M31.9 240.6h0M14.9 237.2h0M34.0 225.3h0M34.6 244.1h0M42.9 234.2h0M22.6 235.2h0M39.3 241.9h0M39.3 240.4h0M33.6 234.1h0M31.9 248.8h0M31.9 244.3h0M26.9 237.9h0M29.7 236.1h0M32.9 226.6h0M44.1 230.7h0M15.1 237.2h0M35.4 242.0h0M43.5 236.3h0M35.4 239.5h0M34.0 242.1h0M27.2 229.6h0M28.7 225.2h0M31.7 246.8h0M46.6 225.7h0M37.9 225.5h0M31.5 244.3h0M42.1 244.6h0M28.5 238.6h0M39.8 226.9h0M31.2 248.0h0M46.0 230.3h0M38.2 240.7h0M47.6 230.6h0M32.9 237.2h0M38.6 222.3h0M17.1 234.4h0M41.3 235.5h0M31.7 232.1h0M29.1 237.2h0M27.7 227.0h0M38.0 236.7h0M43.6 223.2h0M43.6 231.0h0M43.3 238.9h0M40.6 223.7h0M26.1 240.6h0M36.8 222.4h0M38.6 229.0h0M40.6 235.2h0M46.2 227.6h0M44.8 220.7h0M39.8 236.9h0M29.7 224.1h0M35.8 233.7h0M24.2 236.3h0M32.9 223.9h0M38.3 226.3h0M20.3 236.9h0M46.0 231.0h0M21.7 237.6h0M14.6 237.1h0M31.0 234.2h0M25.3 232.6h0M45.3 240.2h0M48.7 226.9h0M38.2 233.8h0M33.1 225.1h0M38.3 235.5h0M23.5 237.8h0M40.4 227.8h0M47.0 236.6h0M30.6 226.7h0M16.9 233.9h0M16.3 236.6h0M37.1 225.8h0M35.4 239.6h0M37.9 233.5h0M34.2 232.0h0M43.8 237.8h0M50.1 226.2h0M39.2 243.6h0M31.5 235.7h0M44.2 240.6h0M38.1 239.8h0M27.5 238.5h0M22.7 230.3h0M15.3 238.3h0M40.6 225.0h0M36.5 230.2h0M22.8 227.3h0M44.0 242.0h0M23.5 237.8h0M43.0 223.8h0M44.9 235.7h0M43.4 226.2h0M36.3 228.6h0M31.1 239.9h0M23.9 234.6h0M39.7 245.1h0M45.4 234.3h0M34.5 237.3h0M43.4 241.9h0M33.8 245.0h0M43.3 233.9h0M40.0 226.6h0M38.6 246.4h0M37.5 224.4h0M22.6 226.4h0M40.2 236.4h0M19.9 239.4h0M50.7 221.3h0M20.8 230.6h0M35.4 233.2h0M29.3 229.4h0M21.6 227.1h0M37.3 245.5h0M52.1 224.4h0M22.4 230.2h0M20.9 237.2h0M13.6 240.1h0M46.9 233.0h0M37.9 227.3h0M45.1 228.6h0M18.7 240.0h0M26.6 227.7h0M51.8 224.9h0M49.2 227.1h0M27.4 229.8h0M30.9 234.5h0M47.5 219.1h0M33.1 237.3h0M44.4 238.1h0M30.1 227.3h0M28.4 238.6h0M39.5 232.4h0M45.4 221.8h0M16.5 239.5h0M52.6 225.0h0M28.7 239.9h0M24.7 232.0h0M33.8 227.1h0M43.1 242.2h0M46.6 235.1h0M30.0 228.5h0M16.7 231.7h0M21.6 232.6h0M34.0 226.2h0M24.6 236.5h0M44.9 231.2h0M17.6 234.6h0M35.5 225.9h0" stroke="#2aa46e" stroke-width="1.0" stroke-linecap="round" stroke-opacity="0.7" fill="none"/>
<path d="M80.1 251.4h0M66.6 242.8h0M108.1 234.2h0M105.5 231.1h0M54.5 243.1h0M54.7 231.9h0M66.3 262.9h0M68.9 256.5h0M54.3 227.9h0M90.8 230.9h0M95.4 254.9h0M90.6 237.5h0M88.7 248.1h0M50.9 252.8h0M90.7 229.6h0M92.5 238.8h0M86.1 244.8h0M85.0 235.0h0M90.7 246.1h0M67.3 259.1h0M97.6 241.9h0M104.4 234.0h0M95.9 241.0h0M53.9 242.1h0M87.8 260.5h0M80.9 260.1h0M81.6 236.3h0M96.1 224.4h0M68.6 266.0h0M83.9 261.3h0M100.6 235.2h0M61.7 252.7h0M69.0 229.6h0M63.5 265.8h0M69.4 220.2h0M75.8 237.1h0M66.2 265.4h0M87.2 231.6h0M82.9 262.7h0M87.5 241.1h0M59.1 259.2h0M91.5 231.3h0M61.1 254.1h0M82.2 262.5h0M63.4 242.3h0M99.4 236.7h0M55.3 243.7h0M110.0 243.2h0M85.8 238.0h0M54.7 238.1h0M91.3 224.0h0M50.3 251.6h0M72.0 261.3h0M86.9 245.6h0M91.0 249.3h0M107.2 231.8h0M73.2 240.4h0M64.0 235.8h0M61.0 257.7h0M63.2 256.7h0M72.4 230.0h0M49.0 235.5h0M65.5 246.5h0M94.7 246.0h0M59.0 238.6h0M50.5 238.6h0M74.3 231.8h0M113.7 231.7h0M73.7 242.3h0M86.4 247.4h0M74.0 247.8h0M50.6 235.3h0M54.1 242.1h0M91.4 261.1h0M72.2 247.4h0M67.3 229.5h0M72.6 226.7h0M111.2 240.0h0M62.6 233.9h0M68.6 244.9h0M71.2 253.6h0M48.3 242.5h0M99.0 245.0h0M84.0 253.5h0M90.3 227.8h0M88.4 220.4h0M51.2 250.0h0M93.4 238.7h0M52.4 226.4h0M80.3 238.7h0M74.9 240.9h0M110.6 234.4h0M76.6 247.1h0M49.5 244.0h0M52.9 240.2h0M81.8 231.1h0M65.4 235.5h0M72.7 239.8h0M87.8 227.9h0M79.9 240.3h0M90.0 236.5h0M60.8 234.4h0M70.7 256.0h0M51.3 239.1h0M86.2 240.4h0M67.1 263.4h0M102.0 239.7h0M67.5 220.3h0M100.7 227.3h0M86.9 254.4h0M101.5 223.2h0M50.0 245.7h0M90.0 231.8h0M102.2 247.9h0M82.1 244.2h0M67.3 258.6h0M77.1 248.7h0M80.6 234.5h0M91.0 242.7h0M72.7 253.3h0M62.6 259.2h0M71.2 237.7h0M51.1 231.0h0M83.9 232.0h0M111.9 240.5h0M94.8 241.8h0M54.5 242.1h0M63.3 236.6h0M76.6 260.5h0M86.7 226.5h0M68.1 224.9h0M85.9 252.0h0M72.5 228.5h0M86.7 221.3h0M90.5 239.9h0M72.7 232.5h0M56.1 249.1h0M113.9 236.6h0M69.0 266.7h0M58.4 243.8h0M111.2 244.3h0M60.0 231.5h0M84.9 226.5h0M76.7 232.0h0M105.7 230.5h0M111.3 236.6h0M81.7 239.1h0M93.3 228.0h0M91.9 252.3h0M108.9 237.1h0M65.6 252.8h0M71.7 225.6h0M65.8 232.8h0M77.8 253.3h0M78.1 251.0h0M88.7 246.2h0M96.7 231.8h0M100.4 236.6h0M66.8 234.7h0M59.0 233.5h0M95.5 231.5h0M57.7 255.5h0M90.8 230.8h0M64.1 221.7h0M94.5 234.6h0M84.1 248.4h0M53.1 233.5h0M86.7 226.2h0M78.1 248.9h0M56.5 220.5h0M51.0 244.5h0M91.8 235.3h0M101.2 239.6h0M103.1 254.2h0M64.7 229.2h0M95.6 245.4h0M98.6 238.5h0M80.9 244.0h0M70.0 244.9h0M68.2 224.4h0M88.2 244.1h0M56.9 224.6h0M93.1 249.0h0M78.9 240.5h0M48.9 248.1h0M66.0 229.5h0M100.9 249.1h0M75.7 249.8h0M65.0 225.9h0M91.8 260.5h0M81.9 224.7h0M73.1 225.3h0M71.6 238.8h0M67.1 230.0h0M52.1 251.7h0M86.2 234.2h0M93.8 224.5h0M91.8 257.0h0M97.0 221.6h0M69.0 261.8h0M95.2 223.9h0M109.1 247.0h0M104.1 246.5h0M64.9 262.2h0M59.6 232.4h0M95.9 228.7h0M77.1 242.9h0M72.5 247.0h0M63.6 235.9h0M78.8 259.0h0M71.5 252.1h0M69.5 232.0h0M45.5 249.5h0M70.1 230.2h0M70.5 247.2h0M59.3 231.4h0M67.3 260.2h0M70.2 226.7h0M107.3 232.2h0M75.0 252.4h0M107.2 224.4h0M105.6 230.4h0M106.5 250.0h0M79.3 248.1h0M96.2 257.2h0M83.1 228.8h0M85.9 225.7h0M93.9 256.5h0M96.9 254.2h0M104.5 253.1h0M74.6 237.2h0M106.0 223.7h0M86.2 234.0h0M70.0 222.9h0M61.7 261.2h0M103.9 228.7h0M93.6 259.1h0M94.1 253.4h0M63.1 252.7h0M66.9 261.6h0M79.4 237.8h0M86.7 255.3h0M104.1 247.0h0M93.5 255.8h0M82.0 252.5h0M52.3 241.8h0M106.7 237.1h0M81.4 226.2h0M81.2 219.9h0M74.0 228.6h0M89.3 258.4h0M51.7 252.7h0M58.8 252.4h0M79.7 230.9h0M63.5 261.0h0M110.3 240.3h0M93.8 239.4h0M87.8 238.5h0M79.1 263.2h0M95.0 226.5h0M85.9 240.5h0M90.6 226.3h0M65.8 241.0h0M86.4 253.1h0M70.6 264.5h0M113.6 242.0h0M55.4 246.4h0M68.2 222.0h0M97.8 248.2h0M64.3 221.1h0M69.8 237.7h0M102.9 239.0h0M82.8 258.3h0M102.0 250.1h0M60.8 234.4h0M66.7 239.2h0M101.5 252.6h0M74.6 259.3h0M113.7 232.1h0M53.3 248.6h0M65.5 258.5h0M62.5 222.6h0M103.3 237.4h0M63.4 247.9h0M79.1 234.8h0M95.8 234.5h0M94.8 257.7h0M55.8 242.5h0M57.0 256.1h0M59.1 236.4h0M61.4 238.3h0M72.5 224.3h0M67.7 241.1h0M62.9 234.2h0M107.3 248.7h0M64.4 240.6h0M80.1 230.4h0M81.0 231.7h0M59.3 259.0h0M53.7 256.5h0M101.5 237.7h0M100.8 231.0h0M96.5 253.2h0M75.8 254.9h0M65.2 235.7h0M81.3 222.1h0M112.8 246.2h0M92.6 248.8h0M101.6 244.9h0M57.2 249.2h0M86.3 246.4h0M71.9 225.5h0M62.1 240.0h0M49.9 254.1h0M53.0 228.2h0M81.7 239.7h0M68.9 226.0h0M76.2 227.4h0M99.3 241.6h0M60.7 243.5h0M83.2 238.3h0M82.8 253.3h0M60.4 249.6h0M64.5 247.0h0M67.9 228.1h0M74.1 262.7h0M71.7 226.5h0M88.0 238.3h0M72.4 265.4h0M98.7 226.9h0M52.3 239.0h0M99.2 235.6h0M97.2 230.5h0M62.3 228.1h0M80.7 226.1h0M98.9 253.5h0M76.2 230.4h0M99.6 254.1h0M101.4 248.9h0M61.7 229.2h0M92.3 243.8h0M79.5 234.2h0M95.6 254.6h0M87.4 240.7h0M67.0 250.3h0M65.2 248.6h0M47.4 242.3h0M88.6 224.9h0M67.1 223.9h0M112.2 243.7h0M95.1 224.5h0M96.1 243.3h0M108.2 242.7h0M69.5 234.3h0M109.1 234.8h0M114.0 235.4h0M79.9 261.7h0M95.1 223.4h0M112.3 246.3h0M71.8 241.6h0M50.3 238.9h0M66.2 222.3h0M77.2 262.9h0M98.0 222.3h0M89.4 253.5h0M58.7 252.0h0M86.1 251.0h0M66.7 257.0h0M71.2 226.3h0M53.1 255.7h0M114.5 230.0h0M99.4 242.9h0M84.4 250.2h0M87.4 221.0h0M53.1 236.0h0M59.6 246.1h0M46.5 245.1h0M111.8 243.2h0M66.0 234.7h0M62.3 245.5h0M56.5 222.9h0M69.4 226.9h0M103.1 254.0h0M62.1 227.7h0M46.4 251.6h0M96.0 256.4h0M57.1 238.1h0M88.4 248.3h0M56.8 248.8h0M61.0 227.8h0M97.8 241.7h0M60.8 222.4h0M55.5 227.1h0M109.5 224.4h0M93.0 243.5h0M95.8 236.4h0M68.2 247.8h0M68.0 244.8h0M60.7 222.9h0M52.5 253.6h0M90.8 223.9h0M77.9 227.4h0M104.8 225.4h0M48.3 249.7h0M85.3 252.8h0M54.7 233.9h0M61.7 244.8h0M86.6 263.3h0M99.3 251.0h0M71.9 245.1h0M54.0 250.9h0M101.2 228.2h0M73.4 229.4h0M83.2 235.6h0M78.4 235.9h0M64.1 252.1h0M67.3 258.3h0M86.4 240.5h0M105.7 225.5h0M105.5 251.6h0M82.4 221.4h0M54.9 254.2h0M55.6 229.4h0M61.3 231.6h0M90.4 222.3h0M111.2 241.4h0M77.0 224.8h0M89.5 238.5h0M101.7 235.2h0M92.7 245.6h0M67.1 244.5h0M74.7 263.5h0M50.3 232.9h0M56.5 242.7h0M106.9 236.0h0M58.3 228.8h0M68.9 264.0h0M87.7 257.4h0M68.1 225.6h0M74.1 243.2h0M112.7 235.0h0M62.6 251.4h0M60.7 238.2h0M47.5 248.4h0M69.2 226.3h0M72.6 252.7h0M74.3 220.7h0M97.7 254.2h0M79.8 253.8h0M98.0 222.3h0M87.3 242.0h0M71.5 222.4h0M52.6 232.5h0M84.2 250.2h0M71.4 229.0h0M45.0 249.3h0M89.1 239.9h0M64.1 240.5h0M77.5 240.6h0M64.5 261.0h0M74.4 248.7h0M105.6 246.2h0M61.2 227.0h0M99.2 240.6h0M68.9 224.8h0M53.1 244.9h0M74.9 248.6h0M77.9 249.8h0M78.5 263.8h0M106.4 229.6h0M59.8 256.3h0M60.0 262.3h0M91.3 235.5h0M76.8 230.2h0M94.5 251.0h0M109.9 235.3h0M92.0 224.1h0M79.0 235.9h0M64.3 264.6h0M93.1 241.8h0M77.7 251.4h0M100.6 240.6h0M107.3 235.0h0M81.8 220.5h0M51.0 234.9h0M60.7 243.5h0M75.2 256.2h0M86.3 251.6h0M92.7 237.6h0M97.6 249.5h0M46.8 245.6h0M94.9 247.7h0M64.6 232.7h0M108.7 240.0h0M63.1 261.0h0M65.4 263.5h0M67.1 248.4h0M103.4 237.2h0M70.7 255.5h0M75.3 262.8h0M56.4 256.7h0M70.9 251.3h0M67.2 223.5h0M73.3 223.8h0M90.8 221.6h0M93.1 248.5h0M83.6 235.7h0M82.7 252.8h0M88.9 241.1h0M61.5 263.5h0M61.2 232.2h0M59.2 234.5h0M78.2 222.3h0M104.3 252.1h0M54.0 231.6h0M76.5 257.7h0M62.0 233.4h0M50.9 244.1h0M89.3 253.1h0M84.1 256.6h0M77.3 248.5h0M92.4 225.8h0M83.3 261.8h0M55.9 236.6h0M84.3 229.0h0M52.6 225.8h0M65.2 253.6h0M76.0 238.7h0M69.6 258.0h0M74.5 226.2h0M83.0 237.0h0M44.6 243.3h0M82.6 221.0h0M60.7 263.0h0M62.1 267.0h0M94.1 221.6h0M61.7 230.4h0M68.7 264.4h0M72.8 227.4h0M87.6 257.6h0M71.0 253.0h0M93.0 256.3h0M107.0 250.6h0M72.9 228.1h0M65.3 220.2h0M72.0 247.6h0M59.3 234.5h0M87.8 245.0h0M77.2 221.7h0M60.8 259.1h0M85.3 224.0h0M54.0 245.9h0M47.7 239.0h0M100.1 233.1h0M56.1 255.4h0M84.6 241.7h0M81.6 247.3h0M55.8 245.5h0M96.1 224.6h0M103.9 237.2h0M63.4 226.3h0M74.0 247.9h0M93.6 259.7h0M104.7 246.8h0M64.5 251.4h0M56.2 252.1h0M102.9 227.6h0M80.3 241.6h0M92.7 250.9h0M99.6 257.3h0M73.3 233.7h0M66.4 260.4h0M111.1 243.8h0M45.7 241.8h0M75.7 241.7h0M56.9 255.1h0M97.6 252.8h0M100.6 222.5h0M59.4 247.1h0M91.2 245.4h0M49.4 254.4h0M112.1 244.2h0M99.5 233.4h0M51.5 238.0h0M112.1 234.3h0M60.4 251.6h0M62.8 244.6h0M82.0 250.5h0M91.0 258.3h0M102.2 244.1h0M72.4 244.8h0M62.0 255.2h0M57.8 254.7h0M91.0 261.1h0M71.4 263.8h0M61.3 233.6h0M61.0 255.5h0M80.5 258.8h0M83.0 222.1h0M52.3 247.8h0M68.8 261.2h0M79.7 230.0h0M87.2 250.0h0M80.9 245.8h0M75.3 248.5h0M97.0 233.2h0M76.5 238.1h0M53.6 241.1h0M95.4 237.1h0M56.0 241.7h0M65.3 260.8h0M56.5 224.8h0M92.8 245.5h0M64.8 242.1h0M59.5 256.2h0M85.7 221.5h0M67.4 251.0h0M47.9 236.6h0M50.4 254.8h0M66.9 223.5h0" stroke="#ec7474" stroke-width="1.0" stroke-linecap="round" stroke-opacity="0.7" fill="none"/>
<path d="M109.9 231.5h0M112.2 226.2h0M108.2 231.2h0M112.1 232.0h0M110.3 226.5h0M108.8 230.2h0M107.6 227.1h0M110.2 226.5h0M113.9 229.1h0M111.4 229.2h0M113.7 230.0h0M114.4 228.6h0M113.4 229.8h0M108.7 229.5h0M108.9 227.0h0M110.1 225.2h0M113.6 227.7h0M112.0 227.3h0M111.1 226.7h0M109.0 227.1h0M110.3 228.6h0M107.7 230.3h0M110.4 231.0h0" stroke="#c890d0" stroke-width="1.0" stroke-linecap="round" stroke-opacity="0.7" fill="none"/>
<path d="M112.3 227.3h0M110.5 224.6h0M107.0 228.5h0M113.1 227.1h0M110.3 232.4h0M112.0 228.3h0M113.9 229.2h0M111.7 226.7h0M110.1 228.3h0M112.6 227.2h0M109.7 226.1h0M114.4 229.2h0M113.0 230.6h0" stroke="#b070c0" stroke-width="1.0" stroke-linecap="round" stroke-opacity="0.7" fill="none"/>
<path d="M59.8 271.5h0M45.6 255.4h0M58.5 281.7h0M41.3 252.3h0M45.2 264.9h0M44.1 260.1h0M57.9 264.4h0M54.7 276.1h0M38.3 255.9h0M54.4 264.7h0M38.8 264.5h0M54.5 267.5h0M40.5 265.2h0M51.8 258.6h0M35.6 260.3h0M61.0 285.7h0M49.0 272.5h0M37.8 263.2h0M31.1 260.0h0M59.8 281.5h0M51.5 265.0h0M50.6 271.7h0M30.6 261.9h0M39.8 255.4h0M48.0 260.0h0M37.5 259.6h0M55.1 275.9h0M40.8 261.6h0M55.6 271.2h0M40.2 251.9h0M57.4 277.2h0M38.6 266.7h0M54.5 261.6h0M61.2 274.3h0M43.5 261.6h0M47.7 272.2h0M48.4 270.1h0M40.2 259.2h0M32.6 257.0h0M37.9 255.0h0M46.7 260.1h0M48.1 269.2h0M30.2 253.9h0M49.7 268.1h0" stroke="#f4b0b0" stroke-width="1.0" stroke-linecap="round" stroke-opacity="0.5" fill="none"/>
<path d="M44.1 259.1h0M30.2 261.0h0M41.6 262.1h0M41.4 263.5h0M43.1 254.3h0M37.8 261.4h0M45.8 262.2h0M41.2 260.0h0M34.6 261.3h0M58.3 273.7h0M50.0 265.2h0M49.4 259.1h0M34.0 253.9h0M45.6 259.4h0M38.7 251.8h0M45.2 258.7h0M51.3 271.4h0M44.1 262.4h0M52.7 267.3h0M32.7 256.9h0M47.5 270.6h0M48.4 264.7h0M59.4 265.7h0M36.3 253.5h0M48.0 269.5h0M51.0 262.0h0M50.4 272.7h0M56.1 271.1h0M52.9 271.0h0M37.9 253.5h0M59.3 273.9h0M36.3 253.6h0M39.5 250.0h0M44.6 270.0h0M59.4 266.3h0M41.2 247.9h0M34.8 257.7h0" stroke="#a0d4c0" stroke-width="1.0" stroke-linecap="round" stroke-opacity="0.5" fill="none"/>
<path d="M35.9 250.0h0M43.4 257.4h0M48.5 263.8h0M59.6 279.7h0M46.3 257.3h0M53.0 277.8h0M42.5 250.5h0M49.7 262.6h0M36.3 250.5h0M51.8 265.9h0M44.5 255.3h0M43.2 263.1h0M43.6 259.0h0M32.8 250.3h0M57.5 269.3h0M34.2 255.3h0M31.1 261.7h0M54.1 267.4h0M38.4 253.6h0M57.1 271.4h0M34.0 261.1h0M57.0 275.8h0M59.6 278.0h0M29.7 255.2h0M36.5 260.4h0M57.9 272.4h0M34.5 254.1h0M38.1 259.6h0M39.2 260.5h0M29.7 257.1h0M58.5 265.8h0M43.1 261.3h0M43.3 251.3h0M61.9 279.7h0M51.5 269.4h0M34.0 261.2h0M39.5 256.7h0M31.0 255.9h0M37.6 254.0h0" stroke="#c0c0c0" stroke-width="1.0" stroke-linecap="round" stroke-opacity="0.5" fill="none"/>
<path d="M56.9 273.8h0M39.1 252.6h0M41.2 259.6h0M52.4 268.3h0M36.3 249.3h0M36.4 257.1h0M34.3 256.1h0M59.9 282.8h0M39.2 262.3h0M34.3 254.4h0M33.3 251.6h0M52.5 276.0h0M54.4 269.0h0M33.4 263.0h0M41.7 260.3h0M51.4 272.2h0M42.0 254.6h0M45.2 270.1h0M39.8 257.5h0M53.7 271.8h0M42.9 251.7h0M56.5 262.8h0M43.1 252.6h0M60.0 268.1h0M47.3 260.8h0M59.4 275.9h0M62.4 284.1h0M38.5 265.0h0M43.7 262.6h0M53.3 277.9h0M47.9 268.3h0M42.2 266.0h0M44.7 262.2h0M36.0 255.5h0M53.4 271.3h0M42.0 258.7h0M59.8 275.8h0M60.6 285.2h0M43.8 258.4h0M45.4 264.7h0M43.4 250.9h0M48.2 264.9h0M54.2 271.7h0M31.6 251.4h0M45.4 268.3h0" stroke="#333" stroke-width="1.1" stroke-linecap="round" stroke-opacity="0.8" fill="none"/>
<path d="M109.8 232.6h0M4.2 267.7h0M107.8 301.7h0M38.9 222.2h0M57.8 229.5h0M90.9 238.4h0M84.5 247.9h0M66.1 270.0h0M87.9 277.9h0M108.4 280.9h0M89.7 245.4h0M62.1 238.4h0M64.2 261.5h0M73.9 300.3h0M78.2 274.5h0M113.3 261.3h0M78.3 245.7h0M22.9 235.9h0M104.5 271.4h0M47.9 223.6h0M45.1 238.2h0M98.8 262.6h0M14.5 243.4h0M115.9 230.4h0M106.5 299.6h0M65.9 243.1h0M108.0 223.7h0M51.6 255.8h0M93.7 270.7h0M98.6 254.0h0M37.5 232.9h0M34.3 238.2h0M81.5 302.4h0M116.2 259.1h0M65.8 285.3h0M7.6 259.4h0M83.7 288.7h0M117.9 270.1h0M103.4 261.0h0M110.1 274.7h0M60.6 244.8h0M32.8 221.6h0M89.9 237.2h0M106.5 270.8h0M97.0 293.2h0M109.2 279.7h0M29.6 237.3h0M109.6 264.0h0M22.2 262.8h0M94.0 241.9h0M95.2 269.0h0M98.2 241.1h0M97.2 236.7h0M80.1 285.5h0M20.9 227.3h0M26.3 240.2h0M105.3 239.8h0M28.7 234.0h0M9.6 242.4h0M66.7 222.6h0M104.4 283.4h0M50.7 223.7h0M77.1 247.6h0M5.9 276.8h0M84.8 252.5h0M116.7 274.0h0M104.5 279.2h0M72.5 273.0h0M95.3 228.5h0M111.2 260.0h0M15.7 239.4h0M77.5 221.0h0M62.1 238.9h0M65.3 286.1h0M70.7 297.4h0M20.6 233.4h0M100.5 252.9h0M105.3 270.3h0M71.6 269.3h0M11.4 241.9h0M7.4 268.1h0M52.3 220.2h0M102.8 273.9h0M81.5 284.6h0M107.8 279.5h0M97.2 261.9h0M106.5 281.8h0M13.5 247.4h0M90.6 296.8h0M70.5 223.6h0M102.0 241.2h0M114.9 287.3h0M12.9 244.0h0M64.5 240.8h0M83.3 224.7h0M64.9 273.9h0M86.3 298.6h0M79.4 225.4h0M8.9 272.0h0M109.0 299.1h0M76.2 255.3h0M55.3 257.2h0M81.0 288.2h0M85.9 256.5h0M43.9 236.6h0M3.1 270.6h0M72.8 241.4h0M38.0 236.1h0M43.5 233.7h0M117.2 280.4h0M104.8 248.4h0M110.9 274.1h0M16.0 263.8h0M12.9 252.8h0M94.1 261.8h0M106.9 261.6h0M98.5 298.8h0M31.4 239.4h0M32.8 231.0h0M43.2 240.6h0M19.7 259.0h0M92.8 245.0h0M86.9 230.3h0M64.9 234.5h0M73.6 254.8h0M84.6 296.7h0M83.2 301.5h0M96.1 232.5h0M62.4 219.9h0M75.5 291.0h0M107.3 267.1h0M59.5 255.4h0M79.9 240.3h0M108.6 280.2h0M70.4 247.0h0M97.7 224.6h0M105.1 298.2h0M22.6 260.0h0M80.8 224.0h0M85.8 239.7h0M107.4 222.7h0M84.5 260.3h0M31.0 231.2h0" stroke="#333" stroke-width="1.15" stroke-linecap="round" stroke-opacity="0.85" fill="none"/>
<path d="M53.3 219.0h0M110.7 244.4h0M12.5 249.6h0M106.1 247.6h0M64.7 251.6h0M77.9 240.2h0M4.9 252.9h0M20.9 244.5h0M60.8 239.8h0M81.0 264.2h0M114.6 238.1h0M48.5 250.8h0M103.0 293.8h0M16.7 261.8h0M82.4 239.8h0M14.3 231.8h0M23.3 259.6h0M90.6 293.4h0M33.8 246.1h0M46.4 219.0h0M48.5 252.6h0M61.5 236.5h0M85.4 259.7h0M61.5 223.7h0M82.2 287.6h0M111.2 293.6h0M108.4 231.4h0M63.3 255.3h0M77.3 303.1h0M115.0 269.9h0M33.7 228.1h0M10.7 276.2h0M18.3 266.1h0M47.5 227.8h0M9.8 242.3h0M85.9 243.4h0M67.5 263.5h0M102.1 235.3h0M10.8 263.9h0M105.5 261.5h0M85.0 270.9h0M70.2 253.2h0M22.8 245.9h0M111.2 243.3h0M76.7 293.2h0M81.9 281.4h0M87.0 275.6h0M89.8 242.6h0M62.7 266.0h0M106.2 258.5h0M99.8 251.5h0M70.8 292.7h0M73.6 301.8h0M99.2 226.9h0M24.7 239.0h0M4.5 267.6h0M71.2 263.0h0M67.9 242.9h0M66.9 288.8h0M95.1 272.3h0M21.8 236.8h0M58.8 243.1h0M90.5 285.7h0M22.3 257.9h0M37.1 234.5h0M83.7 230.8h0M60.0 261.0h0M7.3 246.8h0M87.6 237.1h0M98.4 259.8h0M62.8 236.2h0M110.9 223.3h0M53.8 255.7h0M48.9 240.2h0M70.4 279.7h0M56.0 234.3h0M76.8 219.3h0M68.0 285.1h0M44.2 232.6h0M94.3 292.7h0M27.0 236.8h0M15.9 257.1h0M9.4 255.9h0M82.1 298.2h0M74.8 263.4h0M82.1 276.9h0M80.7 240.9h0M88.6 283.9h0M65.9 288.2h0M113.1 298.6h0M26.5 253.9h0M110.6 273.4h0M52.1 244.2h0M98.0 227.1h0M106.9 290.1h0M114.5 247.3h0M79.7 290.4h0M104.8 295.3h0M83.9 273.2h0M98.7 243.1h0M81.2 281.0h0M104.4 257.7h0M92.4 278.0h0M26.6 229.6h0M69.5 243.8h0M62.8 249.9h0M103.8 228.6h0M3.4 279.5h0M89.1 274.5h0M94.5 281.6h0M96.7 298.2h0M112.9 230.9h0M49.8 237.9h0M69.9 255.6h0M109.0 239.2h0M102.0 257.1h0M86.1 223.2h0M23.4 224.6h0M107.2 249.2h0M57.4 225.6h0M70.4 229.9h0M12.2 239.6h0M87.3 301.5h0M103.1 272.4h0M27.3 240.1h0M102.5 295.1h0M116.3 277.7h0M29.7 224.8h0M76.8 289.2h0M75.9 290.4h0M17.6 268.2h0M93.7 286.7h0M57.6 244.5h0M107.5 265.6h0M23.5 255.4h0M15.6 272.9h0M20.3 264.9h0M85.6 270.3h0M104.7 242.2h0M74.0 271.6h0M67.3 285.9h0M97.0 251.1h0M68.8 267.1h0M113.9 227.8h0M114.0 247.1h0M61.8 243.7h0M5.3 262.8h0M99.5 227.2h0M47.8 246.2h0M66.7 218.5h0M76.9 288.8h0M11.1 260.8h0M93.5 256.9h0M28.5 252.7h0M88.8 232.1h0M95.7 283.8h0M95.7 241.7h0M64.4 266.7h0M76.7 218.5h0M14.0 238.3h0M79.0 264.4h0M1.3 276.7h0M85.9 289.6h0M6.3 258.2h0M111.1 270.6h0M64.7 275.5h0M114.3 234.0h0M9.7 256.0h0M100.0 237.4h0M84.3 246.4h0M102.2 277.0h0M61.8 256.5h0M25.6 241.7h0M95.7 298.6h0" stroke="#222" stroke-width="1.15" stroke-linecap="round" stroke-opacity="0.85" fill="none"/>
<path d="M105.6 244.7h0M15.0 259.1h0M112.6 274.4h0M25.6 224.2h0M72.1 238.2h0M33.5 232.6h0M56.4 249.3h0M88.2 257.5h0M79.4 236.9h0M110.2 300.5h0M75.2 252.9h0M79.7 244.9h0M18.2 253.9h0M19.6 255.8h0M102.0 295.8h0M72.3 232.1h0M84.3 249.4h0M41.5 225.6h0M70.6 240.7h0M114.8 260.8h0M74.4 261.3h0M76.6 270.7h0M43.5 234.4h0M94.7 238.2h0M70.1 288.6h0M115.2 257.7h0M64.5 263.9h0M73.8 274.7h0M11.2 246.1h0M82.4 291.0h0M73.2 283.1h0M100.9 248.5h0M98.3 231.7h0M109.1 240.9h0M70.7 300.5h0M5.2 280.0h0M105.3 236.0h0M59.8 233.0h0M115.2 229.4h0M42.9 237.7h0M82.9 273.0h0M14.6 273.7h0M67.4 244.9h0M16.8 235.9h0M10.8 249.5h0M24.5 238.2h0M101.6 273.8h0M107.0 280.7h0M37.4 241.9h0M39.0 236.5h0M9.8 241.8h0M18.1 229.7h0M89.1 259.3h0M64.2 233.7h0M100.1 229.7h0M52.2 242.7h0M95.6 234.2h0M8.7 252.5h0M69.2 295.2h0M19.1 246.8h0M34.7 228.6h0M3.6 276.1h0M89.7 279.6h0M19.4 269.8h0M81.0 287.1h0M70.7 300.1h0M86.8 274.3h0M102.5 239.3h0M110.5 234.1h0M95.8 274.9h0M63.3 269.1h0M99.1 281.6h0M92.6 257.5h0M109.5 256.8h0M78.5 260.9h0M40.4 228.4h0M116.2 287.7h0M92.1 302.1h0M4.6 277.0h0M88.8 281.1h0M68.4 286.6h0M40.1 222.3h0M96.4 275.0h0M103.9 291.5h0M69.8 273.6h0M15.5 265.5h0M70.8 270.4h0M84.0 282.1h0M59.5 220.1h0M66.3 263.2h0M101.3 264.5h0M88.7 272.9h0M90.7 247.6h0M19.0 250.9h0M89.2 246.7h0M95.7 275.8h0M53.2 219.6h0M83.7 280.3h0M23.5 242.7h0M97.9 257.2h0M74.3 300.3h0M96.7 257.7h0M17.4 253.9h0M84.3 269.5h0M18.0 261.9h0M12.5 272.6h0M70.2 236.6h0M117.4 270.5h0M15.3 241.2h0M36.5 233.9h0M54.7 229.6h0M10.9 269.8h0M68.1 232.3h0M22.9 223.3h0M67.0 292.1h0M90.5 280.7h0M96.9 235.3h0M105.3 231.8h0M78.8 232.2h0M40.8 238.8h0M88.2 231.5h0M71.0 300.9h0M63.9 245.8h0M52.9 255.0h0M111.9 283.3h0M47.5 235.9h0M63.8 254.2h0M71.3 239.3h0M24.0 237.4h0M112.9 277.7h0M49.2 220.0h0M95.1 302.2h0M100.5 276.3h0M105.1 285.5h0M16.3 271.5h0M97.2 222.7h0M53.0 224.3h0M21.5 235.6h0M103.1 279.7h0M69.5 279.1h0M48.4 220.3h0M112.3 242.3h0M90.1 275.7h0M97.9 239.8h0M86.1 254.3h0M33.1 243.8h0M88.9 241.0h0M84.6 256.0h0M87.3 289.4h0M112.4 224.7h0M81.7 276.5h0M90.2 241.6h0M86.4 278.6h0M70.4 231.8h0M109.7 230.3h0M62.3 223.9h0M108.6 271.0h0M63.9 228.0h0M13.7 234.1h0M69.1 239.2h0M50.9 224.9h0M86.1 239.2h0M15.4 262.5h0" stroke="#444" stroke-width="1.15" stroke-linecap="round" stroke-opacity="0.85" fill="none"/>
<defs><marker id="ah" viewBox="0 0 10 10" refX="10" refY="5" markerWidth="5.5" markerHeight="5.5" orient="auto-start-reverse"><path d="M0,0 L10,5 L0,10 z" fill="#111"/></marker></defs>
<line x1="293.9" y1="212.2" x2="231.8" y2="209.7" stroke="#111" stroke-width="0.9" marker-end="url(#ah)"/>
<line x1="294.0" y1="212.7" x2="180.4" y2="240.4" stroke="#111" stroke-width="0.9" marker-end="url(#ah)"/>
<line x1="294.2" y1="213.3" x2="171.4" y2="294.5" stroke="#111" stroke-width="0.9" marker-end="url(#ah)"/>
<line x1="295.5" y1="214.1" x2="287.9" y2="302.7" stroke="#111" stroke-width="0.9" marker-end="url(#ah)"/>
<line x1="221.8" y1="211.4" x2="179.7" y2="238.9" stroke="#111" stroke-width="0.9" marker-end="url(#ah)"/>
<line x1="222.8" y1="212.4" x2="169.9" y2="293.0" stroke="#111" stroke-width="0.9" marker-end="url(#ah)"/>
<line x1="285.5" y1="306.5" x2="228.5" y2="215.3" stroke="#111" stroke-width="0.9" marker-end="url(#ah)"/>
<line x1="284.4" y1="307.6" x2="179.8" y2="244.1" stroke="#111" stroke-width="0.9" marker-end="url(#ah)"/>
<line x1="284.0" y1="309.0" x2="172.2" y2="297.8" stroke="#111" stroke-width="0.9" marker-end="url(#ah)"/>
<line x1="175.2" y1="243.9" x2="167.9" y2="292.3" stroke="#111" stroke-width="0.9" marker-end="url(#ah)"/>
<circle cx="224.8" cy="209.4" r="6" fill="#ef6a62"/>
<circle cx="287.3" cy="309.3" r="5.6" fill="#b0ac14"/>
<circle cx="175.6" cy="241.6" r="3.9" fill="#25a45e"/>
<circle cx="167.1" cy="297.3" r="4.1" fill="#3a9fe0"/>
<circle cx="295.7" cy="212.3" r="3" fill="#c679c0"/>
<text x="212.8" y="209.6" font-size="6.5" fill="#333" text-anchor="start" font-weight="normal" font-style="normal"  stroke="#333" stroke-width="0.14">1</text>
<text x="302.3" y="214.4" font-size="6.5" fill="#333" text-anchor="start" font-weight="normal" font-style="normal"  stroke="#333" stroke-width="0.14">5</text>
<text x="164.6" y="243.8" font-size="6.5" fill="#333" text-anchor="start" font-weight="normal" font-style="normal"  stroke="#333" stroke-width="0.14">3</text>
<text x="155.8" y="299.4" font-size="6.5" fill="#333" text-anchor="start" font-weight="normal" font-style="normal"  stroke="#333" stroke-width="0.14">4</text>
<text x="295.8" y="311.6" font-size="6.5" fill="#333" text-anchor="start" font-weight="normal" font-style="normal"  stroke="#333" stroke-width="0.14">2</text>
<text x="56" y="358.4" font-size="8.5" fill="#333" text-anchor="middle" font-weight="normal" font-style="normal"  stroke="#333" stroke-width="0.14">tSNE of CyTOF Data</text>
<path d="M16.2,363.5 V449 H98.8 M12.9,366.5 H16.2 M12.9,377.1 H16.2 M12.9,387.7 H16.2 M12.9,398.3 H16.2 M12.9,408.9 H16.2 M12.9,419.5 H16.2 M12.9,430.1 H16.2 M12.9,440.7 H16.2 M25.1,449 V452.3 M34.8,449 V452.3 M44.4,449 V452.3 M54,449 V452.3 M63.6,449 V452.3 M73.3,449 V452.3 M82.9,449 V452.3 M92.6,449 V452.3" stroke="#222" stroke-width="0.9" fill="none"/>
<text x="57.1" y="463" font-size="7.7" fill="#333" text-anchor="middle" font-weight="normal" font-style="normal" transform="translate(57.1,0) scale(0.715,1) translate(-57.1,0)" stroke="#333" stroke-width="0.35">tSNE1</text>
<text x="0" y="0" font-size="8" fill="#333" text-anchor="middle" stroke="#333" stroke-width="0.35" transform="translate(7.9,405.8) rotate(-90) scale(0.7,1)">tSNE2</text>
<path d="M41.1,380.3 C42.4,378.1 46.6,375.5 48.8,374.9 C51.0,374.3 53.1,374.8 54.2,376.5 C55.4,378.2 55.6,382.2 55.7,384.9 C55.8,387.6 56.0,390.6 54.9,392.6 C53.8,394.7 50.8,396.8 48.8,397.2 C46.8,397.6 43.9,396.4 42.6,394.9 C41.3,393.4 41.4,390.4 41.1,388.0 C40.9,385.6 39.8,382.5 41.1,380.3Z" fill="#ec6a58" fill-opacity="0.9" filter="url(#bl2)"/>
<path d="M43.3 389.9h0M44.3 390.1h0M49.6 390.9h0M54.5 379.9h0M50.2 381.6h0M54.0 387.6h0M46.0 382.6h0M48.3 384.5h0M52.7 378.2h0M52.4 376.5h0M50.4 377.5h0M47.6 391.6h0M46.0 387.3h0M50.1 381.4h0M48.2 390.0h0M41.8 383.6h0M48.7 395.0h0M52.0 376.2h0M46.5 388.7h0M46.9 392.1h0M45.8 381.7h0M49.5 383.4h0M46.5 381.6h0M47.4 394.6h0M52.7 379.7h0M49.7 379.9h0M49.4 388.4h0M42.9 392.0h0M45.6 395.0h0M43.0 383.8h0M48.2 380.1h0M47.4 378.7h0M53.5 376.8h0M43.5 394.0h0M43.0 392.0h0M53.5 385.3h0M42.4 380.7h0M53.7 381.4h0M48.1 396.2h0" stroke="#e04830" stroke-width="1.0" stroke-linecap="round" stroke-opacity="0.85" fill="none"/>
<path d="M44.2 391.6h0M45.9 383.5h0M50.8 394.4h0M41.4 386.8h0M46.2 395.6h0M54.9 384.4h0M48.5 382.4h0M47.4 392.1h0M51.4 386.5h0M46.4 392.5h0M50.6 383.2h0M50.8 377.9h0M51.6 379.1h0M46.4 378.2h0M41.4 381.1h0M51.2 375.6h0M41.5 385.3h0M41.4 386.3h0M50.0 391.3h0M49.1 385.7h0M43.3 389.5h0M44.9 384.2h0M51.5 380.7h0M47.3 392.2h0M55.0 382.9h0M45.5 387.7h0M55.4 386.5h0M51.3 389.9h0M47.6 376.4h0M49.1 387.9h0M41.9 382.8h0M46.0 385.9h0M49.6 383.7h0M47.8 395.0h0M45.3 390.6h0M46.9 392.0h0M52.2 376.8h0M47.8 396.2h0M53.3 383.8h0M48.3 377.3h0M46.2 390.6h0M49.1 388.4h0M42.4 385.7h0" stroke="#f07060" stroke-width="1.0" stroke-linecap="round" stroke-opacity="0.85" fill="none"/>
<path d="M54.3 381.3h0M47.4 381.4h0M46.5 385.0h0M51.2 382.8h0M53.0 383.9h0M51.6 380.4h0M45.6 391.7h0M44.8 381.8h0M44.7 394.5h0M48.5 376.8h0M46.3 378.6h0M46.1 380.8h0M50.7 376.4h0M48.4 389.2h0M48.6 383.9h0M47.0 390.9h0M53.2 390.3h0M53.6 392.4h0M41.6 386.9h0M46.3 396.0h0M50.9 394.9h0M47.3 382.2h0M47.7 388.9h0M45.1 388.3h0M44.9 382.2h0M41.8 386.3h0M46.3 394.4h0M52.1 378.8h0M41.5 381.9h0M48.8 393.9h0M51.4 383.7h0M42.9 389.5h0M45.1 380.3h0M42.4 382.4h0M42.2 392.9h0M53.3 385.7h0M50.2 385.8h0M43.1 384.4h0M53.9 387.7h0M44.3 386.0h0M53.8 380.3h0M45.5 394.2h0M45.1 383.6h0M43.1 383.9h0M44.9 382.0h0M48.6 389.6h0M52.4 378.2h0" stroke="#ffffff" stroke-width="1.0" stroke-linecap="round" stroke-opacity="0.85" fill="none"/>
<path d="M48.5 385.0h0M50.6 384.9h0M42.5 386.6h0M48.0 386.4h0M48.6 378.5h0M50.3 391.2h0M44.6 390.5h0M42.6 390.0h0M53.8 384.7h0M52.0 385.1h0M47.9 387.2h0M45.9 386.0h0M41.9 386.9h0M51.5 391.2h0M46.9 382.8h0M42.6 392.4h0M55.2 383.7h0M43.3 389.8h0M49.9 375.7h0M51.9 392.5h0M46.5 392.1h0M51.3 392.9h0M50.1 381.0h0M52.9 383.8h0M51.6 395.1h0M54.6 386.2h0M52.6 379.3h0M52.5 379.2h0M54.6 390.0h0M53.1 386.8h0M53.5 383.7h0M49.9 394.7h0M48.7 388.0h0M47.8 379.0h0M45.6 384.0h0M46.9 389.5h0M49.9 394.9h0M51.2 383.9h0M55.5 384.1h0M44.9 393.4h0M48.7 383.4h0" stroke="#e85840" stroke-width="1.0" stroke-linecap="round" stroke-opacity="0.85" fill="none"/>
<path d="M30.3,391.1 C31.3,389.3 33.1,387.7 34.9,387.2 C36.7,386.7 39.3,386.8 41.1,388.0 C42.9,389.2 44.7,392.0 45.7,394.2 C46.7,396.4 48.0,399.4 47.2,401.1 C46.4,402.8 43.4,403.9 41.1,404.2 C38.8,404.4 35.4,403.6 33.4,402.6 C31.3,401.6 29.3,399.9 28.8,398.0 C28.3,396.1 29.3,392.9 30.3,391.1Z" fill="#ec6a58" fill-opacity="0.9" filter="url(#bl2)"/>
<path d="M41.3 389.9h0M36.8 397.1h0M45.5 398.5h0M34.3 390.8h0M41.0 394.2h0M42.2 395.8h0M43.8 398.5h0M40.1 402.8h0M37.4 402.1h0M47.0 400.3h0M32.5 392.9h0M40.6 395.7h0M34.9 393.8h0M31.2 396.6h0M33.0 398.1h0M45.7 401.5h0M42.5 392.5h0M30.3 398.3h0M41.8 393.7h0M31.8 400.3h0M41.4 398.5h0M39.6 398.2h0M35.2 398.2h0M44.9 401.5h0M40.3 400.4h0M32.1 396.0h0M42.7 395.6h0M40.4 401.3h0M35.4 396.7h0M34.5 399.6h0M42.7 396.8h0" stroke="#e04830" stroke-width="1.0" stroke-linecap="round" stroke-opacity="0.85" fill="none"/>
<path d="M46.6 401.0h0M32.4 396.7h0M35.3 389.1h0M34.3 401.8h0M31.8 391.6h0M44.3 393.8h0M40.8 392.1h0M35.4 397.2h0M30.8 390.7h0M36.0 388.1h0M35.3 400.2h0M44.1 396.2h0M37.0 388.6h0M30.1 396.5h0M41.1 399.2h0M37.2 400.2h0M40.8 394.2h0M40.4 403.6h0M43.6 393.8h0M34.0 389.2h0M33.9 391.4h0M33.2 390.6h0M39.7 403.0h0M35.1 390.0h0M33.9 401.1h0M37.5 393.4h0M30.6 398.4h0M32.1 400.7h0M35.8 390.9h0M31.7 390.7h0M37.7 390.7h0M36.4 402.0h0M37.1 400.5h0M42.5 392.8h0M40.4 388.5h0M33.4 393.2h0M39.8 403.4h0" stroke="#f07060" stroke-width="1.0" stroke-linecap="round" stroke-opacity="0.85" fill="none"/>
<path d="M31.5 395.5h0M35.4 398.8h0M29.7 394.7h0M38.0 398.0h0M30.5 399.0h0M36.0 395.4h0M41.6 399.0h0M44.3 400.8h0M42.9 399.4h0M33.4 392.7h0M34.0 391.3h0M37.5 395.1h0M32.2 397.8h0M36.2 388.1h0M35.1 390.1h0M38.6 402.1h0M38.4 396.6h0M36.7 402.0h0M36.5 399.1h0M45.7 398.3h0M42.0 394.0h0M41.2 403.2h0M37.0 396.5h0M35.0 394.3h0M40.3 396.8h0M38.0 395.3h0M34.8 397.5h0M41.0 403.2h0M37.4 390.4h0M40.5 399.2h0M36.6 397.7h0M32.1 396.5h0M45.2 396.8h0M39.6 391.9h0M43.0 398.6h0M33.1 392.2h0M32.9 397.5h0M35.7 395.8h0M34.9 387.9h0" stroke="#ffffff" stroke-width="1.0" stroke-linecap="round" stroke-opacity="0.85" fill="none"/>
<path d="M34.8 393.1h0M35.6 400.7h0M36.5 392.1h0M41.2 398.6h0M36.7 387.6h0M36.4 394.8h0M35.3 388.0h0M32.3 394.5h0M39.0 392.8h0M46.1 399.0h0M38.2 399.8h0M30.5 392.0h0M33.8 388.5h0M38.0 398.7h0M38.2 388.3h0M45.1 401.2h0M34.5 401.6h0M35.2 397.9h0M35.2 398.0h0M38.3 388.7h0M34.1 389.1h0M42.0 401.7h0M33.2 396.2h0M31.7 392.1h0M41.1 391.5h0M31.3 399.7h0M38.6 390.1h0M40.8 395.4h0M33.6 399.1h0M43.6 400.7h0M39.3 390.5h0M37.2 401.9h0M40.9 394.6h0M40.6 390.5h0M32.5 400.8h0M38.5 389.6h0M40.7 390.8h0M41.3 402.8h0M41.9 399.6h0M43.6 397.9h0M43.8 402.2h0M31.8 399.7h0M42.1 401.2h0" stroke="#e85840" stroke-width="1.0" stroke-linecap="round" stroke-opacity="0.85" fill="none"/>
<path d="M24.2,408.0 C25.5,405.7 27.5,405.5 30.3,404.9 C33.1,404.3 38.0,404.4 41.1,404.2 C44.2,403.9 46.5,403.1 48.8,403.4 C51.1,403.6 53.4,404.7 54.9,405.7 C56.4,406.7 57.4,407.6 58.0,409.5 C58.6,411.4 59.3,415.1 58.8,417.2 C58.3,419.2 56.6,420.8 54.9,421.8 C53.2,422.8 50.3,422.1 48.8,423.4 C47.3,424.7 47.5,428.0 45.7,429.5 C43.9,431.0 40.6,432.2 38.0,432.6 C35.4,433.0 32.6,432.6 30.3,431.8 C28.0,431.0 25.5,430.2 24.2,428.0 C22.9,425.8 22.6,422.1 22.6,418.8 C22.6,415.5 22.9,410.3 24.2,408.0Z" fill="#6e66cc" fill-opacity="0.9" filter="url(#bl2)"/>
<path d="M40.6 428.4h0M33.8 427.3h0M46.4 421.5h0M45.9 420.9h0M49.2 406.4h0M48.1 418.6h0M36.4 410.0h0M38.4 424.9h0M37.8 415.6h0M51.9 419.1h0M56.0 414.1h0M35.2 415.5h0M46.3 423.5h0M49.9 409.6h0M40.7 422.5h0M43.4 427.7h0M49.0 409.8h0M40.1 407.0h0M31.2 430.7h0M33.4 406.6h0M26.6 413.3h0M38.4 423.9h0M48.1 418.3h0M38.9 430.0h0M43.9 421.3h0M43.9 418.7h0M26.0 418.1h0M45.5 428.1h0M42.7 413.9h0M40.2 412.0h0M27.2 424.7h0M36.7 410.0h0M25.3 423.8h0M51.4 417.0h0M41.7 415.8h0M58.2 415.7h0M44.9 404.9h0M39.7 430.5h0M23.7 414.1h0M36.2 407.8h0M34.4 416.5h0M38.4 429.5h0M45.0 415.3h0M50.8 405.5h0M43.6 410.6h0M52.9 415.3h0M48.4 418.0h0M47.7 423.6h0M38.5 414.7h0M55.0 410.6h0M40.9 408.2h0M54.8 406.0h0M26.1 413.8h0M35.9 429.0h0M51.1 412.1h0M45.5 425.1h0M42.0 425.9h0M55.2 415.8h0M42.1 419.5h0M54.3 405.6h0M38.0 431.1h0M51.0 417.4h0M31.1 410.1h0M29.7 421.5h0M58.0 412.6h0M24.7 407.9h0M52.4 406.5h0M57.4 417.3h0M37.8 425.9h0M32.4 418.8h0M27.5 429.2h0M38.2 429.4h0M23.5 415.9h0M52.4 405.0h0M30.8 415.5h0M39.4 421.4h0M25.1 419.6h0M38.5 414.0h0M48.8 422.9h0M51.6 413.7h0M25.6 408.1h0M32.9 418.5h0M46.1 425.9h0M52.5 410.7h0M50.7 408.8h0M49.8 404.8h0M40.9 421.7h0M34.9 424.9h0M28.1 429.0h0M32.6 416.6h0M38.9 416.6h0M42.0 406.4h0M50.9 410.1h0M50.7 415.9h0M37.5 415.9h0M23.7 411.7h0M24.1 413.2h0M29.9 408.1h0M45.3 423.8h0M30.8 427.4h0M43.8 418.9h0M36.6 426.5h0M53.5 409.2h0M52.0 417.4h0M58.2 413.3h0M43.8 426.7h0M45.8 417.4h0M41.9 428.6h0M47.5 416.2h0M25.9 416.8h0" stroke="#5048c0" stroke-width="1.0" stroke-linecap="round" stroke-opacity="0.85" fill="none"/>
<path d="M57.1 409.6h0M52.0 417.3h0M53.3 416.3h0M27.2 414.2h0M54.5 411.7h0M38.4 411.6h0M23.3 420.6h0M53.0 405.5h0M31.7 413.4h0M40.8 410.2h0M26.2 420.5h0M47.1 416.9h0M55.9 419.8h0M47.9 418.3h0M37.7 417.4h0M32.9 414.5h0M47.6 420.6h0M48.0 419.3h0M43.2 419.6h0M46.5 423.1h0M33.2 410.2h0M41.9 416.1h0M50.5 406.0h0M34.3 427.9h0M29.3 419.4h0M26.8 425.1h0M30.0 418.5h0M48.3 413.5h0M29.7 419.9h0M36.5 422.6h0M34.2 411.0h0M49.8 420.7h0M31.4 418.5h0M29.7 413.3h0M43.8 410.1h0M37.8 418.4h0M35.1 424.6h0M45.6 413.2h0M41.7 407.9h0M26.8 428.0h0M31.8 426.2h0M50.9 418.9h0M36.0 406.9h0M26.9 417.9h0M26.5 414.9h0M27.8 421.7h0M54.2 419.5h0M52.7 418.1h0M40.4 411.5h0M47.1 412.6h0M41.4 408.7h0M29.2 412.4h0M42.3 406.9h0M56.8 408.2h0M27.8 430.2h0M49.6 418.5h0M53.9 414.8h0M32.6 411.5h0M31.8 415.4h0M31.9 415.0h0M32.1 419.4h0M48.9 410.2h0M29.6 430.7h0M32.8 422.0h0M29.3 406.9h0M39.3 428.3h0M41.9 406.8h0M36.6 424.9h0M28.6 419.2h0M50.4 413.8h0M24.5 417.4h0M39.9 424.2h0M48.0 423.3h0M55.4 417.3h0M40.9 405.7h0M53.6 411.1h0M54.6 418.5h0M23.4 416.6h0M48.1 410.2h0M34.2 417.7h0M56.5 409.7h0M43.3 426.5h0M26.8 427.9h0M53.0 417.9h0" stroke="#6a62cc" stroke-width="1.0" stroke-linecap="round" stroke-opacity="0.85" fill="none"/>
<path d="M43.4 408.8h0M27.9 409.6h0M40.6 420.0h0M36.3 411.9h0M34.8 410.1h0M48.5 418.8h0M35.6 430.7h0M42.1 427.3h0M57.0 409.2h0M53.8 416.7h0M39.5 416.8h0M31.9 422.7h0M50.4 420.2h0M46.7 410.1h0M38.7 420.4h0M30.8 417.9h0M43.8 417.5h0M42.9 421.5h0M52.8 421.1h0M49.4 409.2h0M40.7 426.4h0M56.8 409.5h0M26.1 412.6h0M48.3 415.2h0M45.8 419.9h0M24.6 417.7h0M38.4 420.3h0M45.7 418.3h0M53.1 412.8h0M37.4 423.7h0M34.2 408.4h0M32.7 430.0h0M44.1 419.3h0M40.8 411.4h0M48.6 407.4h0M30.9 424.8h0M45.2 404.5h0M37.5 423.1h0M46.2 419.0h0M49.2 408.3h0M26.7 416.3h0M47.8 422.8h0M53.5 406.5h0M55.1 407.6h0M35.6 415.0h0M40.9 413.4h0M25.5 413.7h0M29.6 409.9h0M25.9 415.1h0M44.6 423.2h0M54.7 421.3h0M47.6 416.3h0M48.0 405.5h0M45.0 424.6h0M42.1 412.0h0M27.0 419.8h0M41.6 408.0h0M39.1 409.9h0M34.6 407.2h0M40.2 414.6h0M51.0 417.2h0M44.2 425.9h0M44.4 419.5h0M25.4 424.6h0M33.0 424.8h0M26.3 424.2h0M45.9 424.8h0M35.1 413.3h0M32.1 427.9h0M35.4 429.4h0M52.2 415.1h0M35.9 420.1h0M40.6 424.7h0M32.0 413.2h0M28.3 429.9h0M27.3 427.2h0M33.0 427.6h0M38.5 423.5h0M51.5 408.3h0M52.1 418.5h0M43.5 406.3h0M31.0 416.2h0M42.5 419.9h0M26.3 423.0h0M36.1 417.1h0M33.2 424.3h0M32.9 419.8h0M32.3 411.7h0M34.0 418.3h0M50.7 406.9h0M39.4 412.2h0M55.0 414.6h0M32.1 416.8h0M48.9 421.8h0M30.9 424.7h0M30.9 409.4h0M38.7 429.1h0M33.5 406.5h0M40.1 405.7h0M55.9 418.8h0M53.4 411.5h0M47.5 408.2h0M49.7 417.1h0M24.8 427.2h0M54.9 408.6h0M36.4 425.6h0" stroke="#ffffff" stroke-width="1.0" stroke-linecap="round" stroke-opacity="0.85" fill="none"/>
<path d="M57.6 417.0h0M39.7 419.7h0M25.1 410.7h0M32.4 423.0h0M40.9 416.5h0M54.1 406.7h0M28.5 417.4h0M38.3 407.6h0M40.9 410.6h0M46.4 407.8h0M24.9 422.0h0M32.8 419.7h0M49.2 408.8h0M31.0 425.4h0M50.1 405.6h0M52.7 417.0h0M53.8 419.7h0M32.3 424.8h0M34.7 424.8h0M39.8 430.0h0M34.7 406.8h0M54.2 418.2h0M30.6 419.8h0M49.8 412.7h0M27.0 416.9h0M53.6 420.9h0M40.9 414.2h0M46.2 417.0h0M28.2 410.4h0M43.1 417.0h0M37.3 413.2h0M51.0 420.1h0M41.7 404.4h0M37.9 429.8h0M35.9 418.1h0M49.5 414.5h0M25.5 418.1h0M27.6 412.7h0M27.2 427.5h0M38.6 431.7h0M31.6 416.8h0M39.9 406.9h0M32.0 423.8h0M41.6 408.0h0M35.5 419.9h0M50.3 409.5h0M25.7 412.8h0M49.1 418.4h0M36.2 405.5h0M27.6 420.7h0M45.7 403.7h0M29.3 417.4h0M49.1 416.8h0M34.2 418.0h0M51.1 409.2h0M29.2 424.7h0M33.1 414.5h0M40.2 416.2h0M33.6 409.6h0M45.8 418.0h0M50.7 405.1h0M41.2 428.5h0M29.1 417.1h0M26.7 420.0h0M49.8 407.2h0M25.2 411.8h0M42.8 404.2h0M55.1 410.3h0M38.6 412.2h0M40.5 412.5h0M48.9 405.3h0M43.1 423.1h0M37.0 425.4h0M28.9 430.1h0M37.5 430.6h0M53.3 413.8h0M29.2 414.3h0M27.7 422.8h0M23.8 420.5h0M35.7 418.7h0M40.5 413.2h0M36.0 423.1h0M45.9 428.1h0M34.2 414.6h0M38.8 413.0h0M24.4 426.9h0M48.4 419.2h0M35.0 415.5h0M31.6 429.3h0M29.4 423.8h0M43.3 416.3h0M29.0 420.6h0M25.6 419.0h0M34.9 421.9h0M45.9 428.4h0M34.8 405.5h0M40.6 412.0h0M36.1 417.0h0M29.4 406.7h0M57.0 411.6h0M52.1 406.2h0M35.5 419.3h0M30.8 410.8h0M43.8 421.8h0M51.4 412.8h0M44.5 406.5h0M27.3 407.4h0M32.9 431.8h0M23.9 422.5h0M31.6 407.6h0M38.7 410.7h0" stroke="#4a40b0" stroke-width="1.0" stroke-linecap="round" stroke-opacity="0.85" fill="none"/>
<path d="M37.5 413.7h0M39.9 426.7h0M45.4 419.6h0M26.4 415.5h0M45.5 410.7h0M26.5 418.3h0M43.9 410.3h0M50.5 419.5h0M53.2 416.4h0M34.2 432.2h0M33.3 428.2h0M43.5 427.7h0M28.9 422.6h0M37.3 426.1h0M41.0 419.5h0M46.5 404.0h0M32.1 425.3h0M44.3 419.2h0M44.1 418.4h0M45.2 411.1h0M25.8 418.5h0M33.7 421.7h0M48.5 406.2h0M36.4 405.8h0M40.4 425.1h0M30.1 408.1h0M30.6 407.3h0M41.2 409.1h0M53.0 418.3h0M31.1 429.4h0M49.8 414.5h0M57.9 416.5h0M24.0 412.8h0M50.3 405.2h0M37.2 422.6h0M28.2 419.4h0M48.6 404.3h0M33.0 405.1h0M42.5 413.1h0M40.3 430.3h0M50.8 414.0h0M43.3 405.3h0M57.4 412.9h0M45.9 423.9h0M30.1 424.9h0M30.2 413.0h0M35.3 427.0h0M27.1 415.8h0M55.1 417.2h0M51.9 412.6h0M33.7 414.6h0M25.6 420.7h0M49.9 415.4h0M47.1 414.2h0M52.7 406.6h0M32.3 407.2h0M34.3 409.9h0M37.8 411.6h0M42.7 428.5h0M45.2 407.4h0M27.2 415.3h0M33.4 423.7h0M40.6 414.6h0M40.1 424.7h0M55.6 412.2h0M41.0 408.0h0M24.0 412.8h0M53.8 409.9h0M52.6 412.7h0M49.6 413.3h0M27.0 418.9h0M31.6 407.5h0M58.1 416.4h0M55.8 416.3h0M29.9 419.1h0M29.7 418.9h0M35.7 410.9h0M47.2 411.7h0M25.3 420.1h0M48.5 405.2h0M24.0 418.2h0M53.6 409.1h0M45.4 411.1h0M24.3 426.3h0M24.4 408.3h0M36.9 408.2h0M41.1 423.0h0M42.5 423.7h0M28.8 427.5h0M27.2 414.8h0M34.0 431.4h0M34.7 406.8h0M50.5 409.5h0M44.6 421.9h0M46.0 406.8h0M29.4 423.6h0M49.4 405.6h0M53.4 408.9h0M38.5 415.9h0M56.1 408.3h0M44.1 414.2h0M54.2 405.5h0M25.8 426.0h0M34.0 424.7h0M24.7 411.0h0M45.2 416.9h0M30.3 424.6h0M26.4 423.0h0M29.6 411.5h0" stroke="#5850c4" stroke-width="1.0" stroke-linecap="round" stroke-opacity="0.85" fill="none"/>
<path d="M45.7,423.4 C47.1,421.3 51.1,421.1 53.4,420.3 C55.7,419.5 57.7,418.3 59.5,418.8 C61.3,419.3 62.4,421.6 64.2,423.4 C66.0,425.2 69.0,427.4 70.3,429.5 C71.6,431.6 72.6,434.1 71.8,435.7 C71.0,437.2 68.2,438.0 65.7,438.8 C63.2,439.6 59.3,440.3 56.5,440.3 C53.7,440.3 50.7,440.1 48.8,438.8 C46.9,437.5 45.4,435.2 44.9,432.6 C44.4,430.0 44.3,425.4 45.7,423.4Z" fill="#78d0e0" fill-opacity="0.9" filter="url(#bl2)"/>
<path d="M64.6 438.5h0M63.8 424.6h0M59.5 428.8h0M56.3 430.8h0M56.4 426.2h0M65.8 430.7h0M57.8 427.0h0M60.1 438.2h0M60.2 421.9h0M51.7 435.3h0M52.6 430.7h0M58.4 429.6h0M60.0 421.5h0M52.2 435.9h0M65.0 437.9h0M55.3 437.1h0M56.2 433.1h0M58.6 428.2h0M51.4 437.2h0M50.9 428.9h0M65.7 430.6h0M51.9 436.6h0M59.8 433.5h0M70.6 434.0h0M45.7 426.2h0M69.1 434.2h0M57.9 439.1h0M56.7 437.9h0M64.7 437.4h0M49.2 429.0h0M47.5 428.0h0M56.7 428.1h0M60.0 420.8h0M61.0 426.0h0M45.3 430.8h0M52.5 426.1h0M47.7 436.1h0M61.6 424.8h0M54.3 429.0h0M63.1 424.6h0M63.4 429.0h0M64.9 437.4h0M50.8 432.5h0M57.9 438.0h0M58.9 419.0h0M52.3 431.4h0M61.2 431.9h0M60.5 433.9h0M62.0 433.6h0M56.9 439.4h0M48.5 425.8h0M62.2 434.6h0M61.6 426.1h0M47.3 435.4h0M49.1 431.5h0M63.8 436.9h0M53.1 434.9h0M57.3 438.4h0M65.5 429.1h0M46.9 424.9h0M68.2 436.1h0M53.6 430.1h0M56.3 434.3h0" stroke="#50c0d4" stroke-width="1.0" stroke-linecap="round" stroke-opacity="0.85" fill="none"/>
<path d="M59.3 419.1h0M45.6 431.8h0M68.6 431.6h0M69.8 432.5h0M60.8 431.0h0M52.3 421.1h0M47.8 426.6h0M53.2 425.4h0M61.0 434.4h0M47.5 434.5h0M64.5 437.3h0M60.2 420.5h0M64.6 430.3h0M45.3 430.9h0M66.2 430.6h0M55.8 429.9h0M59.5 428.8h0M46.8 425.6h0M48.6 435.0h0M56.1 424.5h0M59.1 424.4h0M59.6 424.4h0M48.1 427.5h0M58.2 438.4h0M60.9 421.8h0M54.1 423.3h0M62.2 439.3h0M45.4 429.4h0M65.2 424.4h0M57.0 424.7h0M48.8 437.6h0M56.7 437.7h0M68.5 431.1h0M57.1 437.1h0M64.1 426.2h0M48.5 434.2h0M68.8 437.1h0M46.9 426.9h0M59.2 433.4h0M49.3 430.7h0M56.6 421.6h0M66.9 430.0h0M47.2 426.4h0M56.1 429.5h0M50.1 433.5h0M63.7 429.3h0M54.7 426.0h0M55.5 434.0h0M60.8 425.4h0M58.0 431.4h0M67.0 434.1h0M70.2 435.6h0M58.4 438.6h0M51.5 438.7h0M52.3 422.0h0M59.4 437.6h0M50.9 434.5h0M61.2 438.2h0M54.5 435.1h0M62.0 437.5h0M63.7 439.0h0M58.1 421.7h0M64.0 424.5h0M53.3 421.8h0M53.5 431.0h0M59.6 438.2h0M69.0 434.0h0M59.5 426.0h0M51.5 433.6h0M55.8 438.9h0M64.0 433.5h0M52.0 426.2h0M51.2 437.9h0M54.2 436.4h0M57.8 436.6h0M55.4 430.3h0M48.9 429.2h0M56.5 430.5h0" stroke="#70ccdc" stroke-width="1.0" stroke-linecap="round" stroke-opacity="0.85" fill="none"/>
<path d="M58.1 430.0h0M67.3 428.7h0M61.3 430.5h0M59.0 427.4h0M48.9 429.5h0M49.1 422.8h0M57.7 423.6h0M55.4 432.1h0M54.4 438.3h0M55.0 431.5h0M67.4 428.2h0M70.1 430.6h0M61.0 434.9h0M57.1 425.9h0M59.1 425.4h0M57.4 434.9h0M63.5 432.4h0M63.7 432.7h0M47.2 429.2h0M59.3 427.2h0M64.6 433.5h0M65.6 427.9h0M55.8 430.1h0M51.7 425.7h0M56.8 436.8h0M46.9 423.1h0M57.8 427.6h0M54.1 434.6h0M62.0 423.9h0M61.2 432.5h0M46.9 433.2h0M67.2 427.9h0M67.7 429.4h0M52.3 435.2h0M57.4 423.5h0M57.1 433.0h0M59.6 430.3h0M68.2 434.0h0M58.0 437.6h0M59.9 427.3h0M65.6 426.3h0M49.4 421.9h0M51.1 428.3h0M66.2 427.7h0M59.5 431.6h0M57.9 437.5h0M64.4 432.0h0M64.5 436.4h0M57.2 435.7h0M47.4 435.0h0M66.5 427.4h0M48.3 424.6h0M52.4 433.1h0M63.7 427.7h0M63.4 428.3h0M57.3 426.8h0M47.2 422.9h0M62.1 433.3h0M47.9 431.5h0M52.1 439.4h0M61.1 428.1h0M69.8 436.6h0M46.1 431.9h0M67.0 428.1h0M70.7 435.9h0M50.5 421.6h0M48.2 437.2h0M55.5 423.0h0M57.7 423.0h0M66.5 430.9h0M45.5 427.0h0M55.6 421.6h0M47.0 430.9h0M63.2 429.8h0M58.4 429.4h0M60.6 429.9h0M51.3 423.0h0M53.0 427.9h0" stroke="#ffffff" stroke-width="1.0" stroke-linecap="round" stroke-opacity="0.85" fill="none"/>
<path d="M61.1 421.5h0M48.8 435.5h0M59.4 422.0h0M56.6 432.7h0M63.3 429.8h0M52.7 428.6h0M62.4 437.4h0M63.7 439.1h0M57.2 419.5h0M58.2 425.8h0M47.5 430.3h0M62.6 434.7h0M62.6 432.2h0M52.5 424.8h0M55.9 431.8h0M58.0 428.1h0M60.0 434.6h0M60.7 436.8h0M57.9 423.4h0M58.0 438.0h0M54.3 426.4h0M46.5 432.8h0M60.9 425.0h0M51.4 434.0h0M56.9 440.1h0M50.3 438.0h0M52.5 426.0h0M57.5 428.0h0M60.9 436.5h0M48.9 424.0h0M56.3 437.5h0M56.2 428.3h0M50.7 422.9h0M66.2 435.1h0M51.5 423.8h0M61.2 435.9h0M55.9 434.4h0M50.6 424.5h0M61.1 423.0h0M52.3 434.5h0M57.3 428.4h0M54.7 426.5h0M46.1 424.2h0M66.3 434.6h0M53.7 426.2h0M63.5 430.2h0M67.7 434.6h0M67.8 428.3h0M47.8 433.8h0M58.7 420.7h0M48.3 437.3h0M55.0 426.7h0M65.8 437.9h0M47.8 425.7h0M48.7 424.6h0M52.2 439.4h0M48.9 432.7h0M56.4 434.4h0M55.1 430.9h0M63.1 422.8h0M47.3 426.1h0M69.4 431.8h0M51.1 425.1h0M46.1 427.4h0M52.1 424.7h0M62.2 438.6h0M56.9 439.0h0M63.0 428.1h0M48.7 437.5h0M52.9 434.9h0M46.8 427.2h0M59.1 432.2h0M55.7 434.4h0M49.4 433.9h0M55.6 429.5h0M58.7 435.1h0M63.3 434.3h0M60.2 439.3h0M54.1 429.6h0M63.1 431.4h0M56.8 425.9h0" stroke="#48b8d0" stroke-width="1.0" stroke-linecap="round" stroke-opacity="0.85" fill="none"/>
<ellipse cx="58" cy="398.8" rx="4.4" ry="3.8" fill="#6cc8d8" fill-opacity="0.85"/>
<ellipse cx="61.1" cy="375.8" rx="2.4" ry="2.6" fill="#78c840" fill-opacity="0.9"/>
<ellipse cx="63.4" cy="388.8" rx="2.4" ry="3.8" fill="#6cc43c" fill-opacity="0.9"/>
<ellipse cx="64.2" cy="407.4" rx="3.4" ry="4" fill="#44b84c" fill-opacity="0.9"/>
<ellipse cx="71.1" cy="421" rx="5" ry="3.5" fill="#50b870" fill-opacity="0.9"/>
<ellipse cx="77.2" cy="409.2" rx="7" ry="6.2" fill="#e0409c" fill-opacity="0.9"/>
<path d="M72.9 410.8h0M78.4 411.7h0M78.8 404.1h0M81.3 409.0h0M80.0 404.0h0M77.3 414.9h0M71.5 404.6h0M75.3 410.0h0M79.6 415.4h0M73.9 405.2h0M75.6 410.1h0M80.8 403.5h0M80.7 415.1h0M79.8 408.7h0M71.0 405.7h0M78.6 404.2h0" stroke="#f080c0" stroke-width="0.9" stroke-linecap="round" stroke-opacity="0.7" fill="none"/>
<path d="M73.2 413.0h0M81.3 410.4h0M76.2 410.9h0M79.4 405.5h0M81.3 404.5h0M82.0 414.4h0M72.5 404.2h0M75.4 404.9h0M77.3 409.7h0M73.3 412.3h0M73.2 411.9h0M74.3 406.7h0M83.0 409.2h0M72.8 406.9h0" stroke="#ffffff" stroke-width="0.9" stroke-linecap="round" stroke-opacity="0.7" fill="none"/>
<ellipse cx="78" cy="409.5" rx="9.6" ry="8.4" fill="none" stroke="#24215a" stroke-width="0.9"/>
<ellipse cx="81.1" cy="393.4" rx="3.2" ry="3" fill="#e8c838" fill-opacity="0.9"/>
<ellipse cx="84.5" cy="391" rx="1.8" ry="1.6" fill="#e8c838" fill-opacity="0.9"/>
<ellipse cx="71" cy="381.6" rx="2" ry="2" fill="#e8c838" fill-opacity="0.9"/>
<ellipse cx="74" cy="383.6" rx="3.4" ry="2.4" fill="#a050d0" fill-opacity="0.85"/>
<ellipse cx="85.7" cy="397.2" rx="1.4" ry="1.2" fill="#7040c0" fill-opacity="0.9"/>
<ellipse cx="69.5" cy="401" rx="1.3" ry="1.3" fill="#7040c0" fill-opacity="0.8"/>
<ellipse cx="64.2" cy="440.3" rx="1.8" ry="1.3" fill="#2a2a70" fill-opacity="0.9"/>
<ellipse cx="90.3" cy="409.5" rx="1.2" ry="1.2" fill="#d07050" fill-opacity="0.9"/>
<ellipse cx="36" cy="393" rx="1.2" ry="1.2" fill="#2a2a70" fill-opacity="0.8"/>
<ellipse cx="45" cy="414" rx="1.2" ry="1.2" fill="#2a2a70" fill-opacity="0.8"/>
<text x="98.4" y="391.7" font-size="6.3" fill="#3f3a9c" text-anchor="start" font-weight="normal" font-style="normal" stroke="#3f3a9c" stroke-width="0.12">CD19<tspan font-size="4.5" dy="-2.6">+</tspan></text>
<text x="98.4" y="398.4" font-size="6.3" fill="#3f3a9c" text-anchor="start" font-weight="normal" font-style="normal" stroke="#3f3a9c" stroke-width="0.12">CD22<tspan font-size="4.5" dy="-2.6">+</tspan></text>
<text x="98.4" y="405.09999999999997" font-size="6.3" fill="#3f3a9c" text-anchor="start" font-weight="normal" font-style="normal" stroke="#3f3a9c" stroke-width="0.12">CD33<tspan font-size="4.5" dy="-2.6">+</tspan></text>
<text x="98.4" y="411.8" font-size="6.3" fill="#3f3a9c" text-anchor="start" font-weight="normal" font-style="normal" stroke="#3f3a9c" stroke-width="0.12">CD34<tspan font-size="4.5" dy="-2.6">+</tspan></text>
<text x="98.4" y="418.5" font-size="6.3" fill="#3f3a9c" text-anchor="start" font-weight="normal" font-style="normal" stroke="#3f3a9c" stroke-width="0.12">CD27<tspan font-size="4.5" dy="-2.6">+</tspan></text>
<text x="98.4" y="425.2" font-size="6.3" fill="#3f3a9c" text-anchor="start" font-weight="normal" font-style="normal" stroke="#3f3a9c" stroke-width="0.12">CD45RA<tspan font-size="4.5" dy="-2.6">+</tspan></text>
<text x="98.4" y="431.9" font-size="6.3" fill="#3f3a9c" text-anchor="start" font-weight="normal" font-style="normal" stroke="#3f3a9c" stroke-width="0.12">HLA-DR<tspan font-size="4" dy="-2.6">low</tspan></text>
<text x="213.4" y="342.4" font-size="8.4" fill="#333" text-anchor="middle" font-weight="normal" font-style="normal"  stroke="#333" stroke-width="0.14">Frequency in</text>
<text x="213.2" y="352.1" font-size="8.4" fill="#333" text-anchor="middle" font-weight="normal" font-style="normal"  stroke="#333" stroke-width="0.14">Cluster 16</text>
<path d="M179.5,358 V449 H247.7 M176.5,425.9 H179.5 M176.5,405.5 H179.5 M176.5,385.0 H179.5 M176.5,364.6 H179.5 M197.6,446.5 V452 M224,446.5 V452" stroke="#2a2a2a" stroke-width="1.2" fill="none"/>
<text x="171.6" y="428.34999999999997" font-size="6.8" fill="#333" text-anchor="middle" font-weight="normal" font-style="normal"  stroke="#333" stroke-width="0.14">1</text>
<text x="171.6" y="407.9" font-size="6.8" fill="#333" text-anchor="middle" font-weight="normal" font-style="normal"  stroke="#333" stroke-width="0.14">2</text>
<text x="171.6" y="387.44999999999993" font-size="6.8" fill="#333" text-anchor="middle" font-weight="normal" font-style="normal"  stroke="#333" stroke-width="0.14">3</text>
<text x="171.6" y="366.99999999999994" font-size="6.8" fill="#333" text-anchor="middle" font-weight="normal" font-style="normal"  stroke="#333" stroke-width="0.14">4</text>
<text font-size="8" fill="#333" text-anchor="middle" stroke="#333" stroke-width="0.15" transform="translate(164.6,403.3) rotate(-90) scale(0.78,1)">Frequency (% of total cells)</text>
<path d="M224.3,365.2 V384.8 M224.3,407.5 V409.2 M221.8,365.2 H226.8 M221.8,409.2 H226.8" stroke="#333" stroke-width="0.8"/>
<rect x="218.8" y="384.8" width="11" height="22.7" fill="#ef7b63" stroke="#333" stroke-width="0.8"/>
<path d="M218.8,404 H229.8" stroke="#333" stroke-width="0.8"/>
<path d="M197.6,416.3 V427 M197.6,436.4 V441.3 M195.1,416.3 H200.1 M195.1,441.3 H200.1" stroke="#333" stroke-width="0.8"/>
<rect x="191.9" y="427" width="11.4" height="9.4" fill="#1e85b8" stroke="#333" stroke-width="0.8"/>
<path d="M191.9,430.3 H203.3" stroke="#333" stroke-width="0.8"/>
<text x="228.3" y="439.8" font-size="6.6" fill="#333" text-anchor="start" font-weight="normal" font-style="normal"  stroke="#333" stroke-width="0.14"><tspan font-style="italic">P</tspan> = .01</text>
<circle cx="181.3" cy="457.5" r="2.8" fill="#ef7b6b"/>
<text x="187" y="459.6" font-size="5.7" fill="#444" text-anchor="start" font-weight="normal" font-style="normal"  stroke="#444" stroke-width="0.14">Primary Non-Responder</text>
<circle cx="181.3" cy="467.7" r="2.8" fill="#1e85b8"/>
<text x="187" y="469.8" font-size="5.6" fill="#444" text-anchor="start" font-weight="normal" font-style="normal"  stroke="#444" stroke-width="0.14">Primary Sensitive</text>
<text x="127.2" y="509.6" font-size="6.35" fill="#333" text-anchor="middle" font-weight="normal" font-style="normal"  stroke="#333" stroke-width="0.14">Antigen Presentation and Processing</text>
<path d="M71.9,515.6 V603 M71.9,517.3 H183 M69.2,517.3 H71.9 M69.2,538.5 H71.9 M69.2,559.7 H71.9 M69.2,580.9 H71.9" stroke="#2a2a2a" stroke-width="1.25" fill="none"/>
<text x="65.3" y="519.5" font-size="6.3" fill="#333" text-anchor="end" font-weight="normal" font-style="normal"  stroke="#333" stroke-width="0.14">0.00</text>
<text x="65.3" y="540.7" font-size="6.3" fill="#333" text-anchor="end" font-weight="normal" font-style="normal"  stroke="#333" stroke-width="0.14">−0.25</text>
<text x="65.3" y="561.9000000000001" font-size="6.3" fill="#333" text-anchor="end" font-weight="normal" font-style="normal"  stroke="#333" stroke-width="0.14">−0.50</text>
<text x="65.3" y="583.1" font-size="6.3" fill="#333" text-anchor="end" font-weight="normal" font-style="normal"  stroke="#333" stroke-width="0.14">−0.75</text>
<text font-size="7.3" fill="#333" text-anchor="middle" stroke="#333" stroke-width="0.12" transform="translate(43.8,560) rotate(-90) scale(0.87,1)">Enrichment score</text>
<path d="M78,517.3 L172,598.4 L173.5,595 L174.5,585 L175.3,580 L176,560 L177,523" stroke="#b0c84a" stroke-width="1.2" fill="none"/>
<path d="M172.8,511.8 V522.5 M174.4,511.8 V522.5 M176,511.8 V522.5 M177.3,511.8 V522.5" stroke="#111" stroke-width="0.9"/>
<path d="M72,599.4 H183" stroke="#e03030" stroke-width="0.8" stroke-dasharray="1.5,1.2"/>
<defs><linearGradient id="pnr" x1="0" x2="1" y1="0" y2="0"><stop offset="0" stop-color="#2a8ec4"/><stop offset="0.5" stop-color="#9a8aa0"/><stop offset="1" stop-color="#f07868"/></linearGradient></defs>
<rect x="72.3" y="603.5" width="110.4" height="7.3" fill="url(#pnr)"/>
<path d="M72,603.3 H183" stroke="#111" stroke-width="0.8"/>
<text x="81.5" y="584.6" font-size="5.8" fill="#333" text-anchor="start" font-weight="normal" font-style="normal"  stroke="#333" stroke-width="0.14"><tspan font-style="italic">P</tspan> adjusted = 3.58E-3</text>
<text x="81.5" y="591.5" font-size="5.8" fill="#333" text-anchor="start" font-weight="normal" font-style="normal"  stroke="#333" stroke-width="0.14">NES = -1.59</text>
<text x="127.3" y="621.5" font-size="8.5" fill="#222" text-anchor="middle" font-weight="normal" font-style="normal" transform="translate(127.3,0) scale(0.68,1) translate(-127.3,0)" stroke="#222" stroke-width="0.12">Decreased Expression in PNR</text>
<text x="198" y="511.7" font-size="8.4" fill="#333" text-anchor="start" font-weight="normal" font-style="normal"  stroke="#333" stroke-width="0.14">Antigen Presentation and Processing Pathway Expression</text>
<text x="248" y="523" font-size="6.2" fill="#333" text-anchor="middle" font-weight="normal" font-style="normal"  stroke="#333" stroke-width="0.14">Primary Non-Responders</text>
<text x="371.3" y="523.2" font-size="6.2" fill="#333" text-anchor="middle" font-weight="normal" font-style="normal"  stroke="#333" stroke-width="0.14">Primary Sensitive</text>
<defs><pattern id="pjl" width="40" height="40" patternUnits="userSpaceOnUse"><path d="M13.0 24.8h0M10.5 8.0h0M1.2 25.9h0M10.0 5.9h0M29.5 20.5h0M2.8 10.0h0M34.0 11.8h0M19.0 12.8h0M28.1 34.2h0M20.0 18.7h0M29.8 10.2h0M7.6 18.1h0M13.1 36.1h0M10.3 39.5h0M10.3 -0.5h0M32.6 9.2h0M33.5 36.0h0M25.9 2.7h0M26.3 21.2h0M25.0 8.9h0M23.6 9.8h0M22.9 2.9h0M36.7 1.4h0M29.6 1.3h0M2.9 3.6h0M33.2 6.2h0M35.1 38.8h0M17.0 22.1h0M8.2 18.5h0M29.8 22.4h0M11.6 14.5h0M31.5 32.8h0M15.2 24.4h0M15.1 7.3h0M12.1 25.7h0M36.6 33.4h0M25.9 1.3h0M6.1 23.2h0M24.6 30.9h0M29.3 5.9h0M3.2 1.4h0M34.1 10.5h0M30.5 17.4h0M26.1 38.8h0M28.5 23.6h0M39.6 17.4h0M-0.4 17.4h0M31.1 5.7h0M9.1 13.0h0M20.1 8.8h0M19.8 7.5h0M36.7 6.7h0M14.2 4.0h0M14.0 22.3h0M5.3 13.8h0M39.8 6.0h0M-0.2 6.0h0M18.3 14.5h0M3.0 22.1h0M22.6 28.9h0M20.2 31.9h0M1.4 11.7h0M26.2 25.9h0M22.2 5.7h0M38.2 38.1h0M5.4 24.9h0M9.6 5.1h0M21.6 39.4h0M21.6 -0.6h0M5.7 30.1h0M5.6 2.1h0M21.6 17.0h0M11.0 34.9h0M22.0 26.8h0M17.2 2.7h0M12.7 24.3h0M37.5 7.0h0M28.5 12.6h0M21.5 20.3h0M30.3 34.2h0M11.0 0.9h0M11.0 40.9h0M5.4 19.9h0M30.8 10.8h0M36.1 22.2h0M39.7 1.5h0M-0.3 1.5h0M5.0 35.4h0M19.1 11.2h0M20.1 27.2h0M20.6 31.9h0M18.6 4.2h0M29.0 34.4h0M25.1 7.5h0M35.8 19.4h0M20.9 32.5h0M32.9 19.5h0M14.0 33.5h0M32.4 32.2h0M34.4 15.9h0M10.3 28.3h0M26.8 20.4h0M25.0 14.0h0M34.5 18.7h0M33.6 13.4h0M13.7 8.8h0M15.3 6.1h0M31.4 5.1h0M27.5 35.5h0M34.7 18.0h0M4.6 14.7h0M12.1 12.0h0M20.8 27.3h0M9.9 13.2h0M39.1 17.2h0M-0.9 17.2h0M13.6 31.6h0M22.9 31.2h0M39.1 9.4h0M-0.9 9.4h0M31.6 6.3h0M7.7 29.0h0M25.9 34.0h0M19.7 12.3h0M28.9 0.6h0M28.9 40.6h0M28.9 6.6h0M35.0 9.0h0M2.8 26.6h0M1.5 29.8h0M3.8 22.6h0M11.8 23.5h0M35.8 12.2h0M27.0 5.9h0M8.5 34.1h0M8.4 10.0h0M37.6 12.1h0M26.9 18.3h0M12.6 26.7h0M5.6 6.7h0M15.7 4.7h0M26.9 1.6h0M25.7 6.7h0M3.8 0.9h0M3.8 40.9h0M17.8 17.4h0M34.2 26.7h0M22.7 28.4h0M21.3 26.6h0M38.1 29.3h0M31.4 33.4h0M26.2 5.1h0M38.3 31.3h0M3.1 26.7h0M35.4 12.1h0M31.1 36.1h0M11.1 8.7h0M26.4 4.3h0M30.4 23.2h0M5.8 11.1h0M6.0 23.0h0M29.7 8.8h0M0.1 10.0h0M40.1 10.0h0M10.0 31.8h0M35.8 34.3h0M7.3 21.4h0M17.9 26.5h0M8.0 1.9h0M36.1 36.8h0M2.9 29.6h0M23.5 6.5h0M30.5 37.2h0M10.5 18.6h0M17.5 35.5h0M27.8 24.6h0M37.1 19.2h0M29.6 33.1h0M15.0 29.6h0M27.1 10.4h0M36.3 17.9h0M7.7 36.0h0M30.4 38.6h0M20.4 37.2h0M18.7 31.1h0M23.8 31.4h0M38.7 17.3h0M21.5 25.9h0M12.3 14.2h0M18.0 32.4h0M16.3 28.9h0M37.4 7.4h0M26.6 34.1h0M22.1 29.6h0M10.0 0.4h0M10.0 40.4h0M40.0 29.2h0M-0.0 29.2h0M11.7 0.5h0M11.7 40.5h0M14.7 16.4h0M0.8 33.3h0M40.8 33.3h0M18.0 29.3h0M28.9 27.5h0M3.2 24.7h0M26.2 22.0h0M19.6 37.5h0M31.6 13.8h0M19.4 27.8h0M29.0 19.6h0M11.6 17.2h0M0.8 38.1h0M40.8 38.1h0M14.0 24.1h0M2.1 14.6h0M7.3 18.3h0M18.8 28.4h0M39.9 8.0h0M-0.1 8.0h0M3.2 13.4h0M7.6 20.7h0M38.7 16.6h0M34.5 24.9h0M3.0 26.5h0M30.5 37.7h0M23.0 2.9h0M19.9 17.8h0M1.1 25.5h0M4.3 23.8h0M29.4 7.0h0M17.9 11.6h0M36.1 7.2h0M39.9 5.8h0M-0.1 5.8h0M17.7 14.4h0M1.8 37.3h0M5.0 5.7h0M16.6 35.9h0M36.3 33.4h0M13.7 37.9h0M12.8 12.3h0M9.5 10.1h0M13.4 23.3h0M22.5 9.5h0M32.0 14.2h0M19.3 25.2h0M31.2 25.4h0M9.8 17.9h0M14.5 0.0h0M14.5 40.0h0M33.9 21.2h0M4.7 14.6h0M20.7 38.8h0M22.9 32.3h0M17.7 37.6h0M30.5 6.2h0M29.2 31.8h0M18.3 32.1h0M7.9 24.4h0M15.5 15.3h0M14.7 3.2h0M35.3 5.6h0M7.4 11.8h0M39.9 5.4h0M-0.1 5.4h0M35.6 23.4h0M9.9 39.7h0M9.9 -0.3h0M11.3 21.8h0M37.2 2.6h0M34.1 18.7h0M2.8 29.5h0M1.5 27.1h0M6.4 11.9h0M15.0 39.8h0M15.0 -0.2h0M7.4 11.4h0M19.5 9.4h0M4.8 6.5h0M6.7 2.2h0M36.8 25.6h0M28.3 37.5h0M21.7 6.6h0M10.1 1.0h0M10.1 41.0h0M8.4 26.0h0M18.0 25.2h0M14.3 12.7h0M27.7 6.8h0M39.8 36.7h0M-0.2 36.7h0M33.8 20.3h0M26.3 10.7h0M37.3 28.4h0M7.1 8.0h0M16.3 27.9h0M6.7 1.2h0M13.3 25.1h0M3.3 0.9h0M3.3 40.9h0M17.9 13.2h0M26.4 20.4h0M10.7 14.2h0M23.8 7.1h0M29.1 32.8h0M25.7 3.2h0M32.1 26.1h0M26.5 37.5h0M3.8 23.4h0M31.6 17.6h0M37.9 29.5h0M34.7 14.2h0M18.2 38.4h0M4.3 23.8h0M23.7 37.3h0M10.6 1.5h0M33.6 28.1h0M20.2 32.6h0M6.3 30.9h0M35.6 5.0h0M36.7 30.9h0M11.0 3.5h0M17.2 28.4h0M11.6 40.0h0M11.6 -0.0h0M39.7 6.6h0M-0.3 6.6h0M37.0 27.0h0M36.1 29.9h0M9.1 32.5h0M24.7 29.1h0M31.9 11.7h0M8.1 5.3h0M11.0 1.4h0M7.8 19.1h0M4.7 21.6h0M37.9 26.6h0M23.7 14.6h0M34.5 23.3h0M7.6 36.4h0M36.4 35.2h0M22.9 5.9h0M22.6 13.6h0M31.1 32.2h0M10.2 25.6h0M15.5 29.9h0M17.9 30.7h0M30.0 7.6h0M12.9 3.2h0M17.6 5.6h0M33.6 4.5h0M28.0 20.6h0M24.0 0.4h0M24.0 40.4h0M1.6 22.1h0M17.7 17.5h0M18.9 10.1h0M1.8 0.1h0M1.8 40.1h0M38.5 18.4h0M34.1 34.0h0M6.6 37.2h0M18.4 10.6h0M11.7 39.9h0M11.7 -0.1h0M19.6 3.0h0M33.7 23.1h0M2.5 37.3h0M34.3 24.9h0M19.1 39.1h0M19.1 -0.9h0M11.4 19.5h0M33.9 4.4h0M30.8 26.9h0M30.5 35.1h0M4.7 6.3h0M2.2 39.3h0M2.2 -0.7h0M32.8 25.5h0M36.9 14.7h0M7.9 35.4h0M4.5 9.2h0M18.9 20.9h0M9.8 8.8h0M5.6 6.3h0M39.3 29.2h0M-0.7 29.2h0M11.7 17.5h0M9.0 24.4h0M5.9 30.3h0M5.8 39.4h0M5.8 -0.6h0M33.5 39.0h0M33.5 -1.0h0M19.0 34.6h0M11.0 16.0h0M32.1 2.3h0M33.9 27.3h0M27.9 35.2h0M3.9 30.5h0M1.1 13.9h0M9.6 29.5h0M2.8 28.9h0M7.4 31.1h0M37.8 15.5h0M33.2 28.5h0M10.0 37.5h0M0.8 6.0h0M40.8 6.0h0M34.7 18.5h0M37.0 18.2h0M7.6 10.3h0M30.0 18.6h0M27.2 35.8h0M38.9 24.6h0M5.8 30.0h0M15.8 13.6h0M16.2 24.9h0M18.0 21.8h0M3.9 13.3h0M9.4 3.4h0M40.0 23.0h0M-0.0 23.0h0M11.5 3.7h0M14.0 6.8h0M38.3 22.1h0M23.5 10.9h0M22.7 12.6h0M15.6 34.9h0M23.3 28.6h0M38.1 7.2h0M37.4 19.9h0M1.8 24.5h0M23.6 30.0h0M30.8 4.3h0M25.3 9.6h0M9.7 36.6h0M34.5 37.3h0M17.0 30.6h0M9.7 4.3h0M15.9 38.4h0M29.2 9.3h0M14.3 0.5h0M14.3 40.5h0M36.9 34.5h0M7.0 30.6h0M27.0 10.1h0M10.9 27.0h0M34.1 10.7h0M21.6 3.4h0M4.2 9.3h0M9.4 34.9h0M8.6 37.0h0M12.5 36.1h0M25.0 18.2h0M25.6 31.4h0M17.5 14.6h0M34.3 26.7h0M0.8 12.2h0M40.8 12.2h0M35.2 20.0h0M28.8 9.3h0M20.6 37.4h0M29.7 36.1h0M15.5 29.3h0M7.7 35.2h0M38.0 28.1h0M9.2 12.9h0M24.6 18.3h0M33.5 27.9h0M30.4 33.5h0M34.3 9.3h0M25.0 12.1h0M9.7 18.1h0M7.5 22.9h0M27.1 25.4h0M5.8 23.8h0M28.3 11.7h0M27.9 11.8h0M28.5 8.0h0M38.7 33.6h0M39.7 36.6h0M-0.3 36.6h0M16.6 26.5h0M6.6 2.9h0M17.7 10.5h0M22.9 19.4h0M26.2 19.8h0M30.8 21.7h0M31.1 7.5h0M36.4 22.9h0M10.3 16.0h0M30.8 14.7h0M37.9 27.8h0M20.4 30.6h0M27.0 11.6h0M13.5 38.7h0M35.0 29.0h0M36.0 12.4h0M15.6 31.5h0M6.3 29.1h0M9.8 11.7h0M6.7 38.2h0M38.8 35.2h0M20.7 15.8h0M25.9 31.3h0M12.0 23.8h0M24.7 1.7h0M13.7 34.4h0M9.1 14.6h0M35.2 26.3h0M0.2 11.0h0M40.2 11.0h0M31.4 11.8h0M38.5 25.3h0M11.9 12.1h0M21.8 37.1h0M10.7 27.7h0M32.4 22.0h0M26.7 23.2h0M22.2 12.4h0M14.9 32.1h0M33.6 33.7h0M22.8 20.7h0M32.9 12.4h0M6.2 18.3h0M0.1 26.7h0M40.1 26.7h0M20.1 34.0h0M20.1 28.7h0M17.2 4.5h0M5.0 31.1h0M29.4 37.8h0M17.2 20.0h0M22.2 32.4h0M32.9 35.0h0M27.6 10.9h0M12.7 22.3h0M39.7 8.1h0M-0.3 8.1h0M31.5 19.9h0M33.0 8.1h0M34.3 37.3h0M31.7 39.7h0M31.7 -0.3h0M20.0 2.5h0M19.2 8.0h0M19.4 5.4h0M16.0 34.0h0M22.3 4.9h0M38.6 2.2h0M37.1 32.8h0M39.4 8.0h0M-0.6 8.0h0M30.2 38.3h0M6.2 21.5h0M12.3 5.5h0M38.0 35.0h0M36.1 26.1h0M3.7 28.9h0M25.7 8.3h0M13.2 4.4h0M4.9 27.4h0M22.3 33.9h0M4.9 39.7h0M4.9 -0.3h0M28.0 37.0h0M2.6 27.9h0M18.6 38.9h0M25.2 30.4h0M26.8 11.2h0M5.4 6.2h0M11.7 18.3h0M3.3 17.1h0M10.1 6.1h0M25.2 28.8h0M35.9 21.0h0M8.8 9.1h0M15.9 31.9h0M33.3 35.9h0M36.1 4.7h0M11.3 14.6h0M31.4 22.4h0M9.9 32.7h0M30.1 24.9h0M30.3 26.5h0M7.7 8.7h0M0.5 7.6h0M40.5 7.6h0M28.2 25.9h0M33.5 12.6h0M23.7 24.5h0M38.4 39.8h0M38.4 -0.2h0M29.7 35.4h0M28.9 27.1h0M1.7 9.8h0M16.4 30.9h0M5.2 23.8h0M19.6 19.3h0M39.1 8.8h0M-0.9 8.8h0M11.9 22.6h0M25.0 31.7h0M9.4 6.2h0M9.3 2.5h0M19.0 34.7h0M4.1 0.3h0M4.1 40.3h0M15.5 27.0h0" stroke="#21918c" stroke-width="1.0" stroke-linecap="round" stroke-opacity="0.8" fill="none"/><path d="M39.3 32.9h0M-0.7 32.9h0M9.8 35.0h0M11.1 18.7h0M21.2 12.4h0M26.9 10.1h0M19.9 5.1h0M2.5 3.1h0M18.1 5.8h0M0.2 2.2h0M40.2 2.2h0M25.3 18.0h0M19.7 2.7h0M37.6 32.1h0M24.2 0.0h0M24.2 40.0h0M30.1 3.7h0M22.3 11.0h0M34.7 32.5h0M7.1 32.4h0M25.6 6.9h0M11.0 34.4h0M21.9 35.1h0M4.7 5.3h0M25.9 34.9h0M34.6 12.2h0M24.1 3.0h0M29.0 7.8h0M2.7 16.2h0M39.3 10.8h0M-0.7 10.8h0M7.9 38.8h0M38.6 23.5h0M31.6 36.2h0M8.9 18.3h0M4.6 25.9h0M15.5 3.6h0M3.9 34.2h0M6.6 26.3h0M34.0 9.9h0M9.1 1.5h0M12.7 1.9h0M17.4 21.7h0M34.6 6.9h0M16.9 21.7h0M20.1 9.2h0M6.5 34.3h0M28.7 7.0h0M31.6 33.3h0M26.3 28.2h0M27.0 25.5h0M20.6 11.5h0M30.1 4.6h0M3.1 35.4h0M29.9 13.9h0M14.2 23.0h0M1.0 16.4h0M41.0 16.4h0M4.4 34.6h0M23.2 17.8h0M13.7 9.0h0M20.2 29.5h0M25.2 34.0h0M15.8 30.3h0M8.0 39.6h0M8.0 -0.4h0M24.0 28.0h0M13.3 25.7h0M23.9 22.0h0M13.6 0.9h0M13.6 40.9h0M17.3 25.2h0M1.0 33.8h0M41.0 33.8h0M28.6 36.2h0M36.9 12.8h0M1.1 10.4h0M30.0 11.9h0M19.4 21.7h0M22.7 39.6h0M22.7 -0.4h0M27.8 15.8h0M11.8 19.8h0M14.6 8.5h0M35.3 2.0h0M16.8 7.5h0M12.5 37.5h0M4.4 39.4h0M4.4 -0.6h0M26.3 6.3h0M27.6 20.1h0M13.4 21.9h0M0.1 23.9h0M40.1 23.9h0M22.5 11.1h0M38.9 17.4h0M1.4 5.5h0M23.1 36.5h0M38.7 26.6h0M34.1 3.2h0M5.5 16.4h0M9.6 9.0h0M19.3 4.2h0M24.5 28.4h0M4.3 6.5h0M21.9 19.4h0M23.7 8.6h0M34.9 7.0h0M22.4 5.6h0M8.9 33.7h0M3.5 35.5h0M26.9 38.7h0M13.5 37.7h0M15.8 1.3h0M26.2 25.6h0M26.1 15.7h0M13.6 10.3h0M9.7 29.1h0M24.2 14.1h0M14.4 13.3h0M21.8 19.0h0M3.0 7.7h0M34.5 0.1h0M34.5 40.1h0M38.2 29.4h0M15.2 16.8h0M2.5 16.9h0M11.8 39.4h0M11.8 -0.6h0M30.6 12.9h0M29.8 8.8h0M13.8 5.6h0M14.0 3.0h0M28.7 6.6h0M10.4 10.6h0M28.8 26.3h0M7.0 26.3h0M4.9 26.4h0M22.3 11.9h0M25.1 0.7h0M25.1 40.7h0M10.3 2.2h0M0.6 24.4h0M40.6 24.4h0M10.1 7.8h0M30.2 23.0h0M17.8 35.0h0M18.9 3.7h0M0.8 32.4h0M40.8 32.4h0M14.8 6.2h0M5.4 11.5h0M36.6 31.4h0M37.9 30.7h0M8.0 4.0h0M28.8 12.5h0M30.7 24.5h0M27.0 26.4h0M12.5 35.1h0M12.6 0.5h0M12.6 40.5h0M15.6 34.0h0M3.5 26.0h0M32.6 32.7h0M2.5 12.3h0M26.7 39.9h0M26.7 -0.1h0M7.7 8.0h0M29.0 10.3h0M5.6 4.1h0M12.2 13.3h0M2.2 15.2h0M20.9 20.4h0M33.9 37.9h0M11.9 8.5h0M1.1 30.5h0M8.5 38.5h0M38.4 5.7h0M30.1 28.7h0M9.8 13.4h0M25.3 5.9h0M0.8 27.4h0M40.8 27.4h0M3.4 31.3h0M6.2 27.0h0M6.7 0.6h0M6.7 40.6h0M7.3 23.2h0M29.0 16.4h0M1.1 12.1h0M24.7 15.0h0M40.0 14.7h0M-0.0 14.7h0M18.8 18.5h0M19.6 13.2h0M6.4 21.3h0M15.0 37.4h0M20.8 18.5h0M2.7 35.9h0M4.1 13.7h0M6.1 8.6h0M8.5 16.8h0M11.8 7.3h0M16.7 23.4h0M35.8 38.8h0M26.3 21.4h0M16.6 26.3h0M3.2 20.3h0M26.6 38.5h0M39.5 1.4h0M-0.5 1.4h0M19.7 6.2h0M18.7 28.9h0M7.9 26.8h0M40.0 5.4h0M-0.0 5.4h0M13.3 7.7h0M35.1 22.0h0M18.5 13.8h0M16.8 38.1h0M15.0 0.4h0M15.0 40.4h0M8.6 8.0h0M21.3 37.3h0M22.0 15.0h0M29.6 24.9h0M8.8 30.5h0M13.5 5.2h0M31.7 23.5h0M16.3 31.5h0M6.0 36.4h0M30.2 17.2h0M35.3 17.3h0M35.3 10.4h0M18.5 26.0h0M19.1 8.6h0M4.6 38.8h0M4.6 38.1h0M14.5 22.2h0M6.5 24.8h0M7.6 29.7h0M4.4 20.7h0M1.6 20.6h0M5.4 28.2h0M12.6 2.2h0M18.5 13.6h0M7.0 31.2h0M38.0 38.1h0M0.0 23.7h0M40.0 23.7h0M28.7 18.7h0M4.2 6.7h0M21.5 7.7h0M32.6 24.3h0M6.3 16.8h0M6.7 30.4h0M39.1 30.5h0M-0.9 30.5h0M34.8 18.4h0M32.9 11.8h0M14.1 24.6h0M35.6 10.8h0M10.9 33.6h0M7.2 8.9h0M14.5 24.4h0M20.8 29.1h0M22.5 25.9h0M0.9 1.3h0M40.9 1.3h0M35.3 27.7h0M23.1 24.6h0M29.4 12.2h0M15.7 23.8h0M18.9 24.9h0M20.3 36.8h0M15.9 17.8h0M27.3 0.9h0M27.3 40.9h0M34.8 7.2h0M5.0 37.0h0M29.9 2.9h0M11.0 7.7h0M19.6 9.5h0M29.8 23.1h0M11.5 28.6h0M35.2 16.9h0M27.5 1.9h0M31.3 14.0h0M10.3 28.1h0M2.1 37.9h0M26.3 5.3h0M30.7 29.2h0M2.5 30.1h0M27.1 5.7h0M29.5 11.6h0M27.0 27.4h0M33.2 12.3h0M38.6 17.9h0M9.7 5.0h0M35.6 15.7h0M6.0 15.8h0M38.4 18.4h0M0.9 5.4h0M40.9 5.4h0M0.1 2.4h0M40.1 2.4h0M4.9 3.3h0M31.8 1.7h0M7.5 11.0h0M36.6 37.2h0M25.9 28.9h0M8.0 28.2h0M35.1 24.8h0M11.8 30.5h0M11.2 14.4h0M18.2 24.8h0M25.0 32.0h0M13.9 8.7h0M38.4 8.7h0M2.3 32.0h0M5.2 26.9h0M34.3 34.4h0M9.5 29.6h0M24.9 21.7h0M26.8 15.9h0M5.2 31.1h0M36.5 17.6h0M23.3 14.6h0M17.2 5.2h0M21.4 21.1h0M36.2 38.4h0M6.8 19.1h0M5.4 27.7h0M35.2 17.7h0M16.4 25.0h0M19.1 7.8h0M19.0 8.1h0M5.8 14.0h0M19.5 13.9h0M26.7 19.0h0M27.3 19.2h0M33.4 23.5h0M2.8 26.3h0M14.0 3.1h0M19.2 19.2h0M26.4 32.4h0M23.6 24.1h0M21.3 18.8h0M37.1 29.9h0M32.6 30.5h0M15.0 32.7h0M25.5 29.6h0M17.6 30.3h0M0.3 34.8h0M40.3 34.8h0M32.6 27.8h0M36.1 23.5h0M10.6 18.8h0M32.2 33.1h0M4.6 2.9h0M29.7 6.1h0M9.3 18.7h0M10.0 2.4h0M24.2 6.2h0M2.0 17.8h0M18.5 5.1h0M18.4 22.5h0M15.3 24.4h0M27.8 6.2h0M5.8 31.6h0M3.7 5.0h0M4.5 13.6h0M2.6 31.4h0M36.0 29.6h0M4.0 20.8h0M36.7 18.9h0M0.3 25.0h0M40.3 25.0h0M35.2 28.2h0M21.5 27.3h0M19.7 23.2h0M23.8 5.4h0M11.1 11.1h0M36.0 37.0h0M19.9 34.3h0M23.2 11.3h0M22.9 14.0h0M3.6 37.7h0M10.5 28.1h0M10.8 34.2h0M25.1 31.8h0M18.4 4.7h0M30.7 11.2h0M20.2 23.7h0M32.9 37.2h0M31.6 33.2h0M1.9 8.6h0M7.5 9.4h0M13.0 24.1h0M8.6 33.1h0M23.7 2.7h0M31.2 22.1h0M12.6 19.7h0M11.7 8.9h0M30.4 23.5h0M8.1 9.2h0M8.6 29.1h0M12.5 11.5h0M23.0 38.3h0M10.9 15.2h0M2.9 26.8h0M16.7 25.2h0M23.7 27.6h0M36.0 24.6h0M11.2 2.6h0M6.4 28.2h0M22.6 27.3h0M12.2 10.3h0M39.5 29.4h0M-0.5 29.4h0M26.2 32.7h0M21.6 16.4h0M26.6 38.2h0M27.8 20.2h0M11.6 25.2h0M16.2 26.0h0M5.8 39.3h0M5.8 -0.7h0M28.0 39.2h0M28.0 -0.8h0M24.3 12.7h0M33.9 23.1h0M11.6 25.7h0M6.9 16.6h0M8.3 28.1h0M13.2 1.7h0M28.5 0.9h0M28.5 40.9h0M8.6 4.9h0M25.6 22.3h0M39.7 12.6h0M-0.3 12.6h0M3.7 34.0h0M20.4 36.5h0M32.8 37.0h0" stroke="#ffffff" stroke-width="1.0" stroke-linecap="round" stroke-opacity="0.8" fill="none"/><path d="M7.8 1.0h0M7.8 41.0h0M37.8 39.2h0M37.8 -0.8h0M16.6 19.8h0M12.1 8.6h0M30.0 25.0h0M7.6 18.9h0M24.0 8.5h0M25.8 20.0h0M2.6 9.9h0M27.6 36.4h0M11.5 4.1h0M29.8 31.5h0M5.7 19.3h0M5.2 30.5h0M4.3 10.9h0M29.5 30.2h0M33.7 24.1h0M29.5 25.7h0M11.7 24.0h0M15.9 12.8h0M18.3 24.1h0M17.0 14.4h0M26.8 14.7h0M37.7 17.1h0M7.9 1.2h0M21.5 2.2h0M37.3 19.0h0M29.1 8.1h0M27.3 3.6h0M8.9 14.6h0M23.9 39.5h0M23.9 -0.5h0M17.7 31.5h0M37.3 30.3h0M33.5 5.8h0M14.2 35.9h0M15.5 21.2h0M9.9 15.7h0M31.6 34.0h0M22.6 7.5h0M12.5 15.0h0M35.4 21.8h0M22.1 35.0h0M39.0 25.8h0M-1.0 25.8h0M31.6 13.1h0M11.5 39.5h0M11.5 -0.5h0M18.8 15.9h0M31.5 6.3h0M12.7 0.0h0M12.7 40.0h0M4.6 24.0h0M12.4 31.0h0M37.6 6.9h0M24.1 21.2h0M7.1 26.2h0M19.2 37.0h0M11.5 15.3h0M13.0 17.7h0M13.9 18.5h0M27.2 31.0h0M17.5 21.4h0M19.8 8.8h0M11.9 15.8h0M27.4 8.0h0M26.1 27.6h0M5.4 25.8h0M5.7 5.9h0M1.9 28.2h0M18.5 23.0h0M7.6 37.0h0M7.3 18.8h0M23.1 34.6h0M29.8 35.5h0M11.9 32.1h0M5.8 33.0h0M10.0 18.2h0M28.5 14.7h0M35.6 15.0h0M26.6 0.2h0M26.6 40.2h0M35.8 39.8h0M35.8 -0.2h0M5.1 11.9h0M21.7 22.2h0M25.7 14.5h0M3.1 17.4h0M32.7 13.7h0M26.9 12.7h0M35.9 0.7h0M35.9 40.7h0M18.3 20.8h0M36.3 6.3h0M38.1 34.1h0M29.7 29.1h0M18.8 15.3h0M38.6 10.8h0M9.3 34.2h0M13.9 0.6h0M13.9 40.6h0M22.3 28.8h0M25.3 31.9h0M37.7 8.1h0M31.6 29.1h0M38.0 19.1h0M19.1 36.9h0M33.1 6.4h0M8.9 9.0h0M28.3 8.1h0M15.3 35.9h0M35.9 39.1h0M35.9 -0.9h0M30.8 4.1h0M26.9 16.2h0M25.9 6.9h0M21.9 18.6h0M31.1 30.5h0M36.8 25.4h0M20.1 37.4h0M13.9 21.2h0M13.5 34.6h0M26.8 12.1h0M17.1 25.9h0M32.4 7.6h0M31.9 33.3h0M25.3 12.9h0M10.3 20.1h0M35.0 5.6h0M7.5 15.2h0M9.7 33.2h0M30.2 12.5h0M16.5 34.7h0M30.6 5.4h0M0.2 10.1h0M40.2 10.1h0M20.3 2.0h0M7.4 38.2h0M12.5 2.1h0M14.1 33.8h0M8.4 23.3h0M19.1 20.8h0M15.6 31.0h0M20.7 21.3h0M27.2 20.1h0M4.1 31.6h0M38.4 5.3h0M5.1 16.2h0M23.7 0.1h0M23.7 40.1h0M29.9 9.5h0M8.0 36.8h0M28.8 19.0h0M36.9 13.5h0M0.9 6.6h0M40.9 6.6h0M31.6 12.6h0M11.6 2.4h0M28.7 29.3h0M9.2 33.1h0M7.7 5.4h0M33.8 27.7h0M12.3 25.0h0M4.9 34.7h0M11.7 9.2h0M23.4 27.5h0M20.5 34.9h0M12.6 34.5h0M38.4 11.5h0M12.0 12.3h0M5.1 12.6h0M15.3 26.0h0M35.1 36.6h0M12.2 7.3h0M13.4 25.0h0M2.6 15.1h0M27.5 36.0h0M30.6 13.5h0M2.4 26.6h0M4.2 34.6h0M19.7 20.1h0M11.9 38.7h0M33.8 13.3h0M29.1 1.9h0M4.0 13.0h0M11.0 31.8h0M7.8 33.5h0M2.7 31.2h0M0.6 31.4h0M40.6 31.4h0M29.0 23.9h0M16.2 39.3h0M16.2 -0.7h0M0.5 9.8h0M40.5 9.8h0M39.1 31.3h0M-0.9 31.3h0M33.7 38.1h0M18.8 27.1h0M0.3 18.7h0M40.3 18.7h0M13.6 19.6h0M17.8 30.9h0M32.5 33.7h0M6.5 37.1h0M1.3 31.7h0M39.7 35.7h0M-0.3 35.7h0M27.6 15.0h0M15.3 11.6h0M29.6 35.4h0M20.4 9.0h0M2.0 34.5h0M17.9 8.6h0M3.5 31.6h0M15.5 38.2h0M1.3 21.6h0M38.2 35.6h0M27.2 13.1h0M4.7 39.5h0M4.7 -0.5h0M39.8 7.5h0M-0.2 7.5h0M36.2 3.7h0M13.4 34.9h0M19.7 22.9h0M1.4 35.9h0M18.6 3.8h0M13.2 0.8h0M13.2 40.8h0M14.1 3.3h0M35.7 18.9h0M28.5 1.9h0M13.1 24.2h0M31.9 36.7h0M11.9 37.6h0M7.7 19.0h0M27.5 21.3h0M16.4 9.0h0M0.2 30.9h0M40.2 30.9h0M22.5 23.0h0M36.2 37.1h0M23.6 1.5h0M4.1 10.4h0M1.8 4.2h0M19.7 29.3h0M28.5 12.8h0M24.6 24.5h0M4.4 38.1h0M35.0 30.6h0M6.8 26.6h0M19.7 17.2h0M26.3 27.1h0M20.9 19.3h0M21.9 36.6h0M3.2 25.0h0M15.7 32.0h0M8.3 7.9h0M36.7 3.9h0M7.1 19.4h0M26.2 29.1h0M27.1 0.3h0M27.1 40.3h0M2.7 36.1h0M22.0 25.5h0M16.3 11.6h0M39.1 38.3h0M-0.9 38.3h0M9.0 40.0h0M9.0 -0.0h0M31.3 31.0h0M32.0 37.3h0M0.3 11.1h0M40.3 11.1h0M38.9 29.1h0M26.6 8.2h0M16.8 23.9h0M2.6 34.4h0M22.1 4.1h0M4.0 38.8h0M34.7 14.9h0M8.3 4.8h0M22.6 11.5h0M4.3 9.7h0M13.6 20.1h0M13.2 35.5h0M32.0 32.0h0M19.8 14.2h0M12.2 22.1h0M7.1 23.4h0M36.6 22.2h0M13.1 0.6h0M13.1 40.6h0M5.0 32.3h0M30.7 34.0h0M37.2 3.1h0M5.1 13.4h0M16.6 30.5h0M14.7 21.1h0M37.4 14.9h0M11.9 27.0h0M11.7 30.3h0M10.6 33.7h0M30.0 11.9h0M19.1 21.8h0M18.6 22.8h0M34.8 36.1h0M23.2 8.9h0M39.6 22.2h0M-0.4 22.2h0M39.2 19.1h0M-0.8 19.1h0M40.0 8.8h0M-0.0 8.8h0M25.0 19.7h0M19.5 17.4h0M23.5 35.6h0M5.3 27.4h0M2.4 7.8h0M16.7 7.5h0M32.9 1.9h0M10.7 2.6h0M9.5 15.1h0M19.0 11.5h0M38.8 14.2h0M29.4 27.5h0M36.1 7.1h0M31.5 1.3h0M20.9 31.8h0M16.3 25.6h0M19.2 11.6h0M37.6 16.4h0M26.1 34.7h0M0.4 35.3h0M40.4 35.3h0M21.3 12.0h0M34.5 37.1h0M2.8 33.8h0M8.0 16.5h0M28.7 25.5h0M4.9 31.7h0M14.3 0.0h0M14.3 40.0h0M11.0 13.3h0M36.2 16.0h0M7.8 0.5h0M7.8 40.5h0M33.5 2.9h0M13.8 32.7h0M33.2 17.7h0M10.0 30.6h0M37.6 0.8h0M37.6 40.8h0M23.6 18.1h0M16.6 21.3h0M12.3 6.9h0M20.4 6.5h0M22.9 9.9h0M11.7 28.5h0M10.3 2.7h0M24.0 3.1h0M27.0 24.5h0M30.6 39.2h0M30.6 -0.8h0M12.9 30.1h0M17.3 29.3h0M8.5 16.7h0M4.0 37.9h0M11.6 31.2h0M25.3 10.3h0M23.1 1.4h0M6.0 5.5h0M32.6 2.9h0M0.3 18.4h0M40.3 18.4h0M36.9 24.9h0M39.0 8.7h0M18.0 19.3h0M9.7 23.5h0M12.1 6.6h0M19.0 37.7h0M29.5 7.8h0M4.2 34.8h0M3.3 28.2h0M7.7 11.8h0M26.0 13.6h0M7.2 23.5h0M10.2 9.5h0M26.6 2.2h0M36.8 39.0h0M27.7 20.9h0M24.9 35.1h0M15.6 19.4h0M21.6 23.2h0M13.1 30.3h0M12.9 24.8h0M14.0 12.1h0M13.9 12.3h0M4.1 20.2h0M22.7 27.9h0M7.4 6.5h0M10.6 19.8h0M5.1 11.9h0M15.9 37.9h0M16.7 2.1h0M14.9 33.9h0M33.4 32.6h0M36.6 6.1h0M35.2 27.8h0M14.4 4.1h0M2.2 26.0h0M5.3 32.7h0M1.7 20.7h0M14.7 11.3h0M29.3 32.6h0M30.8 3.9h0M38.1 33.4h0M2.0 31.0h0M11.4 18.8h0M25.6 38.3h0M30.1 4.5h0M29.3 32.2h0M22.9 9.5h0M36.1 39.3h0M36.1 -0.7h0M39.5 8.0h0M-0.5 8.0h0M12.3 34.6h0M3.3 16.0h0M15.7 30.2h0M21.3 7.0h0M2.1 22.3h0M9.0 15.4h0M5.4 15.6h0M10.8 31.5h0M12.8 6.6h0M10.9 12.5h0M6.9 34.6h0M26.7 11.3h0M5.4 12.5h0M5.5 9.5h0M10.3 24.4h0M11.6 9.9h0M5.3 17.6h0M23.3 20.9h0M10.0 10.0h0M19.7 16.4h0" stroke="#35b779" stroke-width="1.0" stroke-linecap="round" stroke-opacity="0.8" fill="none"/><path d="M14.6 32.6h0M25.2 12.3h0M2.4 11.4h0M12.8 8.3h0M20.9 32.9h0M22.0 22.3h0M34.1 14.0h0M3.9 13.3h0M9.3 17.9h0M6.5 37.9h0M10.6 5.6h0M23.9 39.5h0M23.9 -0.5h0M10.0 28.9h0M38.9 22.4h0M29.8 17.7h0M1.0 14.9h0M15.7 9.1h0M17.4 25.7h0M18.1 16.6h0M0.7 7.4h0M40.7 7.4h0M2.6 14.5h0M18.6 38.3h0M0.7 27.8h0M40.7 27.8h0M9.2 23.2h0M40.0 14.7h0M-0.0 14.7h0M2.9 27.5h0M31.2 2.5h0M37.4 36.3h0M36.0 0.8h0M36.0 40.8h0M39.7 25.8h0M-0.3 25.8h0M4.9 30.9h0M10.7 29.2h0M34.8 29.1h0M12.9 20.0h0M22.3 18.2h0M20.2 14.3h0M26.0 10.0h0M37.9 13.7h0M31.2 8.2h0M10.5 3.8h0M19.7 13.4h0M22.5 35.4h0M18.0 31.1h0M20.2 5.6h0M27.7 37.2h0M12.6 34.0h0M38.6 26.5h0M1.5 5.0h0M21.1 14.7h0M38.6 7.8h0M31.7 1.1h0M19.5 4.8h0M17.4 14.3h0M16.6 13.2h0M9.4 10.9h0M1.1 3.9h0M11.8 4.1h0M21.7 25.2h0M11.0 32.6h0M16.0 24.4h0M30.2 23.5h0M0.9 19.6h0M40.9 19.6h0M13.6 21.7h0M35.7 15.4h0M1.9 28.4h0M35.1 23.8h0M38.2 37.2h0M10.0 6.6h0M30.4 34.1h0M5.9 26.1h0M39.1 19.6h0M-0.9 19.6h0M0.5 13.4h0M40.5 13.4h0M37.2 30.5h0M33.9 10.9h0M5.2 39.9h0M5.2 -0.1h0M25.0 3.4h0M21.2 2.3h0M27.6 20.6h0M28.4 20.9h0M39.3 2.3h0M-0.7 2.3h0M17.5 18.2h0M6.2 3.4h0M24.2 39.8h0M24.2 -0.2h0M33.6 9.8h0M18.4 35.9h0M33.9 6.2h0M11.6 17.2h0M32.7 16.6h0M5.8 37.8h0M28.6 20.7h0M15.3 28.7h0M2.6 2.0h0M8.8 17.8h0M28.4 34.1h0M38.4 34.1h0M7.1 8.9h0M24.1 39.5h0M24.1 -0.5h0M3.2 15.7h0M16.1 15.8h0M34.3 11.7h0M31.5 14.7h0M13.2 25.1h0M23.8 29.4h0M26.0 33.3h0M2.2 7.3h0M25.6 34.4h0M30.9 28.5h0M22.9 8.0h0M34.6 19.7h0M9.2 32.2h0M5.0 31.0h0M23.0 9.2h0M35.9 16.9h0M33.4 31.9h0M39.4 30.2h0M-0.6 30.2h0M14.4 1.5h0M4.2 14.4h0M6.8 24.4h0M8.2 18.5h0M38.1 34.0h0M30.0 8.4h0M3.7 25.1h0M13.8 9.4h0M7.5 30.7h0M13.4 3.8h0M21.5 22.3h0M19.8 8.7h0M18.0 10.2h0M5.1 29.4h0M3.4 10.0h0M15.6 5.5h0M27.3 14.0h0M12.4 8.8h0M17.1 38.2h0M29.1 12.8h0M10.4 14.0h0M6.7 26.9h0M27.3 25.9h0M12.3 34.0h0M24.6 7.7h0M4.8 37.1h0M39.9 30.3h0M-0.1 30.3h0M11.0 4.4h0M7.5 23.1h0M29.4 30.3h0M20.6 33.5h0M27.3 39.1h0M27.3 -0.9h0M28.3 6.5h0M4.6 17.2h0M12.6 6.0h0M38.1 37.6h0M22.1 8.9h0" stroke="#6ece58" stroke-width="1.0" stroke-linecap="round" stroke-opacity="0.8" fill="none"/><path d="M14.0 6.7h0M5.9 35.5h0M0.7 14.0h0M40.7 14.0h0M20.2 20.2h0M12.5 21.4h0M19.4 34.7h0M38.6 16.3h0M11.6 0.5h0M11.6 40.5h0M22.2 13.8h0M0.9 10.8h0M40.9 10.8h0M4.2 18.0h0M36.1 15.8h0M26.9 38.6h0M22.9 21.8h0M21.6 9.6h0M19.4 22.5h0M32.8 31.2h0M7.1 21.9h0M20.6 17.9h0M3.8 3.2h0M29.4 27.4h0M16.0 18.7h0M31.8 17.9h0M9.8 1.4h0M22.8 12.1h0M20.7 19.8h0M38.5 23.9h0M24.3 16.4h0M23.3 33.0h0M27.8 6.0h0M28.9 18.2h0M11.2 19.9h0M7.7 32.6h0M23.4 36.0h0M34.4 32.8h0M22.4 16.6h0M9.6 10.4h0M13.6 18.6h0M21.3 7.4h0M40.0 8.9h0M-0.0 8.9h0M39.4 4.0h0M-0.6 4.0h0M37.0 31.8h0M7.6 29.2h0M23.0 18.9h0M34.0 34.0h0M13.4 28.4h0M26.7 33.0h0M19.2 22.5h0M23.2 2.4h0M20.2 12.6h0M28.7 35.1h0M3.4 19.0h0M22.7 30.4h0M26.0 35.9h0M25.1 10.8h0M31.4 11.0h0M18.4 0.0h0M18.4 40.0h0M7.1 0.2h0M7.1 40.2h0M6.2 30.1h0M4.0 3.8h0M3.1 4.4h0M16.9 4.9h0M12.2 22.3h0M26.9 7.2h0M8.9 39.7h0M8.9 -0.3h0M21.3 11.5h0M31.7 22.8h0M0.6 13.5h0M40.6 13.5h0M39.1 39.7h0M-0.9 -0.3h0M-0.9 39.7h0M39.1 -0.3h0M28.2 28.7h0M33.8 0.0h0M33.8 40.0h0M23.9 1.4h0M13.6 4.4h0M5.4 39.4h0M5.4 -0.6h0M30.7 10.7h0M14.4 22.5h0M5.9 18.9h0M6.4 14.2h0M39.1 12.0h0M-0.9 12.0h0M39.9 21.2h0M-0.1 21.2h0M15.8 3.0h0M18.9 22.1h0M6.5 15.6h0M21.9 29.4h0M14.5 36.2h0M34.8 19.1h0M21.7 17.7h0M3.6 3.6h0M9.6 4.6h0M11.1 15.3h0M4.8 23.2h0M1.3 22.9h0M6.6 9.1h0M17.3 5.1h0M10.8 7.9h0M39.6 32.8h0M-0.4 32.8h0M26.1 38.6h0M7.9 39.1h0M7.9 -0.9h0M2.6 29.8h0M3.0 13.8h0M5.0 21.6h0M2.2 22.4h0M33.0 10.2h0M9.4 36.7h0M9.2 4.3h0M33.9 1.3h0M10.5 9.7h0M22.7 18.1h0M9.7 12.4h0M6.6 8.7h0M10.5 2.5h0M27.3 34.3h0M24.1 10.2h0M9.4 12.8h0M20.5 34.3h0M5.3 39.0h0M12.4 18.9h0M29.9 12.1h0M33.8 40.0h0M33.8 -0.0h0M18.9 37.9h0M17.6 39.1h0M17.6 -0.9h0M22.3 1.0h0M22.3 41.0h0M23.6 26.9h0M2.0 27.1h0M20.7 32.0h0M39.1 34.8h0M-0.9 34.8h0M11.3 31.4h0M13.9 5.0h0M8.3 35.6h0M38.2 15.1h0M29.4 13.1h0M14.5 28.7h0M39.4 15.0h0M-0.6 15.0h0M14.7 31.7h0M17.7 0.1h0M17.7 40.1h0M28.7 17.2h0M14.8 30.0h0M35.5 31.9h0M2.0 6.5h0M28.1 38.6h0M21.7 19.3h0M14.5 18.1h0M37.1 21.4h0M6.8 2.0h0M34.3 27.8h0M19.4 13.3h0M9.7 20.3h0M7.1 36.7h0M7.1 37.4h0M4.4 22.3h0M10.0 1.9h0M31.6 5.2h0M5.1 26.9h0M36.5 21.2h0M39.7 36.1h0M-0.3 36.1h0M1.7 19.8h0M38.5 2.9h0M7.6 21.8h0M36.8 36.9h0M4.5 9.5h0M31.4 14.6h0M24.1 24.3h0M24.3 35.9h0M4.1 32.3h0M23.4 8.0h0M21.7 23.5h0M22.9 18.7h0M39.2 7.8h0M-0.8 7.8h0M15.7 17.9h0M19.9 15.7h0M4.4 25.9h0M2.8 24.9h0M18.5 36.0h0M33.5 16.1h0M24.4 36.0h0M7.7 16.7h0M15.0 28.4h0M37.1 12.7h0M24.2 33.3h0M9.6 26.4h0M15.9 17.8h0M0.7 17.8h0M40.7 17.8h0M9.0 27.1h0M23.6 8.7h0M39.1 29.7h0M-0.9 29.7h0M26.1 7.1h0M7.9 28.0h0M27.5 23.7h0M30.2 5.2h0M17.3 10.7h0M13.6 21.9h0M34.9 2.8h0M7.6 18.4h0M25.8 34.3h0M30.4 9.3h0M39.7 12.9h0M-0.3 12.9h0M17.1 30.6h0M28.9 9.7h0M0.8 22.5h0M40.8 22.5h0M6.3 26.6h0M1.5 15.7h0M21.3 0.1h0M21.3 40.1h0M10.2 4.7h0M27.4 8.2h0M38.2 16.1h0M4.8 10.7h0M25.7 2.8h0M3.6 26.4h0M26.1 33.4h0M14.0 34.8h0M37.7 12.2h0M13.0 11.5h0M5.4 20.3h0M12.9 1.8h0M2.5 30.7h0M21.6 36.2h0M32.8 29.5h0M14.7 25.1h0M30.4 6.6h0M33.0 24.1h0M14.8 12.3h0M29.5 7.3h0M3.2 21.9h0M13.7 24.9h0M5.1 36.8h0M33.3 30.2h0M32.7 31.8h0M27.3 32.7h0M5.2 30.4h0M3.0 25.7h0M16.6 26.7h0M22.7 39.0h0M22.7 -1.0h0M33.6 13.8h0M11.3 2.7h0M19.9 38.9h0M17.4 25.9h0M32.8 31.3h0M30.6 25.8h0M24.7 34.3h0M5.9 1.7h0M26.1 3.7h0M33.7 33.0h0M29.5 37.1h0M34.4 14.5h0M34.2 34.9h0M35.2 16.4h0M28.0 36.9h0M34.0 39.3h0M34.0 -0.7h0M10.4 5.4h0M18.1 20.3h0M4.2 22.4h0M27.8 38.8h0M4.8 36.6h0M22.5 19.5h0M7.4 33.4h0M0.7 7.6h0M40.7 7.6h0M1.3 24.9h0M20.2 23.3h0M35.9 39.7h0M35.9 -0.3h0M26.8 7.3h0M30.5 24.2h0M21.7 36.7h0M23.2 39.0h0M22.8 0.0h0M22.8 40.0h0M22.6 36.2h0M2.7 34.6h0M7.7 0.9h0M7.7 40.9h0M33.9 23.9h0M33.0 30.6h0M35.4 3.6h0M9.7 12.1h0M31.1 25.6h0M13.2 16.4h0M27.6 18.9h0M8.6 26.7h0M18.7 25.6h0M18.3 3.9h0M34.9 22.2h0M31.6 35.8h0M31.5 7.0h0M11.1 18.1h0M6.9 22.2h0M29.6 39.4h0M29.6 -0.6h0M30.3 23.9h0M19.9 10.2h0M24.2 25.0h0M31.1 37.0h0M13.4 25.5h0M14.1 1.7h0M27.1 32.9h0M30.9 37.4h0M3.2 16.2h0M22.6 12.4h0M19.6 17.1h0M13.0 29.2h0M1.6 8.0h0M2.1 21.9h0M13.0 16.8h0M12.2 17.6h0M9.3 38.3h0M30.4 5.0h0M26.2 33.0h0M11.0 38.9h0M37.5 1.5h0M32.2 11.8h0M13.3 29.8h0M10.7 17.4h0M34.0 31.3h0M31.2 5.1h0M12.9 20.8h0M10.2 38.4h0M4.4 9.4h0M37.8 39.1h0M37.8 -0.9h0M18.4 20.5h0M16.0 31.2h0M14.1 32.1h0M27.3 3.3h0M18.1 0.8h0M18.1 40.8h0M0.3 23.1h0M40.3 23.1h0M21.6 5.5h0M27.9 21.3h0M17.3 30.3h0M22.2 29.6h0M28.8 9.4h0M1.9 21.2h0M11.5 33.9h0M30.2 4.1h0M11.0 14.0h0M33.2 36.5h0M34.2 22.0h0M34.7 37.9h0M2.0 24.3h0M17.7 8.2h0M19.4 21.2h0M3.4 1.9h0M38.3 36.3h0M10.0 3.5h0M23.3 4.5h0M11.4 9.5h0M17.0 19.0h0M15.3 27.7h0M37.3 21.2h0M15.1 25.4h0M26.0 33.6h0M8.3 39.7h0M8.3 -0.3h0M33.4 6.2h0M33.2 33.3h0M26.9 30.8h0M7.3 4.2h0M24.0 31.3h0M2.5 33.3h0M13.9 18.5h0M38.8 15.4h0M10.0 5.0h0M17.5 3.3h0M25.4 18.1h0M29.7 27.3h0M16.7 18.8h0M37.9 16.5h0M36.5 17.3h0M34.7 36.9h0M12.3 21.1h0M11.5 21.9h0M15.2 15.5h0M1.5 18.6h0M38.9 13.9h0M18.8 26.6h0M31.9 1.7h0M3.8 35.2h0" stroke="#2a788e" stroke-width="1.0" stroke-linecap="round" stroke-opacity="0.8" fill="none"/></pattern></defs>
<defs><pattern id="pjr" width="40" height="40" patternUnits="userSpaceOnUse"><path d="M11.2 20.1h0M14.1 16.9h0M9.5 6.8h0M37.3 35.9h0M16.6 27.2h0M24.8 23.6h0M19.8 14.6h0M25.3 20.8h0M25.5 26.0h0M13.7 38.5h0M12.2 25.9h0M11.5 31.0h0M16.5 0.9h0M16.5 40.9h0M10.4 30.0h0M39.4 30.1h0M-0.6 30.1h0M14.1 4.1h0M21.3 25.1h0M19.6 27.0h0M27.0 32.7h0M30.2 35.8h0M32.1 6.9h0M14.7 36.9h0M15.1 15.2h0M29.9 9.9h0M15.9 11.4h0M23.3 9.2h0M29.2 26.4h0M38.2 5.4h0M14.8 1.5h0M31.8 15.5h0M2.5 21.8h0M18.2 29.3h0M33.4 6.2h0M33.5 21.3h0M23.7 19.9h0M4.0 11.7h0M33.7 29.4h0M32.1 37.6h0M7.5 17.3h0M18.3 9.7h0M22.7 34.9h0M29.3 7.3h0M14.3 31.8h0M33.6 3.0h0M26.8 17.6h0M22.4 7.0h0M9.8 33.3h0M32.8 38.3h0M16.5 9.0h0M26.2 3.4h0M12.9 26.6h0M18.9 33.1h0M2.2 32.6h0M26.3 30.4h0M18.2 29.2h0M34.3 37.8h0M6.8 30.4h0M39.0 14.2h0M-1.0 14.2h0M7.2 8.4h0M30.8 33.2h0M27.2 16.3h0M33.8 4.6h0M6.8 0.5h0M6.8 40.5h0M27.4 32.5h0M22.2 1.3h0M34.9 18.8h0M17.8 15.9h0M17.7 26.3h0M12.4 25.5h0M8.2 38.4h0M17.4 2.8h0M14.6 17.5h0M27.2 27.1h0M37.5 10.0h0M39.2 20.4h0M-0.8 20.4h0M23.6 28.6h0M31.2 19.3h0M6.7 18.0h0M35.7 21.8h0M7.6 32.6h0M9.3 15.9h0M31.6 30.8h0M6.4 8.1h0M27.6 14.0h0M30.2 30.3h0M21.0 14.2h0M1.9 10.5h0M14.7 5.2h0M27.2 9.2h0M20.1 25.4h0M18.8 38.2h0M19.3 26.9h0M30.1 34.4h0M36.0 15.8h0M0.1 32.8h0M40.1 32.8h0M10.5 3.1h0M30.0 22.0h0M30.8 35.2h0M0.7 17.4h0M40.7 17.4h0M31.6 10.3h0M33.4 8.6h0M38.8 1.2h0M3.2 22.9h0M24.1 23.0h0M1.9 28.6h0M36.3 15.4h0M26.0 29.5h0M37.9 28.7h0M10.6 0.5h0M10.6 40.5h0M30.0 17.2h0M19.1 1.3h0M21.2 3.3h0M15.8 28.6h0M28.8 26.3h0M17.5 14.6h0M16.5 21.0h0M37.5 3.2h0M36.2 16.3h0M20.4 38.9h0M12.4 3.0h0M34.0 0.5h0M34.0 40.5h0M10.1 22.4h0M28.4 38.3h0M20.2 23.1h0M40.0 5.6h0M-0.0 5.6h0M32.6 29.8h0M2.9 1.0h0M2.9 41.0h0M0.0 1.9h0M40.0 1.9h0M14.9 7.5h0M17.8 26.7h0M27.9 12.8h0M18.1 22.5h0M24.4 6.9h0M36.4 8.7h0M35.6 0.8h0M35.6 40.8h0M33.3 19.5h0M33.5 0.7h0M33.5 40.7h0M3.4 7.5h0M21.6 10.7h0M7.3 5.0h0M36.5 25.7h0M22.0 19.8h0M35.2 12.8h0M33.4 24.9h0M27.1 5.4h0M0.7 35.0h0M40.7 35.0h0M12.1 23.3h0M28.9 27.7h0M21.1 26.6h0M12.5 35.4h0M17.8 36.0h0M8.9 22.4h0M32.4 4.7h0M14.3 34.5h0M7.7 26.0h0M4.0 10.4h0M13.7 34.0h0M35.4 18.4h0M22.0 16.7h0M23.8 19.6h0M37.7 10.2h0M20.9 14.8h0M9.4 24.3h0M26.3 23.5h0M14.1 18.4h0M38.4 17.3h0M15.3 8.4h0M22.9 32.9h0M31.3 31.5h0M5.1 23.2h0M7.8 35.2h0M16.4 27.7h0M10.4 5.3h0M12.1 5.9h0M33.0 6.6h0M16.3 7.4h0" stroke="#35b779" stroke-width="1.0" stroke-linecap="round" stroke-opacity="0.65" fill="none"/><path d="M18.4 23.5h0M18.5 30.6h0M3.6 16.4h0M32.5 21.9h0M15.4 10.4h0M12.8 21.1h0M14.8 32.4h0M17.7 30.3h0M14.4 34.4h0M3.8 19.6h0M15.6 25.2h0M7.0 11.7h0M6.4 28.2h0M28.1 13.0h0M11.5 0.5h0M11.5 40.5h0M33.5 24.2h0M29.7 35.7h0M25.5 39.1h0M25.5 -0.9h0M23.8 13.8h0M31.1 24.5h0M19.6 23.8h0M21.2 21.3h0M26.7 12.7h0M4.1 34.1h0M32.2 28.6h0M33.8 15.3h0M10.7 19.8h0M35.6 8.7h0M31.4 4.8h0M17.4 33.9h0M0.9 17.4h0M40.9 17.4h0M0.5 13.6h0M40.5 13.6h0M27.0 2.6h0M2.4 14.7h0M13.8 16.2h0M5.0 1.8h0M20.5 7.7h0M14.1 19.9h0M30.3 7.4h0M32.6 26.7h0M4.5 28.8h0M3.8 14.1h0M31.8 35.3h0M13.1 21.1h0M6.7 27.3h0M10.2 3.1h0M29.8 0.9h0M29.8 40.9h0M20.5 14.6h0M34.9 3.6h0M17.2 33.7h0M20.4 10.7h0M18.7 32.8h0M24.0 2.0h0M27.5 1.8h0M29.2 22.4h0M21.0 36.2h0M1.2 7.5h0M12.6 23.2h0M3.6 11.8h0M17.9 18.2h0M18.7 6.1h0M18.3 33.1h0M26.2 31.3h0M6.1 28.0h0M29.0 11.4h0M2.8 19.9h0M30.0 38.0h0M6.7 14.7h0M21.6 22.3h0M4.7 6.2h0M21.9 30.3h0M24.6 10.6h0M36.7 32.0h0M17.6 12.0h0M19.2 14.3h0M20.3 15.9h0M23.4 8.1h0M36.6 12.2h0M34.3 10.3h0M28.9 15.3h0M35.6 19.5h0M3.3 10.5h0M1.9 3.4h0M8.9 7.3h0M18.4 17.7h0M29.6 21.0h0M33.6 30.4h0M10.8 23.7h0M7.8 19.3h0M13.4 1.3h0M9.4 37.7h0M6.9 33.6h0M27.4 8.5h0M4.0 20.0h0M23.9 8.3h0M9.2 14.9h0M19.7 15.1h0M19.5 22.8h0M26.5 9.2h0M33.5 36.9h0M5.0 21.3h0M16.7 12.5h0M0.6 23.7h0M40.6 23.7h0M8.1 20.3h0M35.8 5.6h0M11.2 3.4h0M34.3 39.0h0M35.4 12.4h0M13.3 13.3h0M9.8 3.3h0M18.0 12.7h0M36.8 1.5h0M38.9 34.4h0M31.6 20.2h0M5.8 7.4h0M39.1 10.7h0M-0.9 10.7h0M5.5 19.4h0M2.6 6.8h0M21.3 2.2h0M18.2 19.1h0M28.3 22.8h0M37.7 20.4h0M14.9 10.9h0M23.6 16.9h0M25.7 11.7h0M11.7 24.2h0M31.5 0.2h0M31.5 40.2h0M29.6 20.7h0M3.6 32.8h0M16.2 15.4h0M35.1 37.4h0M34.6 38.5h0M6.9 7.1h0M4.9 5.3h0M39.4 40.0h0M-0.6 -0.0h0M-0.6 40.0h0M39.4 -0.0h0M35.0 3.3h0M9.5 7.5h0M19.6 29.9h0M24.0 36.5h0M8.5 37.1h0M11.8 22.8h0M11.4 38.8h0M37.8 2.8h0M4.5 14.2h0M34.7 37.9h0M8.0 23.5h0M35.1 7.6h0M6.3 16.3h0M36.6 4.5h0M31.5 39.9h0M31.5 -0.1h0M25.2 3.9h0M17.9 10.5h0M36.2 28.6h0M30.3 21.0h0M1.8 22.0h0M23.7 36.1h0M6.2 21.3h0M8.9 22.9h0M11.1 16.9h0M4.9 10.1h0M13.5 8.6h0M7.2 14.0h0M12.6 1.3h0M21.6 6.6h0M4.7 38.4h0M1.9 21.8h0M13.6 33.9h0M30.1 32.0h0M19.9 38.6h0M8.7 35.0h0M30.8 14.6h0M10.4 27.3h0M10.2 11.4h0M3.5 5.7h0M11.6 13.1h0M23.1 37.1h0M38.5 2.9h0M10.6 11.5h0M34.0 14.7h0M20.1 32.6h0M20.2 37.9h0M36.1 34.2h0M6.9 18.2h0M31.7 21.4h0M35.6 2.3h0M37.7 17.6h0M25.3 28.4h0M30.2 25.8h0M9.3 3.6h0M14.3 18.3h0M31.1 12.5h0M18.8 4.2h0M21.6 11.2h0M37.5 10.8h0M5.6 37.2h0M29.9 16.7h0M28.7 15.0h0M23.1 14.4h0M31.2 7.9h0M19.5 9.7h0M10.0 11.6h0M14.6 37.0h0M9.8 20.4h0M0.0 2.3h0M40.0 2.3h0M20.4 22.0h0M2.8 24.8h0M20.8 7.3h0M3.5 1.4h0M33.7 26.3h0M25.2 13.4h0M38.2 39.6h0M38.2 -0.4h0M25.9 30.3h0M6.9 36.2h0M19.7 0.7h0M19.7 40.7h0M37.6 13.7h0M39.6 10.5h0M-0.4 10.5h0M21.8 29.3h0M34.7 20.5h0M6.8 11.1h0M30.7 37.3h0M22.4 25.9h0M6.5 28.7h0M16.9 20.9h0M11.0 38.5h0M31.8 3.5h0M14.7 13.5h0M30.4 37.9h0M0.5 14.3h0M40.5 14.3h0M20.2 3.6h0M9.5 20.6h0M33.7 29.0h0M36.3 32.5h0M16.8 13.4h0M37.3 31.0h0M24.2 17.7h0M39.4 40.0h0M-0.6 -0.0h0M-0.6 40.0h0M39.4 -0.0h0M9.6 14.0h0M27.4 30.5h0M22.9 37.0h0M31.3 21.5h0M22.7 33.0h0M16.4 1.1h0M6.3 39.9h0M6.3 -0.1h0M12.6 4.2h0M18.9 35.3h0M29.3 9.6h0M7.4 22.8h0M14.0 19.7h0M3.0 8.6h0M18.3 22.7h0M39.8 18.2h0M-0.2 18.2h0M14.4 8.2h0M21.2 28.0h0M15.4 32.3h0M10.9 18.4h0M28.2 33.9h0M8.8 27.3h0M24.1 7.0h0M16.0 38.5h0M17.9 39.9h0M17.9 -0.1h0M7.1 10.4h0M12.5 18.9h0M29.0 22.8h0M10.7 31.8h0M7.6 16.5h0M26.7 39.1h0M26.7 -0.9h0M3.6 18.5h0M36.3 36.4h0M3.0 10.6h0M27.3 33.3h0M26.3 28.4h0M0.3 7.0h0M40.3 7.0h0M35.4 4.2h0M28.4 23.1h0M1.6 36.6h0M12.0 31.1h0M3.5 9.7h0M16.3 34.6h0M35.0 37.6h0M26.4 33.8h0M12.8 0.3h0M12.8 40.3h0M26.7 28.8h0M23.4 31.6h0M27.2 39.1h0M27.2 -0.9h0M32.9 36.2h0M0.6 38.9h0M40.6 38.9h0M32.5 29.8h0M21.2 34.2h0M22.4 31.9h0M14.4 12.6h0M2.9 28.9h0M11.0 32.1h0M22.1 13.3h0M0.2 14.3h0M40.2 14.3h0M18.1 30.3h0M37.7 18.7h0M1.1 28.4h0M8.0 20.1h0M18.6 3.0h0M17.8 2.8h0M13.5 15.9h0M19.7 2.1h0M25.9 39.7h0M25.9 -0.3h0M3.9 18.8h0M16.1 16.8h0M28.6 4.1h0M15.3 1.1h0M24.3 31.0h0M19.8 17.5h0M7.7 14.4h0M31.7 6.7h0M24.5 7.3h0M35.8 24.4h0M7.7 14.2h0M10.8 21.5h0M11.9 30.7h0M8.8 19.8h0M20.9 17.6h0M33.5 30.4h0M24.3 16.2h0M16.0 19.3h0M30.2 34.6h0M11.2 33.5h0M33.4 13.7h0M5.9 24.3h0M0.1 3.4h0M40.1 3.4h0M5.3 3.0h0M23.0 13.4h0M26.8 7.6h0M0.4 2.5h0M40.4 2.5h0M37.8 34.7h0M25.5 21.6h0M23.6 4.9h0M15.6 34.0h0M11.3 28.2h0M37.4 15.1h0M20.5 22.2h0M15.9 8.4h0M29.0 2.2h0M26.9 25.5h0M6.0 35.5h0M24.3 2.2h0M39.5 20.1h0M-0.5 20.1h0M2.6 12.8h0M33.9 12.4h0M29.1 27.7h0M4.0 17.2h0M11.0 12.7h0M16.3 3.0h0M9.3 32.6h0M27.2 28.0h0M25.5 39.3h0M25.5 -0.7h0M19.4 3.2h0M30.1 0.4h0M30.1 40.4h0M35.1 29.5h0M25.4 13.5h0M19.5 8.6h0M13.0 4.6h0M34.8 22.9h0M16.9 39.9h0M16.9 -0.1h0M30.6 20.4h0M17.6 12.1h0M19.2 36.6h0M11.1 21.9h0M33.0 23.0h0M35.9 16.4h0M20.4 4.5h0M12.3 12.6h0M14.6 10.9h0M1.4 3.6h0M9.2 34.5h0M7.2 29.1h0M39.5 11.6h0M-0.5 11.6h0M20.2 13.2h0M29.1 25.0h0M9.5 32.4h0M12.2 35.0h0M21.3 14.6h0" stroke="#6ece58" stroke-width="1.0" stroke-linecap="round" stroke-opacity="0.65" fill="none"/><path d="M20.7 8.1h0M10.2 31.2h0M35.4 38.0h0M8.7 32.1h0M3.4 31.4h0M38.9 5.3h0M19.5 30.0h0M21.9 3.6h0M6.2 39.8h0M6.2 -0.2h0M39.1 39.6h0M-0.9 -0.4h0M-0.9 39.6h0M39.1 -0.4h0M15.3 30.1h0M16.5 22.6h0M12.0 19.0h0M35.7 18.8h0M2.7 14.7h0M18.1 16.5h0M8.0 23.0h0M30.9 13.1h0M37.3 29.0h0M24.1 21.3h0M34.5 35.8h0M8.3 31.2h0M34.2 8.6h0M27.5 4.5h0M2.5 38.3h0M33.0 33.7h0M22.8 12.4h0M0.1 12.6h0M40.1 12.6h0M10.2 39.9h0M10.2 -0.1h0M5.6 1.5h0M9.3 17.3h0M4.5 15.2h0M37.9 0.8h0M37.9 40.8h0M18.5 21.0h0M3.2 20.7h0M7.6 28.6h0M3.5 13.2h0M10.7 13.5h0M38.4 23.4h0M1.0 39.0h0M41.0 39.0h0M10.6 4.0h0M9.8 31.3h0M40.0 37.6h0M-0.0 37.6h0M39.8 6.1h0M-0.2 6.1h0M31.2 7.0h0M18.3 33.5h0M17.2 9.4h0M16.5 13.4h0M11.3 27.2h0M6.8 7.1h0M13.6 8.5h0M14.7 37.0h0M27.7 17.3h0M21.7 12.0h0M2.8 4.6h0M35.8 26.6h0M28.8 8.2h0M25.8 5.0h0M34.8 8.6h0M6.4 18.0h0M35.2 0.7h0M35.2 40.7h0M18.4 8.7h0M17.6 36.3h0M33.5 13.8h0M24.1 8.6h0M10.4 39.6h0M10.4 -0.4h0M12.3 20.8h0M10.2 20.6h0M12.1 32.1h0M12.5 21.2h0M39.7 33.4h0M-0.3 33.4h0M29.7 17.4h0M18.0 20.3h0M14.6 28.8h0M31.8 20.1h0M2.3 30.1h0M23.6 17.0h0M15.0 5.4h0M6.4 26.1h0M17.5 5.8h0M23.5 23.8h0M5.6 6.6h0M6.3 24.9h0M32.1 0.5h0M32.1 40.5h0M24.0 27.6h0M25.5 35.2h0M31.1 25.2h0M36.9 8.9h0M26.1 11.5h0M39.4 25.9h0M-0.6 25.9h0M7.0 13.1h0M38.7 10.6h0M35.9 4.8h0M10.5 36.5h0M39.0 0.4h0M39.0 40.4h0M35.9 34.1h0M15.5 23.6h0M22.2 13.4h0M21.7 22.5h0M1.7 9.6h0M27.0 22.4h0M18.6 22.1h0M28.1 11.1h0M14.6 30.6h0M4.8 30.7h0M1.4 28.2h0M31.9 21.9h0M10.9 9.0h0M23.3 36.0h0M20.5 11.1h0M7.6 26.1h0M35.3 16.0h0M6.4 39.2h0M6.4 -0.8h0M26.3 20.7h0M12.5 3.2h0M38.0 30.2h0M22.4 31.5h0M8.1 29.0h0M7.1 37.5h0M39.5 14.5h0M-0.5 14.5h0M34.0 21.0h0M4.8 26.7h0M19.9 22.7h0M36.0 13.0h0M23.3 17.6h0M16.2 10.4h0M4.9 10.8h0M38.7 36.0h0M5.8 34.0h0M2.2 28.3h0M25.4 37.7h0M17.7 16.0h0M14.8 30.4h0M24.3 25.4h0M19.2 22.6h0M20.2 15.4h0M16.4 7.1h0M12.8 35.9h0M7.3 4.7h0M15.1 20.9h0M21.6 39.2h0M21.6 -0.8h0M34.9 8.5h0M4.9 20.8h0M31.5 4.4h0M21.9 25.0h0M19.6 29.6h0M34.2 4.0h0M19.7 10.9h0M4.3 30.8h0M33.0 34.4h0M7.3 25.3h0M19.4 11.1h0M22.4 7.9h0M15.9 9.7h0M5.2 9.5h0M17.8 27.1h0M13.7 1.2h0M28.9 13.7h0M21.4 24.8h0M4.6 10.6h0M8.3 3.6h0M14.2 19.5h0M26.7 33.3h0M12.5 8.4h0M34.0 10.2h0M30.8 3.4h0M31.8 7.6h0M20.3 38.2h0M10.8 13.5h0M10.8 24.0h0M31.3 6.0h0M8.4 14.4h0M34.0 27.4h0M38.7 2.6h0M13.3 22.1h0M6.3 30.3h0M0.9 24.1h0M40.9 24.1h0M0.5 21.7h0M40.5 21.7h0M30.2 8.5h0M21.3 20.5h0M10.6 3.8h0M16.4 29.1h0M18.4 17.1h0M6.2 4.8h0M9.9 3.3h0M20.3 6.9h0M32.3 14.1h0M25.3 15.6h0M21.2 23.5h0M9.8 11.2h0M16.9 34.9h0M32.2 1.7h0M17.4 5.6h0M23.5 24.3h0M33.8 15.8h0M29.3 19.3h0M32.2 28.9h0M2.5 4.8h0M30.6 32.6h0M0.4 14.4h0M40.4 14.4h0M20.4 29.8h0M20.8 4.8h0M24.0 19.7h0M5.0 22.3h0M18.7 16.9h0M4.4 21.0h0M36.3 7.5h0M7.5 23.7h0M39.6 3.8h0M-0.4 3.8h0M0.9 5.5h0M40.9 5.5h0M8.9 4.6h0M16.2 23.6h0M40.0 6.3h0M-0.0 6.3h0M20.3 30.5h0M4.8 6.6h0M20.4 17.9h0M14.4 11.6h0M2.3 30.4h0M30.9 12.2h0M22.7 40.0h0M22.7 -0.0h0M18.2 2.9h0M20.4 32.6h0M23.7 32.0h0M8.1 21.4h0M22.5 22.0h0M7.4 30.9h0M6.4 29.2h0M0.7 6.0h0M40.7 6.0h0M24.7 34.7h0M8.4 29.6h0M9.9 8.1h0M3.5 6.5h0M10.3 14.7h0M6.8 21.0h0M15.6 29.6h0M36.5 14.9h0M12.5 19.3h0M14.5 21.1h0M2.3 7.6h0M17.1 33.5h0M10.7 40.0h0M10.7 -0.0h0M21.5 0.9h0M21.5 40.9h0M29.1 7.4h0M29.7 21.1h0M24.3 33.7h0M30.7 24.7h0M28.4 11.4h0M14.9 31.2h0M17.0 17.1h0M4.1 13.6h0M1.4 3.6h0M37.6 28.6h0M2.9 9.8h0M36.4 1.6h0M22.2 18.5h0M8.6 13.1h0M2.2 0.2h0M2.2 40.2h0M6.9 29.7h0M2.0 8.7h0M21.9 21.0h0M36.1 38.9h0M6.0 1.4h0M2.3 13.8h0M24.2 26.0h0M25.2 6.7h0M21.0 22.7h0M20.3 30.9h0M27.8 3.0h0M39.2 5.2h0M-0.8 5.2h0M28.8 26.1h0M13.6 10.7h0M20.3 20.7h0M31.4 38.2h0M16.2 4.6h0M24.0 9.2h0M22.3 10.6h0M18.1 26.6h0M11.7 26.7h0M25.4 24.5h0M20.8 24.9h0M28.9 30.6h0M27.2 4.7h0M16.3 17.2h0M30.9 16.8h0M8.6 14.9h0M3.4 4.2h0M29.8 30.9h0M26.3 17.7h0M10.4 28.6h0M34.6 20.4h0M13.3 21.7h0M11.2 17.6h0M23.8 20.7h0M5.2 6.2h0M28.8 14.3h0M11.1 0.7h0M11.1 40.7h0M22.6 7.5h0M13.0 11.3h0M15.2 0.5h0M15.2 40.5h0M27.1 25.7h0M39.0 20.4h0M-1.0 20.4h0M30.9 35.4h0M33.5 27.2h0M33.4 9.7h0M2.0 18.1h0M6.6 19.9h0M5.5 7.8h0M23.4 20.5h0M23.9 4.8h0M4.2 4.7h0M21.4 18.7h0M37.5 30.8h0M13.7 11.9h0M0.7 7.1h0M40.7 7.1h0M35.2 17.2h0M0.2 38.0h0M40.2 38.0h0M39.1 34.0h0M-0.9 34.0h0M25.4 4.2h0M11.9 28.2h0M29.6 32.3h0M25.1 1.8h0M17.8 13.8h0M32.8 31.8h0M20.6 34.2h0M17.4 17.4h0M29.7 39.9h0M29.7 -0.1h0M18.1 13.6h0M21.8 35.8h0M18.8 31.9h0M27.6 4.4h0M35.2 6.1h0M8.3 25.9h0M9.6 39.3h0M9.6 -0.7h0M26.8 6.0h0M3.7 25.6h0M10.2 16.3h0M5.6 28.2h0M8.5 20.5h0M20.9 8.8h0M35.2 4.5h0M23.1 35.3h0M11.6 36.0h0M26.1 16.2h0M6.9 10.3h0M5.5 34.5h0M33.4 13.0h0M19.4 6.1h0M21.7 16.5h0M32.5 37.6h0M39.1 38.8h0M-0.9 38.8h0M27.7 37.3h0M36.2 15.7h0M4.7 26.7h0M36.0 33.7h0M29.0 18.1h0M0.5 31.3h0M40.5 31.3h0M29.5 25.1h0M0.2 37.9h0M40.2 37.9h0M24.7 2.8h0M31.2 8.9h0M8.6 15.4h0M38.1 31.3h0M15.8 11.0h0M25.6 32.1h0M23.6 13.1h0M6.7 20.5h0M15.3 3.7h0M37.7 13.6h0M19.3 18.7h0M28.6 13.8h0M10.3 31.6h0M30.5 39.6h0M30.5 -0.4h0M0.4 8.0h0M40.4 8.0h0M23.7 34.1h0M22.5 8.9h0M20.5 33.8h0M13.6 6.2h0M31.3 32.0h0M11.6 14.3h0M25.8 10.9h0M32.1 22.0h0M14.9 32.8h0M34.7 39.2h0M34.7 -0.8h0M35.0 2.7h0M4.3 3.6h0M12.4 29.5h0M4.5 37.3h0M35.9 31.3h0M9.1 10.0h0M4.3 14.4h0M6.9 24.8h0M20.4 16.3h0M8.1 8.6h0M1.0 22.2h0M34.9 18.0h0M31.5 29.6h0M31.3 18.0h0M1.6 20.5h0M3.5 28.2h0M37.5 15.0h0M14.9 0.2h0M14.9 40.2h0M28.9 13.1h0M22.6 10.0h0M36.0 30.3h0M26.9 38.5h0M15.3 29.8h0M7.4 2.3h0M8.0 14.0h0M40.0 3.3h0M-0.0 3.3h0M32.9 39.7h0M32.9 -0.3h0M38.2 38.3h0M13.2 32.0h0M19.0 0.7h0M19.0 40.7h0M21.4 4.5h0M11.1 22.4h0M8.3 21.7h0M31.8 9.7h0M31.8 26.9h0M5.7 39.6h0M5.7 -0.4h0M22.7 23.3h0M20.7 23.8h0M5.5 1.6h0M15.4 25.6h0M37.4 3.0h0M7.5 3.4h0M37.0 4.8h0M21.8 22.4h0M9.1 37.5h0" stroke="#b5de2b" stroke-width="1.0" stroke-linecap="round" stroke-opacity="0.65" fill="none"/><path d="M17.3 34.2h0M22.7 8.1h0M28.3 9.7h0M19.6 5.5h0M14.9 19.9h0M8.5 34.3h0M37.0 6.6h0M1.3 21.3h0M10.3 25.1h0M29.9 20.2h0M4.2 25.5h0M32.1 39.1h0M32.1 -0.9h0M20.7 13.2h0M5.1 21.0h0M8.3 28.6h0M6.9 20.7h0M35.9 23.4h0M31.7 15.7h0M25.1 4.4h0M16.4 37.1h0M37.8 26.8h0M8.1 1.1h0M34.0 32.8h0M22.9 4.9h0M12.0 20.1h0M39.5 14.4h0M-0.5 14.4h0M21.2 5.1h0M9.2 11.6h0M25.5 31.0h0M25.7 35.0h0M38.5 15.1h0M34.1 32.5h0M15.9 31.8h0M19.0 25.0h0M18.9 12.2h0M5.0 13.0h0M18.4 1.9h0M17.9 14.6h0M22.5 33.1h0M14.3 0.2h0M14.3 40.2h0M32.7 23.7h0M34.4 6.6h0M16.3 20.3h0M21.2 12.2h0M4.2 32.1h0M8.2 27.9h0M25.1 37.0h0M3.2 16.1h0M29.3 0.8h0M29.3 40.8h0M7.2 27.9h0M7.0 7.7h0M14.0 24.8h0M38.9 8.7h0M20.5 4.3h0M38.0 33.6h0M12.3 6.7h0M32.1 30.6h0M16.0 22.9h0M16.1 9.7h0M31.3 26.5h0M31.8 20.0h0M14.5 9.8h0M25.0 28.9h0M30.3 38.9h0M4.9 35.1h0M1.7 25.3h0M27.9 16.6h0M27.7 13.7h0M16.2 23.1h0M27.8 34.5h0M27.8 31.4h0M9.8 19.0h0M34.1 22.8h0M8.0 27.0h0M20.3 39.9h0M20.3 -0.1h0M17.3 13.3h0M31.4 35.5h0M19.5 30.2h0M8.9 4.5h0M16.0 33.9h0M22.1 37.6h0M24.4 30.5h0M28.5 6.5h0M37.3 37.1h0M29.9 34.0h0M5.6 23.8h0M36.7 20.1h0M19.3 8.0h0M25.4 22.4h0M5.7 9.4h0M37.7 29.5h0M37.2 1.2h0M16.3 2.1h0M25.9 12.4h0M14.0 24.3h0M7.9 5.2h0M21.6 26.7h0M9.1 3.7h0M22.7 20.7h0M12.5 29.8h0M5.4 21.4h0M14.6 13.3h0M25.0 35.5h0M38.0 16.3h0M6.0 39.9h0M6.0 -0.1h0M15.5 13.1h0M15.5 29.5h0M19.2 3.4h0M13.1 1.0h0M32.8 11.7h0M11.5 14.9h0M34.5 2.3h0M7.3 23.6h0M35.3 36.8h0M26.5 34.6h0M23.4 21.8h0M29.4 16.5h0M18.0 18.7h0M29.5 31.1h0M7.1 15.4h0M2.0 4.1h0M1.4 39.7h0M1.4 -0.3h0M37.8 10.4h0M13.8 28.7h0M7.1 7.1h0M30.1 27.3h0M22.6 1.0h0M22.6 41.0h0M2.2 16.6h0M34.0 20.8h0M5.9 32.3h0M30.8 38.9h0M22.4 23.1h0M16.8 2.6h0M28.2 23.4h0M8.5 33.3h0M39.2 11.1h0M-0.8 11.1h0M33.3 37.7h0M6.7 2.2h0M10.1 6.6h0M26.8 36.2h0M12.5 24.2h0M1.1 10.0h0M5.3 22.6h0M28.4 22.5h0M7.4 13.5h0M18.8 36.5h0M21.6 35.5h0M32.4 30.8h0M11.1 7.4h0M1.1 12.2h0M12.2 12.8h0M38.5 3.1h0M0.3 3.7h0M40.3 3.7h0M11.5 26.8h0M19.0 33.8h0M16.7 16.8h0M33.2 15.3h0M13.2 31.3h0M7.4 37.1h0M6.6 13.6h0M10.0 2.2h0M11.0 36.8h0M25.3 22.1h0M20.5 19.5h0M35.1 27.7h0M3.1 39.7h0M3.1 -0.3h0M34.1 9.2h0M32.0 21.2h0M5.8 6.8h0M6.2 32.1h0M15.6 10.8h0M11.7 4.6h0M36.7 2.7h0M22.5 33.6h0M33.8 35.3h0M14.9 30.5h0M31.4 33.7h0M0.7 29.7h0M40.7 29.7h0M2.6 14.2h0M23.9 5.1h0M16.7 7.1h0M12.2 15.0h0M9.4 11.1h0M32.5 38.5h0M23.1 0.7h0M23.1 40.7h0M4.1 0.4h0M4.1 40.4h0M13.2 38.2h0M4.7 29.8h0M36.2 14.7h0M11.5 9.9h0M20.8 12.0h0M37.7 28.2h0M37.5 3.2h0M9.7 38.1h0M30.6 24.7h0M0.2 32.2h0M40.2 32.2h0M13.3 0.9h0M13.3 40.9h0M38.4 31.7h0M23.8 31.1h0M0.8 21.1h0M40.8 21.1h0M21.5 8.1h0M23.6 12.6h0M6.2 38.3h0M34.0 26.9h0M14.2 16.8h0M16.7 22.8h0M5.6 9.4h0M32.7 9.0h0M1.4 10.1h0M18.8 0.0h0M18.8 40.0h0M23.3 35.0h0M5.4 31.9h0M9.4 4.7h0M30.1 11.6h0M10.6 10.3h0M36.8 34.0h0M16.6 27.8h0M3.5 18.1h0M2.7 15.3h0M13.0 34.8h0M33.0 36.9h0M19.9 22.7h0M26.3 13.7h0M28.1 13.5h0M39.7 3.3h0M-0.3 3.3h0M14.0 21.3h0M27.3 35.7h0M8.4 1.7h0M36.3 1.1h0M13.7 21.3h0M26.6 13.0h0M18.7 24.6h0M26.3 37.0h0M35.9 11.2h0M8.4 23.6h0M21.5 16.9h0M0.7 16.7h0M40.7 16.7h0M22.4 10.0h0M32.0 5.8h0M10.2 31.0h0M30.5 5.2h0M34.7 25.6h0M18.5 39.8h0M18.5 -0.2h0M6.9 17.6h0M35.0 11.0h0M3.2 2.0h0M23.2 0.3h0M23.2 40.3h0M8.8 24.8h0M3.2 23.4h0M34.1 28.5h0M26.7 22.9h0M3.9 33.4h0M13.2 37.2h0M0.4 5.4h0M40.4 5.4h0M37.3 11.1h0M33.7 1.7h0M2.4 32.1h0M2.3 1.2h0M23.8 29.3h0M15.4 16.7h0M9.0 7.0h0M10.7 36.2h0M4.7 9.9h0M36.4 4.0h0M29.4 31.3h0M3.5 21.8h0M17.3 16.8h0M20.2 5.4h0" stroke="#ffffff" stroke-width="1.0" stroke-linecap="round" stroke-opacity="0.65" fill="none"/><path d="M34.2 18.6h0M11.0 2.0h0M8.1 16.4h0M7.9 27.8h0M5.4 9.5h0M23.8 19.6h0M23.9 31.3h0M6.9 12.3h0M9.9 16.9h0M15.2 15.6h0M5.5 19.1h0M36.6 16.9h0M0.0 34.0h0M40.0 34.0h0M36.2 28.7h0M2.1 10.6h0M36.1 4.5h0M13.1 5.3h0M6.5 20.3h0M6.7 38.8h0M32.0 24.9h0M21.0 31.6h0M12.8 25.4h0M18.0 28.4h0M13.0 38.8h0M3.7 30.9h0M31.8 23.1h0M38.0 37.3h0M3.5 12.5h0M12.0 9.2h0M8.2 24.3h0M15.5 30.1h0M18.0 27.1h0M20.6 1.4h0M3.2 26.9h0M5.4 30.8h0M11.1 29.5h0M19.7 16.3h0M35.5 25.2h0M40.0 8.1h0M-0.0 8.1h0M14.0 10.5h0M11.6 21.1h0M23.5 13.1h0M31.0 21.8h0M18.5 16.5h0M10.8 18.2h0M0.3 28.1h0M40.3 28.1h0M23.8 35.3h0M32.8 29.5h0M7.1 26.7h0M2.0 34.6h0M2.4 3.0h0M19.1 15.9h0M20.4 23.8h0M8.9 26.1h0M25.7 23.9h0M24.4 12.4h0M37.9 36.4h0M25.0 26.4h0M33.2 18.9h0M3.9 13.3h0M5.7 4.1h0M24.0 11.7h0M1.8 28.5h0M38.5 23.3h0M11.4 28.5h0M18.5 35.2h0M4.6 22.6h0M12.6 13.4h0M38.1 11.4h0M38.8 27.3h0M16.6 24.4h0M29.3 17.7h0M28.3 31.2h0M34.2 29.9h0M32.0 37.7h0M35.9 9.3h0M14.3 15.4h0M5.4 1.3h0M27.4 15.9h0M32.3 6.1h0M13.0 27.0h0M33.6 21.0h0M25.4 33.0h0M12.9 1.1h0M13.6 27.0h0M27.9 9.9h0M36.5 22.2h0M37.0 31.8h0M13.0 9.4h0M11.5 34.0h0M35.0 34.8h0" stroke="#21918c" stroke-width="1.0" stroke-linecap="round" stroke-opacity="0.65" fill="none"/><path d="M15.7 2.4h0M1.8 4.4h0M27.3 15.8h0M17.5 10.8h0M37.0 23.8h0M22.0 11.4h0M36.4 20.4h0M38.9 0.9h0M38.9 40.9h0M6.7 14.5h0M5.7 25.6h0M13.3 29.7h0M25.5 5.9h0M28.6 8.8h0M11.0 3.7h0M20.4 13.1h0M6.4 27.3h0M17.6 25.8h0M1.5 22.1h0M10.2 13.5h0M14.2 8.3h0M32.9 21.6h0M13.1 34.0h0M20.4 13.0h0M3.8 35.6h0M34.7 5.9h0M28.0 0.2h0M28.0 40.2h0M7.4 3.3h0M13.1 5.1h0M39.8 22.9h0M-0.2 22.9h0M13.1 7.0h0M0.8 16.9h0M40.8 16.9h0M25.0 15.0h0M9.3 30.6h0M37.4 32.6h0M31.9 27.4h0M5.6 22.1h0M12.7 17.1h0M12.6 3.0h0M21.3 0.6h0M21.3 40.6h0M2.4 30.5h0M27.4 17.5h0M11.4 35.9h0M7.8 6.0h0M15.9 36.7h0M6.6 14.9h0M19.6 37.9h0M35.2 0.6h0M35.2 40.6h0M30.4 2.2h0M38.9 2.8h0M12.7 1.8h0M21.2 23.7h0M35.9 1.4h0M4.5 17.3h0M9.8 36.7h0M15.4 39.4h0M15.4 -0.6h0M13.5 22.1h0M38.6 28.0h0M1.5 5.9h0M29.5 29.8h0M29.8 36.3h0M1.7 24.3h0M6.6 17.8h0M35.2 2.0h0M28.0 18.7h0M36.0 16.0h0M31.7 2.8h0M17.8 24.4h0M20.3 26.3h0M2.7 11.0h0M19.7 5.7h0M31.2 6.5h0M12.4 7.4h0M31.5 1.9h0M2.6 5.2h0M11.4 18.9h0M1.3 39.0h0M30.2 21.9h0M37.9 26.0h0M3.1 23.4h0M8.1 14.6h0M20.3 15.7h0M2.7 2.2h0M24.9 20.7h0M39.3 38.7h0M-0.7 38.7h0M18.8 17.7h0M1.5 6.3h0M36.5 25.1h0M3.5 27.6h0M17.0 12.5h0M2.5 7.3h0M24.0 29.1h0M25.5 17.3h0M35.2 5.7h0M39.1 30.2h0M-0.9 30.2h0M31.5 1.8h0M38.7 31.5h0M15.7 15.1h0M19.1 28.0h0M39.9 33.6h0M-0.1 33.6h0M27.5 18.5h0M32.6 23.9h0M16.4 3.6h0M10.8 0.4h0M10.8 40.4h0M30.3 17.3h0M37.5 28.0h0M7.3 9.5h0M10.2 36.5h0M36.7 10.5h0M21.8 0.4h0M21.8 40.4h0M15.0 13.6h0M14.3 19.2h0M20.6 21.5h0M6.4 39.1h0M6.4 -0.9h0M37.0 18.8h0M33.2 18.0h0M29.4 38.7h0M21.5 4.7h0M38.2 27.9h0M8.7 22.6h0M8.3 19.5h0M12.4 27.5h0M6.8 21.4h0M11.5 10.8h0M36.8 18.6h0M8.8 32.6h0M22.3 38.1h0M19.7 30.1h0M13.1 18.2h0M13.3 24.3h0M31.0 3.9h0M11.8 36.6h0M22.2 31.6h0M38.6 12.3h0M18.2 22.9h0M29.3 27.1h0M0.8 3.0h0M40.8 3.0h0M32.0 17.0h0M1.6 15.8h0M36.0 21.9h0M30.7 26.0h0M15.6 35.8h0M36.1 9.5h0M37.0 15.5h0M12.8 9.7h0M20.3 1.9h0M26.6 24.5h0M30.3 7.1h0M7.7 4.2h0M31.3 1.9h0M11.2 19.8h0M16.6 19.9h0M23.6 8.7h0M14.2 21.0h0M3.6 17.4h0M14.3 29.0h0M12.0 29.6h0M25.1 1.4h0M28.7 17.7h0M15.0 26.8h0" stroke="#d8e23a" stroke-width="1.0" stroke-linecap="round" stroke-opacity="0.65" fill="none"/></pattern></defs>
<defs><clipPath id="cjl"><path d="M194.9,564.2 C196.1,559.6 199.5,558.1 201.8,555.0 C204.1,551.9 206.1,548.5 208.8,545.8 C211.5,543.1 214.6,540.5 218.0,538.8 C221.4,537.1 226.0,536.2 229.5,535.4 C233.0,534.6 235.3,534.2 238.8,534.2 C242.3,534.2 246.1,534.8 250.3,535.4 C254.5,536.0 260.0,537.7 264.2,537.7 C268.4,537.7 271.9,535.4 275.7,535.4 C279.5,535.4 283.7,536.7 287.2,537.7 C290.7,538.7 294.8,539.1 296.5,541.2 C298.2,543.3 297.8,547.3 297.6,550.4 C297.4,553.5 295.5,556.1 295.3,559.6 C295.1,563.1 295.9,567.0 296.5,571.2 C297.1,575.4 298.6,580.0 298.8,585.0 C299.0,590.0 298.2,595.8 297.6,601.2 C297.0,606.6 296.7,613.5 295.3,617.3 C293.9,621.1 292.8,622.7 289.5,624.2 C286.2,625.7 280.3,626.5 275.7,626.5 C271.1,626.5 264.9,625.7 261.8,624.2 C258.7,622.7 258.7,620.4 257.2,617.3 C255.7,614.2 254.1,609.6 252.6,605.8 C251.1,601.9 249.5,598.1 248.0,594.2 C246.5,590.4 245.3,586.2 243.4,582.7 C241.5,579.2 238.8,575.4 236.5,573.5 C234.2,571.6 231.8,571.2 229.5,571.2 C227.2,571.2 224.1,571.2 222.6,573.5 C221.1,575.8 221.5,581.9 220.3,585.0 C219.2,588.1 218.4,590.4 215.7,591.9 C213.0,593.4 206.9,592.3 204.2,594.2 C201.5,596.1 201.1,602.0 199.5,603.5 C197.9,605.0 196.1,605.0 194.9,603.5 C193.8,602.0 192.6,597.7 192.6,594.2 C192.6,590.7 194.5,587.7 194.9,582.7 C195.3,577.7 193.8,568.8 194.9,564.2Z"/></clipPath></defs>
<defs><clipPath id="cjr"><path d="M318.5,567.3 C319.6,562.7 322.3,558.5 324.8,554.6 C327.3,550.7 330.5,546.6 333.3,544.0 C336.1,541.4 338.5,540.2 341.7,538.8 C344.9,537.4 349.1,536.3 352.3,535.6 C355.5,534.9 357.3,534.5 360.8,534.5 C364.3,534.5 369.6,535.2 373.5,535.6 C377.4,536.0 379.8,536.4 384.0,536.6 C388.2,536.8 394.3,536.4 398.9,536.6 C403.5,536.8 408.7,536.8 411.5,537.7 C414.3,538.6 414.9,539.1 415.8,541.9 C416.7,544.7 416.6,549.3 416.8,554.6 C417.0,559.9 417.0,567.4 416.8,573.7 C416.6,580.1 416.3,587.1 415.8,592.7 C415.3,598.3 414.8,603.3 413.7,607.5 C412.6,611.7 411.5,615.6 409.4,618.1 C407.3,620.6 404.2,621.9 401.0,622.3 C397.8,622.6 393.6,621.6 390.4,620.2 C387.2,618.8 384.4,617.1 381.9,613.9 C379.4,610.7 377.4,605.1 375.6,601.2 C373.8,597.3 372.7,593.8 371.3,590.6 C369.9,587.4 368.9,584.9 367.1,582.1 C365.4,579.3 363.3,576.5 360.8,573.7 C358.3,570.9 355.1,567.0 352.3,565.2 C349.5,563.4 346.3,562.8 343.8,563.1 C341.3,563.5 338.9,564.8 337.5,567.3 C336.1,569.8 336.4,574.4 335.4,577.9 C334.3,581.4 332.6,585.3 331.2,588.5 C329.8,591.7 328.3,594.1 326.9,596.9 C325.5,599.7 324.1,604.3 322.7,605.4 C321.3,606.5 319.6,605.1 318.5,603.3 C317.4,601.5 316.3,598.3 316.3,594.8 C316.3,591.3 318.1,586.7 318.5,582.1 C318.9,577.5 317.4,571.9 318.5,567.3Z"/></clipPath></defs>
<path d="M194.9,564.2 C196.1,559.6 199.5,558.1 201.8,555.0 C204.1,551.9 206.1,548.5 208.8,545.8 C211.5,543.1 214.6,540.5 218.0,538.8 C221.4,537.1 226.0,536.2 229.5,535.4 C233.0,534.6 235.3,534.2 238.8,534.2 C242.3,534.2 246.1,534.8 250.3,535.4 C254.5,536.0 260.0,537.7 264.2,537.7 C268.4,537.7 271.9,535.4 275.7,535.4 C279.5,535.4 283.7,536.7 287.2,537.7 C290.7,538.7 294.8,539.1 296.5,541.2 C298.2,543.3 297.8,547.3 297.6,550.4 C297.4,553.5 295.5,556.1 295.3,559.6 C295.1,563.1 295.9,567.0 296.5,571.2 C297.1,575.4 298.6,580.0 298.8,585.0 C299.0,590.0 298.2,595.8 297.6,601.2 C297.0,606.6 296.7,613.5 295.3,617.3 C293.9,621.1 292.8,622.7 289.5,624.2 C286.2,625.7 280.3,626.5 275.7,626.5 C271.1,626.5 264.9,625.7 261.8,624.2 C258.7,622.7 258.7,620.4 257.2,617.3 C255.7,614.2 254.1,609.6 252.6,605.8 C251.1,601.9 249.5,598.1 248.0,594.2 C246.5,590.4 245.3,586.2 243.4,582.7 C241.5,579.2 238.8,575.4 236.5,573.5 C234.2,571.6 231.8,571.2 229.5,571.2 C227.2,571.2 224.1,571.2 222.6,573.5 C221.1,575.8 221.5,581.9 220.3,585.0 C219.2,588.1 218.4,590.4 215.7,591.9 C213.0,593.4 206.9,592.3 204.2,594.2 C201.5,596.1 201.1,602.0 199.5,603.5 C197.9,605.0 196.1,605.0 194.9,603.5 C193.8,602.0 192.6,597.7 192.6,594.2 C192.6,590.7 194.5,587.7 194.9,582.7 C195.3,577.7 193.8,568.8 194.9,564.2Z" fill="#98ccc0" fill-opacity="0.6" filter="url(#bl1)"/>
<defs><radialGradient id="jg1" cx="284" cy="612" r="34" gradientUnits="userSpaceOnUse"><stop offset="0" stop-color="#2a6a8a" stop-opacity="0.6"/><stop offset="0.6" stop-color="#2a7a8e" stop-opacity="0.3"/><stop offset="1" stop-color="#2a7a8e" stop-opacity="0"/></radialGradient><radialGradient id="jg2" cx="292" cy="546" r="14" gradientUnits="userSpaceOnUse"><stop offset="0" stop-color="#2a7a8e" stop-opacity="0.5"/><stop offset="1" stop-color="#2a7a8e" stop-opacity="0"/></radialGradient><radialGradient id="jg3" cx="240" cy="566" r="20" gradientUnits="userSpaceOnUse"><stop offset="0" stop-color="#9ad070" stop-opacity="0.45"/><stop offset="1" stop-color="#9ad070" stop-opacity="0"/></radialGradient><radialGradient id="jg4" cx="375" cy="575" r="28" gradientUnits="userSpaceOnUse"><stop offset="0" stop-color="#d8e040" stop-opacity="0.35"/><stop offset="1" stop-color="#d8e040" stop-opacity="0"/></radialGradient></defs>
<g clip-path="url(#cjl)"><path d="M194.9,564.2 C196.1,559.6 199.5,558.1 201.8,555.0 C204.1,551.9 206.1,548.5 208.8,545.8 C211.5,543.1 214.6,540.5 218.0,538.8 C221.4,537.1 226.0,536.2 229.5,535.4 C233.0,534.6 235.3,534.2 238.8,534.2 C242.3,534.2 246.1,534.8 250.3,535.4 C254.5,536.0 260.0,537.7 264.2,537.7 C268.4,537.7 271.9,535.4 275.7,535.4 C279.5,535.4 283.7,536.7 287.2,537.7 C290.7,538.7 294.8,539.1 296.5,541.2 C298.2,543.3 297.8,547.3 297.6,550.4 C297.4,553.5 295.5,556.1 295.3,559.6 C295.1,563.1 295.9,567.0 296.5,571.2 C297.1,575.4 298.6,580.0 298.8,585.0 C299.0,590.0 298.2,595.8 297.6,601.2 C297.0,606.6 296.7,613.5 295.3,617.3 C293.9,621.1 292.8,622.7 289.5,624.2 C286.2,625.7 280.3,626.5 275.7,626.5 C271.1,626.5 264.9,625.7 261.8,624.2 C258.7,622.7 258.7,620.4 257.2,617.3 C255.7,614.2 254.1,609.6 252.6,605.8 C251.1,601.9 249.5,598.1 248.0,594.2 C246.5,590.4 245.3,586.2 243.4,582.7 C241.5,579.2 238.8,575.4 236.5,573.5 C234.2,571.6 231.8,571.2 229.5,571.2 C227.2,571.2 224.1,571.2 222.6,573.5 C221.1,575.8 221.5,581.9 220.3,585.0 C219.2,588.1 218.4,590.4 215.7,591.9 C213.0,593.4 206.9,592.3 204.2,594.2 C201.5,596.1 201.1,602.0 199.5,603.5 C197.9,605.0 196.1,605.0 194.9,603.5 C193.8,602.0 192.6,597.7 192.6,594.2 C192.6,590.7 194.5,587.7 194.9,582.7 C195.3,577.7 193.8,568.8 194.9,564.2Z" fill="url(#pjl)"/><rect x="190" y="530" width="115" height="100" fill="url(#jg1)"/><rect x="190" y="530" width="115" height="100" fill="url(#jg2)"/><rect x="190" y="530" width="115" height="100" fill="url(#jg3)"/></g>
<path d="M318.5,567.3 C319.6,562.7 322.3,558.5 324.8,554.6 C327.3,550.7 330.5,546.6 333.3,544.0 C336.1,541.4 338.5,540.2 341.7,538.8 C344.9,537.4 349.1,536.3 352.3,535.6 C355.5,534.9 357.3,534.5 360.8,534.5 C364.3,534.5 369.6,535.2 373.5,535.6 C377.4,536.0 379.8,536.4 384.0,536.6 C388.2,536.8 394.3,536.4 398.9,536.6 C403.5,536.8 408.7,536.8 411.5,537.7 C414.3,538.6 414.9,539.1 415.8,541.9 C416.7,544.7 416.6,549.3 416.8,554.6 C417.0,559.9 417.0,567.4 416.8,573.7 C416.6,580.1 416.3,587.1 415.8,592.7 C415.3,598.3 414.8,603.3 413.7,607.5 C412.6,611.7 411.5,615.6 409.4,618.1 C407.3,620.6 404.2,621.9 401.0,622.3 C397.8,622.6 393.6,621.6 390.4,620.2 C387.2,618.8 384.4,617.1 381.9,613.9 C379.4,610.7 377.4,605.1 375.6,601.2 C373.8,597.3 372.7,593.8 371.3,590.6 C369.9,587.4 368.9,584.9 367.1,582.1 C365.4,579.3 363.3,576.5 360.8,573.7 C358.3,570.9 355.1,567.0 352.3,565.2 C349.5,563.4 346.3,562.8 343.8,563.1 C341.3,563.5 338.9,564.8 337.5,567.3 C336.1,569.8 336.4,574.4 335.4,577.9 C334.3,581.4 332.6,585.3 331.2,588.5 C329.8,591.7 328.3,594.1 326.9,596.9 C325.5,599.7 324.1,604.3 322.7,605.4 C321.3,606.5 319.6,605.1 318.5,603.3 C317.4,601.5 316.3,598.3 316.3,594.8 C316.3,591.3 318.1,586.7 318.5,582.1 C318.9,577.5 317.4,571.9 318.5,567.3Z" fill="#dcf0bc" fill-opacity="0.5" filter="url(#bl1)"/>
<circle cx="320.8" cy="605" r="1.1" fill="#3a2a3a"/>
<g clip-path="url(#cjr)"><path d="M318.5,567.3 C319.6,562.7 322.3,558.5 324.8,554.6 C327.3,550.7 330.5,546.6 333.3,544.0 C336.1,541.4 338.5,540.2 341.7,538.8 C344.9,537.4 349.1,536.3 352.3,535.6 C355.5,534.9 357.3,534.5 360.8,534.5 C364.3,534.5 369.6,535.2 373.5,535.6 C377.4,536.0 379.8,536.4 384.0,536.6 C388.2,536.8 394.3,536.4 398.9,536.6 C403.5,536.8 408.7,536.8 411.5,537.7 C414.3,538.6 414.9,539.1 415.8,541.9 C416.7,544.7 416.6,549.3 416.8,554.6 C417.0,559.9 417.0,567.4 416.8,573.7 C416.6,580.1 416.3,587.1 415.8,592.7 C415.3,598.3 414.8,603.3 413.7,607.5 C412.6,611.7 411.5,615.6 409.4,618.1 C407.3,620.6 404.2,621.9 401.0,622.3 C397.8,622.6 393.6,621.6 390.4,620.2 C387.2,618.8 384.4,617.1 381.9,613.9 C379.4,610.7 377.4,605.1 375.6,601.2 C373.8,597.3 372.7,593.8 371.3,590.6 C369.9,587.4 368.9,584.9 367.1,582.1 C365.4,579.3 363.3,576.5 360.8,573.7 C358.3,570.9 355.1,567.0 352.3,565.2 C349.5,563.4 346.3,562.8 343.8,563.1 C341.3,563.5 338.9,564.8 337.5,567.3 C336.1,569.8 336.4,574.4 335.4,577.9 C334.3,581.4 332.6,585.3 331.2,588.5 C329.8,591.7 328.3,594.1 326.9,596.9 C325.5,599.7 324.1,604.3 322.7,605.4 C321.3,606.5 319.6,605.1 318.5,603.3 C317.4,601.5 316.3,598.3 316.3,594.8 C316.3,591.3 318.1,586.7 318.5,582.1 C318.9,577.5 317.4,571.9 318.5,567.3Z" fill="url(#pjr)"/><rect x="310" y="530" width="110" height="95" fill="url(#jg4)"/></g>
<text x="461.1" y="530.6" font-size="5.8" fill="#333" text-anchor="middle" font-weight="normal" font-style="normal"  stroke="#333" stroke-width="0.14">Per Cell Average</text>
<text x="461.1" y="537.6" font-size="5.8" fill="#333" text-anchor="middle" font-weight="normal" font-style="normal"  stroke="#333" stroke-width="0.14">Gene Expression</text>
<rect x="448" y="558" width="26.6" height="14.3" fill="#fde725"/>
<rect x="448" y="572" width="26.6" height="4.1" fill="#b5de2b"/>
<rect x="448" y="575.8" width="26.6" height="4.5" fill="#35b779"/>
<rect x="448" y="580" width="26.6" height="4.3" fill="#1f9e89"/>
<rect x="448" y="584" width="26.6" height="4.3" fill="#26828e"/>
<rect x="448" y="588" width="26.6" height="4.3" fill="#31688e"/>
<rect x="448" y="592" width="26.6" height="4.3" fill="#3e4989"/>
<rect x="448" y="596" width="26.6" height="4.3" fill="#46247a"/>
<path d="M446.5,558 V600 M443.8,558 H446.5 M443.8,579.6 H446.5 M443.8,600 H446.5" stroke="#555" stroke-width="1.2" fill="none"/>
<text x="440.5" y="560.2" font-size="6.2" fill="#333" text-anchor="end" font-weight="normal" font-style="normal"  stroke="#333" stroke-width="0.14">1.2</text>
<text x="440.5" y="581.8000000000001" font-size="6.2" fill="#333" text-anchor="end" font-weight="normal" font-style="normal"  stroke="#333" stroke-width="0.14">0.6</text>
<text x="440.5" y="602.2" font-size="6.2" fill="#333" text-anchor="end" font-weight="normal" font-style="normal"  stroke="#333" stroke-width="0.14">0.0</text>
</svg>
</body></html>
